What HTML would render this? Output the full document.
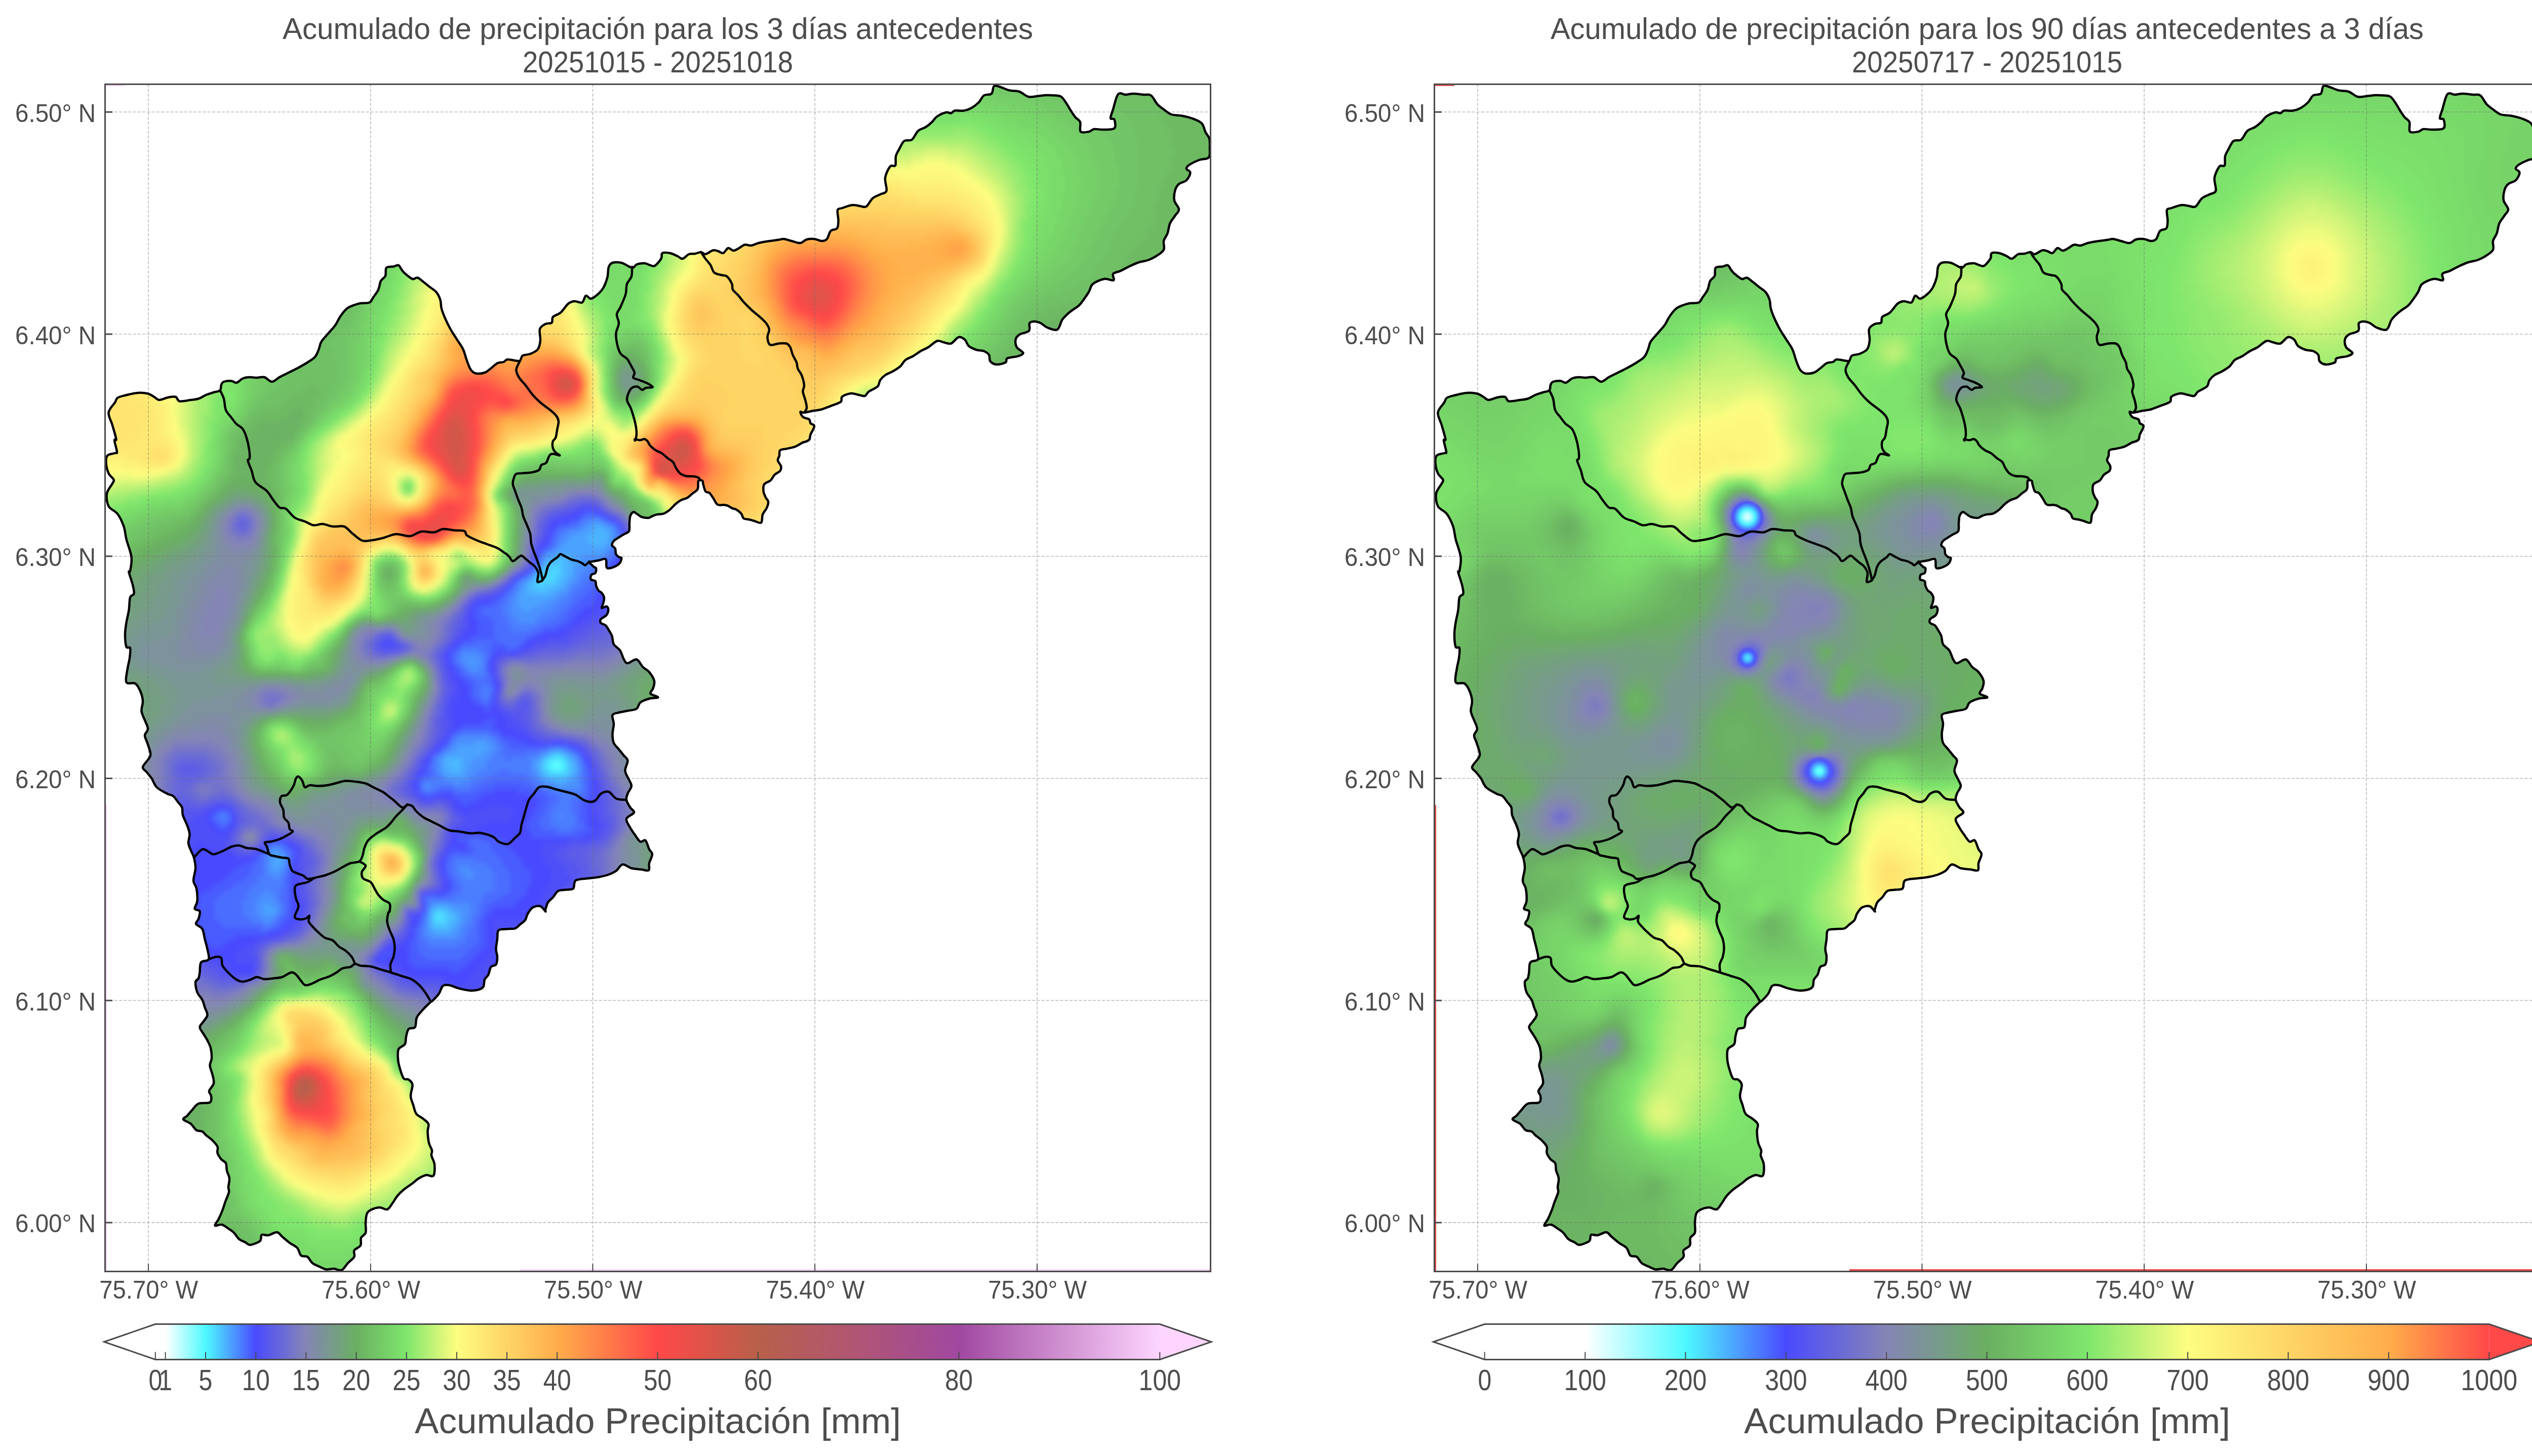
<!DOCTYPE html><html><head><meta charset="utf-8"><title>Precipitacion</title><style>html,body{margin:0;padding:0;background:#fff}svg{display:block}text{font-family:"Liberation Sans",sans-serif;fill:#4d4d4d}</style></head><body>
<svg width="5044" height="2876" viewBox="0 0 5044 2876">
<defs>
<path id="po" d="M257 1128C257.8 1123 260.8 1110.5 259.5 1100S252 1075 249.5 1065S247.4 1048.3 244.5 1040S237 1021.7 232 1015S218 1006.7 214.5 1000S209.8 982.5 211 975S219.8 959.6 222 955S225.8 950.8 224.5 947.5S217 940.4 214.5 935S209.9 920.8 209.5 915S209.1 903.3 212 900S223.8 896.2 227 895S231.2 896.7 231 892.5S226.2 874.2 226 870S230.2 872.5 229.5 867.5S224.5 848.8 222 840S213.7 822.5 214.5 815S224.1 799.8 227 795S228.7 788.3 232 786S240.3 782.7 247 781S264.5 776.6 272 776S286.6 776.2 292 777.5S300.8 781.9 304.5 784S309.9 789.8 314.5 790S326.6 786 332 785S343.2 782.8 347 784S349.5 791.5 354.5 792.5S370.8 790.8 377 790S387 789.2 392 787.5S402 782.1 407 780S417.4 776.5 422 775S432 773.5 434.5 771S435.8 762.8 437 760S438.7 755.2 442 754S452.8 752.2 457 752.5S463.2 756.8 467 756S475.3 749.3 479.5 747.5S487.4 745.2 492 745S502 746 507 746S517 743.7 522 745S532 754 537 754S547 747.8 552 745S561.2 740.4 567 737.5S580.3 731.1 587 727.5S601.2 719.8 607 716S618.2 709.3 622 705S627.4 695 629.5 690S631.6 680 634.5 675S642.4 665.4 647 660S657.8 648.3 662 642.5S668.2 630.4 672 625S679.9 613.8 684.5 610S694.9 604.3 699.5 602.5S707 599.8 712 599S725.3 599.4 729.5 597.5S734.1 591.7 737 587.5S744.5 577.9 747 572.5S749.7 559.6 752 555S759.2 549.3 761 545S760.3 532.1 763 529S773 527.3 777 526.5S784.3 523 787 524S790.9 529.8 793 532.5S795.9 536.9 799.5 540S810.3 549.6 814.5 551S820.8 547.4 824.5 548.5S832.8 554.3 837 557.5S845.3 564.2 849.5 567.5S858.7 573.3 862 577.5S867.8 587.1 869.5 592.5S870.3 603.8 872 610S876.6 623.3 879.5 630S885.8 643.3 889.5 650S897.8 663.3 902 670S911.2 682.9 914.5 690S919.5 705.8 922 712.5S926.6 725.8 929.5 730S934.9 736.5 939.5 737.5S952 737.7 957 736S965.3 730.6 969.5 727.5S977.8 719.6 982 717.5S991.2 716.2 994.5 715S997.8 710.4 1002 710S1015.3 712.1 1019.5 712.5S1024.9 714.2 1027 712.5S1028.7 704.8 1032 702.5S1042 701.1 1047 699S1058.7 694.4 1062 690S1066.3 679.2 1067 672.5S1064.3 655.4 1066 650S1073.1 642.1 1077 640S1087 639.8 1089.5 637.5S1089.1 629.3 1092 626S1102 621.8 1107 617.5S1117.4 603.8 1122 600S1129.9 595.4 1134.5 595S1145.8 599.3 1149.5 597.5S1154.1 585.2 1157 584S1162.8 590.7 1167 590S1177.8 583.8 1182 580S1189.1 572.9 1192 567.5S1197.8 554.2 1199.5 547.5S1200.3 532.2 1202 527.5S1205.3 520.4 1209.5 519S1222 518 1227 519S1235.8 523.3 1239.5 525S1246.4 529.5 1249.5 529S1254.1 523.5 1258 522S1268.8 519.8 1273 520S1279.7 522.7 1283 523.5S1289.2 527.1 1293 525S1303 515.2 1305.5 511S1305.1 501.8 1308 500S1318 499 1323 500S1333.8 504.2 1338 506S1344.2 511.7 1348 511S1356.3 503.7 1360.5 502S1369 501.7 1373 501S1381.2 497.8 1384.5 498S1389.1 502.6 1393 502S1403.8 495.5 1408 494.5S1414.7 495.1 1418 496S1424.7 501 1428 500S1434.7 490.8 1438 490S1444.7 494.8 1448 495S1454.2 492.9 1458 491S1466.3 484.5 1470.5 483.5S1478.4 485.6 1483 485S1493 481.3 1498 480S1508 477.8 1513 477S1523.8 475.6 1528 475S1534.7 474 1538 473.5S1543.8 471.6 1548 472S1557.6 474.7 1563 476S1575.5 480.5 1580.5 480S1588.4 474.3 1593 473S1603 471.5 1608 472S1618.8 476 1623 476S1630.1 475.3 1633 472S1637.2 459.5 1640.5 456S1650.5 454.3 1653 451S1655.3 442 1655.5 436S1652.8 419.2 1654 415S1658.2 412.7 1663 411S1677.2 405.7 1683 405S1693.4 406.5 1698 407S1706.3 410.5 1710.5 408S1718.4 396 1723 392S1733.4 386.5 1738 384S1748.8 382.5 1750.5 377S1746.8 359.1 1748 351S1754.7 332.5 1758 328.5S1766.2 330.3 1768 327S1767.8 313.8 1769 308.5S1772.8 300 1775.5 295S1781.3 281.7 1785.5 278.5S1795.9 279.3 1800.5 276S1808.4 262.7 1813 258.5S1823.4 253.9 1828 251S1836.8 244.5 1840.5 241S1845.9 233.2 1850.5 230S1863.4 223.1 1868 222S1875.1 224.1 1878 223.5S1881.3 219.3 1885.5 218.5S1897.6 219.3 1903 218.5S1913 216.2 1918 213.5S1928.8 206.2 1933 202S1938.8 191.3 1943 188.5S1954.7 188.1 1958 185S1960.1 172.2 1963 170S1970.5 170.6 1975.5 172S1986.8 177 1993 178.5S2006.8 178.9 2013 181S2024.7 189.5 2030.5 191S2042.2 190.5 2048 190S2059.7 188.2 2065.5 188S2078 188 2083 188.5S2091.8 188.5 2095.5 191S2102.6 199.3 2105.5 203.5S2110.1 211.4 2113 216S2119.7 226.8 2123 231S2131.2 236.2 2133 241S2131.1 256.8 2134 260S2146.1 260.8 2150.5 260S2155.9 255.7 2160.5 255S2171.3 256.2 2178 256S2196.8 256.8 2200.5 253.5S2201.8 239.3 2200.5 236S2193.4 236.8 2193 233.5S2195.5 223.9 2198 216S2203.8 190.8 2208 186S2218 187.2 2223 187S2232.2 185 2238 185S2252.2 186.4 2258 187S2268.4 185.3 2273 188.5S2281.3 201.4 2285.5 206S2293.4 212.7 2298 216S2307.2 223.9 2313 226S2326.3 227.2 2333 228.5S2346.3 231 2353 233.5S2368.4 238.9 2373 243.5S2378 256 2380.5 261S2386.6 268.5 2388 273.5S2389.2 284.8 2389 291S2390.5 306.8 2387 311S2374.5 313.5 2368 316S2352.2 323.1 2348 326S2342.6 331 2343 333.5S2350.5 337.2 2350.5 341S2346.8 352.2 2343 356S2331.8 360.2 2328 363.5S2322 370.6 2320.5 376S2317.8 389.8 2319 396S2327.8 408.5 2328 413.5S2323.4 421.4 2320.5 426S2313 435.2 2310.5 441S2307.6 455.2 2305.5 461S2299.2 470.6 2298 476S2300.5 488.5 2298 493.5S2288 502.7 2283 506S2273.8 511.4 2268 513.5S2254.2 516.4 2248 518.5S2236.3 523.2 2230.5 526S2218.4 532.5 2213 535S2200.3 537.9 2198 541S2201.9 551.8 2199 553.5S2187.3 549.8 2180.5 551S2163 556.8 2158 561S2153.4 571 2150.5 576S2143.8 586.4 2140.5 591S2135.1 599.3 2130.5 603.5S2118.4 611.4 2113 616S2102.2 625.2 2098 631S2093 648.3 2088 651S2073.4 649.1 2068 647S2059.7 640.5 2055.5 638.5S2046.8 635 2043 635S2034.8 635.4 2033 638.5S2035.3 649.8 2032 653.5S2017.4 658.1 2013 661S2006.3 666.8 2005.5 671S2005.5 681.7 2008 686S2020.1 694.1 2020.5 697S2014.7 702 2010.5 703.5S1999.2 705.2 1995.5 706S1989.7 706.8 1988 708.5S1988.8 714.1 1985.5 716S1973 720.4 1968 720S1958 716.7 1955.5 713.5S1955.1 704.3 1953 701S1947.2 695.2 1943 693.5S1933 692.7 1928 691S1916.8 686.8 1913 683.5S1908.8 673.9 1905.5 671S1897.6 664.8 1893 666S1883 676.8 1878 678.5S1867.6 676.8 1863 676S1855.5 671.8 1850.5 673.5S1838.4 682.7 1833 686S1823 690.6 1818 693.5S1808 700.6 1803 703.5S1792.2 707.7 1788 711S1782.2 719.8 1778 723.5S1768 730.6 1763 733.5S1752.2 738.1 1748 741S1740.5 747.2 1738 751S1736.8 759.8 1733 763.5S1719.7 770.4 1715.5 773.5S1711.3 780.9 1708 782S1700.1 780.8 1695.5 780S1685.9 776.4 1680.5 777S1666.3 780.8 1663 783.5S1663.8 790.6 1660.5 793.5S1649.2 798.5 1643 801S1628.8 806.8 1623 808.5S1613.8 809.9 1608 811S1592.6 814.6 1588 815S1580.9 812.1 1580.5 813.5S1582.6 821 1585.5 823.5S1595.5 826.4 1598 828.5S1598.8 833.8 1600.5 836S1608 838.2 1608 842S1602.2 854.1 1600.5 858.5S1600.1 866 1598 868.5S1590 872.6 1588 873.5S1588.9 872.2 1586 873.6S1575.5 880 1570.3 882.1S1559.6 884.9 1554.7 886.1S1543.2 886.9 1540.6 889.3S1539.8 896.8 1539 900.2S1535.3 906.2 1535.9 909.6S1541.3 917.2 1542.1 920.6S1542.7 927.1 1540.6 930S1532.7 934.7 1529.6 937.8S1525.2 945.7 1521.8 948.8S1511.6 953 1509.2 956.6S1507.2 966.3 1507.7 970.7S1510.8 979.8 1512.4 983.2S1516.8 987.7 1517.1 991.1S1515.8 999.4 1513.9 1003.6S1507.9 1011.3 1506.1 1016.1S1505.8 1030.3 1503 1032.4S1492.8 1029.7 1488.9 1028.7S1482.9 1026.9 1479.5 1026.2S1471.1 1025.9 1468.5 1024S1466.2 1017.4 1463.8 1014.6S1457.6 1008.6 1454.4 1006.7S1447.9 1004.9 1445 1003.6S1439.8 999.9 1437.2 998.9S1432.8 997.7 1429.4 997.3S1420.2 998.8 1416.8 996.7S1411.6 988.6 1409 984.8S1403.8 976.2 1401.2 973.8S1395.4 973.6 1393.3 970.7S1389.7 960.1 1388.6 956.6S1388.6 950.9 1387.1 949.7S1380.8 947 1379.2 949.7S1379.8 961.7 1377.7 966S1370.1 972.5 1366.7 975.4S1361 981.2 1357.3 983.2S1348.7 985.9 1344.8 987.9S1337.5 992.6 1333.8 995.8S1326.8 1003.6 1322.9 1006.7S1314.5 1013 1310.3 1014.6S1301.5 1015.3 1297.8 1016.1S1291.3 1018.1 1288.4 1019.3S1284.2 1022.8 1280.6 1023S1270.4 1022.2 1266.5 1020.8S1259.7 1016.1 1257.1 1014.6S1252.9 1010.6 1250.8 1011.4S1245.9 1015.6 1244.6 1019.3S1243.4 1028.4 1243 1033.4S1243.9 1045.4 1242.1 1049S1235.8 1052.9 1232 1055.3S1222.9 1060.9 1219.5 1063.1S1213.5 1066.4 1211.7 1068.8S1208 1074.8 1208.5 1077.2S1213.5 1080.6 1214.8 1083.5S1215.1 1091.6 1216.4 1094.4S1220.8 1099.4 1222.6 1100.7S1227.1 1100.4 1227.3 1102.3S1226 1109.1 1224.2 1111.7S1220 1116.1 1216.4 1117.9S1205.4 1122.4 1202.3 1122.6S1198.6 1122.5 1197.6 1119.5S1198.6 1106.6 1196 1104.5S1186.6 1106.1 1181.9 1107S1170.9 1109 1167.8 1109.5S1162.3 1108.4 1163.1 1110.1S1170.2 1117.4 1172.5 1119.5S1176.7 1120.5 1177.2 1122.6S1177.2 1129.9 1175.6 1132S1169.3 1133.1 1167.8 1135.2S1165.6 1142.5 1166.9 1144.6S1173.9 1145.6 1175.6 1147.7S1176.2 1154 1177.2 1157.1S1180.1 1164.1 1181.9 1166.5S1186.3 1168.8 1188.2 1171.2S1192.4 1177.2 1192.9 1180.6S1192.1 1188.1 1191.3 1191.5S1187.1 1199.9 1188.2 1200.9S1195.4 1197.3 1197.6 1197.8S1201.3 1201.2 1201.3 1204.1S1200 1211.9 1197.6 1215S1188.4 1220.3 1186.6 1222.9S1185 1228.6 1186.6 1230.7S1193.4 1233 1196 1235.4S1200.2 1241.3 1202.3 1244.8S1206.9 1251.5 1208.5 1256.1S1209.3 1267.7 1212 1272.5S1221.2 1280 1224.5 1285S1229.5 1298.3 1232 1302.5S1235.3 1310 1239.5 1310S1252 1301.2 1257 1302.5S1265.3 1313.3 1269.5 1317.5S1278.2 1322.9 1282 1327.5S1290.8 1339.6 1292 1345S1290.8 1355.8 1289.5 1360S1282.8 1367.1 1284.5 1370S1299.9 1375.8 1299.5 1377.5S1287.8 1378.3 1282 1380S1268.7 1384.2 1264.5 1387.5S1261.2 1397.2 1257 1400S1245.3 1402.8 1239.5 1404S1227 1406.1 1222 1407.5S1211.2 1408.8 1209.5 1412.5S1212 1423.8 1212 1430S1209.5 1443.8 1209.5 1450S1209.9 1462.5 1212 1467.5S1218.7 1475.8 1222 1480S1229.1 1488.8 1232 1492.5S1239.1 1497.5 1239.5 1502.5S1234.1 1516.2 1234.5 1522.5S1239.9 1535 1242 1540S1247.4 1547.9 1247 1552.5S1241.2 1562.9 1239.5 1567.5S1236.2 1575.4 1237 1580S1242 1590.8 1244.5 1595S1253.2 1601.2 1252 1605S1238.2 1612.5 1237 1617.5S1241.6 1629.6 1244.5 1635S1251.2 1645.4 1254.5 1650S1261.2 1660.8 1264.5 1662.5S1271.6 1657.5 1274.5 1660S1279.8 1672.9 1282 1677.5S1288 1682.9 1288 1687.5S1283.2 1699.8 1282 1705S1283.5 1716.9 1281 1719S1272.7 1718.2 1267 1717.5S1253.2 1716.7 1247 1715S1234.5 1706.7 1229.5 1707.5S1221.6 1716.7 1217 1720S1207.8 1725.4 1202 1727.5S1188.7 1731.2 1182 1732.5S1169.5 1733.9 1162 1735S1142 1735.7 1137 1739S1135.3 1751.9 1132 1755S1122 1756.7 1117 1757.5S1106.2 1757.5 1102 1760S1095.3 1768.8 1092 1772.5S1084.5 1778.3 1082 1782.5S1077.8 1794.6 1077 1797.5S1078.7 1801.2 1077 1800S1071.2 1791.2 1067 1790S1056.2 1790 1052 1792.5S1044.5 1800.8 1042 1805S1039.5 1814 1037 1817.5S1030.3 1823.2 1027 1826S1021.2 1832.5 1017 1834S1007.4 1834.4 1002 1835S987.8 1834.2 984.5 1837.5S982.8 1848.8 982 1855S979.5 1869.2 979.5 1875S982 1885 982 1890S981.6 1901.7 979.5 1905S972 1906.7 969.5 1910S966.6 1920.8 964.5 1925S958.7 1931 957 1935S956.6 1945.7 954.5 1949S949.1 1953.8 944.5 1955S933.2 1956.9 927 1956.5S913.7 1954.2 907 1952.5S892.4 1946.8 887 1946S877.8 1944.8 874.5 1947.5S870.3 1957.7 867 1962.5S857.4 1973.6 854.5 1976.5S852.8 1976.9 849.5 1980S838.9 1990 834.5 1995S825.5 2004.3 823 2010S822.2 2025.2 819.5 2029S809.9 2029.4 807 2032.5S803.2 2042.5 802 2047.5S802 2058.3 799.5 2062.5S789.2 2067.5 787 2072.5S785.6 2086.2 786 2092.5S787.7 2103.8 789.5 2110S794.1 2126.2 797 2130S804.1 2130.4 807 2132.5S813.8 2137.1 814.5 2142.5S810.8 2158.3 811 2165S814.2 2176.7 816 2182.5S818.9 2195.6 822 2200S830.5 2205.7 834.5 2209S844.3 2215.7 846 2220S844.3 2228.8 844.5 2235S845.6 2251.2 847 2257.5S852.2 2268.3 853 2272.5S851.2 2277.9 852 2282.5S857.3 2293.3 858 2300S858.7 2319 856 2322.5S846.8 2320.2 842 2321S831.6 2324.8 827 2327.5S819.5 2333.8 814.5 2337.5S802 2345.8 797 2350S788.2 2357.9 784.5 2362.5S777.8 2373.1 774.5 2377.5S768.7 2387.8 764.5 2389S754.9 2384.8 749.5 2385S736.2 2387.9 732 2390S726.2 2393.3 724.5 2397.5S722.4 2408.8 722 2415S723.5 2430 722 2435S714.7 2440.8 713 2445S714.2 2455.8 712 2460S701.6 2466.2 699.5 2470S701.6 2478.3 699.5 2482.5S691.2 2490.6 687 2495S679.1 2507.2 674.5 2509S664.5 2506.2 659.5 2506S649.1 2508.1 644.5 2507.5S636.6 2504.6 632 2502.5S621.2 2498.3 617 2495S610.8 2485 607 2482.5S597.8 2482.9 594.5 2480S590.8 2469.2 587 2465S577 2458.8 572 2455S561.2 2446 557 2442.5S551.6 2434.4 547 2434S534.5 2439.2 529.5 2440S519.5 2437.3 517 2439S516.2 2447.3 514.5 2450S510.6 2453.5 507 2455S496.8 2459.2 493 2459S488 2455.9 484.5 2454S475.8 2450.7 472 2447.5S465.3 2438.3 462 2435S456 2430.2 452 2427.5S442.6 2420.1 438 2419S425.5 2422.9 424.5 2421S429.5 2412.7 432 2407.5S437.4 2395.4 439.5 2390S442.4 2380.8 444.5 2375S450.9 2360 452 2355S450.8 2349.6 451 2345S453.5 2332.9 453 2327.5S449.2 2317.5 448 2312.5S447.8 2301.2 446 2297.5S439.8 2293.3 437 2290S430.8 2281.7 429.5 2277.5S431.2 2269.2 429.5 2265S423.2 2256.2 419.5 2252.5S410.3 2245.4 407 2242.5S402.7 2236.7 399.5 2235S391.8 2235 388 2232.5S381.3 2223.6 377 2220S363.2 2213.7 362 2211S366.6 2207.1 369.5 2204S375.8 2196.5 379.5 2192.5S386.2 2182.5 392 2180S410.3 2180 414.5 2177.5S417.2 2168.8 417 2165S412.2 2159.2 413 2155S420.9 2145.4 422 2140S420.8 2128.3 419.5 2122.5S414.8 2110.4 414.5 2105S417.8 2095.8 418 2090S417.4 2075.8 416 2070S411.8 2059.6 409.5 2055S404.5 2046.8 402 2042.5S394.5 2033.2 394.5 2029S399.5 2021.5 402 2017.5S409.1 2009.6 409.5 2005S406.2 1995 404.5 1990S402 1980 399.5 1975S391.8 1965.8 389.5 1960S385.6 1944.6 386 1940S390.6 1935.8 392 1932.5S393.7 1925.2 394.5 1920S394.1 1905.2 397 1901S409.9 1899.3 412 1895S410.8 1881.7 409.5 1875S406.2 1861.7 404.5 1855S402.4 1840 399.5 1835S388.2 1828.3 387 1825S390.8 1819.2 392 1815S395.8 1803.3 394.5 1800S385.3 1798.3 384.5 1795S388.9 1786.7 389.5 1780S389.2 1761.7 388 1755S382.3 1746.7 382 1740S385.8 1722.7 386 1715S384.5 1699.8 383 1694S378.8 1684.8 377 1680S372.4 1670.4 372 1665S374.9 1653.3 374.5 1647.5S371.8 1636.2 369.5 1630S362.7 1615.8 361 1610S361 1599.2 359.5 1595S354.9 1588.8 352 1585S345.8 1575.4 342 1572.5S334.9 1570.4 329.5 1567.5S314.5 1560 309.5 1555S302.8 1542.5 299.5 1537.5S292.4 1528.8 289.5 1525S281.2 1519.6 282 1515S292 1502.1 294.5 1497.5S297.6 1492.5 297 1487.5S292.8 1473.3 291 1467.5S285.8 1457.1 286 1452.5S291.8 1444.6 292 1440S289.1 1430.8 287 1425S280.3 1411.7 279.5 1405S282.4 1391.7 282 1385S279.5 1370.8 277 1365S271.6 1352.9 267 1350S252 1352.5 249.5 1347.5S250.9 1327.9 252 1320S255.2 1306.7 256 1300S258.1 1283.8 257 1280S251.2 1282.1 249.5 1277.5S247 1260.4 247 1252.5S248.2 1237.9 249.5 1230S253.2 1213.3 254.5 1205S255.3 1185.4 257 1180S263.7 1176.7 264.5 1172.5S263.7 1162.1 262 1155S255.3 1134.5 254.5 1130S256.2 1133 257 1128Z"/>
<path id="pi" d="M1248 527C1247.8 530.2 1248.7 540.3 1247 546S1239.9 555.2 1238 561S1237.6 573.5 1235.5 581S1228.4 599.3 1225.5 606S1218.6 615.6 1218 621S1222.2 632.2 1222 638.5S1217 651.4 1216.5 658.5S1217.5 674.3 1219 681S1222.3 693.9 1225.5 698.5S1234.7 704.8 1238 708.5S1243 716.4 1245.5 721S1252.2 731.8 1253 736S1248.8 743.5 1250.5 746S1258.4 749.2 1263 751S1273.7 754.8 1278 757S1289.4 763 1289 764.5S1279 765.1 1275.5 766S1270.9 770.4 1268 770S1261.8 763.8 1258 763.5S1248.8 764.3 1245.5 768.5S1238 782.2 1238 788.5S1243.4 800.6 1245.5 806S1248.8 815.2 1250.5 821S1254.4 834.8 1255.5 841S1257.2 853.7 1257 858.5S1255 868.5 1254.5 870S1252.5 867.4 1254 867.3S1260.2 869.5 1263.4 869.5S1270.1 866.9 1272.7 867.3S1277.2 870 1279 872S1281.1 877 1283.7 879.9S1290.8 886.7 1294.7 889.3S1303.3 892.9 1307.2 895.5S1314.5 902.1 1318.2 904.9S1326.3 909.4 1329.1 912.8S1333 921.5 1335.4 925.3S1340.1 932.8 1343.2 935.3S1349.8 939.4 1354.2 940.3S1365.7 940.4 1369.9 941S1377.2 942.2 1379.2 943.5S1381.9 947.9 1382.4 948.8M1384.5 498C1385.9 500.2 1389.9 506.8 1393 511S1400.1 518.9 1403 523.5S1406.8 535.2 1410.5 538.5S1421.3 542.2 1425.5 543.5S1432.2 543.1 1435.5 546S1443.6 556.7 1445.5 561S1444.9 568.2 1447 572S1454.5 579.5 1458 583.5S1463.4 591 1468 596S1480.1 608.5 1485.5 613.5S1495.9 621.8 1500.5 626S1509.9 634.3 1513 638.5S1518.6 646.4 1519 651S1515.2 661 1515.5 666S1516.8 678.9 1520.5 681S1532.6 678.9 1538 678.5S1549.2 677.2 1553 678.5S1558.4 682.2 1560.5 686S1563.4 696 1565.5 701S1571.3 711.4 1573 716S1573.8 724.3 1575.5 728.5S1580.9 735.6 1583 741S1587.6 755.6 1588 761S1585.1 768.5 1585.5 773.5S1589.2 785.6 1590.5 791S1593.4 802 1593 806S1588.8 813.5 1588 815M434.5 771C435.8 773.8 440.1 781 442 787.5S443.5 803.8 446 810S453.5 820.4 457 825S463.2 833.8 467 837.5S476.2 842.9 479.5 847.5S484.9 858.3 487 865S491 880.8 492 887.5S493.4 901.2 493 905S488.8 905.8 489.5 910S494.5 922.9 497 930S499.5 945.8 504.5 952.5S521.2 964.2 527 970S535.3 982.1 539.5 987.5S547.8 999.6 552 1002.5S559.5 1001.7 564.5 1005S575.8 1018.3 582 1022.5S595.8 1027.5 602 1030S613.7 1036.7 619.5 1037.5S630.8 1034.6 637 1035S649.9 1039.2 657 1040S673.2 1037.9 679.5 1040S688.7 1047.9 694.5 1052.5S708.2 1065 714.5 1067.5S724.9 1068.3 732 1067.5S748.7 1064.6 757 1062.5S773.2 1055.6 782 1055S801.2 1059.8 809.5 1059S824.1 1051.2 832 1050S849.9 1052.3 857 1051.5S867.8 1045.7 874.5 1045S889.9 1046.8 897 1047.5S912.8 1047.3 917 1049S917.8 1054.4 922 1057.5S935.3 1064.6 942 1067.5S955.3 1072.5 962 1075S976.2 1079.6 982 1082.5S994 1090.5 997 1092.5S998.7 1093.1 1000.2 1094.4S1004.4 1098.4 1006.5 1100.7S1009.9 1108.5 1012.8 1108.5S1020.9 1102.5 1023.7 1100.7S1027.6 1097.1 1030 1097.6S1035 1101.5 1037.8 1103.8S1044.1 1109.1 1047.2 1111.7S1054 1116.1 1056.6 1119.5S1062.1 1127.1 1062.9 1132S1060 1146.8 1061.3 1149.3S1069.1 1147.4 1070.7 1147.1M1027 712.5C1025.8 715.4 1019.9 724.6 1019.5 730S1021.6 740 1024.5 745S1032.4 754.2 1037 760S1047 774.2 1052 780S1061 789.8 1067 795S1082.6 806.5 1087.9 811S1096.4 818.3 1098.9 821.9S1102.7 828.7 1103 832.9S1101.4 841.8 1100.5 847S1098.8 860 1097.3 864.2S1092.6 868.7 1091.7 872S1090.8 880.9 1091.7 884.6S1095.1 891.5 1097.3 894S1106.2 899.2 1105.2 899.6S1094.5 896.4 1091.1 896.5S1086.9 897.3 1084.8 900.2S1081.2 911.3 1078.5 914.3S1071.5 916.1 1069.1 918.4S1067.6 926 1064.4 928.4S1055.8 932.1 1050.4 933.1S1036.8 934.2 1031.6 934.7S1021.9 934.4 1019 936.3S1015.4 942.3 1014.3 945.7S1012.2 952.4 1012.8 956.6S1015.6 965.5 1017.5 970.7S1021.6 982.5 1023.7 987.9S1028.4 998.4 1030 1003.6S1031.3 1013.5 1033.1 1019.3S1038.6 1032.1 1041 1038.1S1045.9 1049.5 1047.2 1055.3S1047.7 1067 1048.8 1072.5S1051.7 1083 1053.5 1088.2S1057.7 1098.1 1059.7 1103.8S1064.2 1116.4 1066 1122.6S1069.9 1137.4 1070.7 1141.4S1070.7 1146.1 1070.7 1147.1M1070.7 1147.1C1071.8 1145.3 1075.2 1141.3 1077 1136.7S1079.8 1123.9 1081.7 1119.5S1084.8 1113.2 1087.9 1110.1S1097.3 1103.3 1100.5 1100.7S1104.1 1094.7 1106.7 1094.4S1112.5 1097.3 1116.1 1099.1S1124.5 1103.8 1128.7 1105.4S1137.5 1107.2 1141.2 1108.5S1148.2 1111.9 1150.6 1113.2S1153.5 1116.6 1155.3 1116.4S1160.2 1112.7 1161.6 1111.7S1162.9 1110.4 1163.1 1110.1M383 1694C385.8 1691.2 394.7 1679.4 399.5 1677.5S408.2 1680.8 412 1682.5S417 1687.9 422 1687.5S436.2 1682.5 442 1680S452 1674.2 457 1672.5S467 1669.6 472 1670S481.2 1673.8 487 1675S499.5 1675.4 507 1677.5S527.8 1685.8 532 1687.5M1237 1580C1233.7 1579.6 1222.8 1580.2 1217 1577.5S1207 1565.7 1202 1564S1191.2 1564.8 1187 1567.5S1180.3 1577.2 1177 1580S1171.2 1584 1167 1584S1157 1582.3 1152 1580S1142.8 1572.7 1137 1570S1123.7 1565.8 1117 1564S1103.2 1560.7 1097 1559S1084.9 1554.7 1079.5 1554S1068.7 1552.8 1064.5 1555S1057.8 1563.3 1054.5 1567.5S1047 1575.4 1044.5 1580S1041.2 1589.6 1039.5 1595S1036.2 1606.7 1034.5 1612.5S1030.8 1624.6 1029.5 1630S1029.1 1640.8 1027 1645S1020.3 1651.7 1017 1655S1009.9 1662.9 1007 1665S1003.2 1667.9 999.5 1667.5S988.2 1664.6 984.5 1662.5S979.9 1657.1 977 1655S972 1651.7 967 1650S953.2 1645.7 947 1645S936.2 1646.4 929.5 1646S914.1 1643.5 907 1642.5S893.7 1642.1 887 1640S872.8 1632.9 867 1630S857 1625 852 1622.5S842 1618.3 837 1615S825.8 1606.2 822 1602.5S817.4 1594.8 814.5 1592.5S806.2 1589.6 804.5 1589M804.5 1589C802.8 1590 798.7 1596.1 794.5 1595S784.1 1586.2 779.5 1582.5S770.8 1575.4 767 1572.5S762 1567.9 757 1565S742.8 1557.9 737 1555S727.8 1549.3 722 1547.5S708.7 1544.8 702 1544S687.8 1542.2 682 1542.5S672.8 1544.6 667 1546S653.7 1549.9 647 1551S632.8 1552.5 627 1552.5S616.2 1550.6 612 1551S604.5 1556.4 602 1555S599.1 1546 597 1542.5S591.6 1534.8 589.5 1534S586.2 1534.4 584.5 1537.5S582.4 1547.1 579.5 1552.5S570.9 1566.7 567 1570S558.3 1570 556 1572.5S552.4 1580.4 553 1585S558.2 1595 559.5 1600S559.3 1610.8 561 1615S567.7 1621.2 569.5 1625S570.6 1634.6 572 1637.5S578.8 1640.4 578 1642.5S571.3 1647.5 567 1650S557.4 1655.4 552 1657.5S539.3 1661.4 534.5 1662.5S524.2 1662.3 523 1664S525.5 1668.6 527 1672.5S529.5 1684.4 532 1687.5S537.8 1689.9 542 1691S552.4 1693.2 557 1694S567 1693.8 569.5 1696S570.8 1703.5 572 1707.5S574.5 1717.1 577 1720S583.2 1723.3 587 1725S596.2 1728.2 599.5 1730S603.2 1735.3 607 1736S619.5 1734.3 622 1734M804.5 1589C802.8 1590.8 798.2 1596.1 794.5 1600S785.8 1608.3 782 1612.5S775.3 1621.2 772 1625S767 1631.2 762 1635S747.8 1643.3 742 1647.5S730.8 1655.4 727 1660S721.3 1670 719.5 1675S717.7 1685.6 716 1690S713.5 1699 709.5 1701.5S697.4 1703.2 692 1705S682 1709.8 677 1712.5S667.8 1718.2 662 1721S648.7 1726.8 642 1729S627.8 1731.8 622 1734S612.8 1740.2 607 1742.5S591.2 1745.4 587 1747.5S582.4 1750.4 582 1755S583.2 1769.2 584.5 1775S589.9 1784 589.5 1790S581.6 1806.7 582 1811S588.2 1815.5 592 1816S601.3 1815.2 604.5 1814S610.2 1808 611 1809S608.5 1816.5 609.5 1820S613.7 1826.2 617 1830S625.3 1838.8 629.5 1842.5S637.4 1850 642 1852.5S652.4 1854.6 657 1857.5S665.3 1866.7 669.5 1870S677.8 1874.2 682 1877.5S691.3 1885.6 694.5 1890S699.9 1901.7 701 1904M709.5 1701.5C711.6 1702.9 721.2 1706.5 722 1710S715.3 1718.3 714.5 1722.5S714.1 1731.7 717 1735S728.2 1739.2 732 1742.5S737 1750.8 739.5 1755S744.1 1763.8 747 1767.5S753.2 1774.6 757 1777.5S767.4 1781.2 769.5 1785S769.9 1797.1 769.5 1800S767.8 1799.2 767 1802.5S764.1 1814.2 764.5 1820S767.4 1831.7 769.5 1837.5S775.3 1849.2 777 1855S779.5 1866.7 779.5 1872.5S778.4 1884.6 777 1890S771.8 1899.8 771 1905S771.8 1918.3 772 1921M412 1895C414.5 1894.2 422.8 1890.4 427 1890S434.9 1889.6 437 1892.5S437 1902.5 439.5 1907.5S447.4 1917.9 452 1922.5S462.4 1932.2 467 1935S474.9 1939 479.5 1939S489.9 1936.5 494.5 1935S502.4 1930.2 507 1930S516.6 1933.6 522 1934S533.7 1933.2 539.5 1932.5S551.2 1931.9 557 1930S569.9 1921.8 574.5 1921S581.2 1922.2 584.5 1925S591.4 1934 594.5 1937.5S599.2 1945.2 603 1946S612.2 1944.3 617 1942.5S626.6 1937.2 632 1935S644.1 1931.3 649.5 1929S659.9 1923.8 664.5 1921S672.4 1914.3 677 1912.5S688 1911.4 692 1910S697.7 1904.4 701 1904S706.8 1906.7 712 1907.5S725.3 1907.8 732 1909S745.3 1913 752 1915S765.3 1918.9 772 1921S785.3 1925.3 792 1927.5S806.2 1931.1 812 1934S822.4 1940.7 827 1945S835.8 1954.8 839.5 1960S847.8 1973.8 849.5 1976.5"/>
<clipPath id="cl"><use href="#po"/></clipPath>
<clipPath id="cr"><use href="#po" x="2625"/></clipPath>
<linearGradient id="gl" x1="0" x2="1" y1="0" y2="0"><stop offset="0.0000" stop-color="#ffffff"/><stop offset="0.0100" stop-color="#ffffff"/><stop offset="0.0500" stop-color="#4df9ff"/><stop offset="0.1000" stop-color="#4a4aff"/><stop offset="0.1500" stop-color="#8585b5"/><stop offset="0.2000" stop-color="#6aaf62"/><stop offset="0.2500" stop-color="#7ee66c"/><stop offset="0.3000" stop-color="#fdfd80"/><stop offset="0.4000" stop-color="#ffad4a"/><stop offset="0.5000" stop-color="#ff4848"/><stop offset="0.6000" stop-color="#b8604a"/><stop offset="0.7000" stop-color="#b05575"/><stop offset="0.8000" stop-color="#a048a0"/><stop offset="1.0000" stop-color="#fdd5ff"/></linearGradient>
<linearGradient id="gr" x1="0" x2="1" y1="0" y2="0"><stop offset="0.0000" stop-color="#ffffff"/><stop offset="0.1000" stop-color="#ffffff"/><stop offset="0.2000" stop-color="#4df9ff"/><stop offset="0.3000" stop-color="#4a4aff"/><stop offset="0.4000" stop-color="#8585b5"/><stop offset="0.5000" stop-color="#6aaf62"/><stop offset="0.6000" stop-color="#7ee66c"/><stop offset="0.7000" stop-color="#fdfd80"/><stop offset="0.8000" stop-color="#fed565"/><stop offset="0.9000" stop-color="#ffad4a"/><stop offset="1.0000" stop-color="#ff4848"/></linearGradient>
<filter id="bl" x="-5%" y="-5%" width="110%" height="110%"><feGaussianBlur stdDeviation="0.625"/></filter>
<radialGradient id="sp0"><stop offset="0" stop-color="#e4feff" stop-opacity="1"/><stop offset="0.22" stop-color="#a6fcff" stop-opacity="1"/><stop offset="0.45" stop-color="#4df0ff" stop-opacity="1"/><stop offset="0.68" stop-color="#4b8cff" stop-opacity="1"/><stop offset="0.85" stop-color="#4a4aff" stop-opacity="0.7"/><stop offset="1" stop-color="#5656f0" stop-opacity="0"/></radialGradient>
<radialGradient id="sp1"><stop offset="0" stop-color="#74faff" stop-opacity="1"/><stop offset="0.2" stop-color="#56f9ff" stop-opacity="1"/><stop offset="0.45" stop-color="#4caaff" stop-opacity="1"/><stop offset="0.7" stop-color="#4a5cff" stop-opacity="0.9"/><stop offset="0.88" stop-color="#5050f8" stop-opacity="0.5"/><stop offset="1" stop-color="#5656f0" stop-opacity="0"/></radialGradient>
<radialGradient id="sp2"><stop offset="0" stop-color="#4de4ff" stop-opacity="1"/><stop offset="0.3" stop-color="#4cbcff" stop-opacity="1"/><stop offset="0.6" stop-color="#4a64ff" stop-opacity="0.9"/><stop offset="0.85" stop-color="#4d4dfb" stop-opacity="0.4"/><stop offset="1" stop-color="#5050f8" stop-opacity="0"/></radialGradient>
</defs>
<rect width="5044" height="2876" fill="#fff"/>
<g clip-path="url(#cl)">
<g transform="translate(200 164) scale(8)" fill="none" stroke-width="1" filter="url(#bl)"><path stroke="#63faff" d="M112 168h1M112 169h1"/><path stroke="#4df9ff" d="M111 168h1M113 168h1M111 169h1M113 169h1"/><path stroke="#4de8ff" d="M111 167h3M110 168h1M110 169h1M114 169h1M111 170h3M83 206h1"/><path stroke="#4cd6ff" d="M111 120h2M110 121h3M108 122h4M108 123h4M108 124h1M112 166h1M110 167h1M114 167h1M109 168h1M114 168h1M109 169h1M110 170h1M114 170h1M82 205h3M82 206h1M84 206h1M82 207h3"/><path stroke="#4cc4ff" d="M112 118h2M110 119h4M109 120h2M113 120h1M108 121h2M113 121h1M107 122h1M112 122h2M107 123h1M112 123h1M106 124h2M109 124h3M107 125h3M111 166h1M113 166h1M109 167h1M87 168h1M115 168h1M115 169h1M109 170h1M115 170h1M110 171h5M83 204h1M85 205h1M85 206h2M85 207h1M82 208h4"/><path stroke="#4cb3ff" d="M122 110h2M121 111h4M120 112h5M120 113h5M121 114h3M112 117h4M110 118h2M114 118h2M109 119h1M114 119h2M114 120h2M114 121h2M114 122h1M106 123h1M113 123h2M105 124h1M112 124h2M105 125h2M110 125h3M105 126h6M110 166h1M114 166h1M85 167h4M115 167h1M85 168h2M88 168h1M108 168h1M116 168h1M85 169h4M108 169h1M116 169h1M86 170h3M108 170h1M116 170h1M109 171h1M115 171h1M111 172h4M43 192h1M82 204h1M84 204h2M81 205h1M86 205h1M81 206h1M87 206h1M81 207h1M86 207h2M81 208h1M86 208h1M82 209h4"/><path stroke="#4ca2ff" d="M121 109h3M120 110h2M124 110h2M118 111h3M125 111h1M116 112h4M125 112h1M115 113h5M125 113h1M114 114h7M124 114h2M113 115h12M112 116h12M110 117h2M116 117h3M109 118h1M116 118h2M116 119h2M108 120h1M116 120h1M107 121h1M116 121h1M106 122h1M115 122h2M105 123h1M115 123h1M104 124h1M114 124h1M104 125h1M113 125h2M103 126h2M111 126h2M103 127h9M103 128h7M103 129h5M104 130h2M91 143h1M92 163h3M88 164h8M87 165h8M111 165h3M85 166h9M109 166h1M115 166h1M84 167h1M89 167h3M108 167h1M116 167h1M84 168h1M89 168h2M107 168h1M84 169h1M89 169h2M107 169h1M117 169h1M84 170h2M89 170h1M117 170h1M85 171h5M108 171h1M116 171h1M109 172h2M115 172h2M112 173h3M42 190h2M42 191h3M42 192h1M44 192h1M42 193h3M42 194h2M40 203h2M82 203h4M40 204h3M81 204h1M86 204h2M40 205h3M87 205h2M88 206h1M88 207h1M87 208h1M81 209h1M86 209h2M82 210h5"/><path stroke="#4b90ff" d="M121 108h2M119 109h2M124 109h1M118 110h2M126 110h1M115 111h3M126 111h1M114 112h2M126 112h1M113 113h2M126 113h1M113 114h1M126 114h1M112 115h1M125 115h1M110 116h2M124 116h1M109 117h1M119 117h5M118 118h5M108 119h1M118 119h3M117 120h3M117 121h2M117 122h1M104 123h1M116 123h2M103 124h1M115 124h2M103 125h1M115 125h1M102 126h1M113 126h2M102 127h1M112 127h2M101 128h2M110 128h3M101 129h2M108 129h4M101 130h3M106 130h5M101 131h8M102 132h6M103 133h4M89 141h4M89 142h5M89 143h2M92 143h2M90 144h4M91 145h2M88 162h8M87 163h5M95 163h2M86 164h2M96 164h2M85 165h2M95 165h2M110 165h1M114 165h1M84 166h1M94 166h3M108 166h1M116 166h1M83 167h1M92 167h4M106 167h2M117 167h1M83 168h1M91 168h4M106 168h1M117 168h1M83 169h1M91 169h4M106 169h1M83 170h1M90 170h3M106 170h2M84 171h1M90 171h2M107 171h1M117 171h1M85 172h6M108 172h1M117 172h1M80 173h1M87 173h2M109 173h3M115 173h3M80 174h1M112 174h6M113 181h1M42 189h2M41 190h1M44 190h1M41 191h1M45 191h1M41 192h1M45 192h1M41 193h1M45 193h1M41 194h1M44 194h1M88 194h3M41 195h4M89 195h3M42 196h2M90 196h2M40 200h2M39 201h4M38 202h5M38 203h2M42 203h2M81 203h1M86 203h5M38 204h2M43 204h1M88 204h3M38 205h2M43 205h1M89 205h2M39 206h4M80 206h1M89 206h2M40 207h2M80 207h1M89 207h1M80 208h1M88 208h2M80 209h1M88 209h1M80 210h2M87 210h2M81 211h7"/><path stroke="#4b7eff" d="M119 108h2M123 108h1M118 109h1M125 109h1M115 110h3M113 111h2M127 111h1M113 112h1M127 112h1M112 113h1M127 113h1M112 114h1M111 115h1M126 115h1M109 116h1M125 116h1M124 117h2M108 118h1M123 118h2M121 119h3M107 120h1M120 120h3M106 121h1M119 121h3M105 122h1M118 122h3M103 123h1M118 123h2M102 124h1M117 124h2M102 125h1M116 125h2M101 126h1M115 126h2M100 127h2M114 127h2M100 128h1M113 128h3M99 129h2M112 129h3M99 130h2M111 130h3M99 131h2M109 131h4M100 132h2M108 132h4M100 133h3M107 133h3M101 134h7M101 135h5M89 140h5M88 141h1M93 141h2M88 142h1M94 142h1M88 143h1M94 143h1M89 144h1M94 144h1M90 145h1M93 145h2M91 146h4M93 147h1M94 149h1M94 150h2M94 151h2M94 152h1M88 161h8M87 162h1M96 162h2M86 163h1M97 163h1M98 164h1M112 164h1M84 165h1M97 165h2M108 165h2M115 165h1M83 166h1M97 166h2M105 166h3M117 166h1M82 167h1M96 167h4M101 167h5M82 168h1M95 168h11M118 168h1M82 169h1M95 169h11M118 169h1M82 170h1M93 170h5M101 170h5M118 170h1M83 171h1M92 171h4M105 171h2M118 171h1M81 172h4M91 172h3M106 172h2M118 172h1M79 173h1M81 173h6M89 173h3M107 173h2M118 173h1M79 174h1M81 174h2M87 174h4M109 174h3M118 174h1M80 175h1M111 175h8M113 176h5M113 177h3M113 178h3M112 179h4M111 180h5M29 181h2M111 181h2M114 181h3M30 182h1M111 182h6M111 183h6M113 184h3M41 189h1M44 189h1M45 190h1M40 191h1M40 192h1M87 192h5M40 193h1M87 193h8M40 194h1M45 194h1M87 194h1M91 194h5M40 195h1M45 195h1M87 195h2M92 195h5M39 196h3M44 196h1M88 196h2M92 196h5M39 197h6M88 197h9M38 198h7M89 198h8M37 199h7M89 199h8M36 200h4M42 200h2M89 200h6M36 201h3M43 201h1M87 201h7M35 202h3M43 202h1M80 202h14M35 203h3M44 203h1M91 203h2M35 204h3M44 204h1M80 204h1M91 204h2M35 205h3M44 205h1M80 205h1M91 205h2M36 206h3M43 206h1M91 206h1M37 207h3M42 207h1M90 207h2M40 208h2M79 208h1M90 208h2M79 209h1M89 209h2M79 210h1M89 210h2M79 211h2M88 211h2M80 212h10M81 213h7"/><path stroke="#4b6dff" d="M119 107h4M118 108h1M124 108h1M116 109h2M126 109h1M113 110h2M127 110h1M112 111h1M112 112h1M111 113h1M111 114h1M127 114h1M110 115h1M127 115h1M126 116h1M108 117h1M126 117h1M125 118h1M107 119h1M124 119h1M123 120h2M122 121h2M104 122h1M121 122h2M120 123h2M119 124h3M101 125h1M118 125h3M100 126h1M117 126h3M99 127h1M116 127h3M98 128h2M116 128h2M97 129h2M115 129h2M94 130h5M114 130h2M94 131h5M113 131h2M96 132h4M112 132h3M97 133h3M110 133h4M97 134h4M108 134h4M97 135h4M106 135h3M97 136h10M97 137h8M92 138h5M98 138h6M89 139h7M100 139h3M88 140h1M94 140h2M87 141h1M95 141h1M87 142h1M95 142h1M87 143h1M88 144h1M89 145h1M89 146h2M95 146h1M91 147h2M94 147h2M92 148h4M92 149h2M95 149h2M92 150h2M96 150h1M92 151h2M93 152h1M95 152h1M94 153h2M89 160h7M87 161h1M96 161h2M86 162h1M98 162h1M98 163h2M85 164h1M99 164h2M110 164h2M113 164h2M99 165h9M116 165h1M82 166h1M99 166h6M100 167h1M118 167h1M81 168h1M81 169h1M119 169h1M81 170h1M98 170h3M119 170h1M81 171h2M96 171h9M119 171h1M79 172h2M94 172h12M119 172h1M92 173h5M104 173h3M119 173h1M83 174h4M91 174h3M106 174h3M119 174h1M79 175h1M81 175h2M87 175h5M109 175h2M119 175h1M110 176h3M118 176h2M111 177h2M116 177h3M110 178h3M116 178h2M110 179h2M116 179h2M29 180h2M109 180h2M116 180h2M28 181h1M31 181h1M109 181h2M117 181h1M28 182h2M31 182h1M108 182h3M117 182h1M29 183h2M108 183h3M117 183h2M109 184h4M116 184h3M112 185h5M91 187h3M42 188h3M91 188h5M45 189h1M92 189h4M40 190h1M46 190h1M92 190h5M39 191h1M46 191h1M86 191h12M39 192h1M46 192h1M86 192h1M92 192h7M38 193h2M46 193h1M85 193h2M95 193h4M37 194h3M46 194h1M85 194h2M96 194h4M37 195h3M86 195h1M97 195h4M36 196h3M45 196h1M86 196h2M97 196h4M35 197h4M45 197h1M87 197h1M97 197h4M33 198h5M45 198h1M87 198h2M97 198h4M32 199h5M44 199h2M87 199h2M97 199h4M30 200h6M44 200h2M86 200h3M95 200h6M29 201h7M44 201h2M80 201h3M84 201h3M94 201h5M28 202h7M44 202h2M94 202h3M28 203h7M45 203h1M80 203h1M93 203h2M28 204h7M45 204h1M93 204h2M28 205h7M45 205h1M93 205h1M28 206h8M44 206h1M79 206h1M92 206h2M29 207h8M43 207h1M79 207h1M92 207h1M30 208h10M42 208h2M92 208h1M39 209h3M78 209h1M91 209h2M78 210h1M91 210h2M78 211h1M90 211h3M78 212h2M90 212h3M78 213h3M88 213h4M78 214h13M79 215h11M80 216h9"/><path stroke="#4a5cff" d="M119 106h3M118 107h1M123 107h1M116 108h2M125 108h1M113 109h3M127 109h1M112 110h1M111 111h1M128 111h1M111 112h1M128 112h1M128 113h1M110 114h1M128 114h1M109 115h1M108 116h1M127 116h1M127 117h1M107 118h1M126 118h1M125 119h1M106 120h1M125 120h1M105 121h1M124 121h1M123 122h1M102 123h1M122 123h2M101 124h1M122 124h2M100 125h1M121 125h2M99 126h1M120 126h3M98 127h1M119 127h3M96 128h2M118 128h4M93 129h4M117 129h4M92 130h2M116 130h3M92 131h2M115 131h3M92 132h4M115 132h2M93 133h4M114 133h2M93 134h4M112 134h3M93 135h4M109 135h4M93 136h4M107 136h2M91 137h6M105 137h2M89 138h3M97 138h1M104 138h1M88 139h1M96 139h4M103 139h1M87 140h1M96 140h2M99 140h4M86 141h1M96 141h1M86 142h1M86 143h1M95 143h1M87 144h1M95 144h1M87 145h2M95 145h1M88 146h1M89 147h2M96 147h1M90 148h2M96 148h1M91 149h1M91 150h1M91 151h1M96 151h1M91 152h2M96 152h1M92 153h2M96 153h1M94 154h2M95 155h1M96 157h1M94 158h3M89 159h8M87 160h2M96 160h2M86 161h1M98 161h1M99 162h3M85 163h1M100 163h5M84 164h1M101 164h9M115 164h1M83 165h1M117 165h1M118 166h1M81 167h1M119 168h1M80 169h1M80 170h1M120 170h1M79 171h2M120 171h1M78 172h1M120 172h1M78 173h1M97 173h7M120 173h1M78 174h1M94 174h12M120 174h1M78 175h1M83 175h4M92 175h5M103 175h6M120 175h1M80 176h2M87 176h7M106 176h4M120 176h1M88 177h5M108 177h3M119 177h1M89 178h2M108 178h2M118 178h2M107 179h3M118 179h2M28 180h1M31 180h1M107 180h2M118 180h2M27 181h1M106 181h3M118 181h2M27 182h1M106 182h2M118 182h2M28 183h1M31 183h1M105 183h3M119 183h1M29 184h2M105 184h4M119 184h2M106 185h6M117 185h4M88 186h9M106 186h13M88 187h3M94 187h5M41 188h1M45 188h1M90 188h1M96 188h4M40 189h1M46 189h1M87 189h1M90 189h2M96 189h5M47 190h1M86 190h6M97 190h5M38 191h1M47 191h1M85 191h1M98 191h5M37 192h2M85 192h1M99 192h5M35 193h3M99 193h5M33 194h4M100 194h5M32 195h5M46 195h1M85 195h1M101 195h5M31 196h5M46 196h1M85 196h1M101 196h5M30 197h5M46 197h1M86 197h1M101 197h5M28 198h5M46 198h1M86 198h1M101 198h5M27 199h5M46 199h1M86 199h1M101 199h4M25 200h5M46 200h1M85 200h1M101 200h4M24 201h5M46 201h1M79 201h1M83 201h1M99 201h5M24 202h4M46 202h1M97 202h6M24 203h4M46 203h1M95 203h7M24 204h4M46 204h1M95 204h2M24 205h4M46 205h1M79 205h1M94 205h2M24 206h4M45 206h2M94 206h1M24 207h5M44 207h2M78 207h1M93 207h2M24 208h6M44 208h1M78 208h1M93 208h2M25 209h14M42 209h2M77 209h1M93 209h2M25 210h16M77 210h1M93 210h2M25 211h8M77 211h1M93 211h2M26 212h5M76 212h2M93 212h2M27 213h3M76 213h2M92 213h3M76 214h2M91 214h3M70 215h2M76 215h3M90 215h3M69 216h1M76 216h4M89 216h3M76 217h15M77 218h13M86 219h3"/><path stroke="#4a4aff" d="M118 106h1M122 106h1M116 107h2M124 107h1M113 108h3M126 108h1M111 109h2M111 110h1M128 110h1M110 112h1M110 113h1M109 114h1M108 115h1M128 115h1M128 116h1M107 117h1M127 118h1M126 119h2M126 120h1M125 121h2M103 122h1M125 122h1M124 123h1M124 124h1M123 125h2M123 126h2M97 127h1M122 127h2M93 128h3M122 128h2M92 129h1M121 129h2M119 130h3M91 131h1M118 131h3M91 132h1M117 132h2M91 133h2M116 133h2M91 134h2M115 134h1M91 135h2M113 135h2M90 136h3M109 136h5M89 137h2M107 137h3M88 138h1M105 138h2M87 139h1M104 139h2M86 140h1M98 140h1M103 140h1M85 141h1M97 141h1M101 141h1M85 142h1M96 142h1M85 143h1M96 143h1M86 144h1M96 144h1M86 145h1M96 145h1M87 146h1M96 146h1M87 147h2M88 148h2M97 148h1M88 149h3M97 149h1M89 150h2M97 150h1M88 151h3M88 152h3M87 153h5M87 154h7M96 154h1M87 155h8M96 155h2M87 156h4M92 156h7M87 157h9M97 157h3M87 158h7M97 158h3M87 159h2M97 159h3M86 160h1M98 160h4M99 161h5M85 162h1M102 162h4M84 163h1M105 163h3M111 163h3M83 164h1M116 164h1M82 165h1M118 165h1M81 166h1M80 167h1M119 167h1M80 168h1M120 168h1M120 169h1M79 170h1M78 171h1M121 172h1M77 173h1M121 173h1M77 174h1M121 174h1M97 175h6M121 175h1M79 176h1M82 176h5M94 176h12M121 176h1M87 177h1M93 177h15M120 177h2M87 178h2M91 178h17M120 178h1M28 179h3M88 179h7M101 179h6M120 179h1M27 180h1M89 180h2M102 180h5M120 180h1M26 181h1M32 181h1M102 181h4M120 181h1M26 182h1M32 182h1M101 182h5M120 182h2M26 183h2M32 183h1M95 183h10M120 183h2M27 184h2M31 184h1M93 184h12M121 184h1M28 185h3M87 185h19M121 185h1M87 186h1M97 186h9M119 186h2M42 187h3M87 187h1M99 187h16M24 188h1M46 188h1M86 188h4M100 188h9M22 189h5M47 189h1M86 189h1M88 189h2M101 189h8M21 190h11M39 190h1M85 190h1M102 190h6M21 191h12M37 191h1M103 191h6M21 192h16M47 192h1M84 192h1M104 192h5M21 193h14M47 193h1M84 193h1M104 193h6M21 194h12M47 194h1M84 194h1M105 194h6M21 195h11M47 195h1M84 195h1M106 195h5M21 196h10M47 196h1M106 196h5M20 197h10M47 197h1M85 197h1M106 197h5M20 198h8M47 198h1M85 198h1M106 198h4M21 199h6M47 199h1M85 199h1M105 199h5M21 200h4M47 200h1M83 200h2M105 200h4M21 201h3M47 201h1M104 201h5M21 202h3M47 202h1M79 202h1M103 202h5M20 203h4M47 203h2M102 203h5M20 204h4M47 204h2M79 204h1M97 204h9M21 205h3M47 205h1M96 205h9M21 206h3M47 206h1M78 206h1M95 206h9M21 207h3M46 207h1M77 207h1M95 207h2M21 208h3M45 208h1M77 208h1M95 208h2M22 209h3M44 209h1M95 209h2M22 210h3M41 210h3M76 210h1M95 210h2M23 211h2M33 211h7M76 211h1M95 211h2M23 212h3M31 212h7M75 212h1M95 212h2M24 213h3M30 213h6M74 213h2M95 213h2M25 214h9M70 214h6M94 214h3M27 215h6M69 215h1M72 215h4M93 215h3M29 216h4M68 216h1M70 216h6M92 216h3M31 217h2M68 217h8M91 217h3M32 218h5M74 218h3M90 218h3M32 219h5M74 219h12M89 219h4M36 220h1M76 220h15M85 221h6M87 222h3"/><path stroke="#5050f8" d="M118 105h4M116 106h2M123 106h1M113 107h3M111 108h2M110 110h1M110 111h1M109 112h1M109 113h1M129 113h1M108 114h1M129 114h1M129 115h1M107 116h1M128 117h1M128 118h1M106 119h1M127 120h1M104 121h1M127 121h1M102 122h1M126 122h1M101 123h1M100 124h1M99 125h1M125 125h1M98 126h1M125 126h1M95 127h2M124 127h2M92 128h1M124 128h1M91 129h1M123 129h2M91 130h1M122 130h2M90 131h1M121 131h3M90 132h1M119 132h3M90 133h1M118 133h3M90 134h1M116 134h3M89 135h2M115 135h2M89 136h1M114 136h2M88 137h1M110 137h5M69 138h3M87 138h1M107 138h3M69 139h4M86 139h1M106 139h1M85 140h1M104 140h1M98 141h3M102 141h1M97 142h1M85 144h1M85 145h1M86 146h1M86 147h1M97 147h1M86 148h2M87 149h1M87 150h2M86 151h2M97 151h1M86 152h2M97 152h1M86 153h1M97 153h1M85 154h2M97 154h1M85 155h2M98 155h1M85 156h2M91 156h1M99 156h2M85 157h2M100 157h2M86 158h1M100 158h3M86 159h1M100 159h4M85 160h1M102 160h3M85 161h1M104 161h2M84 162h1M106 162h1M83 163h1M108 163h3M114 163h2M82 164h1M117 164h1M119 166h1M120 167h1M79 168h1M79 169h1M78 170h1M121 170h1M121 171h1M77 172h1M122 173h1M122 174h1M77 175h1M122 175h1M78 176h1M122 176h1M79 177h3M85 177h2M122 177h1M86 178h1M121 178h1M27 179h1M31 179h1M87 179h1M95 179h6M121 179h1M25 180h2M32 180h1M87 180h2M91 180h11M121 180h2M23 181h3M89 181h13M121 181h2M22 182h4M90 182h11M122 182h1M21 183h5M89 183h6M122 183h2M21 184h6M32 184h1M87 184h6M122 184h2M20 185h8M31 185h1M86 185h1M122 185h1M20 186h12M86 186h1M121 186h2M19 187h12M41 187h1M45 187h1M86 187h1M115 187h6M19 188h5M25 188h6M40 188h1M47 188h1M109 188h6M19 189h3M27 189h5M39 189h1M48 189h1M85 189h1M109 189h4M19 190h2M32 190h1M38 190h1M48 190h1M108 190h4M20 191h1M33 191h4M48 191h1M84 191h1M109 191h3M20 192h1M48 192h1M109 192h4M20 193h1M83 193h1M110 193h4M20 194h1M48 194h1M111 194h4M20 195h1M48 195h1M111 195h4M20 196h1M48 196h1M84 196h1M111 196h5M48 197h1M84 197h1M111 197h5M48 198h1M84 198h1M110 198h5M48 199h1M84 199h1M110 199h4M48 200h1M80 200h3M109 200h5M48 201h1M109 201h4M48 202h2M108 202h4M49 203h1M79 203h1M107 203h5M49 204h1M106 204h5M48 205h2M78 205h1M105 205h5M48 206h1M76 206h2M104 206h5M47 207h2M76 207h1M97 207h10M46 208h2M76 208h1M97 208h9M45 209h2M76 209h1M97 209h8M44 210h1M97 210h7M22 211h1M40 211h3M75 211h1M97 211h6M38 212h1M74 212h1M97 212h4M23 213h1M36 213h2M70 213h4M97 213h4M23 214h2M34 214h4M97 214h3M24 215h3M33 215h4M96 215h4M26 216h3M33 216h5M95 216h5M27 217h4M33 217h5M94 217h5M29 218h3M37 218h1M70 218h4M93 218h5M30 219h2M37 219h1M72 219h2M93 219h5M32 220h4M37 220h1M74 220h2M91 220h6M75 221h10M91 221h5M84 222h3M90 222h5M86 223h8M87 224h6"/><path stroke="#5656f0" d="M117 105h1M122 105h1M114 106h2M112 107h1M125 107h1M110 108h1M127 108h1M110 109h1M128 109h1M109 110h1M109 111h1M129 111h1M129 112h1M108 113h1M107 115h1M129 116h1M129 117h1M129 118h1M128 119h1M105 120h1M128 120h1M97 126h1M126 126h1M93 127h2M126 127h1M91 128h1M125 128h2M125 129h1M90 130h1M124 130h2M124 131h1M89 132h1M122 132h3M89 133h1M121 133h2M89 134h1M119 134h3M88 135h1M117 135h3M88 136h1M116 136h3M70 137h2M87 137h1M115 137h2M72 138h1M86 138h1M110 138h6M68 139h1M73 139h1M107 139h3M69 140h4M105 140h2M84 141h1M103 141h1M84 142h1M98 142h1M84 143h1M97 143h1M84 144h1M97 144h1M97 145h1M85 146h1M97 146h1M85 147h1M85 148h1M86 149h1M98 149h1M86 150h1M85 151h1M85 152h1M85 153h1M104 153h1M98 154h1M104 154h1M84 155h1M99 155h2M103 155h1M84 156h1M101 156h3M84 157h1M102 157h2M84 158h2M103 158h2M84 159h2M104 159h1M84 160h1M105 160h1M84 161h1M106 161h1M83 162h1M107 162h2M116 163h1M118 164h1M81 165h1M119 165h1M80 166h1M120 166h1M79 167h1M121 168h1M78 169h1M121 169h1M77 171h1M122 171h1M122 172h1M76 173h1M76 174h1M123 174h1M76 175h1M123 175h1M77 176h1M123 176h1M78 177h1M82 177h3M123 177h1M28 178h3M122 178h2M25 179h2M32 179h1M86 179h1M122 179h2M20 180h5M123 180h1M20 181h3M33 181h1M88 181h1M123 181h1M19 182h3M33 182h1M88 182h2M123 182h2M19 183h2M33 183h1M88 183h1M124 183h1M18 184h3M86 184h1M124 184h1M19 185h1M32 185h1M123 185h2M19 186h1M42 186h2M123 186h1M31 187h1M46 187h1M85 187h1M121 187h2M31 188h1M48 188h1M85 188h1M115 188h5M32 189h1M49 189h1M113 189h3M33 190h1M37 190h1M49 190h1M84 190h1M112 190h3M49 191h1M83 191h1M112 191h3M49 192h1M83 192h1M113 192h3M48 193h2M114 193h3M49 194h1M83 194h1M115 194h3M49 195h1M83 195h1M115 195h3M49 196h1M116 196h2M49 197h1M116 197h2M49 198h1M115 198h3M49 199h1M83 199h1M114 199h4M49 200h1M79 200h1M114 200h3M49 201h1M113 201h4M50 202h1M112 202h4M50 203h1M112 203h1M50 204h1M111 204h2M76 205h2M110 205h2M49 206h1M109 206h2M49 207h1M109 207h1M48 208h1M47 209h1M75 209h1M45 210h2M75 210h1M43 211h2M74 211h1M39 212h2M72 212h2M38 213h1M38 214h1M69 214h1M23 215h1M37 215h1M68 215h1M100 215h1M23 216h3M38 216h1M67 216h1M100 216h1M25 217h2M38 217h1M67 217h1M99 217h2M26 218h3M38 218h1M68 218h2M98 218h2M28 219h2M38 219h1M71 219h1M98 219h1M29 220h3M72 220h2M97 220h2M32 221h3M74 221h1M96 221h2M76 222h8M95 222h3M83 223h3M94 223h3M85 224h2M93 224h3M87 225h8M88 226h6"/><path stroke="#5c5ce9" d="M118 104h4M115 105h2M112 106h2M124 106h1M110 107h2M126 107h1M109 109h1M108 112h1M107 114h1M106 117h1M106 118h1M129 119h1M103 121h1M99 124h1M98 125h1M96 126h1M92 127h1M90 129h1M126 129h1M126 130h1M89 131h1M125 131h2M125 132h1M88 133h1M123 133h3M88 134h1M122 134h3M87 135h1M120 135h3M87 136h1M119 136h2M69 137h1M117 137h3M68 138h1M116 138h2M74 139h1M85 139h1M110 139h6M68 140h1M73 140h1M84 140h1M107 140h2M83 141h1M104 141h2M83 142h1M99 142h1M84 145h1M84 146h1M84 147h1M98 148h1M85 149h1M85 150h1M98 150h1M84 152h1M104 152h1M84 153h1M98 153h1M103 153h1M105 153h1M84 154h1M99 154h1M102 154h2M105 154h1M101 155h2M104 155h2M104 156h2M83 157h1M104 157h2M83 158h1M105 158h1M83 159h1M105 159h1M83 160h1M106 160h1M83 161h1M107 161h2M82 162h1M109 162h5M82 163h1M117 163h1M81 164h1M119 164h1M80 165h1M120 165h1M121 167h1M78 168h1M20 169h3M122 169h1M20 170h4M77 170h1M122 170h1M76 172h1M123 172h1M75 173h1M123 173h1M75 174h1M75 175h1M124 175h1M76 176h1M124 176h1M124 177h1M20 178h2M26 178h2M31 178h1M79 178h3M84 178h2M124 178h1M19 179h6M124 179h1M18 180h2M33 180h1M86 180h1M124 180h1M18 181h2M87 181h1M124 181h2M18 182h1M34 182h1M87 182h1M125 182h1M18 183h1M86 183h2M125 183h1M33 184h1M125 184h1M85 185h1M125 185h1M32 186h1M41 186h1M44 186h1M85 186h1M124 186h1M32 187h1M40 187h1M47 187h1M123 187h1M32 188h1M39 188h1M49 188h1M120 188h2M33 189h1M38 189h1M84 189h1M116 189h4M34 190h3M50 190h1M115 190h4M50 191h1M115 191h4M50 192h2M116 192h3M50 193h2M117 193h3M50 194h1M118 194h2M50 195h1M118 195h2M50 196h1M83 196h1M118 196h2M50 197h1M83 197h1M118 197h2M50 198h1M83 198h1M118 198h2M50 199h1M82 199h1M118 199h2M50 200h1M117 200h1M50 201h1M50 205h1M50 206h1M49 208h1M75 208h1M48 209h1M47 210h1M74 210h1M45 211h1M73 211h1M41 212h1M71 212h1M39 213h1M38 215h1M22 217h3M24 218h2M26 219h2M69 219h2M27 220h2M71 220h1M29 221h3M35 221h2M72 221h2M74 222h2M77 223h6M83 224h2M85 225h2M87 226h1M91 227h1"/><path stroke="#6262e1" d="M116 104h2M122 104h1M114 105h1M123 105h1M111 106h1M109 108h1M128 108h1M34 109h1M108 109h1M108 110h1M129 110h1M108 111h1M130 112h1M107 113h1M130 113h1M106 116h1M130 117h1M130 118h1M105 119h1M104 120h1M101 122h1M100 123h1M97 125h1M94 126h2M89 130h1M127 130h1M127 131h1M88 132h1M126 132h1M87 133h1M126 133h1M87 134h1M125 134h2M123 135h3M70 136h2M86 136h1M121 136h4M68 137h1M72 137h1M86 137h1M120 137h3M67 138h1M73 138h1M85 138h1M118 138h2M67 139h1M75 139h1M84 139h1M116 139h2M67 140h1M74 140h1M83 140h1M109 140h6M69 141h2M106 141h2M100 142h4M83 143h1M98 143h1M83 144h1M98 147h1M84 148h1M84 149h1M84 150h1M84 151h1M98 151h1M98 152h1M103 152h1M105 152h1M102 153h1M83 154h1M100 154h2M83 155h1M83 156h1M82 158h1M106 158h1M82 159h1M106 159h1M82 160h1M107 160h1M82 161h1M109 161h1M114 162h2M81 163h1M118 163h1M79 166h1M121 166h1M78 167h1M19 168h6M122 168h1M18 169h2M23 169h3M77 169h1M18 170h2M24 170h2M123 170h1M19 171h6M76 171h1M123 171h1M19 172h4M75 172h1M20 173h1M124 173h1M74 174h1M124 174h1M74 175h1M19 176h2M75 176h1M125 176h1M18 177h4M27 177h5M77 177h1M125 177h1M18 178h2M22 178h4M32 178h1M78 178h1M82 178h2M125 178h1M17 179h2M33 179h1M85 179h1M125 179h1M17 180h1M34 180h1M125 180h1M17 181h1M34 181h1M86 181h1M126 181h1M35 182h1M86 182h1M126 182h1M34 183h1M126 183h1M85 184h1M126 184h1M33 185h1M41 185h2M40 186h1M45 186h2M125 186h1M48 187h1M84 187h1M124 187h1M33 188h1M84 188h1M122 188h2M34 189h1M50 189h1M120 189h2M51 190h1M83 190h1M119 190h2M51 191h1M119 191h2M52 192h1M82 192h1M119 192h2M52 193h1M82 193h1M120 193h1M51 194h1M82 194h1M120 194h1M51 195h1M120 195h2M51 196h1M120 196h2M120 197h1M120 198h1M81 199h1M120 199h1M51 200h1M51 201h1M51 202h1M51 203h1M51 204h1M78 204h1M51 205h1M75 205h1M75 206h1M50 207h1M75 207h1M49 209h1M74 209h1M48 210h1M46 211h1M72 211h1M42 212h2M70 212h1M40 213h1M69 213h1M39 214h1M22 218h2M67 218h1M23 219h3M68 219h1M25 220h2M38 220h1M70 220h1M27 221h2M37 221h1M29 222h5M73 222h1M74 223h3M80 224h3M83 225h2M84 226h1"/><path stroke="#6868da" d="M118 103h4M115 104h1M112 105h2M110 106h1M125 106h1M109 107h1M127 107h1M34 108h2M108 108h1M33 109h1M35 109h1M129 109h1M34 110h2M130 111h1M107 112h1M106 115h1M102 121h1M98 124h1M93 126h1M91 127h1M90 128h1M89 129h1M88 131h1M87 132h1M86 134h1M127 134h1M86 135h1M126 135h2M69 136h1M125 136h2M85 137h1M123 137h3M74 138h1M120 138h5M66 139h1M118 139h3M75 140h1M115 140h3M68 141h1M71 141h2M82 141h1M108 141h7M82 142h1M104 142h3M99 143h1M98 144h1M83 145h1M98 145h1M98 146h1M104 151h2M106 152h1M83 153h1M99 153h1M106 153h1M106 154h1M106 155h1M82 156h1M106 156h1M82 157h1M106 157h1M107 159h1M108 160h1M81 161h1M110 161h2M81 162h1M116 162h1M119 163h1M80 164h1M120 164h1M79 165h1M121 165h1M21 166h1M78 166h1M122 166h1M19 167h7M122 167h1M18 168h1M25 168h2M77 168h1M26 169h1M123 169h1M26 170h1M76 170h1M18 171h1M25 171h1M75 171h1M124 171h1M18 172h1M23 172h2M124 172h1M18 173h2M21 173h2M74 173h1M18 174h4M73 174h1M125 174h1M18 175h4M73 175h1M125 175h1M18 176h1M21 176h2M28 176h3M74 176h1M17 177h1M22 177h2M26 177h1M32 177h1M76 177h1M126 177h1M16 178h2M33 178h1M77 178h1M126 178h1M34 179h1M80 179h1M84 179h1M126 179h1M35 180h1M85 180h1M126 180h1M35 181h2M36 182h2M127 182h1M35 183h2M85 183h1M34 184h1M40 185h1M43 185h1M84 185h1M126 185h1M33 186h1M47 186h1M84 186h1M33 187h1M39 187h1M49 187h1M125 187h1M50 188h1M124 188h1M35 189h3M51 189h1M83 189h1M122 189h2M52 190h1M121 190h2M52 191h1M82 191h1M121 191h1M53 192h1M121 192h1M121 193h1M52 194h1M121 194h2M52 195h1M82 195h1M122 195h1M82 196h1M122 196h1M51 197h1M121 197h2M51 198h1M82 198h1M121 198h2M51 199h1M80 199h1M121 199h2M78 201h1M52 202h1M52 203h1M51 206h1M50 208h1M49 210h1M73 210h1M47 211h1M71 211h1M44 212h1M68 214h1M39 215h1M67 215h1M39 216h1M66 216h1M39 217h1M66 217h1M39 218h1M21 219h2M39 219h1M22 220h3M69 220h1M25 221h2M71 221h1M27 222h2M34 222h2M72 222h1M29 223h3M73 223h1M75 224h5M81 225h2M83 226h1"/><path stroke="#6d6dd3" d="M116 103h2M122 103h1M114 104h1M123 104h1M111 105h1M124 105h1M109 106h1M34 107h2M108 107h1M33 108h1M36 108h1M36 109h1M107 109h1M33 110h1M36 110h1M107 110h1M34 111h2M107 111h1M106 114h1M105 118h1M96 125h1M92 126h1M88 130h1M87 131h1M86 133h1M85 134h1M85 135h1M68 136h1M85 136h1M127 136h1M67 137h1M126 137h2M66 138h1M84 138h1M125 138h2M83 139h1M121 139h5M66 140h1M82 140h1M118 140h4M67 141h1M73 141h1M115 141h2M107 142h6M82 143h1M83 146h1M83 147h1M83 148h1M99 148h1M83 151h1M103 151h1M106 151h1M83 152h1M102 152h1M100 153h2M82 154h1M107 154h1M82 155h1M107 155h1M107 156h1M81 157h1M107 157h1M81 158h1M107 158h1M81 159h1M108 159h1M81 160h1M109 160h1M112 161h2M117 162h2M80 163h1M120 163h1M79 164h1M121 164h1M122 165h1M18 166h3M22 166h4M17 167h2M26 167h1M77 167h1M123 167h1M17 168h1M27 168h1M123 168h1M17 169h1M27 169h2M76 169h1M17 170h1M27 170h2M75 170h1M124 170h1M17 171h1M26 171h2M17 172h1M25 172h2M74 172h1M125 172h1M17 173h1M23 173h1M73 173h1M125 173h1M17 174h1M22 174h1M72 174h1M126 174h1M17 175h1M22 175h1M29 175h2M72 175h1M126 175h1M16 176h2M23 176h1M27 176h1M31 176h1M73 176h1M126 176h1M16 177h1M24 177h2M33 177h1M75 177h1M127 177h1M15 178h1M34 178h1M127 178h1M35 179h1M78 179h2M81 179h3M127 179h1M36 180h1M127 180h1M37 181h2M85 181h1M127 181h1M38 182h2M85 182h1M37 183h4M127 183h1M35 184h1M39 184h4M84 184h1M127 184h1M34 185h1M39 185h1M44 185h2M127 185h1M39 186h1M48 186h1M126 186h1M50 187h1M34 188h1M38 188h1M51 188h1M83 188h1M125 188h1M52 189h1M124 189h1M82 190h1M123 190h1M53 191h1M122 191h2M122 192h2M53 193h1M122 193h2M53 194h1M123 194h1M123 195h1M52 196h1M123 196h1M52 197h1M82 197h1M123 197h1M52 198h1M123 198h1M52 199h1M79 199h1M52 200h1M78 200h1M52 201h1M78 202h1M78 203h1M52 204h1M75 204h3M52 205h1M51 207h1M51 208h1M74 208h1M50 209h1M72 210h1M48 211h1M45 212h1M41 213h1M40 214h1M66 218h1M67 219h1M21 220h1M39 220h1M68 220h1M21 221h4M38 221h1M70 221h1M25 222h2M36 222h1M71 222h1M27 223h2M32 223h2M72 223h1M73 224h2M77 225h4M81 226h2M83 227h1"/><path stroke="#7373cb" d="M118 102h3M115 103h1M113 104h1M109 105h2M108 106h1M126 106h1M33 107h1M36 107h1M128 107h1M107 108h1M32 109h1M32 110h1M130 110h1M33 111h1M36 111h1M106 112h1M131 112h1M106 113h1M105 117h1M104 119h1M103 120h1M100 122h1M99 123h1M95 125h1M90 127h1M89 128h1M86 132h1M85 133h1M84 135h1M67 136h1M72 136h1M84 136h1M128 136h1M66 137h1M73 137h1M84 137h1M128 137h1M65 138h1M75 138h1M83 138h1M127 138h1M65 139h1M76 139h1M82 139h1M126 139h1M65 140h1M76 140h1M122 140h4M66 141h1M74 141h1M81 141h1M117 141h7M68 142h2M81 142h1M113 142h4M100 143h1M104 143h5M82 144h1M99 144h1M99 147h1M83 149h1M99 149h1M83 150h1M104 150h2M42 151h1M40 152h4M99 152h1M107 152h1M41 153h2M82 153h1M107 153h1M81 156h1M108 158h1M109 159h1M80 160h1M110 160h2M80 161h1M114 161h2M80 162h1M119 162h1M79 163h1M122 164h1M18 165h8M78 165h1M17 166h1M26 166h2M77 166h1M123 166h1M16 167h1M27 167h2M16 168h1M28 168h2M76 168h1M124 168h1M16 169h1M29 169h1M124 169h1M16 170h1M29 170h1M16 171h1M28 171h2M74 171h1M125 171h1M16 172h1M27 172h3M73 172h1M16 173h1M24 173h6M72 173h1M126 173h1M16 174h1M23 174h1M27 174h4M71 174h1M16 175h1M23 175h1M27 175h2M31 175h1M71 175h1M127 175h1M15 176h1M24 176h3M32 176h1M72 176h1M127 176h1M14 177h2M74 177h1M76 178h1M128 178h1M36 179h1M128 179h1M37 180h2M84 180h1M128 180h1M39 181h1M128 181h1M40 182h1M128 182h1M41 183h1M84 183h1M128 183h1M36 184h3M43 184h1M128 184h1M46 185h2M34 186h1M49 186h1M83 186h1M127 186h1M34 187h1M51 187h1M83 187h1M126 187h1M52 188h1M82 189h1M125 189h1M53 190h1M124 190h1M54 191h1M124 191h1M54 192h1M81 192h1M124 192h1M54 193h1M81 193h1M124 193h1M81 194h1M124 194h1M53 195h1M124 195h1M53 196h1M124 196h1M53 197h1M124 197h1M81 198h1M124 198h1M53 200h1M53 201h1M53 202h1M53 203h1M52 206h1M74 207h1M51 209h1M73 209h1M50 210h1M49 211h1M70 211h1M46 212h2M69 212h1M42 213h1M68 213h1M40 215h1M65 217h1M66 219h1M69 221h1M20 222h5M70 222h1M24 223h3M34 223h1M71 223h1M27 224h6M72 224h1M75 225h2M79 226h2M81 227h2"/><path stroke="#7979c4" d="M116 102h2M121 102h1M114 103h1M123 103h1M111 104h2M124 104h1M108 105h1M125 105h1M34 106h2M107 106h1M127 106h1M107 107h1M32 108h1M37 108h1M129 108h1M37 109h1M37 110h1M32 111h1M106 111h1M33 112h4M105 115h1M105 116h1M101 121h1M97 124h1M94 125h1M91 126h1M88 129h1M87 130h1M86 131h1M85 132h1M84 133h1M84 134h1M70 135h2M65 137h1M83 137h1M64 138h1M128 138h1M64 139h1M77 139h1M127 139h2M64 140h1M77 140h1M81 140h1M126 140h2M65 141h1M80 141h1M124 141h3M66 142h2M70 142h2M117 142h8M81 143h1M101 143h3M109 143h7M82 145h1M99 145h1M99 146h1M99 150h1M106 150h1M40 151h2M43 151h2M99 151h1M107 151h1M44 152h1M82 152h1M100 152h2M40 153h1M43 153h1M41 154h1M81 155h1M108 155h1M108 156h1M108 157h1M80 158h1M80 159h1M110 159h1M112 160h1M116 161h2M79 162h1M120 162h1M121 163h1M18 164h9M78 164h1M17 165h1M26 165h3M77 165h1M123 165h1M16 166h1M28 166h2M124 166h1M15 167h1M29 167h1M76 167h1M124 167h1M15 168h1M30 168h1M125 168h1M15 169h1M30 169h1M75 169h1M125 169h1M15 170h1M30 170h1M74 170h1M125 170h1M15 171h1M30 171h1M73 171h1M126 171h1M15 172h1M30 172h2M72 172h1M126 172h1M15 173h1M30 173h2M71 173h1M127 173h1M15 174h1M24 174h3M31 174h2M70 174h1M127 174h1M15 175h1M24 175h3M32 175h1M70 175h1M128 175h1M14 176h1M33 176h1M71 176h1M128 176h1M34 177h1M72 177h2M128 177h1M35 178h2M75 178h1M129 178h1M37 179h2M77 179h1M129 179h1M39 180h1M79 180h5M129 180h1M40 181h2M84 181h1M129 181h1M41 182h1M84 182h1M129 182h1M42 183h1M129 183h1M44 184h2M35 185h1M38 185h1M48 185h1M83 185h1M128 185h1M38 186h1M50 186h1M38 187h1M52 187h1M127 187h1M35 188h3M53 188h1M82 188h1M126 188h1M53 189h1M126 189h1M54 190h1M125 190h1M125 191h1M125 192h1M125 193h1M54 194h1M125 194h1M54 195h1M81 195h1M125 195h1M81 196h1M125 196h1M81 197h1M125 197h1M53 198h1M125 198h1M53 199h1M53 204h1M53 205h1M52 207h1M52 208h1M71 210h1M48 212h1M43 213h1M41 214h1M67 214h1M66 215h1M40 216h1M65 216h1M40 217h1M40 218h1M65 218h1M40 219h1M67 220h1M39 221h1M68 221h1M37 222h1M69 222h1M20 223h4M35 223h1M70 223h1M21 224h6M33 224h1M27 225h5M73 225h2M76 226h3M80 227h1M81 228h2"/><path stroke="#7f7fbc" d="M115 102h1M122 102h1M113 103h1M109 104h2M33 106h1M36 106h1M32 107h1M37 107h1M31 108h1M106 108h1M31 109h1M106 109h1M130 109h1M31 110h1M106 110h1M31 111h1M37 111h1M131 111h1M32 112h1M33 113h3M105 114h1M102 120h1M93 125h1M84 132h1M83 133h1M83 134h1M69 135h1M83 135h1M65 136h2M83 136h1M64 137h1M82 137h1M76 138h1M82 138h1M81 139h1M129 139h1M78 140h3M128 140h1M64 141h1M75 141h1M79 141h1M127 141h1M65 142h1M80 142h1M125 142h2M116 143h9M100 144h1M105 144h9M82 146h1M82 147h1M104 149h3M40 150h4M103 150h1M107 150h1M39 151h1M45 151h1M82 151h1M102 151h1M108 151h1M39 152h1M45 152h1M108 152h1M39 153h1M44 153h1M108 153h1M40 154h1M42 154h1M81 154h1M108 154h1M80 156h1M80 157h1M109 158h1M79 160h1M113 160h1M79 161h1M118 161h2M121 162h1M18 163h10M78 163h1M122 163h1M17 164h1M27 164h3M77 164h1M123 164h2M16 165h1M29 165h1M124 165h1M15 166h1M30 166h1M76 166h1M125 166h1M14 167h1M30 167h2M125 167h1M14 168h1M31 168h1M75 168h1M14 169h1M31 169h1M74 169h1M126 169h1M14 170h1M31 170h1M126 170h1M14 171h1M31 171h1M14 172h1M32 172h1M71 172h1M127 172h1M14 173h1M32 173h1M70 173h1M14 174h1M128 174h1M13 175h2M33 175h1M13 176h1M34 176h1M70 176h1M129 176h1M35 177h1M71 177h1M129 177h1M37 178h1M74 178h1M39 179h1M76 179h1M130 179h1M40 180h2M78 180h1M130 180h1M42 181h1M83 181h1M130 181h1M42 182h1M43 183h1M83 183h1M46 184h2M83 184h1M129 184h1M36 185h2M49 185h2M51 186h2M128 186h1M35 187h1M53 187h1M82 187h1M54 188h1M127 188h1M54 189h1M55 190h1M126 190h1M55 191h1M81 191h1M126 191h1M55 192h1M126 192h1M55 193h1M126 193h1M126 194h1M126 195h1M54 196h1M126 196h1M54 197h1M126 197h1M54 198h1M80 198h1M54 199h1M78 199h1M54 200h1M54 201h1M54 202h1M54 203h1M74 205h1M53 206h1M74 206h1M73 208h1M52 209h1M72 209h1M51 210h1M50 211h1M49 212h1M44 213h1M65 215h1M40 220h1M66 220h1M67 221h1M38 222h1M68 222h1M34 224h1M71 224h1M21 225h6M32 225h1M72 225h1M27 226h4M74 226h2M78 227h2M80 228h1M81 229h1"/><path stroke="#8585b5" d="M116 101h6M114 102h1M123 102h1M111 103h2M124 103h1M108 104h1M125 104h1M34 105h2M107 105h1M126 105h1M32 106h1M37 106h1M106 106h1M128 106h1M31 107h1M106 107h1M38 108h1M30 109h1M38 109h1M30 110h1M38 110h1M131 110h1M30 111h1M31 112h1M37 112h1M105 112h1M31 113h2M36 113h2M105 113h1M32 114h5M104 118h1M103 119h1M98 123h1M96 124h1M29 125h2M92 125h1M28 126h3M90 126h1M28 127h3M89 127h1M27 128h4M88 128h1M27 129h4M87 129h1M26 130h5M86 130h1M26 131h5M85 131h1M25 132h5M25 133h5M25 134h4M82 134h1M25 135h4M65 135h4M72 135h1M82 135h1M25 136h3M64 136h1M73 136h1M82 136h1M63 137h1M74 137h1M63 138h1M77 138h1M81 138h1M63 139h1M78 139h3M63 140h1M129 140h1M63 141h1M76 141h3M128 141h1M64 142h1M72 142h1M127 142h1M66 143h3M125 143h2M81 144h1M103 144h2M114 144h11M105 145h6M106 146h2M100 147h1M82 148h1M100 148h1M105 148h2M82 149h1M100 149h1M103 149h1M107 149h1M39 150h1M44 150h2M82 150h1M102 150h1M108 150h1M38 151h1M46 151h1M38 152h1M46 152h1M38 153h1M45 153h1M81 153h1M39 154h1M43 154h1M80 155h1M109 156h1M109 157h1M79 158h1M110 158h1M79 159h1M111 159h2M114 160h2M23 161h4M78 161h1M120 161h2M18 162h12M78 162h1M122 162h1M17 163h1M28 163h3M77 163h1M123 163h2M15 164h2M30 164h1M125 164h1M14 165h2M30 165h2M76 165h1M125 165h2M14 166h1M31 166h1M126 166h1M13 167h1M32 167h1M75 167h1M126 167h1M13 168h1M32 168h1M126 168h1M13 169h1M32 169h1M127 169h1M13 170h1M32 170h1M73 170h1M127 170h1M13 171h1M32 171h1M72 171h1M127 171h1M13 172h1M33 172h1M128 172h1M13 173h1M33 173h1M128 173h1M12 174h2M33 174h1M69 174h1M129 174h1M12 175h1M34 175h1M69 175h1M129 175h1M35 176h1M69 176h1M130 176h1M36 177h1M69 177h2M130 177h1M38 178h2M71 178h3M130 178h1M40 179h2M75 179h1M42 180h1M77 180h1M79 181h4M43 182h1M83 182h1M130 182h1M44 183h2M130 183h1M48 184h1M130 184h1M51 185h2M82 185h1M129 185h1M35 186h1M53 186h1M82 186h1M37 187h1M54 187h1M128 187h1M55 188h1M55 189h1M81 189h1M127 189h1M81 190h1M127 190h1M127 191h1M127 192h1M127 193h1M55 194h1M127 194h1M55 195h1M127 195h1M55 196h1M127 196h1M127 197h1M79 198h1M55 200h1M54 204h1M53 207h1M53 208h1M71 209h1M52 210h1M70 210h1M51 211h1M69 211h1M68 212h1M45 213h2M67 213h1M42 214h1M66 214h1M41 215h1M64 216h1M64 217h1M65 219h1M67 222h1M36 223h1M69 223h1M35 224h1M70 224h1M33 225h1M71 225h1M22 226h5M31 226h2M73 226h1M22 227h8M75 227h3M78 228h2M80 229h1"/><path stroke="#8289ad" d="M115 101h1M122 101h1M113 102h1M109 103h2M107 104h1M33 105h1M36 105h1M106 105h1M127 105h1M38 107h1M129 107h1M30 108h1M105 110h1M38 111h1M105 111h1M30 112h1M38 112h1M30 113h1M31 114h1M37 114h1M31 115h6M32 116h3M104 116h1M104 117h1M30 120h3M29 121h4M28 122h5M99 122h1M27 123h6M26 124h7M26 125h3M31 125h2M26 126h2M31 126h2M25 127h3M31 127h2M25 128h2M31 128h2M24 129h3M31 129h2M24 130h2M31 130h2M23 131h3M31 131h1M84 131h1M23 132h2M30 132h2M83 132h1M23 133h2M30 133h1M82 133h1M23 134h2M29 134h2M81 134h1M22 135h3M29 135h2M64 135h1M81 135h1M22 136h3M28 136h2M63 136h1M81 136h1M22 137h8M81 137h1M23 138h7M62 138h1M78 138h3M23 139h6M62 139h1M24 140h4M62 140h1M130 140h1M62 141h1M129 141h2M63 142h1M73 142h1M79 142h1M128 142h2M64 143h2M69 143h2M80 143h1M127 143h1M101 144h2M125 144h2M100 145h1M104 145h1M111 145h14M100 146h1M105 146h1M108 146h3M105 147h4M104 148h1M107 148h2M40 149h5M108 149h1M38 150h1M46 150h2M109 150h1M37 151h1M47 151h2M100 151h2M109 151h1M36 152h2M47 152h2M81 152h1M109 152h1M37 153h1M46 153h1M109 153h1M37 154h2M44 154h1M109 154h1M109 155h1M79 157h1M110 157h1M111 158h1M26 159h3M113 159h1M21 160h9M78 160h1M116 160h6M18 161h5M27 161h4M122 161h2M16 162h2M30 162h2M77 162h1M123 162h2M15 163h2M31 163h1M125 163h1M14 164h1M31 164h1M76 164h1M126 164h1M13 165h1M32 165h1M127 165h1M13 166h1M32 166h1M75 166h1M127 166h1M12 167h1M127 167h1M12 168h1M33 168h1M74 168h1M127 168h1M12 169h1M33 169h1M73 169h1M128 169h1M12 170h1M33 170h1M72 170h1M128 170h1M11 171h2M33 171h1M71 171h1M128 171h1M11 172h2M70 172h1M129 172h1M11 173h2M34 173h1M69 173h1M129 173h1M11 174h1M34 174h1M68 174h1M130 174h1M35 175h1M67 175h2M130 175h1M36 176h1M65 176h4M131 176h1M37 177h3M67 177h2M131 177h1M40 178h2M68 178h3M131 178h1M42 179h1M131 179h1M43 180h1M76 180h1M131 180h1M43 181h1M78 181h1M131 181h1M44 182h2M81 182h2M131 182h1M46 183h2M82 183h1M131 183h1M49 184h5M82 184h1M53 185h3M130 185h1M37 186h1M54 186h2M129 186h1M36 187h1M55 187h2M81 187h1M56 188h1M81 188h1M128 188h1M56 189h1M128 189h1M56 190h1M128 190h1M56 191h1M128 191h1M56 192h1M128 192h1M56 193h1M80 193h1M128 193h1M80 194h1M128 194h1M128 195h1M80 196h1M128 196h1M55 197h1M80 197h1M55 198h1M55 199h1M55 201h1M77 201h1M55 202h1M55 203h1M77 203h1M74 204h1M54 205h1M54 206h1M73 207h1M72 208h1M53 209h1M52 211h1M50 212h1M47 213h2M64 215h1M41 216h1M41 218h1M64 218h1M65 220h1M40 221h1M66 221h1M39 222h1M37 223h1M68 223h1M69 224h1M34 225h1M70 225h1M33 226h1M72 226h1M30 227h2M74 227h1M22 228h7M76 228h2M78 229h2M80 230h1"/><path stroke="#808da4" d="M119 100h4M114 101h1M123 101h1M110 102h3M107 103h2M125 103h1M106 104h1M126 104h1M32 105h1M37 105h1M31 106h1M38 106h1M105 106h1M30 107h1M39 107h1M105 107h1M29 108h1M39 108h1M105 108h1M130 108h1M29 109h1M39 109h1M105 109h1M29 110h1M39 110h1M29 111h1M132 111h1M29 112h1M29 113h1M38 113h1M29 114h2M38 114h1M104 114h1M29 115h2M37 115h1M104 115h1M29 116h3M35 116h2M29 117h8M28 118h8M27 119h8M26 120h4M33 120h2M26 121h3M33 121h2M100 121h1M25 122h3M33 122h2M24 123h3M33 123h2M97 123h1M24 124h2M33 124h2M95 124h1M24 125h2M33 125h2M91 125h1M23 126h3M33 126h1M23 127h2M33 127h1M22 128h3M33 128h1M22 129h2M33 129h1M21 130h3M85 130h1M21 131h2M32 131h1M21 132h2M32 132h1M82 132h1M21 133h2M31 133h2M80 133h2M20 134h3M31 134h1M80 134h1M20 135h2M31 135h1M80 135h1M20 136h2M30 136h1M80 136h1M20 137h2M30 137h1M62 137h1M75 137h6M19 138h4M30 138h1M19 139h4M29 139h2M19 140h5M28 140h2M131 140h2M19 141h10M131 141h1M20 142h7M62 142h1M78 142h1M130 142h1M62 143h2M128 143h2M63 144h4M127 144h1M81 145h1M101 145h1M103 145h1M125 145h2M61 146h1M101 146h1M104 146h1M111 146h14M60 147h2M101 147h1M103 147h2M109 147h2M59 148h2M101 148h3M109 148h1M39 149h1M45 149h2M57 149h4M101 149h2M109 149h1M36 150h2M48 150h2M55 150h5M100 150h2M35 151h2M49 151h10M81 151h1M34 152h2M49 152h8M33 153h4M47 153h2M33 154h4M45 154h1M80 154h1M37 155h6M26 156h6M79 156h1M110 156h1M24 157h8M22 158h10M112 158h1M19 159h7M29 159h3M78 159h1M114 159h2M120 159h3M17 160h4M30 160h2M122 160h3M16 161h2M31 161h2M77 161h1M124 161h2M15 162h1M32 162h1M125 162h2M14 163h1M32 163h1M76 163h1M126 163h2M13 164h1M32 164h1M127 164h2M12 165h1M33 165h1M75 165h1M128 165h1M11 166h2M33 166h1M128 166h1M11 167h1M33 167h1M74 167h1M128 167h1M11 168h1M34 168h1M128 168h2M10 169h2M34 169h1M129 169h1M10 170h2M34 170h1M129 170h1M10 171h1M34 171h1M129 171h1M10 172h1M34 172h1M69 172h1M130 172h1M10 173h1M68 173h1M130 173h1M35 174h1M65 174h3M131 174h1M63 175h4M131 175h1M37 176h2M61 176h4M132 176h1M40 177h1M60 177h7M132 177h1M42 178h1M60 178h8M132 178h1M43 179h1M61 179h14M132 179h1M44 180h1M132 180h1M44 181h2M54 181h3M77 181h1M132 181h1M46 182h2M52 182h6M78 182h3M132 182h1M48 183h10M81 183h1M132 183h1M54 184h4M81 184h1M131 184h1M56 185h2M81 185h1M131 185h1M36 186h1M56 186h2M81 186h1M130 186h1M57 187h1M129 187h1M57 188h1M129 188h1M57 189h1M129 189h1M129 190h1M129 191h1M80 192h1M129 192h1M129 193h1M56 194h1M129 194h1M56 195h1M80 195h1M129 195h2M56 196h1M129 196h2M56 197h1M56 199h1M56 200h1M77 200h1M56 201h1M77 202h1M75 203h2M55 204h1M54 207h1M70 209h1M53 210h1M69 210h1M53 211h1M68 211h1M51 212h2M67 212h1M49 213h2M66 213h1M43 214h1M65 214h1M63 215h1M63 216h1M41 217h1M63 217h1M41 219h1M64 219h1M41 220h1M65 221h1M65 222h2M38 223h1M67 223h1M36 224h1M68 224h1M35 225h1M69 225h1M34 226h1M71 226h1M32 227h1M72 227h2M29 228h2M74 228h2M23 229h6M77 229h1M23 230h3M78 230h2M79 231h2M80 232h1"/><path stroke="#7d929c" d="M114 100h5M110 101h4M106 102h4M124 102h1M106 103h1M33 104h4M105 104h1M127 104h1M31 105h1M38 105h1M105 105h1M128 105h1M30 106h1M129 106h1M29 107h1M28 109h1M131 109h1M28 110h1M28 111h1M39 111h1M28 112h1M39 112h1M104 112h1M28 113h1M104 113h1M28 114h1M28 115h1M38 115h1M27 116h2M37 116h1M26 117h3M37 117h1M26 118h2M36 118h1M103 118h1M25 119h2M35 119h2M102 119h1M24 120h2M35 120h2M101 120h1M23 121h3M35 121h1M22 122h3M35 122h1M21 123h3M35 123h1M21 124h3M35 124h1M93 124h2M21 125h3M35 125h1M20 126h3M34 126h1M89 126h1M20 127h3M34 127h1M88 127h1M20 128h2M34 128h1M87 128h1M19 129h3M86 129h1M19 130h2M33 130h1M19 131h2M33 131h1M83 131h1M19 132h2M33 132h1M80 132h2M18 133h3M79 133h1M18 134h2M32 134h1M65 134h2M70 134h2M79 134h1M18 135h2M63 135h1M73 135h1M79 135h1M17 136h3M31 136h1M62 136h1M74 136h1M78 136h2M16 137h4M31 137h1M13 138h6M31 138h1M10 139h9M31 139h1M61 139h1M10 140h9M30 140h2M61 140h1M9 141h10M29 141h2M61 141h1M132 141h1M10 142h10M27 142h3M61 142h1M74 142h1M131 142h1M13 143h16M61 143h1M71 143h1M79 143h1M130 143h1M16 144h11M61 144h2M67 144h2M80 144h1M128 144h2M18 145h7M60 145h5M102 145h1M127 145h1M60 146h1M62 146h2M81 146h1M102 146h2M125 146h2M59 147h1M62 147h1M102 147h1M111 147h14M57 148h2M61 148h2M110 148h2M36 149h3M47 149h3M54 149h3M61 149h1M110 149h1M32 150h4M50 150h5M60 150h1M81 150h1M110 150h1M30 151h5M59 151h1M110 151h1M27 152h7M57 152h3M110 152h1M23 153h10M49 153h8M80 153h1M110 153h1M22 154h11M46 154h2M110 154h1M21 155h16M43 155h1M79 155h1M110 155h1M20 156h6M32 156h5M19 157h5M32 157h3M111 157h1M122 157h4M18 158h4M32 158h2M78 158h1M113 158h1M120 158h7M17 159h2M32 159h2M116 159h4M123 159h4M15 160h2M32 160h2M77 160h1M125 160h3M14 161h2M33 161h1M126 161h3M13 162h2M33 162h1M76 162h1M127 162h2M12 163h2M33 163h1M128 163h2M11 164h2M33 164h1M75 164h1M129 164h1M11 165h1M34 165h1M129 165h1M10 166h1M34 166h1M74 166h1M129 166h2M9 167h2M34 167h1M129 167h2M9 168h2M73 168h1M130 168h1M9 169h1M35 169h1M72 169h1M130 169h1M8 170h2M35 170h1M71 170h1M130 170h1M9 171h1M35 171h1M70 171h1M130 171h2M35 172h1M68 172h1M131 172h1M35 173h1M66 173h2M131 173h2M36 174h1M63 174h2M132 174h1M36 175h2M60 175h3M132 175h1M39 176h2M59 176h2M41 177h1M57 177h3M43 178h1M54 178h6M44 179h1M52 179h9M133 179h1M45 180h1M52 180h19M75 180h1M133 180h1M46 181h2M50 181h4M57 181h6M76 181h1M48 182h4M58 182h4M77 182h1M58 183h3M79 183h2M58 184h2M132 184h1M58 185h2M132 185h1M58 186h1M131 186h1M58 187h1M80 187h1M130 187h1M58 188h1M80 188h1M130 188h1M80 189h1M130 189h1M57 190h1M130 190h2M57 191h1M80 191h1M130 191h2M57 192h1M130 192h2M130 193h2M130 194h2M131 195h1M131 196h1M79 197h1M56 198h1M78 198h1M56 202h1M56 203h1M55 205h1M73 206h1M54 208h1M71 208h1M54 209h1M54 210h1M53 212h1M51 213h2M64 214h1M42 215h1M62 215h1M62 216h1M63 218h1M64 220h1M40 222h1M66 223h1M37 224h1M67 224h1M36 225h1M35 226h1M70 226h1M33 227h1M71 227h1M31 228h1M73 228h1M29 229h2M75 229h2M26 230h2M77 230h1M23 231h3M78 231h1M79 232h1"/><path stroke="#7a9694" d="M121 99h2M109 100h5M123 100h1M103 101h7M102 102h4M104 103h2M126 103h1M32 104h1M37 104h1M104 104h1M29 106h1M39 106h1M28 107h1M130 107h1M28 108h1M40 108h1M40 109h1M104 109h1M27 110h1M104 110h1M132 110h1M27 111h1M104 111h1M27 112h1M27 113h1M39 113h1M26 114h2M39 114h1M26 115h2M25 116h2M38 116h1M24 117h2M38 117h1M23 118h3M37 118h2M22 119h3M37 119h1M21 120h3M37 120h1M20 121h3M36 121h2M19 122h3M36 122h1M98 122h1M18 123h3M36 123h1M18 124h3M36 124h1M92 124h1M18 125h3M90 125h1M17 126h3M35 126h1M17 127h3M35 127h1M17 128h3M17 129h2M34 129h1M16 130h3M34 130h1M84 130h1M16 131h3M34 131h1M82 131h1M15 132h4M79 132h1M14 133h4M33 133h1M78 133h1M12 134h6M33 134h1M64 134h1M67 134h3M72 134h1M78 134h1M10 135h8M32 135h1M77 135h2M9 136h8M32 136h1M75 136h3M8 137h8M32 137h1M61 137h1M7 138h6M61 138h1M7 139h3M32 139h1M7 140h3M7 141h2M31 141h1M133 141h1M7 142h3M30 142h2M60 142h1M75 142h1M77 142h1M132 142h1M8 143h5M29 143h2M60 143h1M72 143h1M131 143h1M9 144h7M27 144h2M60 144h1M69 144h1M130 144h1M12 145h6M25 145h3M59 145h1M65 145h1M128 145h2M14 146h14M59 146h1M127 146h1M16 147h11M57 147h2M63 147h1M81 147h1M125 147h2M17 148h11M39 148h7M55 148h2M81 148h1M112 148h14M18 149h18M50 149h4M81 149h1M111 149h3M118 149h7M19 150h13M61 150h1M111 150h1M19 151h11M60 151h1M111 151h1M19 152h8M60 152h1M80 152h1M111 152h1M19 153h4M57 153h3M111 153h1M123 153h3M18 154h4M48 154h9M79 154h1M111 154h1M122 154h6M18 155h3M44 155h1M111 155h1M121 155h7M17 156h3M37 156h3M111 156h1M120 156h9M16 157h3M35 157h2M78 157h1M112 157h1M119 157h3M126 157h3M15 158h3M34 158h2M114 158h6M127 158h2M14 159h3M34 159h1M77 159h1M127 159h2M13 160h2M34 160h1M128 160h1M12 161h2M34 161h1M76 161h1M11 162h2M34 162h1M10 163h2M34 163h1M75 163h1M10 164h1M34 164h1M9 165h2M74 165h1M130 165h1M9 166h1M35 166h1M131 166h1M35 167h1M73 167h1M131 167h1M8 168h1M35 168h1M131 168h1M7 169h2M131 169h1M131 170h1M36 171h1M69 171h1M132 171h1M36 172h1M67 172h1M132 172h1M36 173h1M65 173h1M133 173h1M37 174h1M60 174h3M133 174h1M38 175h2M58 175h2M41 176h1M56 176h3M42 177h1M52 177h5M44 178h1M51 178h3M45 179h1M50 179h2M46 180h6M71 180h1M74 180h1M48 181h2M63 181h7M62 182h1M61 183h1M78 183h1M60 184h2M80 184h1M133 184h1M60 185h1M80 185h1M133 185h1M59 186h2M80 186h1M132 186h1M59 187h1M131 187h2M59 188h1M131 188h2M58 189h1M131 189h2M58 190h1M80 190h1M132 190h1M132 191h1M132 192h1M57 193h1M132 193h1M57 194h1M132 194h1M57 195h1M132 195h1M57 196h1M132 196h1M57 197h1M132 197h1M77 199h1M57 200h1M57 201h1M74 203h1M56 204h1M55 206h1M55 207h1M72 207h1M70 208h1M69 209h1M54 211h1M54 212h1M53 213h2M65 213h1M44 214h8M60 214h4M60 215h2M61 216h1M62 217h1M41 221h1M64 221h1M64 222h1M39 223h1M65 223h1M68 225h1M69 226h1M34 227h1M70 227h1M32 228h2M72 228h1M31 229h1M73 229h2M28 230h2M75 230h2M26 231h2M77 231h1M22 232h4M78 232h1M21 233h2M78 233h2"/><path stroke="#789a8c" d="M129 72h2M128 73h4M129 74h3M129 75h2M113 99h8M123 99h1M105 100h4M102 101h1M124 101h1M125 102h1M33 103h4M103 103h1M31 104h1M38 104h1M128 104h1M30 105h1M39 105h1M104 105h1M28 106h1M40 106h1M104 106h1M40 107h1M104 107h1M27 108h1M104 108h1M131 108h1M27 109h1M40 110h1M26 111h1M40 111h1M26 112h1M26 113h1M25 114h1M24 115h2M39 115h1M103 115h1M23 116h2M39 116h1M103 116h1M22 117h2M39 117h1M103 117h1M20 118h3M19 119h3M38 119h1M17 120h4M38 120h1M16 121h4M38 121h1M16 122h3M37 122h1M15 123h3M37 123h1M96 123h1M14 124h4M91 124h1M14 125h4M36 125h1M89 125h1M14 126h3M36 126h1M13 127h4M13 128h4M35 128h1M12 129h5M35 129h1M85 129h1M12 130h4M83 130h1M10 131h6M81 131h1M9 132h6M34 132h1M78 132h1M8 133h6M34 133h1M77 133h1M7 134h5M73 134h1M77 134h1M6 135h4M33 135h1M62 135h1M74 135h1M76 135h1M5 136h4M5 137h3M4 138h3M32 138h1M4 139h3M4 140h3M32 140h1M60 140h1M4 141h3M32 141h1M60 141h1M4 142h3M32 142h1M76 142h1M133 142h2M5 143h3M31 143h1M132 143h2M6 144h3M29 144h3M59 144h1M70 144h1M131 144h2M7 145h5M28 145h3M66 145h2M130 145h1M10 146h4M28 146h4M58 146h1M64 146h1M128 146h2M12 147h4M27 147h7M56 147h1M127 147h2M13 148h4M28 148h11M46 148h5M52 148h3M63 148h1M126 148h2M14 149h4M62 149h1M114 149h4M125 149h2M15 150h4M112 150h15M15 151h4M61 151h1M112 151h1M118 151h10M16 152h3M112 152h1M119 152h9M16 153h3M60 153h1M79 153h1M112 153h1M120 153h3M126 153h3M15 154h3M57 154h2M120 154h2M128 154h1M15 155h3M45 155h3M112 155h1M119 155h2M128 155h2M15 156h2M40 156h2M78 156h1M112 156h1M119 156h1M129 156h1M14 157h2M37 157h1M113 157h6M129 157h2M13 158h2M36 158h1M77 158h1M129 158h1M12 159h2M35 159h1M11 160h2M35 160h1M76 160h1M10 161h2M35 161h1M9 162h2M75 162h1M8 163h2M35 163h1M9 164h1M35 164h1M74 164h1M35 165h1M73 166h1M36 167h1M132 167h1M36 168h1M72 168h1M132 168h1M36 169h1M71 169h1M132 169h1M36 170h1M70 170h1M68 171h1M37 172h1M66 172h1M37 173h1M62 173h3M38 174h2M58 174h2M40 175h2M56 175h2M42 176h1M52 176h4M43 177h1M51 177h1M45 178h1M50 178h1M46 179h4M72 180h2M70 181h1M75 181h1M63 182h3M68 182h1M76 182h1M62 183h1M77 183h1M78 184h2M61 185h1M79 185h1M134 185h1M79 186h1M133 186h2M60 187h1M79 187h1M133 187h1M60 188h1M133 188h1M59 189h1M133 189h1M59 190h1M133 190h1M58 191h1M133 191h1M58 192h1M133 192h1M133 193h1M133 194h1M133 195h1M79 196h1M133 196h1M133 197h2M57 198h1M57 199h1M57 202h1M76 202h1M56 205h1M73 205h1M71 207h1M55 208h1M55 209h1M55 210h1M68 210h1M55 211h1M67 211h1M55 212h1M66 212h1M55 213h2M58 213h7M52 214h8M50 215h1M58 215h2M42 216h1M59 216h2M42 217h1M61 217h1M42 218h1M62 218h1M42 219h1M63 219h1M42 220h1M41 222h1M38 224h1M66 224h1M37 225h1M67 225h1M36 226h1M68 226h1M35 227h1M69 227h1M71 228h1M32 229h1M72 229h1M30 230h1M74 230h1M28 231h1M75 231h2M26 232h2M76 232h2M23 233h2M77 233h1M22 234h1M78 234h1"/><path stroke="#759e83" d="M129 71h2M128 72h1M131 72h1M128 74h1M128 75h1M131 75h1M129 76h2M121 98h3M108 99h5M103 100h2M126 102h1M32 103h1M37 103h1M102 103h1M127 103h1M30 104h1M39 104h1M103 104h1M29 105h1M40 105h1M129 105h1M130 106h1M27 107h1M26 108h1M26 109h1M132 109h1M26 110h1M133 110h1M25 111h1M25 112h1M40 112h1M24 113h2M40 113h1M103 113h1M24 114h1M40 114h1M103 114h1M22 115h2M40 115h1M21 116h2M19 117h3M17 118h3M39 118h1M102 118h1M16 119h3M39 119h1M15 120h2M39 120h1M100 120h1M13 121h3M99 121h1M12 122h4M38 122h1M12 123h3M38 123h1M90 123h1M11 124h3M37 124h1M90 124h1M11 125h3M37 125h1M10 126h4M88 126h1M10 127h3M36 127h1M87 127h1M9 128h4M36 128h1M86 128h1M8 129h4M7 130h5M35 130h1M6 131h4M79 131h2M5 132h4M77 132h1M4 133h4M76 133h1M3 134h4M63 134h1M74 134h1M76 134h1M3 135h3M75 135h1M3 136h2M33 136h1M61 136h1M3 137h2M3 138h1M3 139h1M33 139h1M60 139h1M33 140h1M33 141h1M59 141h1M59 142h1M4 143h1M32 143h1M59 143h1M78 143h1M134 143h1M4 144h2M32 144h1M133 144h1M4 145h3M31 145h2M58 145h1M68 145h1M80 145h1M131 145h2M5 146h5M32 146h2M57 146h1M65 146h1M130 146h2M6 147h6M34 147h3M55 147h1M64 147h1M129 147h1M8 148h5M51 148h1M128 148h2M10 149h4M127 149h2M11 150h4M62 150h1M127 150h2M12 151h3M80 151h1M113 151h5M128 151h2M12 152h4M61 152h1M113 152h2M116 152h3M128 152h2M12 153h4M113 153h1M117 153h3M129 153h2M12 154h3M59 154h1M112 154h2M118 154h2M129 154h2M12 155h3M48 155h9M78 155h1M113 155h1M117 155h2M130 155h2M12 156h3M42 156h1M113 156h6M130 156h2M11 157h3M38 157h1M77 157h1M131 157h1M10 158h3M37 158h1M9 159h3M36 159h1M76 159h1M8 160h3M8 161h2M75 161h1M8 162h1M35 162h1M74 163h1M36 165h1M73 165h1M36 166h1M72 167h1M37 169h1M37 170h1M69 170h1M37 171h1M67 171h1M38 172h1M65 172h1M38 173h2M59 173h3M40 174h1M56 174h2M42 175h1M52 175h4M43 176h1M50 176h2M44 177h2M49 177h2M46 178h4M71 181h1M66 182h2M69 182h2M63 183h2M62 184h1M62 185h1M78 185h1M61 186h1M135 186h1M61 187h1M134 187h2M79 188h1M134 188h2M60 189h1M134 189h2M134 190h2M59 191h1M134 191h1M134 192h1M58 193h1M134 193h1M58 194h1M134 194h2M58 195h1M79 195h1M134 195h2M58 196h1M134 196h2M78 197h1M76 201h1M75 202h1M57 203h1M73 204h1M56 206h1M72 206h1M70 207h1M69 208h1M68 209h1M56 210h1M56 211h1M56 212h7M65 212h1M57 213h1M43 215h1M48 215h2M51 215h7M58 216h1M59 217h2M61 218h1M63 220h1M42 221h1M40 223h1M64 223h1M39 224h1M65 224h1M37 226h1M36 227h1M34 228h1M70 228h1M33 229h1M71 229h1M31 230h1M72 230h2M29 231h2M74 231h1M28 232h1M75 232h1M25 233h2M76 233h1M23 234h2M77 234h1M22 235h1M77 235h1"/><path stroke="#72a27b" d="M129 70h2M128 71h1M131 71h1M132 72h1M132 73h1M132 74h1M132 75h1M131 76h1M114 98h4M120 98h1M104 99h4M102 100h1M124 100h1M101 101h1M125 101h1M32 102h5M101 102h1M31 103h1M38 103h1M128 103h1M29 104h1M28 105h1M103 105h1M27 106h1M103 106h1M26 107h1M41 107h1M41 108h1M25 109h1M41 109h1M103 109h1M25 110h1M41 110h1M103 110h1M24 111h1M103 111h1M24 112h1M103 112h1M23 113h1M22 114h2M20 115h2M18 116h3M40 116h1M16 117h3M40 117h1M15 118h2M40 118h1M13 119h3M40 119h1M101 119h1M12 120h3M10 121h3M39 121h1M10 122h2M39 122h1M90 122h1M9 123h3M89 123h1M91 123h2M94 123h2M8 124h3M38 124h1M89 124h1M7 125h4M7 126h3M37 126h1M6 127h4M37 127h1M5 128h4M4 129h4M36 129h1M84 129h1M4 130h3M82 130h1M4 131h2M35 131h1M77 131h2M3 132h2M35 132h1M76 132h1M3 133h1M65 133h1M71 133h2M75 133h1M34 134h1M75 134h1M33 137h1M33 138h1M60 138h1M59 140h1M33 142h1M33 143h1M58 143h1M73 143h1M135 143h1M33 144h1M58 144h1M71 144h1M79 144h1M134 144h2M3 145h1M33 145h2M57 145h1M69 145h1M133 145h2M3 146h2M34 146h2M56 146h1M66 146h1M80 146h1M132 146h2M3 147h3M37 147h10M52 147h3M130 147h3M4 148h4M130 148h2M5 149h5M63 149h1M129 149h3M6 150h5M80 150h1M129 150h3M7 151h5M62 151h1M130 151h2M7 152h5M79 152h1M115 152h1M130 152h2M8 153h4M61 153h1M114 153h3M131 153h1M8 154h4M60 154h1M78 154h1M114 154h4M131 154h2M8 155h4M57 155h2M114 155h3M132 155h1M7 156h5M43 156h1M50 156h6M132 156h1M8 157h3M39 157h1M8 158h2M8 159h1M36 160h1M75 160h1M36 161h1M36 162h1M74 162h1M36 163h1M36 164h1M73 164h1M37 166h1M72 166h1M37 167h1M37 168h1M71 168h1M70 169h1M38 170h1M68 170h1M38 171h1M66 171h1M39 172h1M60 172h5M40 173h1M57 173h2M41 174h1M54 174h2M43 175h1M51 175h1M44 176h1M49 176h1M46 177h3M72 181h1M74 181h1M75 182h1M65 183h2M68 183h2M76 183h1M63 184h1M77 184h1M62 186h1M78 186h1M136 187h1M61 188h1M136 188h1M61 189h1M79 189h1M136 189h1M60 190h1M136 190h1M135 191h2M59 192h1M135 192h2M79 193h1M135 193h2M79 194h1M136 194h1M136 195h1M58 197h1M58 198h1M77 198h1M58 199h1M58 200h1M76 200h1M58 201h1M57 204h1M57 205h1M56 207h1M69 207h1M56 208h1M68 208h1M56 209h1M67 210h1M57 211h1M66 211h1M63 212h2M46 215h2M49 216h6M56 216h2M58 217h1M60 218h1M62 219h1M63 221h1M63 222h1M38 225h1M66 225h1M67 226h1M68 227h1M35 228h1M69 228h1M70 229h1M32 230h1M71 230h1M31 231h1M72 231h2M29 232h1M74 232h1M27 233h1M75 233h1M25 234h2M76 234h1M23 235h2M23 236h1M77 236h1M77 237h1"/><path stroke="#6fa773" d="M128 70h1M131 70h1M132 71h1M127 72h1M127 73h1M133 73h1M127 74h1M133 74h1M128 76h1M132 76h1M129 77h3M122 97h2M107 98h7M118 98h2M103 99h1M124 99h1M32 101h4M31 102h1M37 102h2M127 102h1M30 103h1M39 103h1M28 104h1M40 104h1M102 104h1M129 104h1M27 105h1M41 105h1M130 105h1M26 106h1M41 106h1M25 107h1M103 107h1M131 107h1M25 108h1M103 108h1M132 108h1M24 109h1M133 109h1M24 110h1M134 110h1M23 111h1M41 111h1M22 112h2M41 112h1M21 113h2M20 114h2M41 114h1M18 115h2M41 115h1M16 116h2M41 116h1M14 117h2M41 117h1M102 117h1M12 118h3M10 119h3M9 120h3M40 120h1M8 121h2M40 121h1M7 122h3M89 122h1M97 122h1M6 123h3M39 123h1M93 123h1M5 124h3M39 124h1M5 125h2M38 125h1M88 125h1M5 126h2M38 126h1M4 127h2M4 128h1M37 128h1M85 128h1M36 130h1M80 130h2M76 131h1M75 132h1M35 133h1M64 133h1M66 133h1M70 133h1M73 133h2M34 135h1M60 137h1M59 139h1M34 140h1M34 141h1M58 141h1M34 142h1M58 142h1M34 143h1M34 144h1M57 144h1M136 144h1M135 145h2M36 146h1M55 146h1M67 146h1M134 146h2M47 147h5M65 147h1M80 147h1M133 147h2M64 148h1M80 148h1M132 148h3M80 149h1M132 149h2M63 150h1M132 150h2M79 151h1M132 151h2M62 152h1M132 152h2M7 153h1M78 153h1M132 153h2M7 154h1M61 154h1M133 154h2M7 155h1M59 155h1M133 155h2M44 156h6M56 156h2M77 156h1M40 157h1M53 157h1M38 158h1M76 158h1M37 159h1M37 160h1M74 161h1M73 163h1M37 164h1M37 165h1M72 165h1M71 167h1M38 168h1M70 168h1M38 169h1M69 169h1M39 170h1M67 170h1M39 171h1M65 171h1M40 172h1M57 172h3M41 173h1M55 173h2M42 174h1M51 174h3M44 175h1M50 175h1M45 176h2M48 176h1M73 181h1M71 182h1M67 183h1M70 183h1M75 183h1M64 184h1M76 184h1M63 185h1M77 185h1M62 187h1M78 187h1M137 188h1M137 189h1M61 190h1M137 190h2M60 191h1M137 191h2M137 192h1M59 193h1M137 193h1M59 194h1M137 194h1M59 195h1M59 196h1M58 202h1M74 202h1M58 203h1M73 203h1M72 205h1M57 206h1M71 206h1M57 209h1M67 209h1M57 210h1M66 210h1M58 211h5M65 211h1M44 215h2M43 216h1M48 216h1M55 216h1M49 217h5M57 217h1M43 218h1M59 218h1M43 219h1M61 219h1M43 220h1M62 220h1M42 222h1M41 223h1M40 224h1M64 224h1M37 227h1M67 227h1M36 228h1M68 228h1M34 229h1M69 229h1M33 230h1M70 230h1M71 231h1M30 232h1M73 232h1M28 233h2M74 233h1M27 234h1M75 234h1M25 235h1M76 235h1M24 236h1M76 236h1M23 237h1M76 237h1M17 256h1"/><path stroke="#6dab6a" d="M128 69h4M132 70h1M127 71h1M133 71h1M133 72h1M127 75h1M133 75h1M128 77h1M114 97h2M120 97h2M104 98h3M124 98h1M102 99h1M33 100h3M101 100h1M31 101h1M36 101h3M126 101h1M30 102h1M39 102h1M128 102h1M29 103h1M40 103h1M101 103h1M129 103h1M27 104h1M41 104h1M26 105h1M25 106h1M131 106h1M42 107h1M24 108h1M42 108h1M42 109h1M23 110h1M22 111h1M21 112h1M19 113h2M41 113h1M17 114h3M102 114h1M15 115h3M102 115h1M13 116h3M102 116h1M11 117h3M9 118h3M41 118h1M8 119h2M41 119h1M7 120h2M41 120h1M6 121h2M98 121h1M5 122h2M40 122h1M91 122h1M4 123h2M40 123h1M39 125h1M87 126h1M38 127h1M86 127h1M37 129h1M83 129h1M77 130h3M36 131h1M75 131h1M73 132h2M67 133h1M69 133h1M62 134h1M61 135h1M34 136h1M34 138h1M34 139h1M58 140h1M57 142h1M57 143h1M74 143h1M77 143h1M35 145h1M56 145h1M70 145h1M137 145h1M37 146h1M52 146h3M68 146h1M136 146h2M66 147h1M135 147h3M135 148h2M64 149h1M134 149h3M134 150h2M63 151h1M134 151h2M78 152h1M134 152h2M62 153h1M134 153h2M135 154h1M60 155h1M77 155h1M58 156h1M49 157h4M54 157h3M76 157h1M38 159h1M75 159h1M74 160h1M37 161h1M37 162h1M73 162h1M37 163h1M72 164h1M38 166h1M71 166h1M38 167h1M39 169h1M68 169h1M66 170h1M40 171h1M58 171h7M41 172h1M56 172h1M42 173h1M54 173h1M43 174h1M50 174h1M45 175h1M48 175h2M47 176h1M72 182h1M74 182h1M71 183h1M65 184h1M63 186h1M77 186h1M62 188h1M78 188h1M62 189h1M79 190h1M79 191h1M60 192h1M79 192h1M78 196h1M59 197h1M76 199h1M75 201h1M58 204h1M72 204h1M70 206h1M57 207h1M68 207h1M57 208h1M58 209h1M58 210h3M63 211h2M47 216h1M43 217h1M48 217h1M54 217h3M49 218h5M58 218h1M60 219h1M43 221h1M62 221h1M63 223h1M39 225h1M65 225h1M38 226h1M66 226h1M35 229h1M34 230h1M32 231h1M31 232h1M72 232h1M30 233h1M73 233h1M28 234h1M74 234h1M26 235h2M75 235h1M25 236h1M24 237h1M76 238h1M19 254h1M18 255h2M18 256h2M18 257h2M19 258h1"/><path stroke="#6aaf62" d="M237 61h1M234 62h3M233 63h3M229 67h1M129 68h3M228 68h1M132 69h1M226 69h2M127 70h1M133 70h1M225 70h2M134 72h1M222 72h1M134 73h1M127 76h1M133 76h1M132 77h1M129 78h2M43 87h1M42 88h1M35 93h2M35 94h2M35 95h1M105 97h9M116 97h4M124 97h1M34 98h3M103 98h1M32 99h6M31 100h2M36 100h4M125 100h1M30 101h1M39 101h2M100 101h1M127 101h1M29 102h1M40 102h2M100 102h1M28 103h1M41 103h1M26 104h1M130 104h1M25 105h1M42 105h1M102 105h1M131 105h1M42 106h1M102 106h1M24 107h1M23 108h1M133 108h1M22 109h2M134 109h1M21 110h2M42 110h1M102 110h1M135 110h1M20 111h2M42 111h1M102 111h1M18 112h3M102 112h1M16 113h3M102 113h1M14 114h3M12 115h3M42 115h1M10 116h3M42 116h1M8 117h3M42 117h1M7 118h2M101 118h1M5 119h3M100 119h1M4 120h3M99 120h1M4 121h2M41 121h1M4 122h1M41 122h1M40 124h1M88 124h1M39 126h1M38 128h1M84 128h1M82 129h1M76 130h1M74 131h1M71 132h2M63 133h1M68 133h1M35 134h1M60 136h1M34 137h1M59 138h1M57 141h1M35 142h1M35 143h1M35 144h1M56 144h1M72 144h1M36 145h1M55 145h1M79 145h1M38 146h8M50 146h2M69 146h1M138 146h1M67 147h1M138 147h1M65 148h1M137 148h2M137 149h2M79 150h1M136 150h2M136 151h2M63 152h1M136 152h2M136 153h1M62 154h1M77 154h1M61 155h1M59 156h2M41 157h1M48 157h1M57 157h1M39 158h1M50 158h6M75 158h1M38 160h1M73 161h1M72 163h1M38 164h1M38 165h1M71 165h1M39 167h1M70 167h1M39 168h1M69 168h1M40 169h1M67 169h1M40 170h1M65 170h1M41 171h1M56 171h2M42 172h1M55 172h1M43 173h1M52 173h2M44 174h1M49 174h1M46 175h2M73 182h1M72 183h1M74 183h1M66 184h5M75 184h1M64 185h1M76 185h1M63 187h1M62 190h1M61 191h1M60 193h1M77 197h1M59 198h1M59 199h1M59 200h1M58 205h1M71 205h1M58 206h1M69 206h1M58 207h1M58 208h1M67 208h1M59 209h1M66 209h1M61 210h2M64 210h2M46 216h1M47 217h1M48 218h1M54 218h2M57 218h1M44 219h1M50 219h4M59 219h1M44 220h1M61 220h1M43 222h1M62 222h1M42 223h1M41 224h1M66 227h1M37 228h1M67 228h1M68 229h1M69 230h1M33 231h1M70 231h1M32 232h1M71 232h1M31 233h1M72 233h1M29 234h1M73 234h1M28 235h1M74 235h1M26 236h2M75 236h1M25 237h2M75 237h1M24 238h2M75 238h1M24 239h1M75 239h1M75 240h1M75 241h1M22 251h1M21 252h2M20 253h3M20 254h3M20 255h2M20 256h2M20 257h2M20 258h2M20 259h2M22 260h1"/><path stroke="#6cb463" d="M264 41h1M263 42h1M262 43h1M261 44h1M260 45h1M258 46h2M242 56h1M239 57h3M236 58h5M234 59h6M232 60h7M231 61h6M230 62h4M229 63h1M228 64h1M227 65h2M227 66h3M129 67h3M226 67h3M128 68h1M132 68h1M225 68h3M127 69h1M133 69h1M223 69h3M222 70h3M134 71h1M220 71h4M220 72h2M134 74h1M134 75h1M127 77h1M128 78h1M131 78h1M49 80h1M47 81h3M46 82h4M44 83h6M39 84h10M38 85h11M37 86h11M36 87h7M44 87h4M35 88h7M43 88h4M34 89h11M34 90h10M34 91h9M33 92h10M33 93h2M37 93h5M33 94h2M37 94h5M33 95h2M36 95h5M33 96h8M120 96h4M32 97h9M104 97h1M32 98h2M37 98h4M31 99h1M38 99h3M30 100h1M40 100h2M29 101h1M41 101h1M128 101h1M28 102h1M42 102h1M129 102h1M27 103h1M42 103h1M130 103h1M42 104h1M101 104h1M24 106h1M23 107h1M102 107h1M132 107h1M22 108h1M102 108h1M134 108h1M21 109h1M102 109h1M135 109h1M19 110h2M17 111h3M15 112h3M42 112h1M13 113h3M42 113h1M11 114h3M42 114h1M9 115h3M7 116h3M6 117h2M4 118h3M42 118h1M4 119h1M42 119h1M42 120h1M70 120h2M70 121h2M90 121h1M70 122h2M92 122h1M96 122h1M41 123h1M88 123h1M40 125h1M87 125h1M39 127h1M85 127h1M81 129h1M37 130h1M74 130h2M73 131h1M36 132h1M59 137h1M58 139h1M35 140h1M57 140h1M35 141h1M56 142h1M56 143h1M75 143h2M36 144h1M78 144h1M37 145h1M52 145h3M71 145h1M46 146h4M68 147h1M79 149h1M64 150h1M138 150h1M78 151h1M138 151h1M63 153h1M77 153h1M62 155h1M61 156h1M76 156h1M42 157h1M46 157h2M58 157h2M40 158h1M49 158h1M56 158h2M39 159h1M51 159h5M74 159h1M38 161h1M38 162h1M72 162h1M38 163h1M71 164h1M39 165h1M70 165h1M39 166h1M70 166h1M69 167h1M40 168h1M68 168h1M66 169h1M41 170h1M56 170h6M64 170h1M42 171h1M55 171h1M43 172h1M54 172h1M44 173h1M51 173h1M45 174h4M73 183h1M71 184h4M65 185h1M75 185h1M76 186h1M77 187h1M63 188h1M78 189h1M61 192h1M60 194h1M60 195h1M78 195h1M60 196h1M75 200h1M59 201h1M74 201h1M59 202h1M73 202h1M59 203h1M72 203h1M59 204h1M59 205h1M70 205h1M68 206h1M67 207h1M59 208h1M60 209h1M65 209h1M63 210h1M44 216h2M44 217h1M46 217h1M44 218h1M47 218h1M56 218h1M48 219h2M54 219h1M58 219h1M50 220h3M59 220h2M44 221h1M61 221h1M62 223h1M63 224h1M40 225h1M64 225h1M39 226h1M65 226h1M38 227h1M36 229h1M67 229h1M35 230h1M68 230h1M34 231h1M69 231h1M33 232h1M70 232h1M32 233h1M71 233h1M30 234h1M72 234h1M29 235h1M73 235h1M28 236h1M74 236h1M27 237h1M74 237h1M26 238h1M74 238h1M25 239h1M74 239h1M24 240h2M74 240h1M24 241h1M24 242h1M75 242h1M23 250h2M23 251h2M23 252h2M23 253h2M23 254h2M22 255h3M22 256h3M22 257h3M22 258h2M22 259h3M23 260h2M23 261h2M26 280h1M26 281h1M25 282h3M26 283h3M27 284h3M28 285h1M30 285h1M32 286h1M33 287h1"/><path stroke="#6eba64" d="M251 0h8M253 1h7M256 2h5M257 3h5M259 4h4M260 5h6M261 6h9M261 7h11M262 8h11M262 9h12M263 10h12M263 11h12M264 12h11M264 13h11M264 14h11M264 15h11M265 16h10M265 17h10M265 18h10M264 19h11M264 20h10M264 21h9M263 22h9M263 23h8M262 24h9M262 25h8M261 26h8M261 27h7M261 28h7M261 29h7M260 30h8M260 31h9M260 32h9M260 33h8M260 34h7M259 35h8M259 36h7M258 37h8M258 38h8M257 39h8M256 40h9M255 41h9M254 42h9M253 43h9M253 44h8M252 45h8M251 46h7M250 47h7M249 48h5M248 49h4M247 50h4M245 51h5M244 52h2M242 53h4M239 54h6M236 55h8M57 56h1M233 56h9M231 57h8M230 58h6M229 59h5M228 60h4M227 61h4M227 62h3M226 63h3M226 64h2M225 65h2M129 66h4M224 66h3M128 67h1M132 67h1M223 67h3M127 68h1M133 68h1M222 68h3M220 69h3M134 70h1M219 70h3M126 71h1M219 71h1M126 72h1M126 73h1M126 74h1M51 75h2M126 75h1M49 76h5M47 77h7M133 77h1M46 78h7M127 78h1M132 78h1M45 79h8M44 80h5M50 80h3M40 81h7M50 81h2M38 82h8M50 82h2M37 83h7M50 83h1M36 84h3M49 84h2M36 85h2M49 85h1M35 86h2M48 86h1M34 87h2M33 88h2M47 88h1M33 89h1M45 89h2M33 90h1M44 90h2M32 91h2M43 91h2M32 92h1M43 92h1M32 93h1M42 93h2M32 94h1M42 94h1M32 95h1M41 95h2M32 96h1M41 96h2M105 96h15M31 97h1M41 97h2M103 97h1M30 98h2M41 98h2M102 98h1M30 99h1M41 99h2M101 99h1M125 99h1M29 100h1M42 100h1M100 100h1M126 100h1M28 101h1M42 101h2M27 102h1M43 102h1M26 103h1M43 103h1M100 103h1M25 104h1M43 104h1M131 104h1M24 105h1M43 105h1M132 105h1M23 106h1M43 106h1M132 106h1M22 107h1M43 107h1M133 107h1M20 108h2M43 108h1M18 109h3M43 109h1M16 110h3M43 110h1M14 111h3M43 111h1M12 112h3M10 113h3M8 114h3M6 115h3M43 115h1M4 116h3M43 116h1M4 117h2M101 117h1M42 121h1M69 121h1M72 121h1M89 121h1M91 121h1M69 122h1M72 122h1M88 122h1M93 122h3M70 123h2M41 124h1M40 126h1M86 126h1M39 128h1M83 128h1M38 129h1M74 129h7M73 130h1M37 131h1M72 131h1M65 132h1M70 132h1M36 133h1M61 134h1M35 135h1M58 138h1M35 139h1M56 141h1M36 143h1M55 143h1M55 144h1M73 144h1M38 145h1M51 145h1M70 146h1M79 146h1M66 148h1M79 148h1M65 149h1M78 150h1M64 151h1M64 152h1M77 152h1M63 154h1M63 155h1M76 155h1M62 156h1M43 157h3M60 157h2M75 157h1M48 158h1M58 158h2M50 159h1M56 159h2M52 160h4M73 160h1M72 161h1M71 163h1M39 164h1M70 164h1M69 166h1M40 167h1M68 167h1M57 168h2M66 168h2M41 169h1M56 169h5M65 169h1M42 170h1M55 170h1M62 170h2M54 171h1M53 172h1M45 173h1M50 173h1M72 185h3M64 186h1M63 189h1M62 191h1M78 194h1M60 197h1M76 198h1M71 204h1M69 205h1M59 206h1M59 207h1M60 208h1M66 208h1M61 209h4M45 217h1M45 218h2M45 219h3M55 219h3M45 220h1M48 220h2M53 220h2M58 220h1M45 221h1M60 221h1M44 222h1M61 222h1M43 223h1M42 224h1M65 227h1M66 228h1M68 231h1M69 232h1M70 233h1M31 234h1M71 234h1M30 235h1M72 235h1M29 236h1M73 236h1M28 237h1M73 237h1M27 238h1M73 238h1M26 239h1M73 239h1M26 240h1M25 241h1M74 241h1M25 242h1M24 243h2M76 243h1M24 244h1M24 245h1M25 247h1M24 248h2M24 249h2M25 250h1M25 251h1M25 252h2M25 253h2M25 254h2M25 255h2M25 256h1M25 257h1M24 258h2M25 259h1M25 260h1M25 261h1M25 262h2M26 263h1M26 264h1M26 265h1M28 274h1M28 275h1M28 276h1M27 277h2M27 278h2M27 279h2M27 280h2M27 281h3M28 282h3M29 283h4M30 284h4M31 285h4M33 286h3M34 287h3M34 288h3M35 289h3"/><path stroke="#70c065" d="M236 1h1M250 1h3M249 2h7M248 3h9M248 4h11M248 5h12M250 6h11M252 7h9M253 8h9M254 9h8M254 10h9M255 11h8M255 12h9M255 13h9M256 14h8M256 15h8M256 16h9M256 17h9M256 18h9M256 19h8M256 20h8M256 21h8M256 22h7M256 23h7M256 24h6M256 25h6M256 26h5M255 27h6M255 28h6M255 29h6M255 30h5M254 31h6M254 32h6M253 33h7M252 34h8M252 35h7M251 36h8M250 37h8M250 38h8M249 39h8M249 40h7M249 41h6M248 42h6M248 43h5M247 44h6M246 45h6M245 46h6M245 47h5M244 48h5M242 49h6M241 50h6M239 51h6M237 52h7M60 53h2M234 53h8M59 54h3M232 54h7M58 55h4M230 55h6M58 56h4M229 56h4M57 57h5M228 57h3M56 58h5M227 58h3M55 59h6M226 59h3M55 60h5M226 60h2M54 61h5M225 61h2M53 62h5M224 62h3M52 63h5M224 63h2M51 64h5M223 64h3M51 65h5M130 65h3M222 65h3M51 66h6M128 66h1M133 66h1M221 66h3M49 67h8M127 67h1M133 67h1M220 67h3M48 68h9M134 68h1M219 68h3M48 69h10M126 69h1M134 69h1M218 69h2M48 70h10M126 70h1M218 70h1M47 71h11M135 71h1M47 72h11M135 72h1M46 73h12M135 73h1M45 74h13M135 74h1M44 75h7M53 75h4M43 76h6M54 76h3M126 76h1M134 76h1M42 77h5M54 77h2M41 78h5M53 78h3M39 79h6M53 79h2M128 79h4M38 80h6M53 80h2M37 81h3M52 81h2M36 82h2M52 82h1M36 83h1M51 83h2M35 84h1M51 84h1M34 85h2M50 85h1M33 86h2M49 86h1M32 87h2M48 87h1M32 88h1M48 88h1M32 89h1M47 89h1M32 90h1M46 90h1M45 91h1M31 92h1M44 92h1M31 93h1M44 93h1M31 94h1M43 94h1M31 95h1M43 95h1M108 95h4M120 95h3M31 96h1M43 96h1M104 96h1M124 96h1M30 97h1M43 97h1M102 97h1M29 98h1M43 98h1M29 99h1M43 99h1M28 100h1M43 100h1M127 100h1M27 101h1M44 101h1M99 101h1M129 101h1M26 102h1M44 102h1M99 102h1M130 102h1M25 103h1M44 103h1M131 103h1M24 104h1M132 104h2M23 105h1M101 105h1M133 105h2M22 106h1M133 106h2M20 107h2M134 107h2M17 108h3M135 108h1M14 109h4M136 109h1M12 110h4M10 111h4M9 112h3M43 112h1M101 112h1M7 113h3M43 113h1M101 113h1M5 114h3M43 114h1M101 114h1M4 115h2M101 115h1M101 116h1M43 117h1M43 118h1M100 118h1M43 119h1M70 119h2M69 120h1M72 120h1M97 121h1M42 122h1M69 123h1M72 123h1M70 124h2M87 124h1M41 125h1M40 127h1M73 129h1M38 130h1M72 130h1M71 131h1M64 132h1M66 132h1M69 132h1M62 133h1M60 135h1M35 136h1M35 137h1M35 138h1M57 139h1M56 140h1M55 141h1M36 142h1M55 142h1M54 143h1M37 144h1M52 144h3M39 145h6M50 145h1M69 147h1M79 147h1M67 148h2M66 149h1M65 150h1M77 151h1M64 153h1M64 154h1M76 154h1M63 156h1M62 157h1M41 158h1M47 158h1M60 158h2M74 158h1M49 159h1M58 159h2M73 159h1M39 160h1M50 160h2M56 160h2M39 161h1M52 161h5M39 162h1M71 162h1M39 163h1M70 163h1M40 165h1M56 165h2M69 165h1M40 166h1M56 166h3M68 166h1M41 167h1M56 167h4M66 167h2M41 168h1M56 168h1M59 168h2M65 168h1M42 169h1M55 169h1M61 169h4M43 171h1M44 172h1M52 172h1M46 173h4M66 185h1M70 185h2M75 186h1M64 187h1M77 188h1M63 190h1M62 192h1M61 193h1M61 194h1M77 196h1M60 198h1M60 199h1M75 199h1M60 203h1M60 204h1M60 205h1M60 206h2M67 206h1M60 207h2M66 207h1M61 208h2M65 208h1M46 220h2M55 220h3M46 221h8M58 221h2M45 222h2M60 222h1M44 223h1M61 223h1M62 224h1M41 225h1M63 225h1M40 226h1M64 226h1M39 227h1M38 228h1M37 229h1M66 229h1M36 230h1M67 230h1M35 231h1M34 232h1M33 233h1M69 233h1M32 234h1M70 234h1M31 235h1M71 235h1M30 236h1M72 236h1M29 237h2M72 237h1M28 238h2M72 238h1M27 239h2M27 240h1M73 240h1M26 241h1M26 242h1M74 242h1M26 243h1M75 243h1M25 244h1M25 245h1M25 246h2M26 247h1M26 248h1M26 249h1M26 250h2M26 251h2M27 252h1M27 253h1M27 254h1M27 255h1M26 256h2M26 257h2M26 258h2M26 259h2M26 260h2M26 261h2M27 262h1M27 263h1M27 264h2M27 265h2M27 266h2M28 267h1M28 268h1M28 269h1M28 270h1M29 271h1M28 272h2M28 273h2M29 274h2M29 275h2M29 276h2M29 277h3M29 278h3M29 279h3M29 280h3M30 281h4M31 282h4M33 283h3M34 284h3M35 285h2M36 286h2M37 287h2M37 288h2M38 289h1"/><path stroke="#72c566" d="M218 0h10M223 1h13M229 2h9M232 3h7M234 4h6M236 5h5M247 5h1M238 6h4M247 6h3M240 7h2M247 7h5M242 8h1M246 8h7M244 9h10M245 10h9M246 11h9M247 12h8M248 13h7M249 14h7M249 15h7M250 16h6M250 17h6M250 18h6M250 19h6M250 20h6M251 21h5M251 22h5M251 23h5M251 24h5M251 25h5M251 26h5M250 27h5M250 28h5M250 29h5M249 30h6M249 31h5M248 32h6M248 33h5M247 34h5M247 35h5M246 36h5M246 37h4M245 38h5M245 39h4M244 40h5M244 41h5M243 42h5M243 43h5M242 44h5M241 45h5M241 46h4M239 47h6M238 48h6M236 49h6M235 50h6M233 51h6M62 52h3M231 52h6M62 53h2M229 53h5M62 54h2M228 54h4M62 55h2M227 55h3M62 56h2M226 56h3M62 57h1M225 57h3M61 58h2M225 58h2M61 59h2M224 59h2M60 60h3M223 60h3M59 61h3M223 61h2M58 62h4M222 62h2M57 63h4M222 63h2M56 64h5M130 64h4M221 64h2M56 65h5M128 65h2M133 65h1M220 65h2M57 66h4M127 66h1M134 66h1M219 66h2M57 67h4M126 67h1M134 67h1M218 67h2M47 68h1M57 68h4M126 68h1M217 68h2M45 69h3M58 69h3M217 69h1M43 70h5M58 70h3M135 70h1M42 71h5M58 71h3M42 72h5M58 72h3M41 73h5M58 73h3M41 74h4M58 74h2M40 75h4M57 75h3M135 75h1M40 76h3M57 76h2M39 77h3M56 77h3M126 77h1M38 78h3M56 78h2M133 78h1M38 79h1M55 79h2M127 79h1M37 80h1M55 80h1M36 81h1M54 81h1M53 82h1M35 83h1M34 84h1M52 84h1M33 85h1M51 85h1M32 86h1M50 86h1M31 87h1M49 87h1M31 88h1M31 89h1M31 90h1M47 90h1M31 91h1M46 91h1M45 92h1M45 93h1M30 94h1M44 94h1M30 95h1M44 95h1M105 95h3M112 95h8M123 95h1M30 96h1M44 96h1M103 96h1M29 97h1M44 97h1M28 98h1M44 98h1M101 98h1M125 98h1M28 99h1M44 99h1M27 100h1M44 100h1M128 100h1M26 101h1M45 101h1M25 102h1M24 103h1M132 103h1M23 104h1M44 104h1M134 104h1M22 105h1M44 105h1M20 106h2M44 106h1M101 106h1M135 106h1M16 107h4M44 107h1M101 107h1M13 108h4M44 108h1M101 108h1M136 108h1M11 109h3M44 109h1M101 109h1M9 110h3M44 110h1M101 110h1M7 111h3M44 111h1M101 111h1M5 112h4M44 112h1M4 113h3M44 113h1M4 114h1M44 114h1M69 119h1M72 119h1M99 119h1M43 120h1M98 120h1M42 123h1M42 124h1M69 124h1M72 124h1M70 125h3M41 126h1M71 126h1M84 127h1M40 128h1M72 128h5M82 128h1M39 129h1M72 129h1M71 130h1M70 131h1M37 132h1M36 134h1M59 136h1M36 140h1M36 141h1M54 142h1M53 143h1M51 144h1M77 144h1M45 145h2M49 145h1M72 145h1M78 145h1M71 146h1M70 147h1M69 148h1M67 149h1M78 149h1M65 151h1M65 152h1M76 152h1M65 153h1M76 153h1M64 155h1M75 156h1M63 157h1M62 158h2M40 159h1M48 159h1M60 159h4M49 160h1M58 160h5M72 160h1M51 161h1M57 161h4M71 161h1M53 162h7M70 162h1M54 163h6M40 164h1M54 164h7M69 164h1M55 165h1M58 165h4M68 165h1M41 166h1M55 166h1M59 166h3M65 166h3M55 167h1M60 167h3M64 167h2M42 168h1M55 168h1M61 168h4M54 169h1M43 170h1M54 170h1M44 171h1M53 171h1M45 172h1M51 172h1M67 185h3M65 186h1M74 186h1M76 187h1M64 188h1M78 190h1M63 191h1M78 193h1M61 195h1M60 200h1M74 200h1M60 201h1M73 201h1M60 202h1M72 202h1M71 203h1M61 204h1M70 204h1M61 205h1M68 205h1M62 206h1M62 207h1M63 208h2M54 221h4M47 222h5M59 222h1M45 223h3M60 223h1M43 224h1M65 228h1M67 231h1M68 232h1M34 233h1M33 234h1M69 234h1M32 235h1M70 235h1M31 236h2M71 236h1M31 237h1M71 237h1M30 238h1M29 239h1M72 239h1M28 240h1M27 241h1M73 241h1M27 242h1M26 244h1M76 244h1M26 245h2M27 246h1M27 247h1M27 248h1M27 249h2M28 250h1M28 251h1M28 252h1M28 253h1M28 254h1M28 255h1M28 256h1M28 257h1M28 258h1M28 259h1M28 260h1M28 261h1M28 262h2M28 263h2M29 264h1M29 265h1M29 266h2M29 267h2M29 268h2M29 269h2M29 270h2M30 271h1M30 272h1M30 273h2M31 274h1M31 275h2M31 276h2M32 277h1M32 278h1M32 279h2M32 280h3M34 281h2M35 282h2M36 283h2M37 284h1M37 285h2M38 286h2M39 287h1M39 288h1"/><path stroke="#74ca67" d="M217 1h6M216 2h13M221 3h11M226 4h8M230 5h6M232 6h6M233 7h7M235 8h7M236 9h8M238 10h7M239 11h7M240 12h7M242 13h6M242 14h7M243 15h6M244 16h6M244 17h6M245 18h5M245 19h5M245 20h5M246 21h5M246 22h5M246 23h5M246 24h5M246 25h5M246 26h5M246 27h4M245 28h5M245 29h5M245 30h4M244 31h5M244 32h4M243 33h5M243 34h4M242 35h5M242 36h4M241 37h5M241 38h4M241 39h4M240 40h4M240 41h4M239 42h4M239 43h4M238 44h4M237 45h4M67 46h1M235 46h6M67 47h1M234 47h5M67 48h1M233 48h5M66 49h1M232 49h4M66 50h1M230 50h5M65 51h2M229 51h4M65 52h1M228 52h3M64 53h2M227 53h2M64 54h2M226 54h2M64 55h1M225 55h2M64 56h1M224 56h2M63 57h2M223 57h2M63 58h2M223 58h2M63 59h1M222 59h2M63 60h1M222 60h1M62 61h2M221 61h2M62 62h2M220 62h2M61 63h3M129 63h4M220 63h2M61 64h2M128 64h2M219 64h2M61 65h2M127 65h1M134 65h1M218 65h2M61 66h2M126 66h1M217 66h2M61 67h2M135 67h1M216 67h2M61 68h2M135 68h1M215 68h2M61 69h2M135 69h1M39 70h2M61 70h2M39 71h3M61 71h2M39 72h3M61 72h2M125 72h1M39 73h2M61 73h2M38 74h3M60 74h2M38 75h2M60 75h2M38 76h2M59 76h2M37 77h2M59 77h1M134 77h1M37 78h1M58 78h1M126 78h1M36 79h2M57 79h1M132 79h1M36 80h1M56 80h1M35 81h1M55 81h1M35 82h1M54 82h1M34 83h1M53 83h1M33 84h1M32 85h1M31 86h1M30 88h1M49 88h1M30 89h1M48 89h1M30 90h1M30 91h1M47 91h1M30 92h1M46 92h1M30 93h1M46 93h1M45 94h1M108 94h9M118 94h6M29 95h1M45 95h1M104 95h1M124 95h1M29 96h1M45 96h1M102 96h1M28 97h1M45 97h1M125 97h1M45 98h1M27 99h1M45 99h1M100 99h1M26 100h1M45 100h2M99 100h1M129 100h1M25 101h1M46 101h1M130 101h1M24 102h1M45 102h1M131 102h1M23 103h1M45 103h1M99 103h1M133 103h1M21 104h2M45 104h1M100 104h1M20 105h2M45 105h1M135 105h1M15 106h5M12 107h4M136 107h1M10 108h3M8 109h3M137 109h1M6 110h3M45 110h1M4 111h3M45 111h1M3 112h2M3 113h1M44 115h1M44 116h1M44 117h1M100 117h1M68 120h1M73 120h1M43 121h1M68 121h1M73 121h1M92 121h1M68 122h1M73 122h1M68 123h1M73 123h1M87 123h1M42 125h1M69 125h1M86 125h1M70 126h1M72 126h2M85 126h1M41 127h1M70 127h5M71 128h1M77 128h1M81 128h1M71 129h1M39 130h1M38 131h1M63 132h1M67 132h2M37 133h1M58 137h1M57 138h1M36 139h1M56 139h1M55 140h1M54 141h1M37 143h1M52 143h1M38 144h1M43 144h1M50 144h1M74 144h1M47 145h2M68 149h1M66 150h1M77 150h1M66 151h1M76 151h1M65 154h1M65 155h1M75 155h1M64 156h1M64 157h1M74 157h1M42 158h1M46 158h1M64 158h1M64 159h1M40 160h1M63 160h2M50 161h1M61 161h4M40 162h1M51 162h2M60 162h4M40 163h1M53 163h1M60 163h4M69 163h1M53 164h1M61 164h4M67 164h2M41 165h1M54 165h1M62 165h6M42 166h1M54 166h1M62 166h3M42 167h1M54 167h1M63 167h1M43 168h1M54 168h1M43 169h1M44 170h1M53 170h1M45 171h1M52 171h1M46 172h5M72 186h2M64 189h1M77 189h1M78 191h1M78 192h1M62 193h1M61 196h1M76 197h1M69 204h1M62 205h1M66 206h1M63 207h3M52 222h2M57 222h2M48 223h2M59 223h1M44 224h1M61 224h1M42 225h1M62 225h1M63 226h1M64 227h1M38 229h1M37 230h1M66 230h1M36 231h1M35 232h1M67 232h1M68 233h1M34 234h1M33 235h1M69 235h1M33 236h1M70 236h1M32 237h1M31 238h1M71 238h1M30 239h1M29 240h1M72 240h1M28 241h1M73 242h1M27 243h1M74 243h1M27 244h1M28 245h1M77 245h1M28 246h1M78 246h1M28 247h1M79 247h1M28 248h2M29 249h1M29 250h1M29 251h1M29 252h1M29 253h1M29 254h1M29 255h1M29 256h1M29 257h1M29 258h1M29 259h1M29 260h1M29 261h2M30 262h1M30 263h1M30 264h1M30 265h2M31 266h1M31 267h1M31 268h1M31 269h1M31 270h1M31 271h1M31 272h2M32 273h1M32 274h1M33 275h1M33 276h1M33 277h1M33 278h2M34 279h1M35 280h1M36 281h1M37 282h1M38 283h1M38 284h2M39 285h2M40 286h1M40 287h2"/><path stroke="#76d068" d="M215 3h6M210 4h16M220 5h10M224 6h8M227 7h6M229 8h6M231 9h5M233 10h5M234 11h5M235 12h5M236 13h6M237 14h5M238 15h5M239 16h5M240 17h4M240 18h5M241 19h4M241 20h4M241 21h5M241 22h5M241 23h5M242 24h4M242 25h4M241 26h5M241 27h5M241 28h4M241 29h4M241 30h4M240 31h4M240 32h4M239 33h4M239 34h4M239 35h3M238 36h4M238 37h3M237 38h4M237 39h4M236 40h4M236 41h4M235 42h4M70 43h1M234 43h5M69 44h1M233 44h5M68 45h2M233 45h4M68 46h2M232 46h3M68 47h2M231 47h3M68 48h1M230 48h3M67 49h2M229 49h3M67 50h2M228 50h2M67 51h1M227 51h2M66 52h2M226 52h2M66 53h2M225 53h2M66 54h1M224 54h2M65 55h2M223 55h2M65 56h2M223 56h1M65 57h1M222 57h1M65 58h1M221 58h2M64 59h2M221 59h1M64 60h1M220 60h2M64 61h1M219 61h2M64 62h1M129 62h4M219 62h1M64 63h1M128 63h1M133 63h1M218 63h2M63 64h2M127 64h1M134 64h1M217 64h2M63 65h2M126 65h1M135 65h1M216 65h2M63 66h2M135 66h1M215 66h2M63 67h2M125 67h1M214 67h2M63 68h2M125 68h1M214 68h1M63 69h2M125 69h1M37 70h2M63 70h2M125 70h1M37 71h2M63 71h1M125 71h1M136 71h1M37 72h2M63 72h1M136 72h1M37 73h2M63 73h1M125 73h1M136 73h1M36 74h2M62 74h1M125 74h1M136 74h1M36 75h2M62 75h1M125 75h1M36 76h2M61 76h1M125 76h1M135 76h1M36 77h1M60 77h2M36 78h1M59 78h2M35 79h1M58 79h2M126 79h1M35 80h1M57 80h2M128 80h4M34 81h1M56 81h1M34 82h1M55 82h1M33 83h1M54 83h1M32 84h1M53 84h1M31 85h1M52 85h1M30 86h1M51 86h1M30 87h1M50 87h1M29 89h1M49 89h1M29 90h1M48 90h1M29 91h1M48 91h1M29 92h1M47 92h1M29 93h1M47 93h1M109 93h4M120 93h3M29 94h1M46 94h1M106 94h2M117 94h1M46 95h1M103 95h1M28 96h1M46 96h1M125 96h1M27 97h1M46 97h1M101 97h1M27 98h1M46 98h1M26 99h1M46 99h1M126 99h1M25 100h1M47 100h1M24 101h1M98 101h1M23 102h1M46 102h1M98 102h1M132 102h1M21 103h2M46 103h1M20 104h1M135 104h1M15 105h5M12 106h3M45 106h1M136 106h1M9 107h3M45 107h1M7 108h3M45 108h1M137 108h1M5 109h3M45 109h1M3 110h3M3 111h1M45 112h1M45 113h1M100 116h1M44 118h1M70 118h3M44 119h1M73 119h1M90 120h1M88 121h1M93 121h1M96 121h1M43 122h1M68 124h1M73 124h1M73 125h1M69 126h1M75 127h1M83 127h1M70 128h1M78 128h3M40 129h1M70 129h1M70 130h1M69 131h1M38 132h1M60 134h1M36 135h1M36 138h1M37 142h1M53 142h1M51 143h1M39 144h1M41 144h2M44 144h2M70 148h1M78 148h1M69 149h1M67 150h2M67 151h1M66 152h1M66 153h1M66 154h1M75 154h1M65 156h1M65 157h1M43 158h3M65 158h1M73 158h1M47 159h1M65 159h1M72 159h1M48 160h1M65 160h1M71 160h1M40 161h1M49 161h1M65 161h1M70 161h1M50 162h1M64 162h2M68 162h2M52 163h1M64 163h5M41 164h1M65 164h2M42 165h1M53 165h1M53 166h1M43 167h1M44 169h1M53 169h1M51 171h1M66 186h1M71 186h1M65 187h1M75 187h1M76 188h1M64 190h1M63 192h1M62 194h1M77 195h1M61 197h1M61 198h1M61 199h1M61 200h1M61 201h1M72 201h1M61 202h1M71 202h1M61 203h1M70 203h1M67 205h1M63 206h1M54 222h3M50 223h2M58 223h1M45 224h4M60 224h1M41 226h1M40 227h1M39 228h1M64 228h1M65 229h1M66 231h1M35 233h1M67 233h1M68 234h1M34 235h1M69 236h1M33 237h1M70 237h1M32 238h1M31 239h1M71 239h1M30 240h1M29 241h1M28 242h1M28 243h1M28 244h1M75 244h1M29 245h1M29 246h1M29 247h2M30 248h1M30 249h1M30 250h1M30 251h1M30 252h1M30 253h1M30 254h1M30 255h1M30 256h1M30 257h1M30 258h1M30 259h1M30 260h1M31 261h1M31 262h1M31 263h1M31 264h2M32 265h1M32 266h1M32 267h1M32 268h1M32 269h1M32 270h2M32 271h2M33 272h1M33 273h1M33 274h1M34 275h1M34 276h1M34 277h1M35 278h1M35 279h2M36 280h2M37 281h2M38 282h2M39 283h1M40 284h1M41 285h1M41 286h2M42 287h1M49 292h1M62 292h1M51 293h2M59 293h3M52 294h9"/><path stroke="#78d669" d="M207 5h13M206 6h4M216 6h8M220 7h7M222 8h7M224 9h7M226 10h7M228 11h6M230 12h5M232 13h4M233 14h4M234 15h4M235 16h4M236 17h4M236 18h4M237 19h4M237 20h4M237 21h4M237 22h4M238 23h3M238 24h4M238 25h4M238 26h3M238 27h3M237 28h4M237 29h4M237 30h4M237 31h3M236 32h4M236 33h3M236 34h3M235 35h4M235 36h3M235 37h3M234 38h3M234 39h3M233 40h3M233 41h3M232 42h3M71 43h1M231 43h3M70 44h2M231 44h2M70 45h2M230 45h3M70 46h1M229 46h3M70 47h1M229 47h2M69 48h2M228 48h2M69 49h1M227 49h2M69 50h1M226 50h2M68 51h2M225 51h2M68 52h1M224 52h2M68 53h1M223 53h2M67 54h2M223 54h1M67 55h1M222 55h1M67 56h1M221 56h2M66 57h2M221 57h1M66 58h1M220 58h1M66 59h1M219 59h2M65 60h2M219 60h1M65 61h2M128 61h5M218 61h1M65 62h1M127 62h2M133 62h1M217 62h2M65 63h1M126 63h2M134 63h1M216 63h2M65 64h1M126 64h1M135 64h1M215 64h2M65 65h1M125 65h1M214 65h2M65 66h1M125 66h1M213 66h2M65 67h1M136 67h1M213 67h1M65 68h1M136 68h1M65 69h1M136 69h1M35 70h2M65 70h1M136 70h1M35 71h2M64 71h1M35 72h2M64 72h1M35 73h2M64 73h1M35 74h1M63 74h1M35 75h1M63 75h1M35 76h1M62 76h1M35 77h1M62 77h1M125 77h1M35 78h1M61 78h1M134 78h1M34 79h1M60 79h1M133 79h1M34 80h1M59 80h1M127 80h1M33 81h1M57 81h1M33 82h1M56 82h1M32 83h1M55 83h1M31 84h1M54 84h1M30 85h1M53 85h1M29 86h1M52 86h1M29 87h1M51 87h1M29 88h1M50 88h1M49 90h1M48 92h1M120 92h3M108 93h1M113 93h7M123 93h1M28 94h1M47 94h1M104 94h2M124 94h1M28 95h1M47 95h1M27 96h1M47 96h1M47 97h1M26 98h1M47 98h1M100 98h1M25 99h1M47 99h1M127 99h2M24 100h1M48 100h1M23 101h1M47 101h1M21 102h2M47 102h1M20 103h1M47 103h1M134 103h1M15 104h5M46 104h1M11 105h4M46 105h1M100 105h1M136 105h1M9 106h3M100 106h1M7 107h2M100 107h1M137 107h1M5 108h2M100 108h1M2 109h3M100 109h1M46 110h1M100 110h1M46 111h1M100 111h1M100 112h1M100 113h1M45 114h1M100 114h1M45 115h1M100 115h1M69 118h1M99 118h1M68 119h1M44 120h1M89 120h1M91 120h1M94 121h2M87 122h1M43 123h1M86 124h1M68 125h1M42 126h1M68 126h1M74 126h1M84 126h1M69 127h1M41 128h1M69 128h1M40 130h1M69 130h1M39 131h1M65 131h2M61 133h1M37 134h1M59 135h1M36 136h1M58 136h1M36 137h1M57 137h1M56 138h1M55 139h1M37 140h1M54 140h1M37 141h1M53 141h1M52 142h1M38 143h1M43 143h2M50 143h1M40 144h1M46 144h1M49 144h1M75 144h2M73 145h1M72 146h1M78 146h1M71 147h1M78 147h1M70 149h1M77 149h1M69 150h1M76 150h1M68 151h1M67 152h1M75 152h1M67 153h1M75 153h1M67 154h1M66 155h1M66 156h1M74 156h1M41 159h1M66 160h1M70 160h1M66 161h4M66 162h2M41 163h1M51 163h1M52 164h1M52 165h1M43 166h1M53 167h1M44 168h1M53 168h1M45 170h1M52 170h1M46 171h2M50 171h1M67 186h1M70 186h1M63 193h1M62 195h1M75 198h1M74 199h1M73 200h1M62 204h1M68 204h1M63 205h1M64 206h2M52 223h2M56 223h2M49 224h1M59 224h1M43 225h1M61 225h1M62 226h1M63 227h1M38 230h1M65 230h1M37 231h1M36 232h1M66 232h1M35 234h1M67 234h1M68 235h1M34 236h1M69 237h1M33 238h1M70 238h1M32 239h1M31 240h1M30 241h1M72 241h1M29 242h1M29 243h1M73 243h1M29 244h1M74 244h1M76 245h1M30 246h1M77 246h1M31 247h1M78 247h1M31 248h1M79 248h1M31 249h1M31 250h1M31 251h1M31 252h1M31 253h1M31 255h1M31 256h1M31 257h1M31 258h1M31 259h1M31 260h1M32 261h1M32 262h1M32 263h1M33 264h1M33 265h1M33 266h1M33 267h1M33 268h2M33 269h2M34 270h1M34 271h1M34 272h1M34 273h1M34 274h2M35 275h1M35 276h1M35 277h1M36 278h1M37 279h1M38 280h1M39 281h1M40 282h1M40 283h2M41 284h1M42 285h2M43 286h2M44 287h2M66 287h1M45 288h3M65 288h1M46 289h3M63 289h2M47 290h4M61 290h4M48 291h16M50 292h12M53 293h6"/><path stroke="#7adb6a" d="M210 6h6M205 7h15M203 8h4M217 8h5M220 9h4M221 10h5M223 11h5M224 12h6M226 13h6M228 14h5M229 15h5M231 16h4M232 17h4M232 18h4M233 19h4M233 20h4M234 21h3M234 22h3M234 23h4M234 24h4M234 25h4M234 26h4M234 27h4M234 28h3M234 29h3M234 30h3M234 31h3M233 32h3M233 33h3M233 34h3M232 35h3M232 36h3M232 37h3M231 38h3M231 39h3M231 40h2M230 41h3M126 42h4M132 42h2M230 42h2M72 43h2M125 43h9M229 43h2M72 44h1M124 44h9M229 44h2M72 45h1M124 45h9M228 45h2M71 46h2M124 46h9M228 46h1M71 47h1M124 47h9M227 47h2M71 48h1M124 48h9M226 48h2M70 49h2M124 49h8M225 49h2M70 50h1M124 50h8M225 50h1M70 51h1M124 51h8M224 51h1M69 52h2M125 52h7M223 52h1M69 53h1M125 53h7M222 53h1M69 54h1M126 54h6M221 54h2M68 55h2M126 55h6M221 55h1M68 56h1M127 56h4M220 56h1M68 57h1M127 57h4M219 57h2M67 58h2M128 58h3M219 58h1M67 59h1M127 59h4M218 59h1M67 60h1M127 60h6M217 60h2M67 61h1M126 61h2M133 61h1M216 61h2M66 62h2M126 62h1M134 62h1M216 62h1M66 63h2M135 63h1M215 63h1M66 64h1M125 64h1M214 64h1M66 65h1M136 65h1M213 65h1M66 66h1M136 66h1M212 66h1M66 67h1M66 68h1M66 69h1M66 70h1M33 71h2M65 71h1M33 72h2M65 72h1M34 73h1M65 73h1M34 74h1M64 74h1M34 75h1M64 75h1M136 75h1M34 76h1M63 76h1M34 77h1M63 77h1M135 77h1M34 78h1M62 78h1M125 78h1M33 79h1M61 79h1M33 80h1M60 80h1M126 80h1M132 80h1M32 81h1M58 81h1M129 81h2M31 82h2M57 82h1M30 83h2M56 83h1M29 84h2M55 84h1M29 85h1M54 85h1M28 87h1M28 88h1M28 89h1M50 89h1M28 90h1M28 91h1M49 91h1M120 91h2M28 92h1M109 92h4M117 92h3M28 93h1M48 93h1M107 93h1M124 93h1M27 94h1M48 94h1M103 94h1M27 95h1M48 95h1M102 95h1M125 95h1M26 96h1M48 96h1M101 96h1M26 97h1M48 97h1M100 97h1M126 97h1M25 98h1M48 98h1M126 98h1M24 99h1M48 99h1M99 99h1M129 99h1M23 100h1M75 100h1M130 100h1M22 101h1M48 101h1M131 101h1M20 102h1M48 102h1M16 103h4M98 103h1M11 104h4M47 104h1M9 105h2M6 106h3M46 106h1M137 106h1M4 107h3M46 107h1M2 108h3M46 108h1M46 109h1M138 109h1M46 112h1M45 116h1M45 117h1M73 118h1M98 119h1M74 120h1M97 120h1M44 121h1M74 121h1M43 124h1M74 125h1M85 125h1M42 127h1M68 127h1M76 127h1M82 127h1M41 129h1M69 129h1M64 131h1M67 131h2M62 132h1M38 133h1M37 139h1M38 142h1M51 142h1M39 143h1M42 143h1M45 143h1M47 144h2M71 148h1M70 150h1M69 151h1M75 151h1M68 152h1M67 155h1M74 155h1M66 157h1M73 157h1M66 158h1M72 158h1M46 159h1M66 159h1M71 159h1M41 160h1M47 160h1M67 160h3M48 161h1M41 162h1M49 162h1M50 163h1M42 164h1M51 164h1M43 165h1M44 166h1M52 166h1M44 167h1M52 167h1M52 168h1M45 169h1M52 169h1M46 170h1M51 170h1M48 171h2M68 186h2M74 187h1M65 188h1M77 190h1M64 191h1M77 194h1M62 196h1M62 199h1M62 200h1M71 201h1M70 202h1M62 203h1M69 203h1M66 205h1M54 223h2M50 224h1M58 224h1M44 225h1M42 226h1M41 227h1M40 228h1M39 229h1M64 229h1M65 231h1M36 233h1M66 233h1M35 235h1M67 235h1M68 236h1M34 237h1M33 239h1M70 239h1M71 240h1M30 242h1M30 245h1M75 245h1M31 246h1M32 247h1M32 248h1M32 249h1M79 249h1M31 254h1M32 258h1M32 259h1M32 260h1M33 262h1M33 263h1M34 264h1M34 265h1M34 266h1M34 267h1M35 268h1M35 269h1M35 270h1M35 271h1M35 272h2M35 273h2M36 274h1M36 275h1M36 276h1M36 277h2M37 278h2M38 279h2M39 280h2M40 281h1M41 282h1M42 283h1M42 284h2M67 284h1M44 285h4M66 285h1M45 286h5M64 286h3M46 287h5M63 287h3M48 288h5M60 288h5M49 289h14M51 290h10"/><path stroke="#7ce06b" d="M207 8h10M201 9h10M215 9h5M218 10h3M220 11h3M221 12h3M222 13h4M224 14h4M225 15h4M226 16h5M227 17h5M228 18h4M229 19h4M230 20h3M230 21h4M231 22h3M231 23h3M231 24h3M231 25h3M232 26h2M232 27h2M232 28h2M232 29h2M231 30h3M231 31h3M231 32h2M230 33h3M230 34h3M230 35h2M230 36h2M230 37h2M229 38h2M229 39h2M229 40h2M229 41h1M134 42h2M228 42h2M134 43h1M228 43h1M73 44h1M133 44h2M228 44h1M73 45h1M123 45h1M133 45h2M227 45h1M73 46h1M122 46h2M133 46h2M226 46h2M72 47h1M122 47h2M133 47h1M226 47h1M72 48h1M122 48h2M133 48h1M225 48h1M72 49h1M122 49h2M132 49h2M224 49h1M71 50h1M122 50h2M132 50h2M223 50h2M71 51h1M122 51h2M132 51h1M222 51h2M71 52h1M123 52h2M132 52h1M222 52h1M70 53h2M123 53h2M132 53h1M221 53h1M70 54h1M124 54h2M132 54h1M220 54h1M70 55h1M124 55h2M132 55h1M220 55h1M69 56h2M125 56h2M131 56h2M219 56h1M69 57h1M125 57h2M131 57h2M218 57h1M69 58h1M126 58h2M131 58h2M218 58h1M68 59h2M126 59h1M131 59h2M217 59h1M68 60h1M125 60h2M133 60h1M216 60h1M68 61h1M125 61h1M134 61h1M215 61h1M68 62h1M125 62h1M135 62h1M214 62h2M68 63h1M125 63h1M213 63h2M67 64h1M136 64h1M213 64h1M67 65h1M124 65h1M212 65h1M67 66h1M124 66h1M137 66h1M67 67h1M124 67h1M137 67h1M67 68h1M124 68h1M137 68h1M67 69h1M124 69h1M137 69h1M124 70h1M137 70h1M32 71h1M66 71h1M124 71h1M137 71h1M32 72h1M66 72h1M124 72h1M137 72h1M32 73h2M137 73h1M32 74h2M65 74h1M32 75h2M65 75h1M32 76h2M64 76h1M33 77h1M33 78h1M63 78h1M32 79h1M62 79h1M31 80h2M61 80h1M30 81h2M59 81h1M127 81h2M131 81h1M29 82h2M58 82h1M29 83h1M57 83h1M28 84h1M56 84h1M28 85h1M28 86h1M53 86h1M52 87h1M27 88h1M51 88h1M27 89h1M27 90h1M50 90h1M120 90h2M27 91h1M118 91h2M122 91h1M27 92h1M49 92h1M113 92h4M123 92h1M27 93h1M49 93h1M105 93h2M49 94h1M125 94h1M26 95h1M49 95h1M25 96h1M49 96h1M126 96h1M25 97h1M49 97h1M24 98h1M49 98h1M23 99h1M49 99h1M22 100h1M49 100h1M98 100h1M20 101h2M49 101h1M17 102h3M49 102h1M97 102h1M133 102h1M12 103h4M48 103h1M9 104h2M48 104h1M99 104h1M136 104h1M6 105h3M47 105h1M3 106h3M1 107h3M138 108h1M46 113h1M46 114h1M71 117h1M99 117h1M45 118h1M68 118h1M74 119h1M67 120h1M67 121h1M44 122h1M67 122h1M74 122h1M67 123h1M74 123h1M86 123h1M67 124h1M74 124h1M43 125h1M67 125h1M75 126h1M77 127h1M81 127h1M68 128h1M68 129h1M67 130h2M40 131h1M39 132h1M37 135h1M37 138h1M38 141h1M52 141h1M43 142h3M50 142h1M40 143h2M46 143h1M49 143h1M77 145h1M72 147h1M77 148h1M71 149h1M76 149h1M71 150h1M75 150h1M70 151h1M74 152h1M68 153h1M74 153h1M68 154h1M74 154h1M67 156h1M67 157h1M67 158h1M42 159h1M45 159h1M67 159h4M41 161h1M48 162h1M42 163h1M49 163h1M43 164h1M50 164h1M44 165h1M51 165h1M45 168h1M50 170h1M66 187h1M73 187h1M75 188h1M76 189h1M64 192h1M63 194h1M76 196h1M62 197h1M62 198h1M72 200h1M62 201h1M62 202h1M63 204h1M64 205h2M51 224h2M56 224h2M45 225h4M60 225h1M61 226h1M62 227h1M63 228h1M64 230h1M38 231h1M37 232h1M36 234h1M66 234h1M35 236h1M67 236h1M35 237h1M68 237h1M34 238h1M69 238h1M32 240h1M31 241h1M72 242h1M30 243h1M30 244h1M73 244h1M31 245h1M32 246h1M76 246h1M77 247h1M78 248h1M32 250h1M32 251h1M32 252h1M32 253h1M32 254h1M32 255h1M32 256h1M32 257h1M33 259h1M33 260h1M33 261h1M34 262h1M34 263h1M35 265h1M35 266h1M35 267h1M36 268h1M36 269h1M36 270h2M36 271h2M37 272h1M37 273h2M37 274h2M37 275h2M37 276h2M38 277h2M39 278h2M40 279h2M41 280h1M41 281h2M70 281h1M42 282h2M67 282h1M43 283h7M65 283h3M44 284h7M64 284h3M48 285h5M63 285h3M50 286h14M51 287h12M53 288h7"/><path stroke="#7ee66c" d="M211 9h4M200 10h18M199 11h2M216 11h4M218 12h3M219 13h3M221 14h3M222 15h3M223 16h3M224 17h3M225 18h3M226 19h3M227 20h3M228 21h2M228 22h3M229 23h2M229 24h2M229 25h2M229 26h3M230 27h2M230 28h2M230 29h2M229 30h2M229 31h2M229 32h2M229 33h1M229 34h1M228 35h2M228 36h2M228 37h2M228 38h1M228 39h1M228 40h1M227 41h2M136 42h1M227 42h1M135 43h2M227 43h1M74 44h1M135 44h2M226 44h2M74 45h1M135 45h1M226 45h1M74 46h1M135 46h1M225 46h1M73 47h1M134 47h1M225 47h1M73 48h1M134 48h1M224 48h1M73 49h1M134 49h1M223 49h1M72 50h2M121 50h1M134 50h1M222 50h1M72 51h1M121 51h1M133 51h2M72 52h1M121 52h2M133 52h1M221 52h1M72 53h1M121 53h2M133 53h1M220 53h1M71 54h1M122 54h2M133 54h1M219 54h1M71 55h1M123 55h1M133 55h1M219 55h1M71 56h1M123 56h2M133 56h1M218 56h1M70 57h1M124 57h1M133 57h1M217 57h1M70 58h1M124 58h2M133 58h1M216 58h2M70 59h1M124 59h2M133 59h2M216 59h1M69 60h1M124 60h1M134 60h2M215 60h1M69 61h1M124 61h1M135 61h1M214 61h1M69 62h1M124 62h1M136 62h1M213 62h1M69 63h1M124 63h1M136 63h1M212 63h1M68 64h1M124 64h1M211 64h2M68 65h1M137 65h1M211 65h1M68 66h1M210 66h1M68 67h1M209 67h1M67 70h1M30 71h2M67 71h1M30 72h2M30 73h2M66 73h1M124 73h1M30 74h2M66 74h1M124 74h1M137 74h1M30 75h2M124 75h1M29 76h3M65 76h1M124 76h1M136 76h1M29 77h4M64 77h1M28 78h5M28 79h4M125 79h1M134 79h1M28 80h3M133 80h1M28 81h2M60 81h1M28 82h1M59 82h1M129 82h2M28 83h1M58 83h1M27 84h1M27 85h1M55 85h1M27 86h1M54 86h1M27 87h1M53 87h1M52 88h1M26 89h1M51 89h1M121 89h1M26 90h1M119 90h1M122 90h1M26 91h1M50 91h1M116 91h2M123 91h1M26 92h1M50 92h1M108 92h1M26 93h1M50 93h1M104 93h1M26 94h1M102 94h1M25 95h1M101 95h1M24 97h1M50 97h1M23 98h1M50 98h1M99 98h1M127 98h2M22 99h1M50 99h1M75 99h1M20 100h2M50 100h1M76 100h1M18 101h2M50 101h1M97 101h1M132 101h1M12 102h5M9 103h3M49 103h1M135 103h1M6 104h3M3 105h3M48 105h1M99 105h1M137 105h1M0 106h3M47 106h1M47 107h1M138 107h1M47 110h1M47 111h1M99 113h1M99 114h1M46 115h1M99 116h1M70 117h1M72 117h1M45 119h1M67 119h1M88 120h1M92 120h1M87 121h1M44 123h1M43 126h1M67 126h1M83 126h1M67 127h1M78 127h3M42 128h1M67 128h1M67 129h1M41 130h1M65 130h2M63 131h1M40 132h1M39 133h1M60 133h1M38 134h1M59 134h1M58 135h1M37 136h1M57 136h1M37 137h1M56 137h1M55 138h1M38 139h1M54 139h1M38 140h1M53 140h1M43 141h2M39 142h1M42 142h1M47 143h2M74 145h1M73 146h1M77 146h1M72 148h1M72 149h1M72 150h1M71 151h1M74 151h1M69 152h1M68 155h1M68 156h1M73 156h1M68 158h1M71 158h1M43 159h2M46 160h1M47 161h1M48 163h1M49 164h1M45 165h1M50 165h1M45 166h1M51 166h1M45 167h1M51 167h1M51 168h1M46 169h1M51 169h1M47 170h3M72 187h1M65 189h1M77 191h1M77 192h1M64 193h1M77 193h1M63 195h1M63 199h1M73 199h1M63 200h1M70 201h1M69 202h1M68 203h1M67 204h1M53 224h3M49 225h1M59 225h1M43 226h1M63 229h1M39 230h1M65 232h1M37 233h1M65 233h1M36 235h1M66 235h1M36 236h1M35 238h1M34 239h1M33 240h1M32 241h1M71 241h1M31 242h1M72 243h1M31 244h1M32 245h1M74 245h1M33 246h1M33 247h1M33 248h1M33 249h1M78 249h1M33 250h1M33 256h1M33 257h1M83 257h1M33 258h1M34 260h1M34 261h1M35 263h1M35 264h1M36 265h1M36 266h1M36 267h1M37 268h1M37 269h1M38 270h1M38 271h1M38 272h2M39 273h1M39 274h2M39 275h3M39 276h4M40 277h4M41 278h3M42 279h3M72 279h1M42 280h6M69 280h3M43 281h7M65 281h3M44 282h7M63 282h4M50 283h3M62 283h3M51 284h13M53 285h10"/><path stroke="#8be86e" d="M201 11h15M198 12h12M214 12h4M217 13h2M218 14h3M219 15h3M221 16h2M222 17h2M223 18h2M224 19h2M225 20h2M226 21h2M226 22h2M227 23h2M227 24h2M227 25h2M228 26h1M228 27h2M228 28h2M228 29h2M228 30h1M228 31h1M228 32h1M228 33h1M227 34h2M227 35h1M227 36h1M227 37h1M227 38h1M227 39h1M138 40h1M227 40h1M137 41h2M226 41h1M137 42h1M226 42h1M137 43h1M226 43h1M137 44h1M225 44h1M75 45h1M136 45h2M225 45h1M75 46h1M136 46h1M224 46h1M74 47h2M135 47h2M224 47h1M74 48h1M135 48h1M223 48h1M74 49h1M135 49h1M222 49h1M74 50h1M119 50h1M135 50h1M221 50h1M73 51h1M120 51h1M135 51h1M221 51h1M73 52h1M120 52h1M134 52h1M220 52h1M73 53h1M120 53h1M134 53h1M219 53h1M72 54h1M121 54h1M134 54h1M72 55h1M121 55h2M134 55h1M218 55h1M72 56h1M122 56h1M134 56h1M217 56h1M71 57h2M123 57h1M134 57h1M216 57h1M71 58h1M123 58h1M134 58h1M71 59h1M135 59h1M215 59h1M70 60h2M214 60h1M70 61h1M136 61h1M213 61h1M70 62h1M212 62h1M70 63h1M211 63h1M69 64h1M137 64h1M69 65h1M123 65h1M210 65h1M69 66h1M123 66h1M209 66h1M123 67h1M138 67h1M208 67h1M68 68h1M138 68h1M68 69h1M138 69h1M68 70h1M29 72h1M67 72h1M28 73h2M67 73h1M28 74h2M27 75h3M66 75h1M137 75h1M27 76h2M27 77h2M65 77h1M124 77h1M27 78h1M64 78h1M135 78h1M27 79h1M63 79h1M27 80h1M62 80h1M27 81h1M61 81h1M126 81h1M132 81h1M27 82h1M60 82h1M128 82h1M131 82h1M26 83h2M26 84h1M57 84h1M26 85h1M56 85h1M26 86h1M55 86h1M26 87h1M26 88h1M119 89h2M122 89h1M25 90h1M51 90h1M117 90h2M25 91h1M51 91h1M110 91h6M25 92h1M107 92h1M124 92h1M25 93h1M103 93h1M125 93h1M25 94h1M50 94h1M24 95h1M50 95h1M126 95h1M24 96h1M50 96h1M100 96h1M23 97h1M127 97h1M22 98h1M129 98h1M20 99h2M76 99h1M130 99h1M18 100h2M131 100h1M14 101h4M75 101h1M9 102h3M50 102h1M6 103h3M97 103h1M3 104h3M49 104h1M98 104h1M0 105h3M48 106h1M99 106h1M99 107h1M47 108h1M99 108h1M47 109h1M99 109h1M99 110h1M99 111h1M47 112h1M99 112h1M99 115h1M46 116h1M69 117h1M98 118h1M89 119h2M45 120h1M93 120h1M96 120h1M86 122h1M44 124h1M85 124h1M75 125h1M84 125h1M76 126h1M43 127h1M66 128h1M42 129h1M66 129h1M64 130h1M41 131h1M61 132h1M40 133h1M39 134h1M38 135h1M38 138h1M39 140h1M42 140h2M39 141h4M45 141h1M51 141h1M40 142h2M46 142h4M73 147h1M77 147h1M76 148h1M75 149h1M73 150h2M72 151h2M70 152h4M69 153h1M73 153h1M73 155h1M68 157h1M72 157h1M69 158h2M42 160h1M42 161h1M42 162h1M47 162h1M43 163h1M47 163h1M44 164h2M48 164h1M49 165h1M50 166h1M50 167h1M46 168h1M50 168h1M47 169h1M50 169h1M67 187h1M71 187h1M65 190h1M64 194h1M63 196h1M63 197h1M75 197h1M63 198h1M74 198h1M71 200h1M50 225h1M57 225h2M60 226h1M42 227h1M61 227h1M41 228h1M62 228h1M40 229h1M63 230h1M64 231h1M38 232h1M37 234h1M65 234h1M37 235h1M66 236h1M36 237h1M67 237h1M68 238h1M35 239h1M69 239h1M34 240h1M70 240h1M32 242h1M31 243h1M32 244h1M33 245h1M34 246h1M34 247h1M76 247h1M77 248h1M33 251h1M79 251h1M33 252h1M33 253h1M33 254h1M33 255h1M82 256h1M82 257h1M34 258h1M83 258h1M34 259h1M83 259h1M35 261h1M35 262h1M36 264h1M37 266h1M37 267h1M84 268h1M38 269h1M84 269h1M39 270h1M83 270h1M39 271h2M82 271h1M40 272h1M81 272h1M40 273h2M41 274h2M42 275h2M43 276h2M44 277h3M73 277h2M44 278h4M71 278h3M45 279h5M68 279h4M48 280h3M65 280h4M50 281h2M63 281h2M51 282h6M61 282h2M53 283h9"/><path stroke="#97eb70" d="M210 12h4M197 13h20M215 14h3M217 15h2M218 16h3M220 17h2M221 18h2M222 19h2M223 20h2M224 21h2M224 22h2M225 23h2M225 24h2M226 25h1M226 26h2M226 27h2M227 28h1M227 29h1M227 30h1M227 31h1M227 32h1M227 33h1M226 34h1M226 35h1M226 36h1M226 37h1M226 38h1M226 39h1M139 40h1M226 40h1M139 41h1M138 42h1M225 42h1M138 43h1M225 43h1M138 44h1M138 45h1M224 45h1M76 46h1M137 46h1M223 46h1M76 47h1M137 47h1M223 47h1M75 48h1M136 48h1M222 48h1M75 49h1M136 49h1M221 49h1M136 50h1M74 51h1M119 51h1M220 51h1M74 52h1M119 52h1M135 52h1M219 52h1M74 53h1M119 53h1M135 53h1M218 53h1M73 54h1M120 54h1M135 54h1M218 54h1M73 55h1M120 55h1M135 55h1M217 55h1M73 56h1M121 56h1M135 56h1M216 56h1M73 57h1M122 57h1M135 57h1M215 57h1M72 58h1M122 58h1M135 58h1M215 58h1M72 59h1M123 59h1M136 59h1M214 59h1M72 60h1M123 60h1M136 60h1M213 60h1M71 61h1M123 61h1M212 61h1M71 62h1M123 62h1M137 62h1M211 62h1M123 63h1M137 63h1M210 63h1M70 64h1M123 64h1M210 64h1M70 65h1M138 65h1M209 65h1M138 66h1M208 66h1M69 67h1M69 68h1M123 68h1M138 70h1M68 71h1M138 71h1M68 72h1M138 72h1M138 73h1M26 74h2M67 74h1M26 75h1M26 76h1M66 76h1M26 77h1M136 77h1M26 78h1M124 78h1M190 78h2M26 79h1M64 79h1M189 79h1M26 80h1M63 80h1M125 80h1M188 80h1M26 81h1M62 81h1M25 82h2M127 82h1M25 83h1M59 83h1M128 83h3M25 84h1M58 84h1M25 85h1M25 86h1M25 87h1M54 87h1M25 88h1M53 88h1M25 89h1M52 89h1M118 89h1M52 90h1M116 90h1M123 90h1M109 91h1M24 92h1M51 92h1M105 92h2M24 93h1M51 93h1M102 93h1M24 94h1M51 94h1M101 94h1M23 95h1M51 95h1M23 96h1M51 96h1M127 96h1M22 97h1M51 97h1M99 97h1M128 97h1M21 98h1M51 98h1M19 99h1M51 99h1M74 99h1M98 99h1M15 100h3M51 100h1M74 100h1M11 101h3M51 101h1M76 101h1M6 102h3M134 102h1M2 103h4M50 103h1M0 104h3M50 104h1M137 104h1M49 105h1M138 106h1M48 107h1M139 108h1M47 113h1M47 114h1M46 117h1M73 117h1M67 118h1M74 118h1M91 119h1M97 119h1M75 120h1M94 120h2M45 121h1M75 124h1M44 125h1M82 126h1M66 127h1M65 129h1M42 130h1M62 131h1M41 132h1M40 134h1M39 135h1M38 136h2M56 136h1M38 137h5M55 137h1M39 138h4M54 138h1M39 139h5M53 139h1M40 140h2M44 140h2M52 140h1M46 141h1M50 141h1M75 145h2M74 146h1M73 148h1M73 149h2M70 153h1M69 154h1M73 154h1M69 157h1M71 157h1M43 160h1M45 160h1M46 161h1M46 162h1M44 163h3M46 164h2M46 165h3M46 166h1M49 166h1M46 167h1M49 168h1M48 169h2M68 187h1M70 187h1M66 188h1M74 188h1M76 190h1M65 191h1M64 195h1M76 195h1M64 198h1M64 199h1M72 199h1M64 200h1M70 200h1M63 201h1M69 201h1M68 202h1M63 203h1M67 203h1M64 204h3M51 225h2M54 225h3M44 226h1M59 226h1M60 227h1M61 228h1M62 229h1M40 230h1M39 231h1M63 231h1M64 232h1M38 233h1M64 233h1M65 235h1M37 236h1M37 237h1M66 237h1M36 238h1M33 241h1M32 243h1M33 244h1M72 244h1M34 245h1M75 246h1M34 248h1M34 249h1M77 249h1M34 250h1M78 250h1M34 255h1M81 255h1M34 256h1M81 256h1M34 257h1M82 258h1M35 260h1M83 260h1M83 261h1M36 262h1M36 263h1M84 264h1M37 265h1M84 265h1M84 266h1M38 267h1M84 267h1M38 268h1M83 268h1M39 269h1M83 269h1M40 270h1M82 270h1M81 271h1M41 272h1M79 272h2M42 273h1M77 273h2M43 274h1M76 274h2M44 275h1M74 275h2M45 276h2M73 276h2M47 277h2M71 277h2M48 278h2M68 278h3M50 279h1M65 279h3M51 280h2M62 280h3M52 281h5M61 281h2M57 282h4"/><path stroke="#a4ed72" d="M196 14h19M195 15h3M214 15h3M216 16h2M217 17h3M219 18h2M220 19h2M221 20h2M222 21h2M223 22h1M223 23h2M224 24h1M225 25h1M225 26h1M225 27h1M226 28h1M226 29h1M226 30h1M226 31h1M226 32h1M226 33h1M225 37h1M225 38h1M225 39h1M140 40h1M225 40h1M140 41h1M225 41h1M139 42h1M224 42h1M139 43h1M224 43h1M139 44h1M224 44h1M139 45h1M223 45h1M77 46h1M138 46h1M77 47h1M138 47h1M222 47h1M76 48h1M137 48h1M221 48h1M76 49h1M137 49h1M75 50h1M137 50h1M220 50h1M75 51h1M118 51h1M136 51h1M219 51h1M75 52h1M118 52h1M136 52h1M218 52h1M75 53h1M136 53h1M74 54h1M119 54h1M136 54h1M217 54h1M74 55h1M136 55h1M216 55h1M74 56h1M120 56h1M136 56h1M215 56h1M74 57h1M121 57h1M136 57h1M73 58h1M121 58h1M136 58h1M214 58h1M73 59h1M122 59h1M213 59h1M73 60h1M122 60h1M212 60h1M72 61h1M122 61h1M137 61h1M211 61h1M72 62h1M122 62h1M210 62h1M71 63h1M122 63h1M71 64h1M122 64h1M138 64h1M209 64h1M122 65h1M208 65h1M70 66h1M122 66h1M207 66h1M70 67h1M122 67h1M139 68h1M69 69h1M123 69h1M69 70h1M123 70h1M69 71h1M123 71h1M123 72h1M68 73h1M138 74h1M25 75h1M67 75h1M24 76h2M137 76h1M24 77h2M66 77h1M191 77h2M24 78h2M65 78h1M189 78h1M24 79h2M135 79h1M188 79h1M24 80h2M134 80h1M187 80h1M24 81h2M133 81h1M24 82h1M61 82h1M126 82h1M132 82h1M24 83h1M60 83h1M24 84h1M129 84h1M24 85h1M57 85h1M24 86h1M56 86h1M24 87h1M55 87h1M24 88h1M54 88h1M119 88h4M24 89h1M53 89h1M117 89h1M123 89h1M24 90h1M114 90h2M24 91h1M52 91h1M108 91h1M124 91h1M52 92h1M104 92h1M23 93h1M52 93h1M23 94h1M52 94h1M126 94h1M22 95h1M52 95h1M100 95h1M22 96h1M52 96h1M21 97h1M52 97h1M129 97h1M19 98h2M52 98h1M75 98h1M130 98h1M16 99h3M12 100h3M97 100h1M7 101h4M74 101h1M2 102h4M51 102h1M0 103h2M51 103h1M136 103h1M50 105h1M98 105h1M49 106h1M139 107h1M48 108h1M48 109h1M88 116h1M68 117h1M88 117h1M98 117h1M46 118h1M89 118h1M88 119h1M87 120h1M75 121h1M86 121h1M45 122h1M66 122h1M75 122h1M66 123h1M75 123h1M85 123h1M66 124h1M66 125h1M83 125h1M66 126h1M77 126h1M81 126h1M43 128h1M65 128h1M63 130h1M42 131h1M41 133h1M41 134h1M40 135h2M57 135h1M40 136h3M43 137h1M43 138h1M44 139h1M46 140h1M47 141h3M76 146h1M74 147h1M76 147h1M74 148h2M71 153h2M69 155h1M69 156h1M72 156h1M70 157h1M44 160h1M43 161h1M45 161h1M43 162h3M47 166h2M47 167h3M47 168h2M69 187h1M75 189h1M65 192h1M64 196h1M64 197h1M63 202h1M53 225h1M45 226h4M57 226h2M43 227h1M59 227h1M41 229h1M61 229h1M62 230h1M39 232h1M63 232h1M38 234h1M64 234h1M38 235h1M38 236h1M65 236h1M37 238h1M67 238h1M36 239h1M68 239h1M35 240h1M69 240h1M34 241h1M33 242h1M71 242h1M33 243h1M73 245h1M76 248h1M34 251h1M78 251h1M34 252h1M79 252h1M34 253h1M34 254h1M80 254h1M81 257h1M35 258h1M81 258h1M35 259h1M82 259h1M82 260h1M36 261h1M83 262h1M37 263h1M83 263h1M37 264h1M83 264h1M83 265h1M38 266h1M83 266h1M83 267h1M39 268h1M82 268h1M40 269h1M81 269h2M80 270h2M41 271h1M79 271h2M42 272h1M77 272h2M43 273h1M75 273h2M44 274h1M74 274h2M45 275h2M73 275h1M47 276h1M71 276h2M49 277h1M69 277h2M50 278h1M66 278h2M51 279h2M63 279h2M53 280h3M61 280h1M57 281h4"/><path stroke="#b1ef74" d="M198 15h16M194 16h5M214 16h2M215 17h2M217 18h2M218 19h2M219 20h2M220 21h2M221 22h2M222 23h1M223 24h1M223 25h2M224 26h1M224 27h1M225 28h1M225 29h1M225 30h1M225 31h1M225 32h1M225 33h1M225 34h1M225 35h1M225 36h1M141 40h1M224 40h1M141 41h1M224 41h1M140 42h1M140 43h1M223 43h1M140 44h1M223 44h1M222 45h1M78 46h1M139 46h1M222 46h1M78 47h1M139 47h1M221 47h1M77 48h1M138 48h1M77 49h1M138 49h1M220 49h1M76 50h1M219 50h1M76 51h1M117 51h1M137 51h1M76 52h1M117 52h1M137 52h1M118 53h1M137 53h1M217 53h1M75 54h1M118 54h1M137 54h1M216 54h1M75 55h1M119 55h1M215 55h1M75 56h1M119 56h1M75 57h1M120 57h1M214 57h1M74 58h1M213 58h1M74 59h1M121 59h1M137 59h1M212 59h1M74 60h1M121 60h1M137 60h1M211 60h1M73 61h1M210 61h1M73 62h1M209 62h1M72 63h1M138 63h1M209 63h1M72 64h1M208 64h1M71 65h1M139 65h1M207 65h1M71 66h1M121 66h1M139 66h1M206 66h1M139 67h1M205 67h1M70 68h1M122 68h1M70 69h1M139 69h1M139 70h1M139 71h1M69 72h1M139 72h1M123 73h1M68 74h1M123 74h1M24 75h1M123 75h1M194 75h1M23 76h1M67 76h1M123 76h1M192 76h2M23 77h1M189 77h2M23 78h1M66 78h1M136 78h1M188 78h1M23 79h1M65 79h1M124 79h1M187 79h1M23 80h1M64 80h1M23 81h1M63 81h1M125 81h1M23 82h1M62 82h1M23 83h1M127 83h1M131 83h1M23 84h1M59 84h1M128 84h1M130 84h1M23 85h1M58 85h1M23 86h1M57 86h1M23 87h1M23 88h1M118 88h1M23 89h1M54 89h1M116 89h1M23 90h1M53 90h1M111 90h3M23 91h1M53 91h1M107 91h1M23 92h1M53 92h1M103 92h1M125 92h1M22 94h1M127 95h1M21 96h1M99 96h1M128 96h1M20 97h1M18 98h1M76 98h1M98 98h1M14 99h2M52 99h1M131 99h1M9 100h3M52 100h1M3 101h4M52 101h1M133 101h1M0 102h2M51 104h1M97 104h1M138 105h1M50 106h1M98 106h1M49 107h1M140 108h1M48 110h1M48 111h1M48 112h1M47 115h1M70 116h2M87 116h1M98 116h1M87 117h1M89 117h1M88 118h1M90 118h1M46 119h1M75 119h1M92 119h1M66 120h1M66 121h1M85 122h1M45 123h1M84 124h1M76 125h1M44 126h1M78 126h1M43 129h1M64 129h1M43 130h1M42 132h1M60 132h1M42 133h1M59 133h1M42 134h1M58 134h1M42 135h1M43 136h1M55 136h1M54 137h1M44 138h1M53 138h1M45 139h1M52 139h1M47 140h1M51 140h1M75 146h1M75 147h1M70 154h1M72 154h1M72 155h1M70 156h1M44 161h1M73 188h1M66 189h1M76 191h1M65 193h1M65 194h1M76 194h1M75 196h1M65 198h1M73 198h1M65 199h1M71 199h1M69 200h1M64 201h1M68 201h1M67 202h1M66 203h1M49 226h1M56 226h1M58 227h1M42 228h1M60 228h1M61 230h1M40 231h1M62 231h1M39 233h1M63 233h1M39 234h1M39 235h1M64 235h1M39 236h1M64 236h1M38 237h1M65 237h1M38 238h1M66 238h1M37 239h1M36 240h1M35 241h1M70 241h1M34 242h1M34 244h1M35 245h1M35 246h1M74 246h1M35 247h1M75 247h1M35 248h1M35 249h1M76 249h1M77 250h1M79 253h1M35 255h1M80 255h1M35 256h1M80 256h1M35 257h1M80 257h1M36 259h1M81 259h1M36 260h1M82 261h1M37 262h1M82 262h1M82 263h1M38 264h1M82 264h1M38 265h1M82 265h1M82 266h1M39 267h1M82 267h1M40 268h1M81 268h1M80 269h1M41 270h1M78 270h2M42 271h1M77 271h2M43 272h1M75 272h2M44 273h1M74 273h1M45 274h1M72 274h2M47 275h1M71 275h2M48 276h2M69 276h2M50 277h1M66 277h3M51 278h2M64 278h2M53 279h3M61 279h2M56 280h5"/><path stroke="#bef276" d="M199 16h5M208 16h6M194 17h6M213 17h2M215 18h2M216 19h2M217 20h2M218 21h2M219 22h2M220 23h2M221 24h2M222 25h1M223 26h1M223 27h1M224 28h1M224 29h1M224 30h1M224 31h1M224 32h1M224 33h1M224 34h1M224 35h1M224 36h1M224 37h1M224 38h1M224 39h1M142 40h1M142 41h1M223 41h1M141 42h1M223 42h1M141 43h1M141 44h1M222 44h1M140 45h1M140 46h1M221 46h1M79 47h1M78 48h1M139 48h1M220 48h1M78 49h1M219 49h1M77 50h1M138 50h1M77 51h1M116 51h1M138 51h1M218 51h1M77 52h1M138 52h1M217 52h1M76 53h1M117 53h1M216 53h1M76 54h1M215 54h1M76 55h1M118 55h1M137 55h1M76 56h1M137 56h1M214 56h1M76 57h1M119 57h1M137 57h1M213 57h1M75 58h1M120 58h1M137 58h1M212 58h1M75 59h1M120 59h1M211 59h1M75 60h1M210 60h1M74 61h1M121 61h1M209 61h1M74 62h1M121 62h1M138 62h1M73 63h1M121 63h1M208 63h1M73 64h1M121 64h1M139 64h1M207 64h1M72 65h1M121 65h1M72 66h1M71 67h1M121 67h1M71 68h1M140 68h1M122 69h1M140 69h1M202 69h1M70 70h1M70 71h1M69 73h1M139 73h1M196 73h1M195 74h1M68 75h1M138 75h1M193 75h1M22 76h1M190 76h2M22 77h1M67 77h1M123 77h1M137 77h1M188 77h1M22 78h1M187 78h1M22 79h1M186 79h1M22 80h1M22 81h1M22 82h1M125 82h1M22 83h1M61 83h1M126 83h1M22 84h1M60 84h1M127 84h1M22 85h1M59 85h1M128 85h2M22 86h1M22 87h1M56 87h1M120 87h3M22 88h1M55 88h1M123 88h1M22 89h1M115 89h1M22 90h1M54 90h1M110 90h1M124 90h1M22 91h1M54 91h1M106 91h1M22 92h1M102 92h1M22 93h1M53 93h1M101 93h1M126 93h1M53 94h1M100 94h1M21 95h1M53 95h1M20 96h1M53 96h1M19 97h1M53 97h1M130 97h1M15 98h3M53 98h1M74 98h1M12 99h2M77 99h1M3 100h6M77 100h1M132 100h1M0 101h3M52 102h1M75 102h1M135 102h1M137 103h1M51 105h1M139 106h1M98 107h1M49 108h1M98 108h1M98 109h1M98 110h1M98 112h1M48 113h1M98 113h1M98 114h1M98 115h1M47 116h1M69 116h1M72 116h1M67 117h1M74 117h1M87 118h1M91 118h1M97 118h1M66 119h1M93 119h1M96 119h1M46 120h1M86 120h1M45 124h1M79 126h2M44 127h1M65 127h1M43 131h1M61 131h1M43 135h1M56 135h1M44 137h1M45 138h1M46 139h1M48 140h3M71 154h1M70 155h1M71 156h1M67 188h1M72 188h1M76 192h1M65 195h1M65 196h1M65 197h1M74 197h1M69 199h2M65 200h1M68 200h1M67 201h1M64 202h1M64 203h2M50 226h2M54 226h2M44 227h1M57 227h1M59 228h1M60 229h1M41 230h1M61 231h1M40 232h1M62 232h1M63 234h1M40 235h1M40 236h1M39 237h2M39 238h1M38 239h1M67 239h1M37 240h1M34 243h1M72 245h1M35 250h1M35 251h1M77 251h1M35 252h1M78 252h1M35 253h1M35 254h1M79 254h1M36 257h1M36 258h1M80 258h1M81 260h1M37 261h1M81 261h1M38 263h1M81 265h1M39 266h1M81 266h1M80 267h2M80 268h1M41 269h1M78 269h2M42 270h1M76 270h2M43 271h1M75 271h2M44 272h1M73 272h2M45 273h1M72 273h2M46 274h1M71 274h1M48 275h1M69 275h2M50 276h1M67 276h2M51 277h2M64 277h2M53 278h2M62 278h2M56 279h5"/><path stroke="#caf478" d="M204 16h4M200 17h3M209 17h4M193 18h7M213 18h2M214 19h2M215 20h2M217 21h1M218 22h1M219 23h1M220 24h1M221 25h1M222 26h1M222 27h1M223 28h1M223 29h1M223 30h1M223 31h1M223 39h1M223 40h1M143 41h1M142 42h1M222 42h1M142 43h1M222 43h1M142 44h1M141 45h1M221 45h1M141 46h1M80 47h1M140 47h1M220 47h1M79 48h1M140 48h1M79 49h1M139 49h1M78 50h1M139 50h1M218 50h1M78 51h1M217 51h1M116 52h1M216 52h1M77 53h1M138 53h1M215 53h1M77 54h1M117 54h1M138 54h1M77 55h1M138 55h1M214 55h1M77 56h1M118 56h1M138 56h1M213 56h1M212 57h1M76 58h1M119 58h1M211 58h1M76 59h1M210 59h1M120 60h1M138 60h1M209 60h1M75 61h1M120 61h1M138 61h1M75 62h1M208 62h1M74 63h1M139 63h1M207 63h1M74 64h1M73 65h1M120 65h1M206 65h1M120 66h1M140 66h1M205 66h1M72 67h1M140 67h1M204 67h1M121 68h1M203 68h1M71 69h1M201 69h1M71 70h1M122 70h1M140 70h1M200 70h1M140 71h1M198 71h1M70 72h1M197 72h1M69 74h1M139 74h1M194 74h1M192 75h1M21 76h1M68 76h1M188 76h2M21 77h1M187 77h1M21 78h1M67 78h1M123 78h1M186 78h1M21 79h1M66 79h1M21 80h1M65 80h1M124 80h1M135 80h1M21 81h1M64 81h1M134 81h1M21 82h1M63 82h1M133 82h1M21 83h1M62 83h1M132 83h1M21 84h1M61 84h1M131 84h1M21 85h1M130 85h1M21 86h1M58 86h1M57 87h1M119 87h1M56 88h1M117 88h1M55 89h1M114 89h1M124 89h1M55 90h1M109 90h1M104 91h2M54 92h1M21 93h1M54 93h1M21 94h1M54 94h1M127 94h1M20 95h1M54 95h1M128 95h1M19 96h1M54 96h1M129 96h1M17 97h2M98 97h1M14 98h1M131 98h1M5 99h7M53 99h1M73 99h1M97 99h1M0 100h3M53 100h1M73 100h1M77 101h1M96 101h1M76 102h1M96 102h1M52 103h1M138 104h1M51 106h1M50 107h1M140 107h1M49 109h1M98 111h1M48 114h1M89 116h1M47 117h1M86 117h1M90 117h1M66 118h1M75 118h1M86 118h1M87 119h1M94 119h2M46 121h1M85 121h1M84 123h1M76 124h1M83 124h1M45 125h1M82 125h1M65 126h1M44 128h1M64 128h1M44 129h1M63 129h1M62 130h1M43 132h1M43 133h1M43 134h1M57 134h1M44 135h1M44 136h1M54 136h1M45 137h1M53 137h1M46 138h1M52 138h1M47 139h1M51 139h1M71 155h1M74 189h1M66 190h1M75 190h1M76 193h1M66 198h1M72 198h1M66 199h3M66 200h2M65 201h2M65 202h2M52 226h2M56 227h1M43 228h1M58 228h1M42 229h1M59 229h1M60 230h1M41 231h1M61 232h1M40 233h1M62 233h1M40 234h1M41 235h1M63 235h1M41 236h2M41 237h2M64 237h1M40 238h1M65 238h1M39 239h1M68 240h1M36 241h1M35 242h1M35 243h1M71 243h1M35 244h1M36 246h1M73 246h1M36 247h1M36 248h1M75 248h1M76 250h1M78 253h1M36 255h1M79 255h1M36 256h1M79 256h1M79 257h1M79 258h1M37 259h1M80 259h1M37 260h1M80 260h1M38 262h1M81 262h1M81 263h1M39 264h1M81 264h1M39 265h1M80 265h1M80 266h1M40 267h1M79 267h1M41 268h1M78 268h2M42 269h1M76 269h2M75 270h1M73 271h2M72 272h1M46 273h1M71 273h1M47 274h1M69 274h2M49 275h1M67 275h2M51 276h1M65 276h2M53 277h1M63 277h1M55 278h3M60 278h2"/><path stroke="#d7f67a" d="M203 17h6M200 18h3M209 18h4M193 19h7M212 19h2M214 20h1M215 21h2M216 22h2M217 23h2M219 24h1M220 25h1M220 26h2M221 27h1M222 28h1M222 29h1M222 30h1M223 32h1M223 33h1M223 34h1M223 35h1M223 36h1M223 37h1M223 38h1M144 40h1M222 41h1M143 42h1M143 43h1M221 43h1M143 44h1M221 44h1M142 45h1M142 46h1M220 46h1M141 47h1M80 48h1M141 48h1M219 48h1M80 49h1M140 49h1M218 49h1M79 50h1M217 50h1M79 51h1M139 51h1M216 51h1M78 52h1M115 52h1M139 52h1M215 52h1M78 53h1M116 53h1M139 53h1M214 53h1M78 54h1M139 54h1M214 54h1M78 55h1M117 55h1M213 55h1M78 56h1M77 57h1M118 57h1M138 57h1M77 58h1M138 58h1M77 59h1M119 59h1M138 59h1M76 60h1M119 60h1M76 61h1M208 61h1M76 62h1M120 62h1M139 62h1M207 62h1M75 63h1M120 63h1M75 64h1M120 64h1M206 64h1M74 65h1M140 65h1M205 65h1M73 66h1M204 66h1M73 67h1M120 67h1M203 67h1M72 68h1M141 68h1M202 68h1M72 69h1M141 69h1M199 70h1M71 71h1M122 71h1M197 71h1M140 72h1M196 72h1M70 73h1M195 73h1M193 74h1M69 75h1M190 75h2M20 76h1M138 76h1M187 76h1M20 77h1M68 77h1M186 77h1M20 78h1M20 79h1M136 79h1M185 79h1M20 80h1M66 80h1M20 81h1M65 81h1M124 81h1M20 82h1M64 82h1M20 83h1M63 83h1M125 83h1M20 84h1M126 84h1M20 85h1M60 85h1M127 85h1M59 86h1M120 86h3M21 87h1M118 87h1M123 87h1M21 88h1M116 88h1M124 88h1M21 89h1M56 89h1M113 89h1M21 90h1M108 90h1M21 91h1M55 91h1M103 91h1M125 91h1M21 92h1M55 92h1M101 92h1M55 93h1M20 94h1M55 94h1M55 95h1M99 95h1M18 96h1M130 96h1M15 97h2M54 97h1M75 97h1M11 98h3M54 98h1M73 98h1M77 98h1M0 99h5M53 101h1M73 101h1M74 102h1M96 103h1M52 104h1M52 105h1M97 105h1M51 107h1M50 108h1M49 110h1M49 111h1M48 115h1M68 116h1M73 116h1M86 116h1M97 117h1M47 118h1M92 118h1M86 119h1M85 120h1M46 122h1M65 124h1M65 125h1M77 125h1M45 126h1M44 130h1M44 131h1M44 132h1M44 133h1M58 133h1M44 134h1M55 135h1M45 136h1M48 139h3M68 188h1M71 188h1M66 191h1M66 192h1M66 193h1M66 194h1M66 195h1M66 196h1M66 197h1M67 198h1M71 198h1M45 227h1M55 227h1M57 228h1M58 229h1M42 230h1M59 230h1M60 231h1M41 232h1M41 233h1M61 233h1M41 234h2M62 234h1M42 235h1M62 235h1M43 236h1M63 236h1M43 237h1M41 238h2M40 239h1M66 239h1M38 240h1M37 241h1M69 241h1M36 242h1M70 242h1M36 243h1M36 244h1M71 244h1M36 245h1M74 247h1M36 249h1M75 249h1M36 250h1M76 251h1M36 252h1M77 252h1M36 253h1M36 254h1M37 258h1M79 259h1M38 261h1M80 261h1M80 262h1M39 263h1M80 263h1M80 264h1M79 265h1M40 266h1M79 266h1M41 267h1M78 267h1M76 268h2M75 269h1M43 270h1M74 270h1M44 271h1M72 271h1M45 272h1M71 272h1M47 273h1M69 273h2M48 274h2M67 274h2M50 275h1M66 275h1M52 276h2M64 276h1M54 277h3M61 277h2M58 278h2"/><path stroke="#e4f87c" d="M203 18h6M200 19h3M209 19h3M193 20h7M212 20h2M213 21h2M214 22h2M216 23h1M217 24h2M218 25h2M219 26h1M220 27h1M221 28h1M221 29h1M222 31h1M222 32h1M222 33h1M222 34h1M222 38h1M222 39h1M145 40h1M222 40h1M144 41h1M144 42h1M221 42h1M144 43h1M144 44h1M143 45h1M220 45h1M143 46h1M142 47h1M219 47h1M81 48h1M218 48h1M81 49h1M141 49h1M80 50h1M140 50h1M216 50h1M80 51h1M140 51h1M215 51h1M79 52h1M214 52h1M79 53h1M115 53h1M79 54h1M116 54h1M213 54h1M79 55h1M139 55h1M117 56h1M139 56h1M212 56h1M78 57h1M211 57h1M78 58h1M118 58h1M210 58h1M78 59h1M118 59h1M209 59h1M77 60h1M208 60h1M77 61h1M119 61h1M139 61h1M76 63h1M206 63h1M140 64h1M205 64h1M75 65h1M204 65h1M74 66h1M203 66h1M74 67h1M141 67h1M202 67h1M73 68h1M201 68h1M73 69h1M121 69h1M200 69h1M72 70h1M141 70h1M198 70h1M72 71h1M141 71h1M196 71h1M71 72h1M122 72h1M195 72h1M122 73h1M140 73h1M194 73h1M70 74h1M122 74h1M192 74h1M122 75h1M139 75h1M188 75h2M19 76h1M69 76h1M122 76h1M19 77h1M19 78h1M68 78h1M137 78h1M185 78h1M19 79h1M67 79h1M123 79h1M184 79h1M19 80h1M19 81h1M19 82h1M124 82h1M19 83h1M124 83h1M19 84h1M62 84h1M19 85h1M61 85h1M121 85h1M20 86h1M60 86h1M119 86h1M123 86h1M128 86h2M20 87h1M58 87h1M117 87h1M124 87h1M20 88h1M57 88h1M115 88h1M57 89h1M111 89h2M56 90h1M107 90h1M125 90h1M56 91h1M102 91h1M56 92h1M126 92h1M20 93h1M56 93h1M100 93h1M127 93h1M56 94h1M19 95h1M56 95h1M129 95h1M17 96h1M55 96h1M98 96h1M14 97h1M55 97h1M74 97h1M76 97h1M131 97h1M0 98h11M54 99h1M54 100h1M53 102h1M136 102h1M138 103h1M139 105h1M52 106h1M97 106h1M140 106h1M97 107h1M49 112h1M97 116h1M85 117h1M91 117h1M85 118h1M96 118h1M47 119h1M85 119h1M76 120h1M76 121h1M65 122h1M84 122h1M46 123h1M65 123h1M76 123h1M46 124h1M81 125h1M45 127h1M64 127h1M45 128h1M61 130h1M60 131h1M59 132h1M56 134h1M45 135h1M54 135h1M53 136h1M46 137h1M52 137h1M47 138h2M51 138h1M69 188h2M67 189h1M75 195h1M67 197h1M68 198h3M46 227h2M54 227h1M56 228h1M43 229h1M57 229h1M58 230h1M42 231h1M42 232h1M60 232h1M42 233h1M43 234h1M61 234h1M43 235h1M44 236h1M44 237h1M63 237h1M43 238h2M64 238h1M41 239h1M65 239h1M39 240h1M67 240h1M38 241h1M37 242h1M75 250h1M36 251h1M77 253h1M78 254h1M37 255h1M78 255h1M37 256h1M78 256h1M37 257h1M78 257h1M38 260h1M79 260h1M79 261h1M39 262h1M79 262h1M79 263h1M79 264h1M40 265h1M78 265h1M77 266h2M76 267h2M42 268h1M75 268h1M43 269h1M74 269h1M44 270h1M73 270h1M45 271h1M71 271h1M46 272h1M69 272h2M48 273h1M68 273h1M50 274h1M66 274h1M51 275h2M64 275h2M54 276h2M62 276h2M57 277h4"/><path stroke="#f0fb7e" d="M203 19h6M200 20h3M208 20h4M194 21h6M211 21h2M213 22h1M214 23h2M215 24h2M217 25h1M218 26h1M219 27h1M220 28h1M220 29h1M221 30h1M221 31h1M221 32h1M222 35h1M222 36h1M222 37h1M145 41h1M221 41h1M145 42h1M220 44h1M144 45h1M144 46h1M219 46h1M143 47h1M142 48h1M82 49h1M217 49h1M81 50h1M141 50h1M215 50h1M81 51h1M214 51h1M80 52h1M140 52h1M80 53h1M114 53h1M140 53h1M213 53h1M80 54h1M115 54h1M140 54h1M80 55h1M116 55h1M212 55h1M79 56h1M211 56h1M79 57h1M117 57h1M139 57h1M210 57h1M79 58h1M117 58h1M139 58h1M209 58h1M139 59h1M208 59h1M78 60h1M118 60h1M139 60h1M78 61h1M207 61h1M77 62h1M119 62h1M206 62h1M77 63h1M119 63h1M140 63h1M205 63h1M76 64h1M119 64h1M204 64h1M76 65h1M119 65h1M203 65h1M75 66h1M119 66h1M141 66h1M202 66h1M75 67h1M201 67h1M74 68h1M120 68h1M142 68h1M200 68h1M142 69h1M199 69h1M73 70h1M197 70h1M72 72h1M141 72h1M71 73h1M193 73h1M71 74h1M140 74h1M190 74h2M18 75h1M70 75h1M187 75h1M18 76h1M70 76h1M186 76h1M18 77h1M69 77h1M122 77h1M138 77h1M185 77h1M18 78h1M184 78h1M18 79h1M68 79h1M18 80h1M67 80h1M123 80h1M183 80h1M18 81h1M66 81h1M123 81h1M135 81h1M18 82h1M65 82h1M123 82h1M134 82h1M18 83h1M64 83h1M123 83h1M133 83h1M63 84h1M122 84h4M132 84h1M62 85h1M119 85h2M122 85h2M126 85h1M131 85h1M19 86h1M118 86h1M124 86h1M127 86h1M130 86h1M19 87h1M59 87h1M58 88h1M114 88h1M125 88h1M20 89h1M110 89h1M125 89h1M20 90h1M57 90h1M105 90h2M20 91h1M57 91h2M20 92h1M57 92h2M57 93h2M19 94h1M57 94h1M99 94h1M128 94h1M18 95h1M57 95h1M16 96h1M56 96h1M131 96h1M0 97h8M11 97h3M56 97h1M73 97h1M55 98h1M97 98h1M55 99h1M132 99h1M96 100h1M54 101h1M134 101h1M137 102h1M53 103h1M53 104h1M139 104h1M53 105h1M52 107h1M141 107h1M51 108h1M97 108h1M50 109h1M97 109h1M49 113h1M97 113h1M97 114h1M70 115h2M87 115h2M97 115h1M48 116h1M90 116h1M66 117h1M75 117h1M84 117h1M84 118h1M93 118h1M76 119h1M47 120h1M65 121h1M84 121h1M76 122h1M83 123h1M82 124h1M46 125h1M78 125h1M80 125h1M64 126h1M63 128h1M45 129h1M62 129h1M45 130h1M45 131h1M45 132h1M45 133h1M57 133h1M45 134h1M55 134h1M46 135h1M46 136h1M47 137h1M51 137h1M49 138h2M73 189h1M75 191h1M67 196h1M74 196h1M73 197h1M48 227h6M44 228h1M43 230h1M59 231h1M43 232h1M43 233h1M60 233h1M44 235h1M61 235h1M62 236h1M42 239h1M40 240h1M66 240h1M68 241h1M38 242h1M37 243h1M37 244h1M37 245h1M71 245h1M37 246h1M72 246h1M37 247h1M37 248h1M74 248h1M37 249h1M76 252h1M37 253h1M37 254h1M38 258h1M78 258h1M38 259h1M78 259h1M39 261h1M78 263h1M40 264h1M78 264h1M77 265h1M41 266h1M76 266h1M42 267h1M75 267h1M43 268h1M74 268h1M44 269h1M73 269h1M72 270h1M46 271h1M70 271h1M47 272h1M68 272h1M49 273h1M66 273h2M51 274h1M65 274h1M53 275h2M63 275h1M56 276h6"/><path stroke="#fdfd80" d="M203 20h5M192 21h2M200 21h4M207 21h4M196 22h5M210 22h3M212 23h2M213 24h2M215 25h2M216 26h2M217 27h2M218 28h2M219 29h1M220 30h1M220 31h1M220 32h1M221 33h1M221 34h1M221 35h1M221 36h1M221 37h1M221 38h1M147 39h1M221 39h1M146 40h1M221 40h1M146 41h1M220 42h1M145 43h1M220 43h1M145 44h1M145 45h1M219 45h1M145 46h1M144 47h1M218 47h1M143 48h1M217 48h1M142 49h1M216 49h1M82 50h2M214 50h1M82 51h1M141 51h1M81 52h1M213 52h1M81 53h1M212 53h1M81 54h1M114 54h1M212 54h1M115 55h1M140 55h1M211 55h1M80 56h1M116 56h1M140 56h1M210 56h1M80 57h1M116 57h1M209 57h1M80 58h1M208 58h1M79 59h1M117 59h1M79 60h1M117 60h1M207 60h1M118 61h1M140 61h1M206 61h1M78 62h1M118 62h1M140 62h1M205 62h1M78 63h1M204 63h1M77 64h1M77 65h1M141 65h1M76 66h1M119 67h1M142 67h1M75 68h1M199 68h1M74 69h1M198 69h1M121 70h1M142 70h1M196 70h1M73 71h1M195 71h1M194 72h1M72 73h1M141 73h1M192 73h1M189 74h1M16 75h2M71 75h1M186 75h1M17 76h1M139 76h1M185 76h1M17 77h1M70 77h1M184 77h1M17 78h1M69 78h1M122 78h1M17 79h1M137 79h1M183 79h1M17 80h1M68 80h1M136 80h1M67 81h1M182 81h1M66 82h1M65 83h1M122 83h1M18 84h1M64 84h1M120 84h2M18 85h1M124 85h2M18 86h1M61 86h1M117 86h1M125 86h2M60 87h1M116 87h1M125 87h4M19 88h1M59 88h1M113 88h1M126 88h1M19 89h1M58 89h1M109 89h1M58 90h2M103 90h2M59 91h2M101 91h1M126 91h1M59 92h2M127 92h1M19 93h1M59 93h2M58 94h2M58 95h1M130 95h1M0 96h6M14 96h2M57 96h1M8 97h3M57 97h1M97 97h1M56 98h1M72 98h1M56 99h1M72 99h1M78 99h1M55 100h1M54 102h1M73 102h1M77 102h1M75 103h1M96 104h1M53 106h1M50 110h1M97 110h1M97 112h1M49 114h1M69 115h1M72 115h1M67 116h1M74 116h1M85 116h1M48 117h1M92 117h1M96 117h1M94 118h2M84 119h1M65 120h1M84 120h1M47 121h1M47 122h1M47 123h1M77 124h1M79 125h1M46 126h1M46 127h1M59 131h1M58 132h1M46 133h1M56 133h1M46 134h1M54 134h1M53 135h1M47 136h1M52 136h1M48 137h3M67 190h1M74 190h1M75 194h1M67 195h1M68 197h1M55 228h1M56 229h1M57 230h1M43 231h1M58 231h1M59 232h1M44 234h1M60 234h1M61 236h1M45 237h1M62 237h1M45 238h1M63 238h1M43 239h1M64 239h1M41 240h1M39 241h1M69 242h1M70 243h1M73 247h1M74 249h1M37 250h1M37 251h1M75 251h1M37 252h1M76 253h1M77 254h1M38 255h1M77 255h1M38 256h1M38 257h1M39 260h1M78 260h1M78 261h1M40 262h1M78 262h1M40 263h1M77 264h1M41 265h1M76 265h1M75 266h1M74 267h1M73 268h1M72 269h1M45 270h1M70 270h2M68 271h2M48 272h1M67 272h1M50 273h1M65 273h1M52 274h2M64 274h1M55 275h3M61 275h2"/><path stroke="#fdf97d" d="M204 21h3M191 22h5M201 22h9M198 23h5M209 23h3M211 24h2M213 25h2M214 26h2M216 27h1M217 28h1M218 29h1M218 30h2M219 31h1M220 33h1M220 34h1M148 39h1M147 40h1M147 41h1M220 41h1M146 42h1M146 43h1M218 46h1M145 47h1M144 48h1M216 48h1M143 49h1M215 49h1M142 50h1M83 51h1M213 51h1M82 52h1M141 52h1M212 52h1M82 53h1M141 53h1M82 54h1M141 54h1M211 54h1M81 55h1M81 56h1M115 56h1M209 56h1M81 57h1M140 57h1M208 57h1M81 58h1M116 58h1M140 58h1M80 59h1M116 59h1M140 59h1M207 59h1M80 60h1M140 60h1M206 60h1M79 61h1M117 61h1M205 61h1M79 62h1M118 63h1M141 63h1M78 64h1M118 64h1M141 64h1M203 64h1M118 65h1M202 65h1M77 66h1M142 66h1M201 66h1M76 67h1M200 67h1M143 68h1M198 68h1M75 69h1M143 69h1M197 69h1M74 70h1M195 70h1M74 71h1M142 71h1M194 71h1M73 72h1M193 72h1M191 73h1M72 74h1M188 74h1M15 75h1M140 75h1M15 76h2M71 76h1M16 77h1M16 78h1M70 78h1M138 78h1M183 78h1M16 79h1M69 79h1M122 79h1M182 80h1M17 81h1M17 82h1M122 82h1M181 82h1M17 83h1M121 83h1M17 84h1M119 84h1M17 85h1M63 85h1M118 85h1M17 86h1M62 86h1M18 87h1M61 87h1M114 87h2M129 87h1M18 88h1M60 88h2M111 88h2M127 88h1M59 89h2M108 89h1M126 89h1M19 90h1M60 90h1M102 90h1M126 90h1M19 91h1M61 91h1M19 92h1M61 92h1M100 92h1M61 93h1M128 93h1M18 94h1M60 94h1M129 94h1M0 95h5M17 95h1M59 95h1M98 95h1M131 95h1M6 96h8M58 96h2M73 96h2M58 97h1M72 97h1M77 97h1M57 98h1M78 98h1M57 99h1M56 100h1M72 100h1M78 100h1M133 100h1M55 101h1M55 102h1M54 103h1M74 103h1M76 103h1M54 104h1M96 105h1M140 105h1M141 106h1M53 107h1M52 108h1M51 109h1M50 111h1M97 111h1M49 115h1M91 116h1M83 117h1M93 117h1M48 118h1M76 118h1M83 118h1M65 119h1M47 124h1M47 125h1M64 125h1M63 127h1M46 128h1M46 129h1M61 129h1M46 130h1M60 130h1M46 131h1M46 132h1M55 133h1M47 134h1M53 134h1M47 135h1M52 135h1M48 136h4M68 189h1M72 189h1M67 191h1M67 192h1M75 192h1M67 193h1M75 193h1M67 194h1M68 196h1M69 197h4M45 228h1M54 228h1M44 229h1M44 232h1M44 233h1M59 233h1M60 235h1M45 236h1M44 239h1M65 240h1M40 241h1M67 241h1M39 242h1M38 243h1M38 244h1M74 250h1M75 252h1M38 253h1M38 254h1M77 256h1M77 257h1M77 258h1M39 259h1M77 259h1M77 260h1M40 261h1M77 261h1M77 262h1M77 263h1M41 264h1M76 264h1M75 265h1M42 266h1M74 266h1M43 267h1M73 267h1M44 268h1M72 268h1M45 269h1M71 269h1M46 270h1M69 270h1M47 271h1M67 271h1M49 272h2M65 272h2M51 273h2M64 273h1M54 274h2M62 274h2M58 275h3"/><path stroke="#fdf57b" d="M191 23h7M203 23h6M198 24h13M210 25h3M212 26h2M214 27h2M215 28h2M216 29h2M217 30h1M218 31h1M219 32h1M219 33h1M220 35h1M220 36h1M220 37h1M220 38h1M220 39h1M148 40h1M220 40h1M147 42h1M219 43h1M146 44h1M219 44h1M146 45h1M146 46h1M217 47h1M145 48h1M144 49h1M214 49h1M143 50h1M213 50h1M84 51h1M142 51h1M212 51h1M83 52h2M142 52h1M83 53h1M211 53h1M83 54h1M113 54h1M82 55h1M114 55h1M141 55h1M210 55h1M82 56h1M141 56h1M208 56h1M82 57h1M115 57h1M207 58h1M81 59h1M206 59h1M81 60h1M116 60h1M205 60h1M80 61h1M80 62h1M117 62h1M141 62h1M204 62h1M79 63h1M117 63h1M203 63h1M79 64h1M202 64h1M78 65h1M142 65h1M201 65h1M78 66h1M118 66h1M200 66h1M77 67h1M143 67h1M199 67h1M76 68h1M76 69h1M120 69h1M196 69h1M75 70h1M143 70h1M121 71h1M74 72h1M142 72h1M73 73h1M190 73h1M141 74h1M187 74h1M72 75h1M185 75h1M14 76h1M140 76h1M184 76h1M15 77h1M71 77h1M139 77h1M183 77h1M15 78h1M182 78h1M15 79h1M70 79h1M182 79h1M16 80h1M69 80h1M122 80h1M16 81h1M68 81h1M122 81h1M181 81h1M16 82h1M67 82h1M16 83h1M66 83h1M120 83h1M134 83h1M16 84h1M65 84h1M133 84h1M16 85h1M64 85h1M117 85h1M132 85h1M16 86h1M63 86h1M115 86h2M131 86h1M17 87h1M62 87h1M113 87h1M130 87h1M17 88h1M62 88h1M110 88h1M128 88h1M18 89h1M61 89h1M106 89h2M127 89h2M18 90h1M61 90h2M127 90h1M62 91h1M127 91h1M62 92h1M18 93h1M62 93h1M99 93h1M0 94h5M17 94h1M61 94h1M5 95h4M15 95h2M60 95h1M60 96h1M72 96h1M75 96h1M97 96h1M59 97h1M58 98h2M132 98h1M58 99h1M96 99h1M57 100h1M56 101h1M72 101h1M78 101h1M138 102h1M55 103h1M139 103h1M140 104h1M54 105h1M54 106h1M96 106h1M50 112h1M68 115h1M73 115h1M86 115h1M89 115h1M96 115h1M66 116h1M84 116h1M92 116h1M96 116h1M82 117h1M95 117h1M65 118h1M48 119h1M83 119h1M48 120h1M48 121h1M48 122h1M83 122h1M48 123h1M48 124h1M64 124h1M81 124h1M47 126h1M47 127h1M47 128h1M62 128h1M47 129h1M47 130h1M59 130h1M47 131h1M58 131h1M47 132h1M57 132h1M47 133h2M54 133h1M48 134h1M51 134h2M48 135h4M46 228h1M52 228h2M55 229h1M44 230h1M56 230h1M44 231h1M57 231h1M58 232h1M59 234h1M45 235h1M60 236h1M61 237h1M62 238h1M63 239h1M42 240h1M66 241h1M68 242h1M70 244h1M38 245h1M38 246h1M71 246h1M38 247h1M72 247h1M38 248h1M73 248h1M38 249h1M38 250h1M38 251h1M74 251h1M38 252h1M75 253h1M76 254h1M39 255h1M76 255h1M39 256h1M76 256h1M39 257h1M39 258h1M76 262h1M41 263h1M76 263h1M75 264h1M74 265h1M73 266h1M44 267h1M72 267h1M45 268h1M71 268h1M46 269h1M70 269h1M47 270h1M68 270h1M48 271h2M66 271h1M51 272h1M64 272h1M53 273h2M63 273h1M56 274h6"/><path stroke="#fdf178" d="M191 24h7M198 25h12M208 26h4M211 27h3M213 28h2M215 29h1M216 30h1M217 31h1M218 32h1M218 33h1M219 34h1M219 35h1M150 39h1M149 40h1M148 41h2M148 42h1M219 42h1M147 43h1M147 44h1M218 45h1M146 47h1M216 47h1M215 48h1M213 49h1M212 50h1M143 51h1M85 52h1M211 52h1M84 53h1M142 53h1M210 53h1M84 54h1M210 54h1M83 55h1M112 55h2M209 55h1M83 56h1M114 56h1M83 57h1M114 57h1M141 57h1M207 57h1M82 58h1M115 58h1M141 58h1M206 58h1M82 59h1M115 59h1M141 59h1M205 59h1M115 60h1M141 60h1M81 61h1M116 61h1M141 61h1M204 61h1M116 62h1M203 62h1M80 63h1M142 63h1M202 63h1M117 64h1M142 64h1M201 64h1M79 65h1M200 65h1M143 66h1M199 66h1M78 67h1M198 67h1M77 68h1M119 68h1M144 68h1M197 68h1M195 69h1M194 70h1M75 71h1M143 71h1M193 71h1M121 72h1M192 72h1M74 73h1M142 73h1M188 73h2M11 74h1M73 74h1M186 74h1M12 75h2M73 75h1M121 75h1M141 75h1M184 75h1M12 76h2M72 76h1M121 76h1M183 76h1M13 77h2M72 77h1M182 77h1M14 78h1M71 78h1M139 78h1M14 79h1M138 79h1M181 79h1M14 80h2M70 80h1M137 80h1M181 80h1M15 81h1M69 81h1M136 81h1M15 82h1M68 82h1M121 82h1M135 82h1M180 82h1M15 83h1M67 83h1M15 84h1M66 84h1M118 84h1M15 85h1M65 85h1M116 85h1M15 86h1M64 86h1M114 86h1M16 87h1M63 87h1M112 87h1M63 88h1M109 88h1M129 88h1M17 89h1M62 89h2M104 89h2M63 90h1M101 90h1M128 90h1M18 91h1M63 91h1M100 91h1M128 91h1M0 92h2M18 92h1M63 92h1M128 92h1M0 93h6M63 93h1M5 94h4M62 94h1M98 94h1M130 94h1M9 95h6M61 95h1M132 95h1M61 96h1M71 96h1M76 96h1M132 96h1M60 97h1M71 97h1M132 97h1M60 98h1M71 98h1M59 99h1M71 99h1M58 100h2M57 101h2M135 101h1M56 102h1M72 102h1M56 103h1M73 103h1M55 104h1M55 105h1M141 105h1M142 106h1M96 107h1M53 108h1M96 108h1M52 109h1M51 110h1M50 113h1M96 113h1M96 114h1M49 116h1M83 116h1M65 117h1M76 117h1M94 117h1M83 120h1M83 121h1M64 123h1M77 123h1M82 123h1M78 124h1M48 125h1M48 126h1M63 126h1M48 127h1M48 128h1M48 129h1M60 129h1M48 130h1M48 131h1M48 132h2M55 132h2M49 133h5M49 134h2M69 189h3M68 195h1M74 195h1M73 196h1M47 228h5M54 229h1M45 233h1M58 233h1M45 234h1M59 235h1M45 239h1M43 240h1M64 240h1M41 241h1M40 242h1M39 243h1M69 243h1M70 245h1M73 249h1M73 250h1M74 252h1M39 253h1M39 254h1M75 254h1M76 257h1M76 258h1M76 259h1M40 260h1M76 260h1M76 261h1M41 262h1M75 262h1M75 263h1M74 264h1M42 265h1M73 265h1M43 266h1M72 266h1M71 267h1M70 268h1M47 269h1M68 269h2M48 270h1M66 270h2M50 271h1M65 271h1M52 272h2M63 272h1M55 273h4M60 273h3"/><path stroke="#fded75" d="M191 25h7M198 26h10M201 27h10M211 28h2M213 29h2M214 30h2M215 31h2M216 32h2M217 33h1M218 34h1M219 36h1M219 37h1M219 38h1M151 39h2M150 40h2M219 40h1M150 41h1M219 41h1M149 42h1M148 43h1M218 44h1M147 45h1M147 46h1M217 46h1M147 47h1M146 48h1M214 48h1M145 49h1M144 50h1M211 51h1M143 52h1M210 52h1M85 53h1M85 54h1M142 54h1M209 54h1M84 55h1M111 55h1M142 55h1M208 55h1M84 56h1M112 56h2M207 56h1M206 57h1M83 58h1M114 58h1M205 58h1M114 59h1M82 60h1M204 60h1M115 61h1M203 61h1M81 62h1M142 62h1M202 62h1M81 63h1M116 63h1M201 63h1M80 64h1M80 65h1M117 65h1M143 65h1M79 66h1M144 66h1M79 67h1M118 67h1M144 67h1M197 67h1M78 68h1M196 68h1M77 69h1M144 69h1M76 70h1M144 70h1M75 72h1M143 72h1M190 72h2M121 73h1M187 73h1M8 74h3M74 74h1M121 74h1M142 74h1M185 74h1M9 75h3M10 76h2M73 76h1M141 76h1M182 76h1M11 77h2M121 77h1M140 77h1M12 78h2M72 78h1M181 78h1M12 79h2M71 79h1M13 80h1M71 80h1M180 80h1M13 81h2M70 81h1M121 81h1M180 81h1M13 82h2M69 82h1M179 82h1M13 83h2M68 83h1M119 83h1M13 84h2M67 84h1M117 84h1M13 85h2M66 85h1M115 85h1M178 85h1M13 86h2M65 86h1M113 86h1M14 87h2M64 87h1M111 87h1M177 87h1M15 88h2M64 88h1M108 88h1M177 88h1M16 89h1M64 89h1M103 89h1M129 89h1M0 90h1M17 90h1M64 90h1M0 91h4M17 91h1M64 91h1M2 92h5M17 92h1M64 92h1M99 92h1M6 93h3M17 93h1M64 93h1M129 93h1M9 94h3M16 94h1M63 94h2M62 95h2M71 95h3M62 96h1M61 97h1M78 97h1M61 98h1M96 98h1M60 99h1M60 100h1M71 100h1M59 101h1M95 101h1M136 101h2M57 102h2M78 102h1M95 102h1M57 103h1M77 103h1M140 103h1M56 104h1M55 106h1M54 107h1M96 109h1M96 110h1M51 111h1M96 112h1M50 114h1M70 114h1M67 115h1M90 115h1M75 116h1M82 116h1M93 116h3M49 117h1M49 118h1M82 118h1M49 121h1M49 122h1M64 122h1M49 123h1M49 124h1M79 124h2M49 125h1M63 125h1M49 126h1M49 127h2M62 127h1M49 128h2M61 128h1M49 129h2M49 130h2M58 130h1M49 131h3M57 131h1M50 132h5M68 190h1M73 190h1M74 191h1M69 196h1M45 229h1M55 230h1M56 231h1M45 232h1M57 232h1M58 234h1M58 235h1M59 236h1M60 237h1M61 238h1M62 239h1M44 240h1M63 240h1M42 241h1M65 241h1M67 242h1M39 244h1M39 245h1M70 246h1M71 247h1M72 248h1M39 249h1M73 251h1M39 252h1M74 253h1M40 255h1M75 255h1M40 256h1M75 256h1M75 257h1M75 258h1M40 259h1M75 259h1M75 260h1M41 261h1M75 261h1M74 263h1M42 264h1M73 264h1M43 265h1M72 265h1M44 266h1M71 266h1M45 267h1M70 267h1M46 268h1M69 268h1M48 269h1M67 269h1M49 270h1M65 270h1M51 271h2M64 271h1M54 272h3M61 272h2M59 273h1"/><path stroke="#fee972" d="M190 26h2M195 26h3M198 27h3M201 28h10M210 29h3M212 30h2M214 31h1M215 32h1M216 33h1M217 34h1M218 35h1M218 36h1M154 38h1M153 39h1M219 39h1M152 40h1M151 41h1M150 42h1M149 43h1M148 44h1M148 45h1M148 46h1M215 47h1M147 48h1M213 48h1M146 49h1M212 49h1M145 50h1M211 50h1M144 51h1M143 53h1M209 53h1M86 54h1M208 54h1M85 55h1M207 55h1M85 56h1M110 56h2M142 56h1M206 56h1M84 57h1M112 57h2M142 57h1M205 57h1M84 58h1M113 58h1M83 59h1M204 59h1M83 60h1M114 60h1M142 60h1M203 60h1M82 61h1M114 61h1M142 61h1M202 61h1M82 62h1M115 62h1M143 63h1M81 64h1M116 64h1M143 64h1M200 64h1M144 65h1M199 65h1M80 66h1M198 66h1M79 68h1M145 68h1M195 68h1M78 69h1M194 69h1M77 70h1M120 70h1M193 70h1M76 71h1M144 71h1M192 71h1M189 72h1M75 73h1M143 73h1M186 73h1M6 74h2M184 74h1M5 75h4M74 75h1M142 75h1M183 75h1M6 76h4M74 76h1M7 77h4M73 77h1M181 77h1M8 78h4M73 78h1M121 78h1M140 78h1M10 79h2M72 79h1M139 79h1M180 79h1M11 80h2M121 80h1M138 80h1M11 81h2M71 81h1M179 81h1M11 82h2M70 82h1M120 82h1M11 83h2M69 83h1M178 83h1M11 84h2M68 84h1M11 85h2M67 85h1M114 85h1M177 85h1M10 86h3M66 86h1M112 86h1M177 86h1M9 87h5M65 87h1M110 87h1M131 87h1M1 88h1M9 88h6M65 88h1M107 88h1M130 88h1M176 88h1M0 89h5M7 89h9M65 89h1M102 89h1M175 89h2M1 90h11M16 90h1M65 90h1M129 90h1M175 90h1M4 91h7M65 91h1M174 91h1M7 92h4M65 92h2M9 93h3M16 93h1M65 93h2M12 94h4M65 94h2M70 94h2M131 94h1M64 95h2M69 95h2M74 95h1M97 95h1M63 96h2M69 96h2M77 96h1M62 97h2M70 97h1M96 97h1M62 98h1M70 98h1M61 99h1M70 99h1M79 99h1M61 100h1M60 101h1M71 101h1M59 102h1M139 102h1M58 103h1M95 103h1M57 104h1M141 104h1M56 105h1M142 105h1M55 107h1M54 108h1M53 109h1M52 110h1M163 110h1M96 111h1M161 111h2M51 112h1M69 114h1M71 114h1M95 114h1M50 115h1M74 115h1M85 115h1M91 115h2M95 115h1M81 117h1M49 119h1M77 119h1M49 120h1M64 121h1M77 122h1M50 125h1M50 126h1M51 128h1M51 129h1M59 129h1M51 130h1M52 131h5M68 193h1M68 194h1M70 196h1M72 196h1M52 229h2M45 230h1M45 231h1M57 233h1M46 236h1M58 236h1M46 237h1M59 237h1M46 238h1M64 241h1M41 242h1M66 242h1M40 243h1M68 243h1M69 244h1M39 246h1M39 247h1M70 247h1M39 248h1M71 248h1M72 249h1M39 250h1M72 250h1M39 251h1M73 252h1M73 253h1M40 254h1M74 254h1M74 255h1M74 256h1M40 257h1M74 257h1M40 258h1M74 261h1M74 262h1M42 263h1M73 263h1M72 264h1M71 265h1M45 266h1M70 266h1M46 267h1M69 267h1M47 268h1M68 268h1M49 269h1M66 269h1M50 270h2M64 270h1M53 271h3M62 271h2M57 272h4"/><path stroke="#fee570" d="M192 26h3M189 27h2M195 27h3M198 28h3M202 29h8M210 30h2M212 31h2M214 32h1M215 33h1M216 34h1M217 35h1M218 37h1M154 39h2M153 40h2M152 41h2M151 42h2M150 43h2M218 43h1M149 44h2M149 45h1M217 45h1M149 46h1M216 46h1M148 47h1M214 47h1M148 48h1M147 49h1M146 50h1M145 51h1M210 51h1M144 52h1M209 52h1M208 53h1M143 54h1M207 54h1M86 55h1M206 55h1M205 56h1M85 57h1M109 57h3M111 58h2M142 58h1M204 58h1M84 59h1M112 59h2M142 59h1M203 59h1M113 60h1M202 60h1M83 61h1M114 62h1M143 62h1M201 62h1M82 63h1M115 63h1M200 63h1M144 64h1M199 64h1M81 65h1M116 65h1M198 65h1M117 66h1M145 66h1M197 66h1M80 67h1M145 67h1M196 67h1M79 69h1M145 69h1M193 69h1M78 70h1M145 70h1M192 70h1M77 71h1M190 71h2M76 72h1M144 72h1M188 72h1M76 73h1M185 73h1M75 74h1M143 74h1M183 74h1M4 75h1M75 75h1M182 75h1M3 76h3M142 76h1M181 76h1M2 77h5M74 77h1M141 77h1M180 77h1M1 78h7M180 78h1M0 79h10M73 79h1M121 79h1M179 79h1M0 80h11M72 80h1M179 80h1M0 81h11M72 81h1M137 81h1M178 81h1M0 82h11M71 82h1M136 82h1M178 82h1M0 83h11M70 83h1M118 83h1M135 83h1M177 83h1M0 84h11M69 84h1M115 84h2M134 84h1M177 84h1M0 85h11M68 85h2M113 85h1M133 85h1M0 86h10M67 86h2M111 86h1M132 86h1M176 86h1M0 87h9M66 87h2M109 87h1M175 87h2M2 88h7M66 88h1M105 88h2M175 88h1M5 89h2M66 89h1M101 89h1M174 89h1M12 90h4M66 90h1M100 90h1M174 90h1M11 91h2M16 91h1M66 91h2M173 91h1M11 92h2M16 92h1M67 92h1M172 92h1M12 93h2M67 93h3M98 93h1M67 94h3M72 94h1M66 95h3M75 95h1M170 95h1M65 96h4M64 97h2M69 97h1M63 98h1M69 98h1M79 98h1M62 99h1M133 99h1M62 100h1M70 100h1M79 100h1M95 100h1M61 101h1M138 101h1M60 102h1M71 102h1M59 103h1M72 103h1M58 104h1M75 104h1M57 105h1M166 105h1M56 106h1M166 106h1M165 107h1M164 108h2M163 109h2M161 110h2M51 113h1M72 114h1M87 114h1M66 115h1M93 115h2M50 116h1M65 116h1M77 118h1M82 119h1M64 120h1M77 120h1M77 121h1M82 122h1M50 123h1M81 123h1M50 124h1M63 124h1M51 126h1M62 126h1M51 127h1M60 128h1M52 129h1M58 129h1M52 130h2M56 130h2M68 191h1M68 192h1M74 194h1M69 195h1M71 196h1M46 229h1M50 229h2M54 230h1M55 231h1M56 232h1M46 233h1M46 234h1M57 234h1M46 235h1M57 235h1M60 238h1M61 239h1M62 240h1M43 241h1M69 245h1M70 248h1M71 249h1M72 251h1M72 252h1M40 253h1M73 254h1M73 255h1M73 256h1M73 257h1M74 258h1M74 259h1M41 260h1M74 260h1M73 261h1M42 262h1M73 262h1M72 263h1M43 264h1M71 264h1M44 265h1M46 266h1M47 267h1M68 267h1M48 268h1M67 268h1M50 269h1M65 269h1M52 270h2M63 270h1M56 271h6"/><path stroke="#fee16d" d="M191 27h4M183 28h8M195 28h3M198 29h4M202 30h8M210 31h2M212 32h2M214 33h1M215 34h1M216 35h1M217 36h1M157 38h1M218 38h1M156 39h1M218 39h1M155 40h1M218 40h1M154 41h1M218 41h1M153 42h1M218 42h1M152 43h1M151 44h2M217 44h1M150 45h2M150 46h1M215 46h1M149 47h2M149 48h1M212 48h1M148 49h1M211 49h1M147 50h1M210 50h1M209 51h1M208 52h1M144 53h1M207 53h1M206 54h1M143 55h1M205 55h1M86 56h1M143 56h1M86 57h1M204 57h1M85 58h1M108 58h3M203 58h1M109 59h3M202 59h1M84 60h1M110 60h3M143 60h1M112 61h2M143 61h1M201 61h1M83 62h1M200 62h1M144 63h1M199 63h1M82 64h1M115 64h1M198 64h1M145 65h1M197 65h1M81 66h1M146 66h1M196 66h1M81 67h1M146 67h1M195 67h1M80 68h1M146 68h1M194 68h1M119 69h1M146 69h1M191 70h1M145 71h1M189 71h1M77 72h1M187 72h1M144 73h1M184 73h1M76 74h1M182 74h1M143 75h1M181 75h1M75 76h1M143 76h1M180 76h1M75 77h1M142 77h1M74 78h1M141 78h1M179 78h1M74 79h1M140 79h1M73 80h1M178 80h1M120 81h1M72 82h1M119 82h1M177 82h1M71 83h1M70 84h1M114 84h1M176 84h1M70 85h1M112 85h1M175 85h2M69 86h1M110 86h1M175 86h1M68 87h1M108 87h1M174 87h1M67 88h1M103 88h2M173 88h2M67 89h1M173 89h1M67 90h1M172 90h2M13 91h3M68 91h1M99 91h1M129 91h1M171 91h2M13 92h3M68 92h2M129 92h1M170 92h2M14 93h2M70 93h2M73 94h1M169 94h1M169 95h1M96 96h1M168 96h2M66 97h3M168 97h1M64 98h5M167 98h1M63 99h2M69 99h1M63 100h1M69 100h1M134 100h1M62 101h1M70 101h1M79 101h1M166 101h1M61 102h1M166 102h1M60 103h1M141 103h1M166 103h1M59 104h1M74 104h1M95 104h1M142 104h1M166 104h1M58 105h1M143 105h1M165 105h1M57 106h1M165 106h1M56 107h1M164 107h1M55 108h1M162 108h2M54 109h1M161 109h2M53 110h1M159 110h2M52 111h1M95 113h1M51 114h1M68 114h1M88 114h1M94 114h1M81 116h1M50 117h1M77 117h1M50 118h1M64 118h1M81 118h1M50 119h1M64 119h1M50 120h1M82 120h1M50 121h1M82 121h1M50 122h1M63 123h1M78 123h1M51 125h1M61 127h1M52 128h1M53 129h1M54 130h2M69 190h1M72 190h1M74 192h1M74 193h1M47 229h3M53 230h1M46 232h1M57 236h1M58 237h1M46 239h1M45 240h1M63 241h1M65 242h1M67 243h1M40 244h1M68 244h1M69 246h1M69 247h1M70 249h1M71 250h1M71 251h1M40 252h1M72 253h1M72 254h1M41 255h1M72 255h1M41 256h1M72 256h1M72 257h1M72 258h2M41 259h1M72 259h2M72 260h2M42 261h1M72 261h1M72 262h1M43 263h1M71 263h1M44 264h1M70 264h1M45 265h1M70 265h1M47 266h1M69 266h1M48 267h1M67 267h1M49 268h1M66 268h1M51 269h1M64 269h1M54 270h2M61 270h2"/><path stroke="#fedd6a" d="M191 28h4M182 29h10M193 29h5M198 30h4M204 31h6M210 32h2M213 33h1M214 34h1M215 35h1M216 36h1M217 37h1M158 38h1M157 39h1M156 40h1M155 41h2M154 42h2M153 43h2M153 44h1M152 45h2M216 45h1M151 46h2M151 47h1M213 47h1M150 48h2M149 49h2M210 49h1M148 50h2M209 50h1M146 51h2M208 51h1M145 52h1M207 52h1M206 53h1M144 54h1M204 56h1M143 57h1M203 57h1M86 58h1M143 58h1M202 58h1M85 59h1M107 59h2M143 59h1M108 60h2M201 60h1M84 61h1M110 61h2M200 61h1M113 62h1M144 62h1M199 62h1M83 63h1M114 63h1M145 63h1M198 63h1M145 64h1M197 64h1M82 65h1M146 65h1M196 65h1M82 66h1M147 66h1M195 66h1M147 67h1M194 67h1M81 68h1M118 68h1M147 68h1M193 68h1M80 69h1M147 69h1M192 69h1M79 70h1M146 70h1M190 70h1M78 71h1M120 71h1M146 71h1M187 71h2M145 72h1M186 72h1M77 73h1M145 73h1M183 73h1M144 74h1M181 74h1M76 75h1M144 75h1M180 75h1M76 76h1M76 77h1M143 77h1M179 77h1M75 78h1M142 78h1M178 78h1M178 79h1M74 80h1M139 80h1M177 80h1M73 81h1M138 81h1M177 81h1M73 82h1M176 82h1M72 83h1M117 83h1M175 83h2M71 84h1M113 84h1M175 84h1M71 85h1M111 85h1M174 85h1M70 86h1M109 86h1M173 86h2M69 87h1M107 87h1M173 87h1M68 88h2M102 88h1M172 88h1M68 89h1M130 89h1M171 89h2M68 90h2M170 90h2M69 91h1M169 91h2M70 92h1M168 92h2M72 93h1M130 93h1M168 93h2M74 94h1M97 94h1M132 94h1M167 94h2M76 95h1M167 95h2M78 96h1M166 96h2M79 97h1M166 97h2M166 98h1M65 99h4M95 99h1M165 99h2M64 100h1M68 100h1M137 100h1M165 100h2M63 101h1M69 101h1M165 101h1M62 102h1M70 102h1M140 102h1M165 102h1M61 103h1M71 103h1M78 103h1M165 103h1M60 104h1M73 104h1M76 104h1M165 104h1M59 105h1M95 105h1M164 105h1M58 106h1M95 106h1M163 106h2M57 107h1M95 107h1M162 107h2M56 108h1M95 108h1M161 108h1M55 109h1M95 109h1M159 109h2M95 110h1M158 110h1M95 111h1M52 112h1M95 112h1M67 114h1M73 114h1M86 114h1M93 114h1M51 115h1M84 115h1M76 116h1M64 117h1M80 117h1M62 125h1M52 127h1M53 128h1M59 128h1M54 129h1M56 129h2M70 190h1M73 195h1M46 230h1M52 230h1M46 231h1M54 231h1M56 233h1M59 238h1M60 239h1M61 240h1M62 241h1M42 242h1M64 242h1M41 243h1M66 243h1M40 245h1M68 245h1M40 246h1M40 247h1M40 248h1M69 248h1M40 249h1M69 249h1M40 250h1M70 250h1M40 251h1M70 251h1M71 252h1M71 253h1M41 254h1M71 254h1M71 255h1M70 256h2M41 257h1M70 257h2M41 258h1M71 258h1M71 259h1M71 260h1M71 261h1M43 262h1M71 262h1M44 263h1M70 263h1M45 264h1M46 265h1M69 265h1M68 266h1M49 267h1M66 267h1M50 268h1M64 268h2M52 269h2M62 269h2M56 270h5"/><path stroke="#fed968" d="M192 29h1M181 30h17M197 31h7M207 32h3M211 33h2M213 34h1M214 35h1M161 37h1M159 38h1M217 38h1M158 39h2M157 40h2M157 41h1M156 42h1M155 43h2M217 43h1M154 44h2M154 45h1M153 46h2M214 46h1M152 47h2M152 48h2M211 48h1M151 49h3M150 50h3M148 51h5M146 52h1M145 53h1M205 54h1M144 55h1M204 55h1M144 56h1M203 56h1M202 57h1M157 59h3M201 59h1M85 60h1M106 60h2M144 60h1M158 60h2M200 60h1M108 61h2M144 61h1M158 61h2M199 61h1M84 62h1M110 62h3M145 62h1M158 62h2M198 62h1M113 63h1M146 63h1M158 63h2M197 63h1M83 64h1M114 64h1M146 64h2M158 64h2M115 65h1M147 65h2M158 65h3M116 66h1M148 66h1M158 66h3M82 67h1M117 67h1M148 67h2M158 67h4M193 67h1M148 68h2M159 68h4M192 68h1M81 69h1M148 69h2M161 69h2M191 69h1M80 70h1M147 70h2M188 70h2M79 71h1M147 71h1M186 71h1M78 72h1M146 72h1M184 72h2M146 73h1M182 73h1M77 74h1M145 74h1M180 74h1M77 75h1M145 75h1M179 75h1M77 76h1M144 76h1M179 76h1M144 77h1M178 77h1M76 78h1M143 78h1M177 78h1M75 79h1M141 79h1M177 79h1M75 80h1M120 80h1M140 80h1M176 80h1M74 81h1M175 81h2M118 82h1M137 82h1M174 82h2M73 83h1M116 83h1M136 83h1M173 83h2M72 84h1M173 84h2M72 85h1M172 85h2M71 86h1M108 86h1M133 86h1M171 86h2M70 87h1M105 87h2M132 87h1M169 87h4M70 88h1M101 88h1M131 88h1M169 88h3M69 89h1M100 89h1M168 89h3M70 90h1M167 90h3M70 91h1M167 91h2M71 92h1M98 92h1M166 92h2M166 93h2M165 94h2M96 95h1M133 95h1M165 95h2M133 96h1M164 96h2M133 97h1M164 97h2M133 98h1M164 98h2M164 99h1M65 100h3M164 100h1M64 101h1M68 101h1M139 101h1M164 101h1M63 102h1M79 102h1M164 102h1M164 103h1M163 104h2M60 105h1M163 105h1M59 106h1M162 106h1M58 107h1M161 107h1M57 108h1M159 108h2M158 109h1M54 110h1M53 111h1M52 113h1M70 113h1M94 113h1M89 114h1M91 114h2M65 115h1M75 115h1M83 115h1M51 116h1M78 117h1M78 118h1M63 122h1M51 123h1M79 123h2M51 124h1M52 126h1M61 126h1M60 127h1M58 128h1M55 129h1M71 190h1M73 191h1M69 194h1M70 195h1M47 230h5M47 231h1M53 231h1M47 232h1M55 232h1M47 233h1M47 234h1M56 234h1M56 235h1M56 236h1M57 237h1M44 241h1M63 242h1M65 243h1M67 244h1M68 246h1M68 247h1M69 250h1M69 251h1M70 252h1M70 253h1M70 254h1M70 255h1M69 256h1M69 257h1M69 258h2M70 259h1M42 260h1M70 260h1M43 261h1M70 261h1M44 262h1M70 262h1M45 263h1M69 263h1M46 264h1M69 264h1M47 265h1M68 265h1M48 266h1M67 266h1M65 267h1M51 268h1M63 268h1M54 269h3M59 269h3"/><path stroke="#fed565" d="M180 31h17M196 32h11M208 33h3M212 34h1M213 35h1M215 36h1M162 37h1M216 37h1M160 38h2M160 39h1M217 39h1M159 40h1M217 40h1M158 41h1M217 41h1M157 42h2M217 42h1M157 43h1M156 44h1M216 44h1M155 45h2M215 45h1M155 46h2M154 47h2M212 47h1M154 48h2M210 48h1M154 49h2M209 49h1M153 50h2M208 50h1M153 51h2M207 51h1M147 52h8M206 52h1M146 53h1M151 53h4M205 53h1M145 54h1M152 54h4M204 54h1M145 55h1M153 55h3M203 55h1M153 56h5M202 56h1M144 57h1M154 57h6M87 58h1M144 58h1M154 58h7M201 58h1M86 59h1M144 59h1M154 59h3M160 59h1M200 59h1M154 60h4M160 60h1M199 60h1M85 61h1M106 61h2M145 61h1M154 61h4M160 61h2M198 61h1M109 62h1M146 62h1M152 62h6M160 62h2M197 62h1M84 63h1M112 63h1M147 63h2M150 63h8M160 63h2M148 64h10M160 64h3M196 64h1M83 65h1M149 65h9M161 65h3M195 65h1M149 66h9M161 66h4M194 66h1M150 67h8M162 67h3M82 68h1M150 68h9M163 68h3M191 68h1M150 69h11M163 69h4M189 69h2M81 70h1M149 70h18M187 70h1M80 71h1M148 71h20M185 71h1M79 72h1M120 72h1M147 72h22M182 72h2M78 73h1M147 73h23M180 73h2M78 74h1M146 74h2M151 74h19M179 74h1M78 75h1M146 75h2M153 75h18M178 75h1M145 76h2M154 76h17M178 76h1M77 77h1M145 77h1M155 77h17M177 77h1M144 78h1M155 78h17M176 78h1M76 79h1M142 79h2M155 79h22M141 80h1M155 80h21M75 81h1M119 81h1M139 81h1M154 81h21M74 82h1M154 82h20M115 83h1M155 83h18M73 84h1M112 84h1M135 84h1M155 84h18M110 85h1M134 85h1M163 85h9M72 86h1M107 86h1M164 86h7M71 87h1M103 87h2M164 87h5M71 88h1M164 88h5M70 89h1M165 89h3M99 90h1M130 90h1M164 90h3M71 91h1M164 91h3M164 92h2M73 93h1M97 93h1M131 93h1M164 93h2M75 94h1M164 94h1M77 95h1M163 95h2M163 96h1M162 97h2M95 98h1M162 98h2M80 99h1M162 99h2M138 100h1M162 100h2M65 101h3M162 101h2M64 102h1M68 102h2M162 102h2M62 103h1M70 103h1M142 103h1M162 103h2M61 104h1M72 104h1M77 104h1M143 104h1M162 104h1M144 105h1M162 105h1M60 106h1M161 106h1M59 107h1M159 107h2M58 108h1M158 108h1M56 109h1M157 109h1M55 110h1M54 111h1M53 112h1M69 113h1M71 113h1M52 114h1M66 114h1M90 114h1M64 116h1M80 116h1M51 117h1M79 117h1M51 118h1M80 118h1M51 119h1M81 119h1M51 120h1M51 121h1M63 121h1M51 122h1M78 122h1M81 122h1M62 124h1M52 125h1M53 127h1M54 128h1M57 128h1M69 191h1M69 193h1M72 195h1M48 231h1M52 231h1M54 232h1M55 233h1M47 235h1M47 237h1M47 238h1M58 238h1M59 239h1M60 240h1M61 241h1M43 242h1M41 244h1M67 245h1M68 248h1M68 249h1M68 250h1M68 251h1M69 252h1M41 253h1M69 253h1M69 254h1M69 255h1M68 256h1M68 257h1M68 258h1M42 259h1M69 259h1M69 260h1M69 261h1M69 262h1M47 264h1M68 264h1M48 265h1M67 265h1M49 266h1M66 266h1M50 267h1M64 267h1M52 268h2M61 268h2M57 269h2"/><path stroke="#fed162" d="M179 32h17M196 33h12M210 34h2M212 35h1M165 36h1M214 36h1M163 37h1M215 37h1M162 38h1M216 38h1M161 39h1M160 40h1M159 41h1M159 42h1M158 43h1M157 44h2M157 45h1M157 46h1M213 46h1M156 47h2M211 47h1M156 48h1M156 49h1M208 49h1M155 50h2M207 50h1M155 51h2M206 51h1M155 52h2M205 52h1M147 53h4M155 53h2M204 53h1M146 54h1M150 54h2M156 54h1M203 54h1M151 55h2M156 55h2M202 55h1M145 56h1M152 56h1M158 56h2M201 56h1M145 57h1M152 57h2M160 57h1M201 57h1M145 58h1M152 58h2M161 58h1M200 58h1M87 59h1M145 59h1M152 59h2M161 59h1M199 59h1M86 60h1M145 60h1M151 60h3M161 60h1M198 60h1M105 61h1M146 61h1M150 61h4M162 61h1M197 61h1M107 62h2M147 62h5M162 62h1M110 63h2M149 63h1M162 63h2M196 63h1M84 64h1M113 64h1M163 64h1M195 64h1M114 65h1M164 65h1M194 65h1M83 66h1M165 66h1M193 66h1M83 67h1M165 67h2M191 67h2M166 68h1M189 68h2M82 69h1M167 69h1M187 69h2M119 70h1M167 70h2M185 70h2M168 71h2M183 71h2M80 72h1M169 72h3M181 72h1M79 73h1M170 73h3M179 73h1M79 74h1M148 74h3M170 74h3M178 74h1M79 75h1M148 75h5M171 75h3M177 75h1M78 76h1M120 76h1M147 76h7M171 76h7M78 77h1M120 77h1M146 77h9M172 77h5M77 78h1M120 78h1M145 78h10M172 78h4M120 79h1M144 79h2M150 79h5M76 80h1M142 80h1M151 80h4M151 81h3M75 82h1M117 82h1M152 82h2M74 83h1M114 83h1M152 83h3M74 84h1M111 84h1M153 84h2M73 85h1M109 85h1M153 85h10M73 86h1M106 86h1M154 86h10M72 87h1M102 87h1M157 87h7M100 88h1M161 88h3M71 89h1M131 89h1M162 89h3M71 90h1M162 90h2M98 91h1M130 91h1M162 91h2M72 92h1M130 92h1M162 92h2M162 93h2M162 94h2M162 95h1M162 96h1M161 97h1M80 98h1M161 98h1M160 99h2M80 100h1M135 100h2M161 100h1M161 101h1M65 102h3M141 102h1M161 102h1M63 103h1M69 103h1M161 103h1M62 104h1M71 104h1M161 104h1M61 105h1M160 105h2M159 106h2M60 107h1M158 107h1M59 108h1M156 108h2M57 109h1M56 110h1M94 112h1M67 113h2M93 113h1M65 114h1M52 115h1M64 115h1M82 115h1M77 116h1M79 118h1M78 119h1M62 123h1M61 125h1M53 126h1M59 127h1M55 128h2M69 192h1M73 194h1M71 195h1M49 231h3M48 232h1M53 232h1M48 233h1M55 234h1M47 236h1M56 237h1M57 238h1M46 240h1M45 241h1M62 242h1M42 243h1M64 243h1M66 244h1M41 245h1M67 246h1M67 247h1M67 248h1M67 249h1M67 250h1M41 252h1M68 252h1M68 253h1M68 254h1M68 255h1M68 259h1M43 260h1M68 260h1M44 261h1M68 261h1M45 262h1M68 262h1M46 263h1M68 263h1M48 264h1M67 264h1M49 265h1M66 265h1M50 266h1M65 266h1M51 267h1M63 267h1M54 268h7"/><path stroke="#fecd60" d="M179 33h17M195 34h15M211 35h1M166 36h1M213 36h1M164 37h1M163 38h1M162 39h1M216 39h1M161 40h1M160 41h1M160 42h1M159 43h1M216 43h1M159 44h1M215 44h1M158 45h1M214 45h1M158 46h1M212 46h1M158 47h1M210 47h1M157 48h1M209 48h1M157 49h1M157 50h1M206 50h1M157 51h1M205 51h1M157 52h1M204 52h1M157 53h1M203 53h1M147 54h3M157 54h2M202 54h1M146 55h1M149 55h2M158 55h1M201 55h1M146 56h1M150 56h2M160 56h1M200 56h1M151 57h1M161 57h1M200 57h1M151 58h1M199 58h1M146 59h1M150 59h2M162 59h1M198 59h1M87 60h1M146 60h2M149 60h2M162 60h1M197 60h1M86 61h1M147 61h3M163 61h1M196 61h1M85 62h1M105 62h2M163 62h1M196 62h1M108 63h2M164 63h1M195 63h1M112 64h1M164 64h1M194 64h1M84 65h1M165 65h1M193 65h1M115 66h1M166 66h1M191 66h2M167 67h1M189 67h2M83 68h1M167 68h2M186 68h3M168 69h1M185 69h2M82 70h1M169 70h1M184 70h1M81 71h1M170 71h3M181 71h2M172 72h2M179 72h2M80 73h1M120 73h1M173 73h2M178 73h1M80 74h1M120 74h1M173 74h5M120 75h1M174 75h3M79 76h1M78 78h1M77 79h1M146 79h4M143 80h2M149 80h2M76 81h1M140 81h1M150 81h1M138 82h1M151 82h1M75 83h1M113 83h1M151 83h1M110 84h1M152 84h1M74 85h1M108 85h1M152 85h1M104 86h2M153 86h1M73 87h1M101 87h1M153 87h4M72 88h1M132 88h1M155 88h6M72 89h1M99 89h1M159 89h3M160 90h2M72 91h1M161 91h1M73 92h1M161 92h1M74 93h1M161 93h1M76 94h1M96 94h1M161 94h1M161 95h1M79 96h1M161 96h1M95 97h1M160 97h1M160 98h1M137 99h1M159 99h1M159 100h2M80 101h1M140 101h1M160 101h1M160 102h1M64 103h2M67 103h2M160 103h1M63 104h1M144 104h1M160 104h1M62 105h1M159 105h1M61 106h1M158 106h1M157 107h1M60 108h1M58 109h2M57 110h1M55 111h1M94 111h1M54 112h1M53 113h1M66 113h1M72 113h1M92 113h1M74 114h1M85 114h1M52 116h1M78 116h2M52 117h1M63 119h1M63 120h1M78 120h1M81 120h1M78 121h1M81 121h1M52 124h1M60 126h1M54 127h1M73 192h1M49 232h4M54 233h1M48 234h1M55 235h1M55 236h1M47 239h1M58 239h1M60 241h1M63 243h1M65 244h1M66 245h1M41 246h1M41 247h1M41 248h1M41 249h1M41 250h1M41 251h1M67 251h1M67 252h1M42 255h1M42 256h1M67 256h1M42 257h1M67 257h1M42 258h1M67 258h1M67 259h1M67 260h1M67 261h1M67 262h1M47 263h1M67 263h1M66 264h1M50 265h1M65 265h1M51 266h1M64 266h1M52 267h1M60 267h3"/><path stroke="#fec95d" d="M179 34h4M185 34h10M194 35h12M208 35h3M167 36h2M212 36h1M165 37h2M214 37h1M164 38h1M215 38h1M163 39h1M162 40h1M216 40h1M161 41h1M216 41h1M216 42h1M160 43h1M160 44h1M159 45h1M213 45h1M159 46h1M159 47h1M158 48h1M208 48h1M158 49h1M207 49h1M158 50h1M205 50h1M158 51h1M204 51h1M158 52h1M203 52h1M158 53h1M202 53h1M201 54h1M147 55h2M159 55h2M200 55h1M147 56h1M149 56h1M161 56h1M199 56h1M146 57h1M149 57h2M199 57h1M146 58h1M149 58h2M162 58h1M198 58h1M147 59h3M197 59h1M148 60h1M163 60h1M196 60h1M195 61h1M164 62h1M195 62h1M85 63h1M105 63h3M165 63h1M194 63h1M110 64h2M165 64h1M193 64h1M113 65h1M166 65h1M191 65h2M84 66h1M167 66h1M189 66h2M116 67h1M168 67h1M186 67h3M117 68h1M169 68h1M185 68h1M83 69h1M118 69h1M169 69h2M184 69h1M170 70h4M182 70h2M82 71h1M173 71h2M180 71h1M81 72h1M174 72h1M178 72h1M175 73h3M80 75h1M80 76h1M79 77h1M77 80h1M119 80h1M145 80h4M118 81h1M141 81h2M148 81h2M76 82h1M116 82h1M149 82h2M112 83h1M137 83h1M150 83h1M75 84h1M109 84h1M136 84h1M151 84h1M107 85h1M151 85h1M74 86h1M102 86h2M134 86h1M152 86h1M100 87h1M133 87h1M152 87h1M73 88h1M153 88h2M155 89h4M72 90h1M98 90h1M158 90h2M159 91h2M97 92h1M160 92h1M132 93h1M160 93h1M133 94h1M160 94h1M78 95h1M160 95h1M95 96h1M160 96h1M80 97h1M159 97h1M159 98h1M134 99h1M94 101h1M159 101h1M94 102h1M159 102h1M66 103h1M79 103h1M143 103h1M159 103h1M64 104h1M69 104h2M159 104h1M63 105h1M73 105h3M158 105h1M62 106h1M157 106h1M61 107h1M154 107h3M61 108h1M94 108h1M60 109h1M94 109h1M58 110h2M94 110h1M56 111h2M55 112h1M93 112h1M54 113h1M65 113h1M88 113h1M91 113h1M53 114h1M64 114h1M63 115h1M76 115h1M63 116h1M63 117h1M52 118h1M63 118h1M52 119h1M79 119h2M52 120h1M52 121h1M52 122h1M79 122h2M52 123h1M61 124h1M53 125h1M55 127h4M70 191h1M72 191h1M73 193h1M70 194h1M49 233h5M54 234h1M54 235h1M55 237h1M56 238h1M59 240h1M44 242h1M61 242h1M62 243h1M42 244h1M64 244h1M66 246h1M66 247h1M66 248h1M66 249h1M66 250h1M66 251h1M67 253h1M42 254h1M67 254h1M67 255h1M66 258h1M43 259h1M66 259h1M66 260h1M66 261h1M46 262h1M66 262h1M48 263h1M66 263h1M49 264h1M65 264h1M64 265h1M62 266h2M53 267h7"/><path stroke="#fec55a" d="M183 34h2M179 35h1M187 35h7M206 35h2M169 36h1M193 36h11M211 36h1M167 37h1M213 37h1M165 38h1M164 39h1M215 39h1M163 40h1M162 41h1M161 42h1M161 43h1M215 43h1M214 44h1M160 45h1M160 46h1M211 46h1M160 47h1M209 47h1M159 48h1M207 48h1M159 49h1M205 49h2M159 50h1M204 50h1M159 51h1M203 51h1M159 52h1M202 52h1M159 53h1M201 53h1M159 54h2M200 54h1M161 55h1M199 55h1M148 56h1M198 56h1M147 57h2M162 57h1M197 57h2M147 58h2M197 58h1M163 59h1M196 59h1M88 60h1M195 60h1M87 61h1M164 61h1M194 61h1M86 62h1M165 62h1M194 62h1M193 63h1M85 64h1M107 64h3M166 64h1M191 64h2M167 65h1M189 65h2M114 66h1M168 66h1M186 66h3M84 67h1M169 67h1M185 67h1M84 68h1M170 68h3M184 68h1M171 69h3M183 69h1M83 70h1M174 70h1M180 70h2M175 71h1M178 71h2M175 72h3M81 73h1M81 74h1M80 77h1M79 78h1M78 79h1M77 81h1M143 81h5M115 82h1M139 82h1M76 83h1M111 83h1M150 84h1M105 85h2M135 85h1M101 86h1M151 86h1M74 87h1M99 88h1M152 88h1M73 89h1M153 89h2M131 90h1M156 90h2M73 91h1M158 91h1M131 92h1M159 92h1M75 93h1M159 93h1M159 94h1M159 95h1M159 96h1M158 98h1M158 99h1M94 100h1M139 100h1M158 100h1M158 101h1M142 102h1M158 102h1M94 103h1M158 103h1M65 104h4M78 104h1M145 104h1M158 104h1M72 105h1M157 105h1M63 106h1M155 106h2M62 107h1M94 107h1M152 107h2M62 108h1M61 109h1M60 110h2M58 111h3M56 112h3M66 112h5M55 113h2M63 113h2M87 113h1M89 113h2M54 114h1M63 114h1M53 115h1M81 115h1M53 116h1M62 122h1M60 125h1M54 126h1M59 126h1M71 191h1M49 234h5M48 235h1M53 235h1M54 236h1M57 239h1M43 243h1M65 245h1M66 252h1M42 253h1M66 256h1M66 257h1M44 260h1M65 260h1M45 261h1M65 261h1M65 262h1M49 263h1M65 263h1M50 264h1M51 265h1M63 265h1M52 266h1M58 266h4"/><path stroke="#fec158" d="M180 35h7M173 36h4M187 36h6M204 36h7M168 37h2M192 37h11M212 37h1M166 38h1M214 38h1M165 39h1M164 40h1M215 40h1M163 41h1M162 42h1M215 42h1M161 44h1M161 45h1M212 45h1M161 46h1M210 46h1M207 47h2M160 48h1M206 48h1M160 49h1M204 49h1M160 50h1M203 50h1M160 51h1M202 51h1M160 52h1M201 52h1M160 53h1M200 53h1M161 54h1M199 54h1M198 55h1M162 56h1M197 56h1M163 57h1M196 57h1M163 58h1M195 58h2M195 59h1M164 60h1M194 60h1M88 61h1M165 61h1M193 61h1M192 62h2M86 63h1M166 63h1M191 63h2M105 64h2M167 64h1M189 64h2M85 65h1M112 65h1M168 65h1M187 65h2M169 66h1M185 66h1M170 67h4M184 67h1M173 68h2M183 68h1M84 69h1M174 69h2M181 69h2M175 70h5M119 71h1M176 71h2M82 72h1M81 75h1M81 76h1M78 80h1M77 82h1M114 82h1M140 82h1M148 82h1M110 83h1M138 83h1M149 83h1M108 84h1M75 85h1M102 85h3M150 85h1M100 86h1M99 87h1M151 87h1M74 88h1M151 88h1M98 89h1M132 89h1M152 89h1M73 90h1M153 90h3M97 91h1M131 91h1M156 91h2M74 92h1M158 92h1M96 93h1M158 93h1M77 94h1M95 95h1M158 96h1M158 97h1M81 98h1M81 99h1M157 99h1M157 100h1M157 101h1M80 102h1M157 102h1M144 103h1M157 103h1M94 104h1M157 104h1M64 105h2M71 105h1M76 105h1M94 105h1M156 105h1M94 106h1M151 106h4M63 107h1M63 108h1M62 109h2M62 110h2M61 111h3M93 111h1M59 112h7M71 112h1M92 112h1M57 113h6M73 113h1M55 114h4M61 114h2M54 115h3M62 115h1M62 116h1M53 117h1M53 118h1M53 119h1M61 123h1M53 124h1M55 126h1M58 126h1M70 192h1M70 193h1M71 194h2M52 235h1M48 236h1M53 236h1M48 237h1M54 237h1M48 238h1M55 238h1M47 240h1M58 240h1M46 241h1M59 241h1M60 242h1M61 243h1M63 244h1M42 245h1M65 246h1M65 248h1M65 249h1M65 250h1M65 251h1M42 252h1M66 253h1M66 254h1M66 255h1M65 257h1M43 258h1M65 258h1M65 259h1M64 261h1M47 262h1M64 262h1M50 263h1M64 263h1M51 264h1M63 264h2M52 265h1M59 265h4M53 266h5"/><path stroke="#ffbd55" d="M177 36h10M170 37h3M188 37h4M203 37h4M211 37h1M167 38h2M191 38h12M213 38h1M166 39h1M214 39h1M215 41h1M163 42h1M162 43h1M214 43h1M162 44h1M213 44h1M211 45h1M208 46h2M161 47h1M206 47h1M161 48h1M204 48h2M161 49h1M203 49h1M201 50h2M200 51h2M199 52h2M161 53h1M198 53h2M197 54h2M162 55h1M196 55h2M163 56h1M196 56h1M195 57h1M164 58h1M194 58h1M164 59h1M194 59h1M165 60h1M193 60h1M192 61h1M87 62h1M166 62h1M191 62h1M167 63h1M189 63h2M168 64h1M187 64h2M109 65h3M169 65h1M186 65h1M85 66h1M113 66h1M170 66h2M184 66h1M85 67h1M115 67h1M174 67h1M183 67h1M85 68h1M175 68h1M182 68h1M176 69h5M84 70h1M83 71h1M82 73h1M80 78h1M79 79h1M119 79h1M117 81h1M113 82h1M141 82h3M146 82h2M109 83h1M148 83h1M76 84h1M106 84h2M149 84h1M100 85h2M75 86h1M150 86h1M133 88h1M151 89h1M152 90h1M74 91h1M155 91h1M157 92h1M158 94h1M158 95h1M80 96h1M157 97h1M134 98h1M157 98h1M94 99h1M138 99h1M156 99h1M81 100h1M156 100h1M141 101h1M156 101h1M156 102h1M156 103h1M155 104h2M66 105h5M150 105h1M153 105h3M64 106h2M64 107h1M64 108h1M64 109h1M64 110h1M93 110h1M64 111h4M86 113h1M59 114h2M75 114h1M84 114h1M57 115h2M61 115h1M54 116h2M54 117h1M62 117h1M53 120h1M80 120h1M53 121h1M62 121h1M80 121h1M53 122h1M53 123h1M60 124h1M54 125h1M59 125h1M56 126h2M49 235h3M52 236h1M53 237h1M54 238h1M48 239h1M56 239h1M45 242h1M62 244h1M64 245h1M65 247h1M42 248h1M42 249h1M42 250h1M42 251h1M65 252h1M65 253h1M43 256h1M65 256h1M43 257h1M64 258h1M44 259h1M64 259h1M64 260h1M46 261h1M63 261h1M48 262h2M63 262h1M51 263h1M63 263h1M52 264h1M60 264h3M53 265h1M56 265h3"/><path stroke="#ffb952" d="M173 37h8M183 37h5M207 37h4M169 38h2M188 38h3M203 38h4M167 39h1M191 39h13M165 40h1M194 40h5M164 41h1M214 42h1M163 43h1M212 44h1M162 45h1M209 45h2M162 46h1M206 46h2M204 47h2M202 48h2M201 49h2M161 50h1M200 50h1M161 51h1M198 51h2M161 52h1M198 52h1M162 53h1M197 53h1M162 54h1M196 54h1M163 55h1M195 55h1M194 56h2M164 57h1M194 57h1M193 58h1M193 59h1M192 60h1M166 61h1M191 61h1M88 62h1M189 62h2M87 63h1M188 63h1M86 64h1M186 64h1M104 65h5M170 65h1M185 65h1M172 66h2M175 67h1M182 67h1M176 68h1M180 68h2M85 69h1M83 72h1M82 74h1M82 75h1M81 77h1M118 80h1M78 81h1M112 82h1M144 82h2M77 83h1M108 83h1M104 84h2M137 84h1M76 85h1M136 85h1M149 85h1M99 86h1M135 86h1M75 87h1M134 87h1M150 87h1M98 88h1M74 89h1M74 90h1M97 90h1M132 90h1M151 90h1M153 91h2M75 92h1M132 92h1M155 92h2M76 93h1M133 93h1M157 93h1M157 94h1M79 95h1M157 95h1M157 96h1M81 97h1M156 98h1M136 99h1M155 100h1M81 101h1M155 101h1M143 102h1M155 102h1M145 103h1M155 103h1M154 104h1M77 105h1M151 105h2M66 106h1M65 107h1M65 109h1M65 110h1M68 111h2M72 112h1M91 112h1M59 115h2M77 115h1M80 115h1M56 116h2M61 116h1M55 117h1M54 118h1M62 118h1M54 119h1M62 120h1M79 120h1M79 121h1M54 124h1M72 192h1M72 193h1M49 236h3M49 237h1M52 237h1M49 238h1M55 239h1M57 240h1M58 241h1M59 242h1M44 243h1M60 243h1M43 244h1M63 245h1M42 246h1M64 246h1M42 247h1M64 247h1M64 248h1M64 249h1M64 250h1M64 251h1M65 254h1M43 255h1M65 255h1M64 257h1M63 258h1M63 259h1M45 260h1M63 260h1M62 261h1M50 262h1M62 262h1M52 263h1M60 263h3M53 264h1M57 264h3M54 265h2"/><path stroke="#ffb54f" d="M181 37h2M171 38h5M185 38h3M207 38h3M211 38h2M168 39h1M188 39h3M204 39h3M213 39h1M166 40h1M190 40h4M199 40h6M214 40h1M165 41h1M193 41h9M214 41h1M164 42h1M213 43h1M163 44h1M211 44h1M206 45h3M203 46h3M162 47h1M201 47h3M162 48h1M200 48h2M162 49h1M198 49h3M162 50h1M197 50h3M162 51h1M197 51h1M162 52h1M196 52h2M195 53h2M163 54h1M195 54h1M194 55h1M164 56h1M193 56h1M193 57h1M192 58h1M165 59h1M191 59h2M166 60h1M191 60h1M190 61h1M89 62h1M167 62h1M188 62h1M168 63h1M187 63h1M169 64h1M185 64h1M86 65h1M171 65h1M184 65h1M86 66h1M99 66h6M112 66h1M174 66h1M183 66h1M86 67h1M114 67h1M176 67h1M181 67h1M86 68h1M116 68h1M177 68h3M85 70h1M118 70h1M84 71h1M119 72h1M82 76h1M119 78h1M80 79h1M79 80h1M116 81h1M78 82h1M111 82h1M107 83h1M139 83h1M147 83h1M100 84h4M148 84h1M99 85h1M98 87h1M75 88h1M150 88h1M150 89h1M132 91h1M152 91h1M96 92h1M154 92h1M156 93h1M78 94h1M95 94h1M156 94h1M134 96h1M156 96h1M134 97h1M156 97h1M94 98h1M155 99h1M140 100h1M154 101h1M154 102h1M80 103h1M146 103h1M154 103h1M79 104h1M149 104h5M67 106h5M66 107h1M65 108h1M66 109h1M93 109h1M66 110h2M70 111h1M92 111h1M90 112h1M78 115h2M58 116h1M60 116h1M56 117h1M55 118h1M62 119h1M54 120h1M54 121h1M61 122h1M54 123h1M55 125h4M71 192h1M71 193h1M50 237h2M50 238h4M49 239h1M48 240h1M61 244h1M62 245h1M63 246h1M64 252h1M64 253h1M43 254h1M64 256h1M63 257h1M44 258h1M62 259h1M62 260h1M47 261h1M61 261h1M51 262h1M60 262h2M53 263h1M58 263h2M54 264h3"/><path stroke="#ffb14d" d="M176 38h9M210 38h1M169 39h2M186 39h2M207 39h2M167 40h1M188 40h2M205 40h2M166 41h1M190 41h3M202 41h4M165 42h1M192 42h13M213 42h1M164 43h1M194 43h12M212 43h1M195 44h16M163 45h1M196 45h10M163 46h1M197 46h6M197 47h4M196 48h4M196 49h2M195 50h2M195 51h2M195 52h1M163 53h1M194 53h1M193 54h2M164 55h1M193 55h1M192 56h1M192 57h1M165 58h1M191 58h1M190 59h1M190 60h1M167 61h1M188 61h2M168 62h1M187 62h1M88 63h3M169 63h1M186 63h1M87 64h1M170 64h1M184 64h1M172 65h1M183 65h1M105 66h7M175 66h1M182 66h1M100 67h4M177 67h1M180 67h1M86 69h1M117 69h1M83 73h1M81 78h1M110 82h1M106 83h1M140 83h1M146 83h1M77 84h1M76 86h1M98 86h1M149 86h1M97 89h1M133 89h1M150 90h1M75 91h1M151 91h1M153 92h1M155 93h1M134 95h1M156 95h1M94 97h1M155 97h1M155 98h1M82 99h1M135 99h1M154 99h1M154 100h1M142 101h1M144 102h1M153 102h1M148 103h2M152 103h2M72 106h2M67 107h1M66 108h1M93 108h1M67 109h1M68 110h2M71 111h1M88 112h2M74 113h1M59 116h1M57 117h1M61 117h1M55 119h1M54 122h1M60 123h1M55 124h1M59 124h1M53 239h2M56 240h1M47 241h1M63 247h1M63 248h1M63 249h1M63 250h1M63 251h1M43 253h1M64 254h1M64 255h1M63 256h1M62 258h1M45 259h1M61 259h1M46 260h1M61 260h1M48 261h3M60 261h1M52 262h1M58 262h2M54 263h4"/><path stroke="#ffad4a" d="M171 39h7M183 39h3M209 39h4M168 40h2M187 40h1M207 40h2M213 40h1M167 41h1M189 41h1M206 41h2M213 41h1M190 42h2M205 42h3M165 43h1M192 43h2M206 43h6M164 44h1M193 44h2M193 45h3M194 46h3M163 47h1M194 47h3M163 48h1M194 48h2M163 49h1M194 49h2M163 50h1M194 50h1M163 51h1M194 51h1M163 52h1M193 52h2M193 53h1M164 54h1M192 54h1M192 55h1M191 56h1M165 57h1M191 57h1M190 58h1M166 59h1M167 60h1M189 60h1M187 61h1M186 62h1M185 63h1M88 64h1M87 65h1M173 65h2M182 65h1M87 66h1M176 66h1M181 66h1M87 67h1M98 67h2M104 67h1M113 67h1M178 67h2M87 68h1M100 68h3M86 70h1M85 71h1M84 72h1M83 74h1M82 77h1M119 77h1M79 81h1M115 81h1M108 82h2M78 83h1M104 83h2M141 83h1M143 83h3M99 84h1M138 84h1M147 84h1M98 85h1M148 85h1M149 87h1M97 88h1M134 88h1M75 89h1M75 90h1M96 91h1M76 92h1M133 92h1M152 92h1M77 93h1M95 93h1M154 93h1M155 94h1M155 95h1M94 96h1M155 96h1M82 98h1M154 98h1M82 100h1M153 100h1M153 101h1M81 102h1M145 102h1M152 102h1M150 103h2M78 105h1M74 106h1M68 107h2M93 107h1M67 108h2M68 109h1M70 110h1M92 110h1M91 111h1M87 112h1M85 113h1M83 114h1M58 117h1M60 117h1M56 118h1M55 120h1M55 121h1M61 121h1M55 122h1M55 123h1M56 124h3M50 239h3M55 240h1M57 241h1M46 242h1M58 242h1M59 243h1M60 244h1M43 245h1M61 245h1M62 246h1M63 252h1M63 253h1M63 254h1M63 255h1M44 257h1M62 257h1M61 258h1M60 260h1M51 261h2M59 261h1M53 262h1M57 262h1"/><path stroke="#ffa84a" d="M178 39h5M170 40h2M185 40h2M209 40h2M212 40h1M168 41h1M187 41h2M208 41h2M166 42h1M189 42h1M208 42h2M212 42h1M190 43h2M191 44h2M164 45h1M192 45h1M164 46h1M192 46h2M193 47h1M193 48h1M193 49h1M193 50h1M193 51h1M192 52h1M164 53h1M192 53h1M191 55h1M165 56h1M190 57h1M166 58h1M189 58h1M189 59h1M188 60h1M168 61h1M186 61h1M169 62h1M185 62h1M170 63h1M184 63h1M89 64h2M171 64h1M183 64h1M88 65h4M175 65h1M88 66h1M177 66h1M180 66h1M88 67h1M97 67h1M105 67h2M112 67h1M88 68h1M98 68h2M103 68h1M115 68h1M87 69h1M100 69h2M119 73h1M83 75h1M119 76h1M118 79h1M80 80h1M117 80h1M113 81h2M79 82h1M107 82h1M100 83h4M142 83h1M77 85h1M137 85h1M136 86h1M76 87h1M97 87h1M135 87h1M149 88h1M96 90h1M133 90h1M133 91h1M150 91h1M151 92h1M153 93h1M134 94h1M154 94h1M80 95h1M94 95h1M81 96h1M154 97h1M139 99h1M153 99h1M152 100h1M151 101h2M146 102h6M75 106h1M93 106h1M70 107h2M69 108h1M69 109h2M73 112h1M76 114h1M59 117h1M57 118h1M61 118h1M56 119h1M56 120h1M56 121h1M56 122h1M60 122h1M56 123h1M59 123h1M49 240h1M54 240h1M45 243h1M44 244h1M43 246h1M62 247h1M43 248h1M62 248h1M43 249h1M43 250h1M43 251h1M43 252h1M44 256h1M62 256h1M45 258h1M60 259h1M47 260h2M58 261h1M54 262h3"/><path stroke="#ffa34a" d="M172 40h6M182 40h3M211 40h1M169 41h1M186 41h1M210 41h3M167 42h1M188 42h1M210 42h2M166 43h1M189 43h1M165 44h1M190 44h1M191 45h1M191 46h1M164 47h1M192 47h1M164 48h1M192 48h1M164 49h1M192 49h1M164 50h1M192 50h1M164 51h1M192 51h1M164 52h1M191 53h1M165 54h1M191 54h1M165 55h1M190 55h1M190 56h1M166 57h1M189 57h1M167 59h1M188 59h1M168 60h1M187 60h1M183 63h1M172 64h2M182 64h1M176 65h1M181 65h1M89 66h3M178 66h2M89 67h4M107 67h5M89 68h1M97 68h1M104 68h1M88 69h1M99 69h1M102 69h1M87 70h1M86 71h1M85 72h1M84 73h1M81 79h1M111 81h2M106 82h1M99 83h1M78 84h1M98 84h1M139 84h1M97 86h1M76 88h1M149 89h1M149 90h1M95 92h1M152 93h1M79 94h1M153 94h1M154 95h1M154 96h1M82 97h1M153 97h1M135 98h1M137 98h1M153 98h1M152 99h1M93 100h1M141 100h1M151 100h1M82 101h1M93 101h1M143 101h1M150 101h1M93 102h1M76 106h1M72 107h1M70 108h1M92 109h1M71 110h1M72 111h1M90 111h1M58 118h1M61 119h1M61 120h1M57 122h1M57 123h2M50 240h1M53 240h1M48 241h1M56 241h1M59 244h1M60 245h1M61 246h1M43 247h1M62 249h1M62 250h1M62 251h1M62 252h1M62 253h1M62 254h1M44 255h1M62 255h1M61 257h1M46 259h1M49 260h3M59 260h1M53 261h1M57 261h1"/><path stroke="#ff9e4a" d="M178 40h4M170 41h2M184 41h2M168 42h1M187 42h1M167 43h1M188 43h1M166 44h1M189 44h1M165 45h1M190 45h1M190 46h1M191 47h1M191 48h1M191 49h1M191 50h1M191 51h1M191 52h1M165 53h1M190 54h1M166 56h1M189 56h1M167 58h1M188 58h1M187 59h1M186 60h1M169 61h1M185 61h1M170 62h1M184 62h1M171 63h1M174 64h1M177 65h1M180 65h1M90 68h3M95 68h2M105 68h1M114 68h1M89 69h2M98 69h1M103 69h1M116 69h1M88 70h1M100 70h2M118 71h1M119 74h1M119 75h1M83 76h1M82 78h1M116 80h1M80 81h1M109 81h2M105 82h1M146 84h1M97 85h1M77 86h1M148 86h1M76 89h1M96 89h1M134 89h1M76 91h1M78 93h1M134 93h1M94 94h1M153 95h1M153 96h1M136 98h1M152 98h1M151 99h1M150 100h1M144 101h1M148 101h2M93 103h1M80 104h1M93 105h1M71 108h1M71 109h1M91 110h1M89 111h1M86 112h1M75 113h1M82 114h1M59 118h2M57 119h1M57 120h1M57 121h1M60 121h1M58 122h2M51 240h2M55 241h1M57 242h1M58 243h1M61 247h1M61 256h1M45 257h1M60 258h1M47 259h1M52 260h1M54 261h3"/><path stroke="#ff994a" d="M172 41h6M182 41h2M169 42h1M185 42h2M187 43h1M188 44h1M189 45h1M165 46h1M165 47h1M190 47h1M190 48h1M190 49h1M190 50h1M190 51h1M165 52h1M190 52h1M190 53h1M166 55h1M189 55h1M188 57h1M187 58h1M168 59h1M186 59h1M169 60h1M185 60h1M170 61h1M184 61h1M171 62h1M183 62h1M172 63h1M182 63h1M175 64h1M181 64h1M178 65h2M106 68h2M113 68h1M91 69h3M95 69h3M104 69h1M89 70h2M99 70h1M102 70h1M87 71h1M86 72h1M84 74h1M81 80h1M107 81h2M103 82h2M79 83h1M98 83h1M97 84h1M140 84h1M78 85h1M138 85h1M147 85h1M96 88h1M135 88h1M76 90h1M95 91h1M149 91h1M77 92h1M150 92h1M151 93h1M152 94h1M152 97h1M151 98h1M83 99h1M93 99h1M150 99h1M83 100h1M142 100h1M149 100h1M145 101h3M81 103h1M93 104h1M79 105h1M77 106h1M73 107h1M92 108h1M72 110h1M77 114h1M58 119h1M60 119h1M58 121h1M47 242h1M44 245h1M59 245h1M60 246h1M61 248h1M61 249h1M61 250h1M61 251h1M61 252h1M61 253h1M44 254h1M61 254h1M61 255h1M60 257h1M46 258h1M48 259h3M59 259h1M53 260h1M58 260h1"/><path stroke="#ff944a" d="M178 41h4M170 42h1M184 42h1M168 43h1M186 43h1M167 44h1M187 44h1M166 45h1M188 45h1M189 46h1M189 47h1M165 48h1M165 49h1M165 50h1M165 51h1M189 53h1M166 54h1M189 54h1M188 56h1M167 57h1M187 57h1M172 62h1M173 63h2M176 64h2M180 64h1M108 68h2M112 68h1M94 69h1M105 69h1M91 70h2M97 70h2M103 70h1M117 70h1M88 71h1M99 71h3M85 73h1M83 77h1M118 78h1M82 79h1M115 80h1M106 81h1M80 82h1M101 82h2M141 84h1M145 84h1M96 85h1M96 86h1M137 86h1M77 87h1M96 87h1M136 87h1M148 87h1M134 90h1M134 92h1M94 93h1M81 95h1M152 95h1M152 96h1M135 97h1M151 97h1M83 98h1M93 98h1M148 100h1M82 102h1M92 107h1M72 108h1M72 109h1M90 110h1M88 111h1M84 113h1M59 119h1M58 120h1M60 120h1M59 121h1M49 241h1M54 241h1M56 242h1M46 243h1M58 244h1M60 247h1M44 253h1M45 256h1M59 258h1M51 259h1M54 260h1M57 260h1"/><path stroke="#ff8f49" d="M171 42h3M182 42h2M169 43h1M185 43h1M168 44h1M186 44h1M167 45h1M187 45h1M166 46h1M188 46h1M189 48h1M189 49h1M189 50h1M189 51h1M189 52h1M166 53h1M188 54h1M188 55h1M167 56h1M187 56h1M168 58h1M186 58h1M169 59h1M185 59h1M170 60h1M184 60h1M171 61h1M183 61h1M173 62h1M182 62h1M175 63h1M181 63h1M178 64h2M110 68h2M106 69h1M115 69h1M93 70h4M104 70h1M89 71h2M98 71h1M102 71h1M87 72h1M100 72h2M84 75h1M117 79h1M108 80h3M114 80h1M105 81h1M100 82h1M97 83h1M79 84h1M96 84h1M142 84h3M77 88h1M95 90h1M134 91h1M150 93h1M80 94h1M151 94h1M82 96h1M151 96h1M93 97h1M138 98h1M150 98h1M140 99h1M149 99h1M143 100h1M147 100h1M83 101h1M78 106h1M74 107h1M91 109h1M73 111h1M74 112h1M81 114h1M59 120h1M50 241h1M52 241h2M57 243h1M45 244h1M44 246h1M59 246h1M60 248h1M44 249h1M44 250h1M44 252h1M60 256h1M46 257h1M47 258h1M52 259h1M58 259h1M55 260h2"/><path stroke="#ff8a49" d="M174 42h8M170 43h1M184 43h1M166 47h1M188 47h1M166 48h1M188 48h1M166 49h1M166 50h1M166 51h1M166 52h1M188 52h1M188 53h1M167 55h1M187 55h1M186 57h1M185 58h1M171 60h1M172 61h1M174 62h1M176 63h1M180 63h1M107 69h1M105 70h1M91 71h2M97 71h1M103 71h1M99 72h1M102 72h1M118 72h1M86 73h1M85 74h1M83 78h1M106 80h2M111 80h3M81 81h1M104 81h1M99 82h1M96 83h1M139 85h1M146 85h1M78 86h1M147 86h1M148 88h1M77 89h1M95 89h1M135 89h1M77 91h1M94 92h1M149 92h1M79 93h1M151 95h1M93 96h1M83 97h1M150 97h1M148 99h1M144 100h3M92 106h1M73 108h1M89 110h1M87 111h1M78 114h3M51 241h1M48 242h1M55 242h1M58 245h1M44 247h1M44 248h1M60 249h1M60 250h1M44 251h1M60 251h1M60 252h1M60 253h1M60 254h1M45 255h1M60 255h1M59 257h1M48 258h3M53 259h1"/><path stroke="#ff8549" d="M171 43h2M182 43h2M169 44h1M185 44h1M168 45h1M186 45h1M167 46h1M187 46h1M187 47h1M188 49h1M188 50h1M188 51h1M167 54h1M187 54h1M186 56h1M168 57h1M169 58h1M170 59h1M184 59h1M172 60h1M183 60h1M173 61h1M182 61h1M175 62h1M181 62h1M177 63h3M108 69h1M114 69h1M106 70h1M93 71h4M104 71h1M88 72h1M98 72h1M103 72h1M100 73h3M84 76h1M118 77h1M82 80h1M105 80h1M103 81h1M97 82h2M80 83h1M79 85h1M95 86h1M138 86h1M95 87h1M137 87h1M95 88h1M136 88h1M148 89h1M77 90h1M148 90h1M78 92h1M150 94h1M93 95h1M135 96h1M149 98h1M84 99h1M84 100h1M81 104h1M80 105h1M75 107h1M91 108h1M90 109h1M73 110h1M85 112h1M76 113h1M54 242h1M56 243h1M57 244h1M59 247h1M47 257h1M51 258h1M58 258h1M57 259h1"/><path stroke="#ff8049" d="M173 43h4M180 43h2M170 44h1M184 44h1M185 45h1M186 46h1M167 47h1M187 48h1M187 52h1M167 53h1M187 53h1M186 55h1M168 56h1M185 57h1M184 58h1M171 59h1M173 60h1M174 61h1M176 62h1M180 62h1M109 69h2M113 69h1M107 70h1M116 70h1M105 71h1M89 72h2M97 72h1M99 73h1M103 73h1M100 74h4M102 75h1M106 79h4M116 79h1M102 81h1M81 82h1M96 82h1M95 83h1M95 84h1M95 85h1M140 85h1M78 87h1M135 90h1M94 91h1M93 94h1M150 95h1M150 96h1M141 99h1M147 99h1M84 101h1M92 101h1M83 102h1M92 102h1M82 103h1M92 105h1M79 106h1M73 109h1M88 110h1M53 242h1M47 243h1M45 245h1M58 246h1M59 248h1M59 249h1M45 254h1M46 256h1M59 256h1M52 258h1M54 259h1M56 259h1"/><path stroke="#ff7a49" d="M177 43h3M171 44h1M183 44h1M169 45h1M184 45h1M168 46h1M186 47h1M167 48h1M167 49h1M187 49h1M167 50h1M187 50h1M167 51h1M187 51h1M167 52h1M186 54h1M168 55h1M185 56h1M169 57h1M170 58h1M172 59h1M183 59h1M182 60h1M175 61h1M181 61h1M177 62h3M111 69h2M108 70h1M106 71h1M117 71h1M91 72h2M96 72h1M104 72h1M87 73h1M98 73h1M104 73h1M86 74h1M85 75h1M101 75h1M103 75h1M84 77h1M107 78h1M117 78h1M83 79h1M105 79h1M110 79h1M104 80h1M101 81h1M80 84h1M145 85h1M147 87h1M148 91h1M80 93h1M149 93h1M81 94h1M82 95h1M135 95h1M149 97h1M84 98h1M148 98h1M142 99h1M145 99h2M85 100h1M92 100h1M92 103h1M92 104h1M76 107h1M91 107h1M86 111h1M49 242h1M55 243h1M46 244h1M57 245h1M59 250h1M59 251h1M59 252h1M59 253h1M59 254h1M59 255h1M48 257h2M58 257h1M53 258h1M55 259h1"/><path stroke="#ff7549" d="M172 44h2M181 44h2M170 45h1M169 46h1M185 46h1M168 47h1M186 48h1M186 49h1M186 52h1M186 53h1M168 54h1M185 55h1M184 57h1M174 60h1M180 61h1M107 71h1M93 72h3M105 72h2M88 73h1M97 73h1M105 73h1M118 73h1M99 74h1M104 74h2M100 75h1M104 75h1M101 76h4M118 76h1M106 77h2M105 78h2M108 78h2M104 79h1M111 79h1M115 79h1M103 80h1M82 81h1M95 82h1M141 85h1M79 86h1M139 86h1M146 86h1M138 87h1M78 88h1M137 88h1M94 89h1M136 89h1M94 90h1M78 91h1M135 91h1M79 92h1M135 92h1M93 93h1M135 93h1M135 94h1M83 96h1M136 97h1M139 98h1M147 98h1M92 99h1M143 99h2M85 101h1M84 102h1M77 107h1M74 108h1M90 108h1M89 109h1M74 111h1M75 112h1M83 113h1M50 242h3M56 244h1M58 247h1M47 256h1M50 257h1M57 258h1"/><path stroke="#ff7049" d="M174 44h7M171 45h1M183 45h1M184 46h1M185 47h1M168 48h1M168 49h1M186 50h1M186 51h1M168 53h1M185 54h1M169 56h1M184 56h1M171 58h1M183 58h1M173 59h1M182 59h1M181 60h1M176 61h1M179 61h1M109 70h1M115 70h1M108 71h1M107 72h1M89 73h1M96 73h1M106 73h1M98 74h1M106 74h1M105 75h3M105 76h3M103 77h3M108 77h1M84 78h1M104 78h1M112 79h3M83 80h1M96 81h5M81 83h1M94 83h1M94 84h1M94 85h1M142 85h3M94 86h1M94 87h1M94 88h1M78 89h1M78 90h1M148 92h1M149 94h1M149 95h1M149 96h1M84 97h1M148 97h1M92 98h1M85 99h1M86 100h1M86 101h1M83 103h1M81 105h1M80 106h1M91 106h1M78 107h1M87 110h1M77 113h1M54 243h1M45 246h1M57 246h1M58 248h1M58 249h1M45 253h1M46 255h1M58 256h1M51 257h1M54 258h1M56 258h1"/><path stroke="#ff6b49" d="M172 45h1M181 45h2M170 46h1M183 46h1M169 47h1M185 48h1M185 49h1M168 50h1M168 51h1M168 52h1M185 52h1M185 53h1M170 57h1M183 57h1M172 58h1M174 59h1M175 60h1M177 61h2M110 70h1M114 70h1M90 73h1M95 73h1M107 73h1M87 74h1M97 74h1M107 74h1M118 74h1M99 75h1M108 75h1M118 75h1M85 76h1M100 76h1M108 76h1M102 77h1M109 77h1M103 78h1M110 78h1M103 79h1M102 80h1M95 81h1M94 82h1M80 85h1M140 86h1M79 87h1M147 88h1M136 90h1M93 92h1M92 97h1M146 98h1M87 101h1M85 102h3M82 104h1M91 105h1M90 107h1M88 109h1M84 112h1M48 243h1M55 244h1M56 245h1M58 250h1M58 251h1M45 252h1M58 252h1M58 255h1M48 256h1M52 257h1M57 257h1M55 258h1"/><path stroke="#ff6649" d="M173 45h2M180 45h1M171 46h1M170 47h1M184 47h1M169 48h1M185 50h1M185 51h1M184 54h1M169 55h1M184 55h1M182 58h1M181 59h1M176 60h1M180 60h1M111 70h3M109 71h1M108 72h1M91 73h4M108 73h1M108 74h1M86 75h1M98 75h1M109 76h1M101 77h1M116 78h1M84 79h1M82 82h1M81 84h1M139 87h1M138 88h1M137 89h1M79 91h1M93 91h1M80 92h1M81 93h1M148 93h1M82 94h1M83 95h1M92 96h1M148 96h1M147 97h1M85 98h1M145 98h1M87 100h1M91 101h1M91 102h1M91 103h1M91 104h1M79 107h1M75 108h1M89 108h1M74 109h1M74 110h1M85 111h1M53 243h1M45 247h1M57 247h1M45 248h1M45 249h1M45 250h1M45 251h1M58 253h1M58 254h1M49 256h1M53 257h1"/><path stroke="#ff6148" d="M175 45h5M172 46h1M182 46h1M183 47h1M184 48h1M169 49h1M184 49h1M169 50h1M169 51h1M169 52h1M169 53h1M184 53h1M169 54h1M170 56h1M183 56h1M171 57h1M173 58h1M175 59h1M177 60h1M179 60h1M116 71h1M117 72h1M88 74h1M96 74h1M109 75h1M99 76h1M85 77h1M110 77h1M117 77h1M102 78h1M111 78h1M102 79h1M96 80h1M101 80h1M83 81h1M94 81h1M93 83h1M93 84h1M80 86h1M145 86h1M79 88h1M147 89h1M93 90h1M136 91h1M92 94h1M92 95h1M140 98h1M143 98h2M86 99h1M91 100h1M88 101h1M88 102h1M84 103h1M90 106h1M86 110h1M76 112h1M78 113h1M52 243h1M47 244h1M54 244h1M46 245h1M56 246h1M57 248h1M57 249h1M46 254h1M47 255h1M50 256h2M57 256h1M54 257h3"/><path stroke="#ff5c48" d="M173 46h1M180 46h2M171 47h1M182 47h1M170 48h1M183 48h1M184 50h1M184 51h1M184 52h1M170 55h1M183 55h1M172 57h1M182 57h1M174 58h1M181 58h1M180 59h1M178 60h1M110 71h1M109 72h1M109 73h1M89 74h1M95 74h1M109 74h1M87 75h1M97 75h1M100 77h1M112 78h1M95 80h1M97 80h1M93 82h1M82 83h1M93 85h1M93 86h1M141 86h1M93 87h1M146 87h1M93 88h1M79 89h1M93 89h1M79 90h1M147 90h1M92 93h1M148 94h1M148 95h1M84 96h1M137 97h1M146 97h1M141 98h2M91 99h1M88 100h1M89 101h2M89 102h2M85 103h3M90 103h1M83 104h1M90 104h1M82 105h1M90 105h1M81 106h1M89 107h1M88 108h1M87 109h1M75 111h1M82 113h1M49 243h1M55 245h1M57 250h1M57 251h1M57 252h1M57 255h1M52 256h1M56 256h1"/><path stroke="#ff5748" d="M174 46h2M178 46h2M172 47h1M171 48h1M170 49h1M183 49h1M183 53h1M170 54h1M183 54h1M171 56h1M182 56h1M176 59h1M115 71h1M90 74h1M93 74h2M96 75h1M86 76h1M98 76h1M110 76h1M85 78h1M101 78h1M115 78h1M101 79h1M84 80h1M94 80h1M98 80h3M93 81h1M81 85h1M80 87h1M140 87h1M139 88h1M137 90h1M80 91h1M147 91h1M136 92h1M147 96h1M85 97h1M145 97h1M87 99h1M90 100h1M88 103h2M89 106h1M80 107h1M76 108h3M79 113h3M50 243h2M56 247h1M46 253h1M57 253h1M57 254h1M48 255h1M53 256h3"/><path stroke="#ff5248" d="M176 46h2M173 47h1M181 47h1M182 48h1M170 50h1M183 50h1M170 51h1M183 51h1M170 52h1M183 52h1M170 53h1M182 55h1M173 57h1M181 57h1M175 58h1M180 58h1M177 59h3M111 71h1M110 72h1M91 74h2M88 75h1M95 75h1M110 75h1M97 76h1M99 77h1M111 77h1M113 78h2M95 79h3M83 82h1M82 84h1M142 86h1M144 86h1M138 89h1M81 92h1M92 92h1M147 92h1M82 93h1M83 94h1M136 96h1M144 97h1M86 98h1M91 98h1M89 100h1M84 104h1M88 104h2M89 105h1M88 107h1M79 108h1M86 109h1M85 110h1M53 244h1M56 248h1M47 254h1M49 255h2M56 255h1"/><path stroke="#ff4d48" d="M174 47h1M179 47h2M172 48h1M181 48h1M171 49h1M182 49h1M182 54h1M171 55h1M172 56h1M174 57h1M176 58h1M112 71h1M114 71h1M110 73h1M117 73h1M110 74h1M89 75h1M94 75h1M87 76h1M96 76h1M117 76h1M86 77h1M96 77h3M96 78h2M100 78h1M85 79h1M94 79h1M98 79h1M93 80h1M84 81h1M92 82h1M92 83h1M92 84h1M92 85h1M81 86h1M143 86h1M80 88h1M146 88h1M80 89h1M80 90h1M92 91h1M136 93h1M147 93h1M147 94h1M84 95h1M147 95h1M146 96h1M91 97h1M143 97h1M88 99h1M90 99h1M87 104h1M83 105h1M88 105h1M82 106h1M88 106h1M87 108h1M75 109h1M84 111h1M77 112h1M83 112h1M48 244h1M54 245h1M46 246h1M55 246h1M56 249h1M56 250h1M56 251h1M56 252h1M56 253h1M56 254h1M51 255h5"/><path stroke="#ff4848" d="M175 47h4M173 48h1M180 48h1M172 49h1M171 50h1M182 50h1M171 51h1M182 51h1M182 52h1M171 53h1M182 53h1M171 54h1M173 56h1M181 56h1M180 57h1M177 58h1M179 58h1M113 71h1M116 72h1M93 75h1M95 76h1M95 77h1M116 77h1M86 78h1M95 78h1M98 78h2M99 79h2M92 81h1M83 83h1M92 86h1M92 87h1M141 87h1M145 87h1M92 88h1M92 89h1M92 90h1M81 91h1M137 91h1M136 94h1M136 95h1M85 96h1M91 96h1M89 99h1M85 104h2M81 107h1M87 107h1M80 108h1M78 109h1M75 110h1M46 252h1M55 254h1"/><path stroke="#fb4948" d="M174 48h1M179 48h1M181 49h1M171 52h1M181 54h1M172 55h1M181 55h1M175 57h1M178 58h1M111 72h1M90 75h3M88 76h1M93 76h2M111 76h1M87 77h1M94 77h1M112 77h1M94 78h1M93 79h1M85 80h1M92 80h1M82 85h1M81 87h1M140 88h1M139 89h1M138 90h1M82 92h1M83 93h1M91 94h1M91 95h1M146 95h1M145 96h1M86 97h1M138 97h1M142 97h1M87 98h1M90 98h1M84 105h1M87 105h1M87 106h1M86 108h1M79 109h1M85 109h1M76 111h1M78 112h1M52 244h1M47 245h1M46 247h1M55 247h1M46 251h1M55 251h1M55 252h1M55 253h1M48 254h1M54 254h1"/><path stroke="#f84a48" d="M175 48h1M178 48h1M173 49h1M180 49h1M172 50h1M181 50h1M172 51h1M181 51h1M181 52h1M181 53h1M172 54h1M173 55h1M174 56h1M180 56h1M176 57h1M179 57h1M117 74h1M117 75h1M89 76h1M92 76h1M93 77h1M93 78h1M86 79h1M92 79h1M91 81h1M84 82h1M91 82h1M91 83h1M83 84h1M91 84h1M82 86h1M81 88h1M81 89h1M146 89h1M81 90h1M91 92h1M137 92h1M91 93h1M84 94h1M144 96h1M139 97h3M85 105h2M83 106h1M82 107h1M86 107h1M76 109h2M84 110h1M79 112h1M49 244h1M53 245h1M54 246h1M55 248h1M55 249h1M46 250h1M55 250h1M47 253h1M54 253h1M49 254h5"/><path stroke="#f44c48" d="M176 48h2M174 49h1M179 49h1M173 50h1M180 50h1M172 52h1M172 53h1M180 55h1M175 56h1M179 56h1M177 57h2M112 72h1M111 73h1M111 74h1M111 75h1M90 76h2M88 77h1M92 77h1M113 77h1M115 77h1M87 78h1M92 78h1M91 80h1M85 81h1M91 85h1M142 87h1M144 87h1M146 90h1M82 91h1M91 91h1M138 91h1M146 94h1M85 95h1M143 96h1M90 97h1M88 98h2M84 106h3M81 108h1M85 108h1M80 109h1M78 110h1M77 111h1M83 111h1M82 112h1M50 244h2M46 248h1M46 249h1M54 252h1"/><path stroke="#f14d48" d="M175 49h1M178 49h1M173 51h1M180 51h1M180 53h1M173 54h1M180 54h1M174 55h1M176 56h1M115 72h1M112 76h1M89 77h3M114 77h1M88 78h1M91 78h1M87 79h1M91 79h1M86 80h1M84 83h1M83 85h1M91 86h1M82 87h1M91 87h1M143 87h1M82 88h1M91 88h1M141 88h1M145 88h1M91 89h1M140 89h1M82 90h1M91 90h1M139 90h1M146 91h1M83 92h1M146 92h1M146 93h1M145 95h1M83 107h3M84 109h1M76 110h2M79 110h1M78 111h1M80 112h2M54 251h1M53 253h1"/><path stroke="#ed4e48" d="M176 49h2M174 50h1M179 50h1M173 52h1M180 52h1M173 53h1M174 54h1M175 55h1M179 55h1M177 56h2M113 72h2M116 73h1M116 76h1M89 78h2M88 79h3M87 80h1M90 80h1M86 81h1M90 81h1M85 82h1M90 82h1M90 83h1M83 86h1M82 89h1M84 93h1M137 93h1M144 95h1M86 96h1M90 96h1M142 96h1M87 97h1M82 108h3M81 109h1M83 110h1M79 111h1M54 247h1M54 250h1M47 252h1M53 252h1M48 253h1M52 253h1"/><path stroke="#ea4f49" d="M175 50h4M174 51h1M179 51h1M174 52h1M174 53h1M179 54h1M176 55h3M112 73h1M88 80h2M89 81h1M84 84h1M90 84h1M90 85h1M83 87h1M83 91h1M139 91h1M138 92h1M90 93h1M85 94h1M90 94h1M145 94h1M90 95h1M141 96h1M89 97h1M82 109h2M80 110h1M80 111h1M82 111h1M48 245h1M52 245h1M47 246h1M54 248h1M54 249h1M49 253h3"/><path stroke="#e65049" d="M175 51h1M178 51h1M179 52h1M179 53h1M175 54h1M178 54h1M112 74h1M112 75h1M113 76h1M87 81h2M89 82h1M85 83h1M90 86h1M90 87h1M83 88h1M142 88h1M144 88h1M83 89h1M145 89h1M83 90h1M140 90h1M90 91h1M84 92h1M90 92h1M145 93h1M137 94h1M86 95h1M143 95h1M137 96h1M88 97h1M81 110h2M81 111h1M53 246h1M53 251h1M52 252h1"/><path stroke="#e35249" d="M176 51h2M175 52h1M178 52h1M175 53h1M178 53h1M176 54h2M116 74h1M116 75h1M115 76h1M86 82h1M88 82h1M89 83h1M84 85h1M84 86h1M90 88h1M143 88h1M90 89h1M141 89h1M90 90h1M84 91h1M139 92h1M145 92h1M85 93h1M138 93h1M144 94h1M142 95h1M87 96h1M140 96h1M47 251h1"/><path stroke="#df5349" d="M176 52h2M176 53h2M113 73h1M115 73h1M114 76h1M87 82h1M85 84h1M89 84h1M89 85h1M84 87h1M84 88h1M84 89h1M84 90h1M145 90h1M140 91h1M145 91h1M85 92h1M86 94h1M143 94h1M137 95h1M141 95h1M89 96h1M49 245h1M51 245h1M47 247h1M53 247h1M53 250h1M48 252h1M51 252h1"/><path stroke="#dc5449" d="M114 73h1M113 75h1M86 83h3M85 85h1M89 86h1M89 87h1M89 88h1M141 90h1M85 91h1M89 91h1M89 92h1M140 92h1M86 93h1M89 93h1M139 93h2M144 93h1M89 94h1M140 94h3M87 95h1M89 95h1M140 95h1M88 96h1M139 96h1M50 245h1M53 248h1M53 249h1M52 251h1M49 252h2"/><path stroke="#d85549" d="M113 74h1M88 84h1M88 85h1M85 86h1M85 87h1M85 88h1M85 89h1M89 89h1M142 89h1M144 89h1M85 90h1M89 90h1M86 92h1M141 93h1M143 93h1M87 94h2M138 94h2M88 95h1M52 246h1M47 248h1M47 249h1M47 250h1"/><path stroke="#d45649" d="M115 75h1M86 84h2M86 85h1M88 86h1M88 87h1M88 88h1M88 89h1M143 89h1M86 90h1M88 90h1M86 91h1M88 91h1M141 91h1M87 92h2M141 92h1M144 92h1M87 93h2M142 93h1M139 95h1M138 96h1M48 246h1M52 250h1M48 251h1M51 251h1"/><path stroke="#d15849" d="M114 74h2M114 75h1M87 85h1M86 86h2M86 87h2M86 88h2M86 89h2M87 90h1M142 90h1M144 90h1M87 91h1M144 91h1M142 92h2M138 95h1"/><path stroke="#cd5949" d="M143 90h1M142 91h2M52 247h1M52 249h1M49 251h2"/><path stroke="#ca5a4a" d="M51 246h1M52 248h1M51 250h1"/><path stroke="#c65b4a" d="M49 246h1M48 247h1M48 250h1"/><path stroke="#c35c4a" d="M50 246h1"/><path stroke="#bf5e4a" d="M48 248h1M48 249h1M51 249h1M49 250h2"/><path stroke="#bc5f4a" d="M51 247h1"/><path stroke="#b8604a" d="M51 248h1"/><path stroke="#b85f4c" d="M49 247h1M49 249h2"/><path stroke="#b75f4e" d="M50 247h1"/><path stroke="#b75e50" d="M49 248h2"/></g>
</g>
<path d="M293.0 166.4V2511.5M731.8 166.4V2511.5M1170.5 166.4V2511.5M1609.2 166.4V2511.5M2048.0 166.4V2511.5M207.5 221.2H2390.5M207.5 660.0H2390.5M207.5 1098.7H2390.5M207.5 1537.5H2390.5M207.5 1976.2H2390.5M207.5 2414.9H2390.5" stroke="#6e6e6e" stroke-opacity="0.48" stroke-width="1.6" stroke-dasharray="6 3.2" fill="none"/>
<rect x="209.0" y="167.9" width="38" height="2" fill="#f9d2fb"/>
<rect x="1027" y="2507.0" width="1363.5" height="3" fill="#f9d2fb"/>
<rect x="209.0" y="1590" width="2" height="921.5" fill="#f9d2fb"/>
<g fill="none" stroke="#000" stroke-width="4.5" stroke-linejoin="round" stroke-linecap="round"><use href="#po" x="0"/><use href="#pi" x="0"/></g>
<path d="M293.0 2511.5v-15M731.8 2511.5v-15M1170.5 2511.5v-15M1609.2 2511.5v-15M2048.0 2511.5v-15" stroke="#3a3a3a" stroke-width="1.8" fill="none"/>
<path d="M207.5 221.2h14.5M207.5 660.0h14.5M207.5 1098.7h14.5M207.5 1537.5h14.5M207.5 1976.2h14.5M207.5 2414.9h14.5" stroke="#4a4a4a" stroke-width="3" fill="none"/>
<rect x="207.5" y="166.4" width="2183.0" height="2345.1" fill="none" stroke="#4a4a4a" stroke-width="3"/>
<text x="293.7" y="2565" font-size="50" text-anchor="middle" textLength="195" lengthAdjust="spacingAndGlyphs">75.70° W</text>
<text x="732.5" y="2565" font-size="50" text-anchor="middle" textLength="195" lengthAdjust="spacingAndGlyphs">75.60° W</text>
<text x="1171.2" y="2565" font-size="50" text-anchor="middle" textLength="195" lengthAdjust="spacingAndGlyphs">75.50° W</text>
<text x="1610.0" y="2565" font-size="50" text-anchor="middle" textLength="195" lengthAdjust="spacingAndGlyphs">75.40° W</text>
<text x="2048.7" y="2565" font-size="50" text-anchor="middle" textLength="195" lengthAdjust="spacingAndGlyphs">75.30° W</text>
<text x="189.0" y="240.7" font-size="50" text-anchor="end" textLength="159" lengthAdjust="spacingAndGlyphs">6.50° N</text>
<text x="189.0" y="679.5" font-size="50" text-anchor="end" textLength="159" lengthAdjust="spacingAndGlyphs">6.40° N</text>
<text x="189.0" y="1118.2" font-size="50" text-anchor="end" textLength="159" lengthAdjust="spacingAndGlyphs">6.30° N</text>
<text x="189.0" y="1557.0" font-size="50" text-anchor="end" textLength="159" lengthAdjust="spacingAndGlyphs">6.20° N</text>
<text x="189.0" y="1995.7" font-size="50" text-anchor="end" textLength="159" lengthAdjust="spacingAndGlyphs">6.10° N</text>
<text x="189.0" y="2434.4" font-size="50" text-anchor="end" textLength="159" lengthAdjust="spacingAndGlyphs">6.00° N</text>
<g clip-path="url(#cr)">
<g transform="translate(2825 164) scale(8)" fill="none" stroke-width="1" filter="url(#bl)"><path stroke="#4de8ff" d="M78 107h1"/><path stroke="#4ddfff" d="M77 107h1"/><path stroke="#4cd6ff" d="M78 108h1"/><path stroke="#4ccdff" d="M77 108h1"/><path stroke="#4cbcff" d="M77 106h2"/><path stroke="#4cb3ff" d="M76 107h1M79 107h1M95 170h1"/><path stroke="#4caaff" d="M79 108h1M96 170h1"/><path stroke="#4ca2ff" d="M76 108h1M95 171h2"/><path stroke="#4b99ff" d="M76 106h1M77 109h2"/><path stroke="#4b90ff" d="M79 106h1M95 169h1M94 170h1"/><path stroke="#4b87ff" d="M96 169h1M97 170h1"/><path stroke="#4b7eff" d="M77 105h1M79 109h1M94 171h1M97 171h1"/><path stroke="#4b76ff" d="M78 105h1M76 109h1"/><path stroke="#4b6dff" d="M80 107h1M80 108h1M94 169h1M97 169h1M95 172h2"/><path stroke="#4a64ff" d="M76 105h1M75 107h1"/><path stroke="#4a5cff" d="M75 108h1M78 142h1M93 170h1M97 172h1"/><path stroke="#4a53ff" d="M75 106h1M98 170h1M93 171h1M94 172h1"/><path stroke="#4a4aff" d="M79 105h1M80 106h1M80 109h1M77 110h2M78 141h1M77 142h1M98 171h1"/><path stroke="#4d4dfb" d="M95 168h2M93 169h1M98 169h1"/><path stroke="#5050f8" d="M76 110h1M79 110h1M77 141h1M79 142h1M78 143h1M96 173h1"/><path stroke="#5353f4" d="M75 109h1M79 141h1M77 143h1M94 168h1M97 168h1M98 172h1M95 173h1"/><path stroke="#5656f0" d="M77 104h1M75 105h1M93 172h1M97 173h1"/><path stroke="#5959ec" d="M78 104h1M81 107h1M81 108h1M92 170h1M94 173h1"/><path stroke="#5c5ce9" d="M76 104h1M80 110h1M78 140h1M76 142h1M79 143h1M99 170h1M92 171h1"/><path stroke="#5f5fe5" d="M74 107h1M81 109h1M77 111h1M79 140h1M93 168h1M98 168h1M92 169h1M99 169h1M99 171h1"/><path stroke="#6262e1" d="M80 105h1M74 106h1M74 108h1M75 110h1M78 111h1M77 140h1M76 141h1M80 141h1M76 143h1M98 173h1"/><path stroke="#6565de" d="M76 111h1M79 111h1M80 142h1M77 144h2M99 172h1"/><path stroke="#6868da" d="M81 106h1M92 172h1M93 173h1M95 174h2"/><path stroke="#6a6ad6" d="M79 104h1M80 140h1M95 167h2M99 168h1M97 174h1"/><path stroke="#6d6dd3" d="M75 104h1M74 109h1M81 110h1M80 111h1M78 139h2M76 140h1M80 143h1M76 144h1M79 144h1M97 167h1M92 168h1"/><path stroke="#7070cf" d="M74 105h1M82 108h1M77 112h2M75 142h1M94 167h1M98 167h1M91 170h1M100 170h1M94 174h1M31 181h2"/><path stroke="#7373cb" d="M77 103h1M82 107h1M75 111h1M76 112h1M77 139h1M80 139h1M75 141h1M75 143h1M91 169h1M100 169h1M91 171h1M100 171h1M99 173h1M98 174h1M31 182h2"/><path stroke="#7676c8" d="M82 109h1M79 112h1M81 140h1M81 141h1M93 167h1M92 173h1M31 180h2M30 181h1M33 181h1M33 182h1"/><path stroke="#7979c4" d="M76 103h1M78 103h1M74 110h1M77 113h1M76 139h1M75 140h1M77 145h2M88 146h1M88 147h1M99 167h1M100 168h1M100 172h1M33 180h1M30 182h1M31 183h1"/><path stroke="#7c7cc0" d="M81 105h1M81 111h1M76 113h1M78 113h1M78 138h3M81 139h1M81 142h1M75 144h1M80 144h1M87 146h1M89 146h1M87 147h1M89 147h1M87 148h3M40 153h1M40 154h2M91 172h1M93 174h1M96 175h2M30 180h1M34 181h1M30 183h1M32 183h1"/><path stroke="#7f7fbc" d="M80 104h1M73 107h1M82 110h1M75 112h1M80 112h1M77 138h1M74 141h1M74 142h1M88 145h2M90 146h1M90 147h1M90 148h1M88 149h2M40 152h1M39 153h1M41 153h1M39 154h1M39 155h3M92 167h1M91 168h1M95 175h1M31 179h3M34 180h1M29 181h1M29 182h1M34 182h1M33 183h1"/><path stroke="#8282b9" d="M74 104h1M73 106h1M82 106h1M73 108h1M79 113h1M76 114h2M93 129h4M93 130h4M93 131h3M81 138h1M75 139h1M74 140h1M74 143h1M76 145h1M79 145h1M87 145h1M90 145h1M86 147h1M86 148h1M91 148h1M87 149h1M90 149h2M89 150h3M92 151h3M39 152h1M41 152h1M93 152h2M38 153h1M42 153h1M38 154h1M42 154h1M38 155h1M42 155h1M39 156h3M99 174h1M30 179h1M29 180h1M29 183h1"/><path stroke="#8585b5" d="M122 108h3M122 109h3M122 110h2M75 113h1M78 114h1M76 115h2M92 128h5M91 129h2M97 129h1M90 130h3M97 130h1M89 131h4M96 131h2M89 132h8M89 133h5M78 137h3M76 138h1M82 139h1M82 140h1M81 143h1M88 144h3M91 145h1M86 146h1M91 146h1M91 147h1M86 149h1M92 149h1M88 150h1M92 150h3M39 151h3M90 151h2M95 151h1M38 152h1M42 152h1M92 152h1M95 152h1M93 153h3M103 154h3M102 155h4M38 156h1M42 156h1M102 156h4M100 167h1M90 170h1M101 170h1M100 173h1M98 175h1M34 179h1M35 181h1M34 183h1M30 184h3"/><path stroke="#8487b1" d="M75 103h1M122 107h3M121 108h1M125 108h1M121 109h1M125 109h1M121 110h1M124 110h1M74 111h1M122 111h2M81 112h1M75 114h1M76 116h2M90 127h7M89 128h3M97 128h1M89 129h2M98 129h1M88 130h2M98 130h1M88 131h1M87 132h2M97 132h1M87 133h2M94 133h3M86 134h8M85 135h5M85 136h3M77 137h1M81 137h2M75 138h1M82 138h1M74 139h1M73 140h1M73 141h1M73 142h1M74 144h1M91 144h1M85 147h1M92 147h1M85 148h1M92 148h1M93 149h1M39 150h2M87 150h1M95 150h1M38 151h1M42 151h1M89 151h1M91 152h1M37 153h1M92 153h1M96 153h1M104 153h3M37 154h1M43 154h1M94 154h3M102 154h1M106 154h2M37 155h1M100 155h2M106 155h2M109 155h4M37 156h1M100 156h2M106 156h7M38 157h4M102 157h5M110 157h2M96 166h4M90 169h1M101 169h1M90 171h1M91 173h1M94 175h1M30 178h4M29 179h1M35 180h1M28 181h1M28 182h1M35 182h1M28 183h1M29 184h1M33 184h1"/><path stroke="#8289ad" d="M79 103h1M123 106h1M121 107h1M125 107h1M83 108h1M120 108h1M120 109h1M120 110h1M125 110h1M82 111h1M120 111h2M124 111h1M80 113h1M79 114h1M75 115h1M78 115h1M75 116h1M76 117h2M89 126h6M88 127h2M97 127h1M88 128h1M98 128h1M87 129h2M87 130h1M87 131h1M98 131h1M86 132h1M98 132h1M86 133h1M97 133h1M85 134h1M94 134h2M84 135h1M90 135h3M79 136h6M88 136h2M75 137h2M83 137h4M73 138h2M83 138h1M73 139h1M82 141h1M73 143h1M89 143h2M87 144h1M75 145h1M86 145h1M92 145h1M92 146h1M93 148h1M85 149h1M94 149h1M38 150h1M41 150h1M86 150h1M37 151h1M88 151h1M37 152h1M43 152h1M90 152h1M96 152h1M43 153h1M91 153h1M103 153h1M107 153h2M36 154h1M93 154h1M97 154h2M100 154h2M108 154h5M36 155h1M43 155h1M95 155h5M108 155h1M113 155h1M36 156h1M43 156h1M98 156h2M113 156h1M37 157h1M42 157h1M100 157h2M107 157h3M112 157h2M39 158h2M103 158h10M94 166h2M91 167h1M101 168h1M101 171h1M92 174h1M29 178h1M34 178h1M35 179h1M28 180h1M28 184h1"/><path stroke="#818ba9" d="M73 105h1M121 106h2M124 106h1M120 107h1M119 108h1M126 108h1M73 109h1M83 109h1M119 109h1M126 109h1M119 110h1M126 110h1M119 111h1M125 111h1M120 112h5M78 116h1M75 117h1M89 125h4M87 126h2M95 126h2M87 127h1M98 127h1M86 128h2M86 129h1M99 129h1M86 130h1M99 130h1M86 131h1M99 131h1M85 133h1M98 133h1M84 134h1M96 134h2M83 135h1M93 135h2M72 136h7M90 136h2M72 137h3M87 137h3M71 138h2M84 138h1M71 139h2M83 139h1M71 140h2M72 141h1M72 142h1M90 142h1M88 143h1M91 143h1M81 144h1M92 144h1M80 145h1M85 146h1M93 146h1M93 147h1M84 148h1M94 148h1M38 149h4M95 149h1M37 150h1M42 150h1M43 151h1M87 151h1M96 151h1M36 152h1M89 152h1M104 152h4M36 153h1M97 153h1M109 153h4M92 154h1M99 154h1M113 154h1M94 155h1M114 155h1M96 156h2M114 156h1M36 157h1M99 157h1M114 157h1M37 158h2M41 158h1M101 158h2M113 158h2M104 159h9M93 166h1M100 166h1M90 172h1M96 176h2M30 177h4M35 178h1M28 179h1M36 179h1M36 180h1M27 181h1M36 181h1M27 182h1M36 182h1M27 183h1M35 183h1M34 184h1M29 185h3"/><path stroke="#808da4" d="M122 105h3M120 106h1M125 106h1M83 107h1M119 107h1M126 107h1M118 108h1M118 109h1M118 110h1M118 111h1M126 111h1M74 112h1M119 112h1M125 112h1M120 113h5M79 115h1M78 117h1M76 118h2M89 124h3M78 125h1M87 125h2M93 125h2M86 126h1M97 126h1M86 127h1M99 128h1M85 131h1M85 132h1M99 132h1M84 133h1M83 134h1M72 135h5M80 135h3M95 135h2M71 136h1M92 136h2M71 137h1M90 137h1M70 138h1M85 138h5M70 139h1M70 140h1M83 140h1M70 141h2M71 142h1M88 142h2M91 142h1M72 143h1M87 143h1M92 143h1M73 144h1M74 145h1M93 145h1M77 146h2M84 147h1M94 147h1M38 148h4M95 148h1M37 149h1M42 149h1M84 149h1M36 150h1M43 150h1M85 150h1M96 150h1M36 151h1M86 151h1M88 152h1M97 152h1M108 152h3M35 153h1M90 153h1M98 153h1M102 153h1M113 153h1M35 154h1M44 154h1M91 154h1M114 154h2M35 155h1M93 155h1M115 155h1M35 156h1M95 156h1M115 156h1M35 157h1M43 157h1M97 157h2M115 157h1M36 158h1M42 158h1M100 158h1M37 159h4M102 159h2M113 159h2M106 160h7M101 167h1M90 168h1M101 172h1M100 174h1M99 175h1M29 177h1M34 177h2M28 178h1M27 180h1M27 184h1M28 185h1M32 185h1M44 237h1M44 238h1"/><path stroke="#7e90a0" d="M120 105h2M125 105h1M119 106h1M126 106h1M117 107h2M117 108h1M127 108h1M116 109h2M127 109h1M83 110h1M116 110h2M127 110h1M117 111h1M94 112h2M117 112h2M126 112h1M74 113h1M81 113h1M118 113h2M125 113h1M80 114h1M119 114h6M79 116h1M75 118h1M78 118h1M78 124h2M88 124h1M92 124h2M77 125h1M79 125h1M86 125h1M95 125h1M77 126h3M85 126h1M85 127h1M99 127h1M85 128h1M85 129h1M100 129h1M85 130h1M100 130h1M100 131h1M84 132h1M83 133h1M99 133h1M72 134h4M82 134h1M98 134h1M71 135h1M77 135h3M97 135h1M70 136h1M94 136h2M70 137h1M91 137h2M69 138h1M90 138h1M69 139h1M84 139h7M69 140h1M88 140h3M69 141h1M88 141h4M69 142h2M82 142h1M92 142h1M69 143h3M86 144h1M93 144h1M85 145h1M94 145h1M76 146h1M84 146h1M94 146h1M39 147h2M95 147h1M37 148h1M42 148h1M96 148h1M36 149h1M43 149h1M96 149h1M35 150h1M35 151h1M105 151h4M35 152h1M44 152h1M87 152h1M103 152h1M111 152h2M34 153h1M44 153h1M89 153h1M99 153h3M114 153h1M34 154h1M90 154h1M116 154h1M34 155h1M44 155h1M92 155h1M116 155h1M34 156h1M44 156h1M93 156h2M116 156h1M34 157h1M96 157h1M116 157h1M34 158h2M43 158h1M99 158h1M115 158h1M35 159h2M41 159h2M100 159h2M115 159h1M37 160h3M103 160h3M113 160h2M106 161h7M57 162h3M57 163h3M57 164h2M92 166h1M93 175h1M30 176h5M95 176h1M36 178h1M27 179h1M37 179h1M37 180h1M26 181h1M37 181h1M26 182h1M37 182h1M26 183h1M36 183h1M26 184h1M35 184h1M27 185h1M33 185h1M28 186h3M43 238h1"/><path stroke="#7d929c" d="M130 75h1M77 102h1M121 104h4M82 105h1M119 105h1M126 105h1M117 106h2M116 107h1M127 107h1M115 108h2M115 109h1M73 110h1M115 110h1M94 111h2M115 111h2M127 111h1M82 112h1M96 112h1M116 112h1M127 112h1M94 113h2M116 113h2M126 113h1M74 114h1M117 114h2M125 114h1M74 115h1M117 115h8M74 116h1M74 117h1M79 117h1M76 119h3M78 123h3M88 123h5M77 124h1M80 124h2M86 124h2M94 124h1M80 125h2M84 125h2M96 125h1M76 126h1M80 126h1M84 126h1M98 126h1M77 127h2M84 127h1M84 128h1M100 128h1M84 131h1M100 132h1M72 133h4M71 134h1M76 134h6M99 134h1M70 135h1M98 135h1M69 136h1M96 136h2M69 137h1M93 137h1M68 138h1M91 138h1M68 139h1M91 139h1M68 140h1M87 140h1M91 140h1M67 141h2M87 141h1M92 141h1M67 142h2M87 142h1M93 142h1M68 143h1M93 143h1M69 144h4M73 145h1M81 145h1M79 146h1M95 146h1M37 147h2M41 147h2M83 147h1M96 147h1M36 148h1M43 148h1M83 148h1M35 149h1M34 150h1M84 150h1M34 151h1M44 151h1M85 151h1M97 151h1M109 151h3M34 152h1M113 152h1M33 153h1M88 153h1M115 153h1M33 154h1M117 154h1M33 155h1M91 155h1M117 155h1M33 156h1M92 156h1M117 156h1M33 157h1M44 157h1M94 157h2M117 157h1M33 158h1M44 158h1M97 158h2M116 158h1M34 159h1M43 159h1M99 159h1M35 160h2M40 160h2M58 160h2M101 160h2M57 161h4M103 161h3M113 161h1M56 162h1M60 162h1M106 162h4M55 163h2M60 163h1M55 164h2M59 164h2M55 165h5M99 165h2M101 166h1M31 175h4M29 176h1M35 176h1M98 176h1M28 177h1M36 177h1M27 178h1M37 178h1M26 180h1M38 180h1M38 181h1M25 182h1M25 183h1M26 185h1M34 185h1M27 186h1M31 186h1M43 237h1M45 237h1M45 238h1"/><path stroke="#7c9498" d="M129 74h3M129 75h1M131 75h1M76 102h1M74 103h1M81 104h1M119 104h2M125 104h1M117 105h2M116 106h1M127 106h1M115 107h1M128 107h1M114 108h1M128 108h1M113 109h2M128 109h1M113 110h2M128 110h1M96 111h1M113 111h2M128 111h1M93 112h1M114 112h2M96 113h1M114 113h2M127 113h1M115 114h2M126 114h2M80 115h1M115 115h2M125 115h2M116 116h8M79 118h1M75 119h1M79 119h1M78 122h3M77 123h1M81 123h1M87 123h1M93 123h1M76 124h1M82 124h4M95 124h1M76 125h1M82 125h2M97 125h1M81 126h3M76 127h1M79 127h1M83 127h1M76 128h2M84 129h1M84 130h1M101 130h1M73 132h4M83 132h1M71 133h1M76 133h2M82 133h1M100 133h1M70 134h1M69 135h1M99 135h1M98 136h1M68 137h1M94 137h2M92 138h1M67 139h1M92 139h1M67 140h1M84 140h3M92 140h1M66 141h1M83 141h1M93 141h1M66 142h1M66 143h2M82 143h1M86 143h1M66 144h3M94 144h1M67 145h3M72 145h1M95 145h1M37 146h6M75 146h1M96 146h1M35 147h2M43 147h1M34 148h2M34 149h1M44 149h1M83 149h1M33 150h1M44 150h1M106 150h4M33 151h1M104 151h1M112 151h1M32 152h2M86 152h1M98 152h1M114 152h2M32 153h1M116 153h2M31 154h2M89 154h1M118 154h1M31 155h2M90 155h1M118 155h1M31 156h2M118 156h1M31 157h2M93 157h1M32 158h1M96 158h1M117 158h1M32 159h2M44 159h1M58 159h3M116 159h1M33 160h2M42 160h2M56 160h2M60 160h2M100 160h1M115 160h1M34 161h7M55 161h2M61 161h1M102 161h1M114 161h1M37 162h1M54 162h2M61 162h1M104 162h2M110 162h3M53 163h2M61 163h1M52 164h3M61 164h1M52 165h3M60 165h1M98 165h1M101 165h1M53 166h7M91 166h1M90 167h1M102 167h1M102 168h1M102 169h1M89 170h1M102 170h1M90 173h1M101 173h1M32 174h3M91 174h1M30 175h1M35 175h2M36 176h1M94 176h1M37 177h1M38 178h1M26 179h1M38 179h1M25 181h1M38 182h1M37 183h1M25 184h1M36 184h1M32 186h1M28 187h2M44 236h1M42 238h1M43 239h2"/><path stroke="#7a9694" d="M130 73h1M128 74h1M132 74h1M128 75h1M132 75h1M129 76h2M78 102h1M121 103h4M73 104h1M117 104h2M126 104h1M116 105h1M127 105h1M83 106h1M114 106h2M128 106h1M113 107h2M112 108h2M129 108h1M112 109h1M129 109h1M95 110h1M111 110h2M129 110h1M83 111h1M93 111h1M97 111h1M111 111h2M97 112h1M112 112h2M128 112h1M93 113h1M97 113h1M113 113h1M128 113h1M81 114h1M94 114h3M113 114h2M128 114h1M114 115h1M127 115h1M80 116h1M115 116h1M124 116h4M80 117h1M116 117h4M124 117h2M74 118h1M76 120h4M77 121h4M77 122h1M81 122h1M88 122h5M76 123h1M82 123h5M94 123h1M96 124h1M75 125h1M75 126h1M99 126h1M75 127h1M80 127h3M100 127h1M75 128h1M78 128h2M83 128h1M101 128h1M74 129h4M101 129h1M74 130h3M73 131h4M83 131h1M101 131h1M72 132h1M77 132h1M82 132h1M101 132h1M70 133h1M78 133h4M100 134h1M100 135h1M68 136h1M99 136h1M67 137h1M96 137h2M67 138h1M93 138h1M66 139h1M93 139h1M66 140h1M93 140h1M86 141h1M65 142h1M86 142h1M65 143h1M94 143h1M65 144h1M82 144h1M85 144h1M37 145h6M65 145h2M70 145h2M84 145h1M96 145h1M35 146h2M43 146h1M64 146h6M74 146h1M80 146h1M83 146h1M97 146h1M34 147h1M44 147h1M64 147h4M97 147h1M33 148h1M44 148h1M64 148h2M97 148h1M32 149h2M97 149h1M31 150h2M97 150h1M105 150h1M110 150h2M31 151h2M84 151h1M113 151h1M30 152h2M85 152h1M102 152h1M116 152h1M30 153h2M45 153h1M87 153h1M118 153h1M30 154h1M45 154h1M88 154h1M119 154h1M30 155h1M45 155h1M89 155h1M119 155h1M30 156h1M45 156h1M60 156h2M91 156h1M30 157h1M45 157h1M59 157h3M92 157h1M118 157h1M30 158h2M45 158h1M58 158h4M94 158h2M31 159h1M45 159h1M56 159h2M61 159h2M98 159h1M117 159h1M32 160h1M44 160h1M55 160h1M62 160h1M99 160h1M116 160h1M32 161h2M41 161h4M54 161h1M62 161h1M100 161h2M115 161h1M34 162h3M38 162h4M52 162h2M62 162h1M101 162h3M113 162h1M36 163h4M50 163h3M62 163h1M104 163h5M49 164h3M62 164h1M100 164h1M48 165h4M61 165h1M97 165h1M48 166h5M60 166h2M102 166h1M50 167h10M89 169h1M89 171h1M32 173h5M30 174h2M35 174h2M29 175h1M37 175h1M28 176h1M37 176h1M27 177h1M38 177h1M39 178h1M39 179h1M25 180h1M39 180h1M24 181h1M39 181h1M24 182h1M39 182h1M24 183h1M38 183h1M24 184h1M25 185h1M35 185h1M26 186h1M33 186h1M27 187h1M30 187h1M43 236h1M45 236h1M42 239h1M27 248h3M26 249h5M26 250h5M26 251h5M27 252h4M28 253h2"/><path stroke="#799890" d="M129 73h1M131 73h1M128 76h1M131 76h1M118 103h3M125 103h1M116 104h1M127 104h1M114 105h2M128 105h1M113 106h1M129 106h1M112 107h1M129 107h1M111 108h1M130 108h1M84 109h1M110 109h2M130 109h1M94 110h1M96 110h1M110 110h1M130 110h1M98 111h1M110 111h1M129 111h2M98 112h1M110 112h2M129 112h2M98 113h1M111 113h2M129 113h2M97 114h1M112 114h1M129 114h1M95 115h2M113 115h1M128 115h2M114 116h1M128 116h1M115 117h1M120 117h4M126 117h3M80 118h1M116 118h3M124 118h3M74 119h1M80 119h1M75 120h1M80 120h1M76 121h1M81 121h1M76 122h1M82 122h2M87 122h1M93 122h1M75 123h1M95 123h1M75 124h1M97 124h1M98 125h1M74 126h1M74 127h1M74 128h1M80 128h1M82 128h1M73 129h1M78 129h1M83 129h1M73 130h1M77 130h2M83 130h1M72 131h1M77 131h2M71 132h1M78 132h2M81 132h1M101 133h1M69 134h1M101 134h1M68 135h1M67 136h1M100 136h1M98 137h1M66 138h1M94 138h1M65 139h1M65 140h1M65 141h1M84 141h2M94 141h1M64 142h1M94 142h1M64 143h1M38 144h5M64 144h1M95 144h1M35 145h2M43 145h1M63 145h2M82 145h2M33 146h2M44 146h1M62 146h2M70 146h4M81 146h2M32 147h2M62 147h2M68 147h2M82 147h1M31 148h2M45 148h1M60 148h4M66 148h3M82 148h1M30 149h2M45 149h1M60 149h8M107 149h3M29 150h2M45 150h1M59 150h8M83 150h1M112 150h1M29 151h2M45 151h1M59 151h7M103 151h1M114 151h2M28 152h2M45 152h1M59 152h6M99 152h1M117 152h2M28 153h2M59 153h6M86 153h1M119 153h2M28 154h2M59 154h5M120 154h1M28 155h2M59 155h5M28 156h2M58 156h2M62 156h2M90 156h1M119 156h1M28 157h2M57 157h2M62 157h2M91 157h1M119 157h1M29 158h1M56 158h2M62 158h2M92 158h2M118 158h1M30 159h1M55 159h1M63 159h1M97 159h1M30 160h2M45 160h1M54 160h1M63 160h1M98 160h1M31 161h1M45 161h2M52 161h2M63 161h1M99 161h1M32 162h2M42 162h10M63 162h1M100 162h1M114 162h1M33 163h3M40 163h10M63 163h1M100 163h4M109 163h4M35 164h14M99 164h1M101 164h5M36 165h12M62 165h1M102 165h1M37 166h11M62 166h1M37 167h13M60 167h2M37 168h23M89 168h1M36 169h18M35 170h12M33 171h11M102 171h1M32 172h8M89 172h1M30 173h2M37 173h3M29 174h1M37 174h3M28 175h1M38 175h2M92 175h1M100 175h1M38 176h2M99 176h1M39 177h1M96 177h2M26 178h1M40 178h1M25 179h1M40 179h1M24 180h1M40 180h1M23 181h1M40 181h1M23 182h1M40 182h1M23 183h1M39 183h1M23 184h1M37 184h1M24 185h1M25 186h1M34 186h1M26 187h1M31 187h1M42 237h1M45 239h1M43 240h1M27 246h4M26 247h6M25 248h2M30 248h2M24 249h2M31 249h1M24 250h2M31 250h2M24 251h2M31 251h2M24 252h3M31 252h2M25 253h3M30 253h2M26 254h6M27 255h4"/><path stroke="#789a8c" d="M128 73h1M132 73h1M133 74h1M127 75h1M133 75h1M132 76h1M75 102h1M122 102h2M80 103h1M116 103h2M126 103h2M115 104h1M128 104h1M113 105h1M129 105h1M72 106h1M112 106h1M130 106h1M72 107h1M111 107h1M130 107h2M84 108h1M110 108h1M131 108h2M109 109h1M131 109h2M84 110h1M93 110h1M97 110h1M109 110h1M131 110h2M73 111h1M92 111h1M108 111h2M131 111h2M92 112h1M99 112h1M109 112h1M131 112h1M82 113h1M99 113h1M110 113h1M93 114h1M98 114h1M111 114h1M81 115h1M94 115h1M97 115h1M112 115h1M113 116h1M129 116h1M114 117h1M129 117h2M114 118h2M119 118h5M127 118h3M124 119h4M74 120h1M81 120h1M75 121h1M82 121h1M89 121h4M75 122h1M84 122h3M94 122h1M96 123h1M74 124h1M74 125h1M100 126h1M73 127h1M101 127h1M73 128h1M81 128h1M72 129h1M79 129h1M82 129h1M102 129h1M72 130h1M102 130h1M71 131h1M79 131h1M82 131h1M102 131h1M70 132h1M80 132h1M102 132h1M69 133h1M102 133h1M68 134h1M67 135h1M101 135h1M101 136h1M66 137h1M99 137h2M65 138h1M95 138h1M94 139h1M64 140h1M94 140h1M64 141h1M63 142h1M83 142h1M85 142h1M40 143h1M63 143h1M85 143h1M95 143h1M35 144h3M43 144h2M62 144h2M84 144h1M96 144h1M32 145h3M44 145h2M62 145h1M97 145h1M31 146h2M45 146h1M61 146h1M98 146h1M29 147h3M45 147h1M59 147h3M70 147h2M98 147h1M28 148h3M59 148h1M69 148h1M28 149h2M58 149h2M68 149h1M82 149h1M106 149h1M110 149h2M27 150h2M58 150h1M67 150h1M104 150h1M113 150h1M27 151h2M58 151h1M66 151h2M83 151h1M98 151h1M116 151h2M26 152h2M58 152h1M65 152h2M84 152h1M100 152h2M119 152h2M26 153h2M58 153h1M65 153h1M85 153h1M26 154h2M58 154h1M64 154h1M87 154h1M26 155h2M58 155h1M64 155h1M88 155h1M120 155h1M26 156h2M57 156h1M64 156h1M89 156h1M120 156h1M27 157h1M46 157h1M56 157h1M64 157h1M90 157h1M27 158h2M46 158h1M91 158h1M119 158h1M28 159h2M46 159h1M54 159h1M95 159h2M118 159h1M29 160h1M46 160h2M53 160h1M117 160h1M30 161h1M47 161h5M116 161h1M31 162h1M99 162h1M115 162h1M32 163h1M99 163h1M113 163h1M33 164h2M63 164h1M106 164h2M34 165h2M63 165h1M92 165h2M103 165h2M34 166h3M90 166h1M103 166h1M34 167h3M62 167h1M34 168h3M60 168h1M33 169h3M54 169h5M32 170h3M47 170h6M31 171h2M44 171h4M30 172h2M40 172h6M29 173h1M40 173h4M28 174h1M40 174h3M40 175h3M27 176h1M40 176h2M40 177h2M41 178h2M41 179h2M23 180h1M41 180h2M22 181h1M41 181h2M22 182h1M41 182h1M22 183h1M40 183h1M22 184h1M38 184h1M23 185h1M36 185h1M24 186h1M25 187h1M32 187h1M27 188h4M46 237h1M41 238h1M46 238h1M41 239h1M41 240h2M44 240h1M27 245h5M25 246h2M31 246h2M25 247h1M32 247h1M24 248h1M32 248h1M32 249h1M23 250h1M22 251h2M33 251h1M22 252h2M33 252h1M22 253h3M32 253h1M22 254h4M32 254h1M23 255h4M31 255h2M25 256h7M27 257h3"/><path stroke="#769c87" d="M130 72h1M127 74h1M127 76h1M133 76h1M129 77h3M118 102h4M124 102h3M115 103h1M128 103h1M114 104h1M129 104h1M112 105h1M130 105h2M111 106h1M131 106h3M110 107h1M132 107h4M72 108h1M109 108h1M133 108h4M108 109h1M133 109h5M98 110h1M107 110h2M133 110h3M99 111h2M107 111h1M83 112h1M100 112h1M107 112h2M92 113h1M100 113h1M108 113h2M99 114h2M109 114h2M98 115h2M111 115h1M73 116h1M81 116h1M95 116h3M112 116h1M73 117h1M81 117h1M113 117h1M81 118h1M113 118h1M130 118h1M81 119h1M114 119h10M128 119h2M82 120h1M124 120h5M74 121h1M83 121h1M88 121h1M93 121h2M74 122h1M95 122h1M74 123h1M98 124h1M73 125h1M99 125h1M73 126h1M72 128h1M102 128h1M80 129h2M71 130h1M79 130h1M82 130h1M103 130h1M70 131h1M80 131h2M103 131h1M69 132h1M68 133h1M102 134h1M102 135h1M66 136h1M102 136h1M65 137h1M101 137h1M64 138h1M96 138h2M64 139h1M63 140h1M63 141h1M62 142h1M84 142h1M100 142h1M35 143h5M41 143h5M62 143h1M99 143h1M32 144h3M45 144h2M61 144h1M83 144h1M97 144h1M30 145h2M46 145h1M60 145h2M98 145h1M28 146h3M46 146h1M59 146h2M27 147h2M46 147h1M58 147h1M72 147h2M77 147h5M26 148h2M46 148h1M58 148h1M70 148h2M98 148h1M107 148h3M25 149h3M46 149h1M57 149h1M69 149h2M105 149h1M112 149h1M25 150h2M57 150h1M68 150h2M82 150h1M114 150h1M25 151h2M57 151h1M68 151h1M118 151h2M24 152h2M57 152h1M67 152h1M24 153h2M57 153h1M66 153h1M121 153h1M24 154h2M46 154h1M57 154h1M65 154h2M86 154h1M121 154h1M24 155h2M46 155h1M57 155h1M65 155h1M87 155h1M121 155h1M24 156h2M46 156h1M56 156h1M65 156h1M88 156h1M24 157h3M89 157h1M120 157h1M25 158h2M55 158h1M64 158h1M90 158h1M26 159h2M47 159h1M53 159h1M64 159h1M92 159h3M119 159h1M27 160h2M48 160h5M64 160h1M97 160h1M118 160h1M29 161h1M64 161h1M98 161h1M117 161h1M30 162h1M64 162h1M31 163h1M64 163h1M114 163h1M32 164h1M64 164h1M98 164h1M108 164h1M32 165h2M91 165h1M94 165h1M96 165h1M105 165h1M33 166h1M63 166h1M33 167h1M63 167h1M89 167h1M103 167h1M33 168h1M61 168h2M103 168h1M32 169h1M59 169h2M31 170h1M53 170h5M29 171h2M48 171h4M29 172h1M46 172h3M102 172h1M28 173h1M44 173h3M43 174h3M101 174h1M27 175h1M43 175h2M42 176h2M26 177h1M42 177h2M95 177h1M98 177h1M25 178h1M43 178h1M24 179h1M43 179h1M22 180h1M43 180h1M21 181h1M43 181h1M21 182h1M42 182h1M20 183h2M41 183h2M21 184h1M39 184h2M21 185h2M37 185h1M22 186h2M35 186h1M24 187h1M33 187h1M61 187h2M26 188h1M31 188h1M59 188h4M59 189h4M60 190h3M44 235h1M42 236h1M46 236h1M40 239h1M40 240h1M27 244h5M25 245h2M32 245h1M33 246h1M33 247h1M33 248h1M33 249h1M33 250h1M21 252h1M20 253h2M33 253h1M19 254h3M33 254h1M20 255h3M33 255h1M20 256h5M32 256h1M21 257h6M30 257h3M23 258h8"/><path stroke="#759e83" d="M129 72h1M131 72h1M133 73h1M134 75h1M128 77h1M132 77h1M116 102h2M127 102h1M114 103h1M129 103h1M113 104h1M130 104h2M111 105h1M132 105h3M110 106h1M134 106h4M84 107h1M109 107h1M136 107h3M108 108h1M137 108h3M94 109h4M107 109h1M138 109h1M92 110h1M99 110h2M106 110h1M101 111h2M105 111h2M73 112h1M101 112h3M105 112h2M101 113h2M106 113h2M73 114h1M82 114h1M92 114h1M101 114h1M108 114h1M73 115h1M93 115h1M100 115h1M109 115h2M94 116h1M98 116h2M110 116h2M95 117h3M112 117h1M73 118h1M112 118h1M73 119h1M113 119h1M91 120h3M114 120h10M84 121h1M87 121h1M95 121h1M123 121h5M96 122h1M73 123h1M97 123h1M73 124h1M72 126h1M101 126h1M72 127h1M102 127h1M71 128h1M103 128h1M71 129h1M103 129h1M70 130h1M80 130h2M69 131h1M103 132h1M103 133h1M67 134h1M103 134h1M66 135h1M103 135h1M65 136h1M103 136h1M64 137h1M102 137h1M63 138h1M98 138h5M63 139h1M95 139h1M101 139h1M62 140h1M101 140h1M62 141h1M100 141h2M37 142h10M61 142h1M95 142h1M99 142h1M101 142h1M32 143h3M46 143h3M61 143h1M83 143h2M100 143h1M29 144h3M47 144h2M59 144h2M98 144h2M27 145h3M47 145h2M58 145h2M25 146h3M47 146h1M57 146h2M24 147h3M47 147h1M57 147h1M74 147h3M24 148h2M57 148h1M72 148h1M81 148h1M106 148h1M110 148h2M23 149h2M71 149h1M98 149h1M113 149h1M23 150h2M46 150h1M70 150h1M98 150h1M115 150h4M23 151h2M46 151h1M69 151h1M102 151h1M120 151h1M22 152h2M46 152h1M68 152h1M83 152h1M121 152h1M22 153h2M46 153h1M67 153h1M84 153h1M22 154h2M67 154h1M85 154h1M22 155h2M56 155h1M66 155h1M86 155h1M22 156h2M66 156h1M87 156h1M121 156h1M22 157h2M47 157h1M55 157h1M65 157h1M88 157h1M22 158h3M47 158h1M54 158h1M65 158h1M89 158h1M120 158h1M22 159h4M48 159h2M52 159h1M65 159h1M90 159h2M23 160h4M65 160h1M92 160h2M96 160h1M26 161h3M65 161h1M29 162h1M65 162h1M98 162h1M116 162h1M30 163h1M98 163h1M31 164h1M109 164h2M31 165h1M64 165h1M90 165h1M95 165h1M106 165h1M32 166h1M64 166h1M89 166h1M104 166h1M32 167h1M31 168h2M63 168h1M30 169h2M61 169h1M103 169h1M29 170h2M58 170h2M28 171h1M52 171h4M28 172h1M49 172h3M47 173h2M89 173h1M27 174h1M46 174h2M90 174h1M45 175h2M26 176h1M44 176h2M93 176h1M44 177h2M44 178h2M23 179h1M44 179h2M21 180h1M44 180h2M20 181h1M44 181h1M19 182h2M43 182h2M19 183h1M43 183h1M19 184h2M41 184h1M19 185h2M38 185h1M21 186h1M36 186h1M60 186h4M22 187h2M34 187h1M57 187h4M63 187h1M25 188h1M32 188h1M55 188h4M63 188h1M28 189h1M54 189h5M63 189h1M54 190h6M63 190h1M54 191h1M60 191h3M43 235h1M45 235h1M41 237h1M40 238h1M46 239h1M39 240h1M45 240h1M40 241h3M29 243h3M25 244h2M32 244h2M24 245h1M33 245h2M34 246h1M34 247h1M34 248h1M34 249h1M34 250h1M34 251h1M34 252h1M34 253h1M34 254h1M18 255h2M34 255h1M17 256h3M33 256h1M18 257h3M33 257h1M19 258h4M31 258h2M20 259h12M22 260h8"/><path stroke="#73a07f" d="M128 72h1M132 72h1M127 73h1M134 74h1M126 75h1M134 76h1M133 77h1M118 101h8M115 102h1M128 102h2M113 103h1M130 103h2M112 104h1M132 104h3M72 105h1M110 105h1M135 105h4M109 106h1M138 106h3M108 107h1M139 107h2M107 108h1M140 108h1M93 109h1M98 109h1M105 109h2M101 110h5M84 111h1M91 111h1M103 111h2M91 112h1M104 112h1M73 113h1M103 113h3M102 114h6M101 115h2M108 115h1M93 116h1M100 116h1M109 116h1M94 117h1M98 117h2M110 117h2M94 118h4M111 118h1M82 119h1M94 119h2M112 119h1M73 120h1M83 120h1M89 120h2M94 120h2M112 120h2M73 121h1M85 121h2M96 121h1M113 121h10M73 122h1M97 122h1M114 122h3M122 122h2M125 122h2M98 123h1M72 124h1M99 124h1M72 125h1M100 125h1M71 127h1M103 127h1M70 129h1M104 129h1M104 130h1M104 131h1M68 132h1M104 132h1M67 133h1M104 133h1M66 134h1M104 134h1M65 135h1M104 135h1M64 136h1M104 136h1M63 137h1M103 137h2M62 138h1M103 138h1M62 139h1M100 139h1M102 139h2M61 140h1M95 140h1M100 140h1M102 140h2M39 141h13M61 141h1M95 141h1M102 141h1M33 142h4M47 142h7M60 142h1M29 143h3M49 143h6M57 143h4M96 143h1M98 143h1M25 144h4M49 144h10M24 145h3M49 145h3M54 145h4M99 145h1M23 146h2M48 146h2M55 146h2M99 146h1M22 147h2M48 147h1M55 147h2M107 147h3M22 148h2M47 148h1M56 148h1M73 148h1M80 148h1M105 148h1M112 148h1M21 149h2M47 149h1M56 149h1M72 149h1M81 149h1M104 149h1M114 149h2M21 150h2M56 150h1M71 150h1M103 150h1M119 150h2M21 151h2M56 151h1M70 151h2M82 151h1M121 151h1M21 152h1M56 152h1M69 152h2M122 152h1M20 153h2M56 153h1M68 153h2M122 153h1M20 154h2M56 154h1M68 154h1M84 154h1M122 154h1M20 155h2M67 155h1M85 155h1M122 155h1M20 156h2M47 156h1M55 156h1M86 156h1M122 156h1M20 157h2M54 157h1M66 157h1M87 157h1M121 157h1M20 158h2M48 158h1M53 158h1M66 158h1M88 158h1M20 159h2M50 159h2M89 159h1M120 159h1M21 160h2M90 160h2M94 160h2M119 160h1M21 161h5M97 161h1M118 161h1M22 162h7M117 162h1M28 163h2M65 163h1M115 163h1M30 164h1M65 164h1M111 164h3M30 165h1M65 165h1M107 165h1M31 166h1M105 166h1M31 167h1M64 167h1M104 167h1M30 168h1M25 169h5M62 169h1M25 170h4M60 170h2M88 170h1M103 170h1M26 171h2M56 171h3M88 171h1M27 172h1M52 172h3M27 173h1M49 173h3M48 174h2M47 175h2M46 176h2M25 177h1M46 177h1M24 178h1M46 178h1M22 179h1M46 179h1M18 180h3M46 180h1M17 181h3M45 181h2M18 182h1M45 182h2M18 183h1M44 183h2M18 184h1M42 184h3M62 184h3M39 185h2M60 185h5M19 186h2M54 186h6M64 186h1M20 187h2M53 187h4M64 187h1M22 188h3M52 188h3M26 189h2M29 189h2M52 189h2M52 190h2M52 191h2M55 191h5M63 191h1M53 192h3M61 192h3M39 239h1M38 240h1M37 241h3M43 241h1M35 242h5M26 243h3M32 243h5M24 244h1M34 244h2M35 245h1M35 246h1M35 247h1M35 248h1M34 256h1M34 257h1M33 258h1M32 259h2M30 260h3M23 261h8M25 262h5"/><path stroke="#72a27b" d="M133 72h1M134 73h1M126 74h1M149 74h2M135 75h1M149 75h4M150 76h3M127 77h1M129 78h3M116 101h2M126 101h3M79 102h1M114 102h1M130 102h1M112 103h1M132 103h2M111 104h1M135 104h4M83 105h1M109 105h1M139 105h2M108 106h1M141 106h1M107 107h1M141 107h1M105 108h2M72 109h1M85 109h1M92 109h1M99 109h6M91 110h1M83 113h1M91 113h1M82 115h1M92 115h1M103 115h5M101 116h2M108 116h1M82 117h1M93 117h1M100 117h1M109 117h1M82 118h1M93 118h1M98 118h1M110 118h1M92 119h2M96 119h2M111 119h1M84 120h1M96 120h2M111 120h1M97 121h1M112 121h1M72 122h1M112 122h2M117 122h5M72 123h1M112 123h13M112 124h5M123 124h2M71 125h1M101 125h1M113 125h3M71 126h1M102 126h1M70 127h1M70 128h1M104 128h1M69 129h1M105 129h1M69 130h1M105 130h1M68 131h1M105 131h1M67 132h1M105 132h1M66 133h1M105 133h1M65 134h1M105 134h1M64 135h1M105 135h1M63 136h1M105 136h1M62 137h1M105 137h1M61 138h1M104 138h2M50 139h2M60 139h2M96 139h1M99 139h1M104 139h2M44 140h11M59 140h2M104 140h1M34 141h5M52 141h9M99 141h1M103 141h1M28 142h5M54 142h6M102 142h1M24 143h5M55 143h2M97 143h1M101 143h1M22 144h3M100 144h1M21 145h3M52 145h2M21 146h2M50 146h5M107 146h3M20 147h2M49 147h2M54 147h1M99 147h1M106 147h1M110 147h2M20 148h2M48 148h1M55 148h1M74 148h1M79 148h1M113 148h1M19 149h2M55 149h1M116 149h5M19 150h2M47 150h1M55 150h1M72 150h1M81 150h1M121 150h1M19 151h2M55 151h1M72 151h1M99 151h1M122 151h1M19 152h2M71 152h1M82 152h1M19 153h1M70 153h1M83 153h1M123 153h1M19 154h1M55 154h1M69 154h1M123 154h1M18 155h2M47 155h1M55 155h1M68 155h1M18 156h2M54 156h1M67 156h1M19 157h1M48 157h1M53 157h1M67 157h1M86 157h1M122 157h1M19 158h1M49 158h4M87 158h1M121 158h1M19 159h1M66 159h1M88 159h1M121 159h1M19 160h2M66 160h1M89 160h1M120 160h1M19 161h2M66 161h1M90 161h3M119 161h1M20 162h2M66 162h1M118 162h1M20 163h8M66 163h1M116 163h1M22 164h3M28 164h2M66 164h1M90 164h3M97 164h1M29 165h1M89 165h1M108 165h1M30 166h1M65 166h1M30 167h1M65 167h1M88 167h1M24 168h6M64 168h1M88 168h1M24 169h1M63 169h2M88 169h1M24 170h1M62 170h1M25 171h1M59 171h2M26 172h1M55 172h3M88 172h1M26 173h1M52 173h3M102 173h1M26 174h1M50 174h2M26 175h1M49 175h1M91 175h1M48 176h1M100 176h1M47 177h2M94 177h1M99 177h1M15 178h1M23 178h1M47 178h2M96 178h2M17 179h5M47 179h2M17 180h1M47 180h2M47 181h2M47 182h2M46 183h4M62 183h4M45 184h5M60 184h2M65 184h1M41 185h4M50 185h10M65 185h1M37 186h2M50 186h4M19 187h1M35 187h1M51 187h2M19 188h3M33 188h1M51 188h1M64 188h1M23 189h3M31 189h1M51 189h1M64 189h1M51 190h1M64 190h1M52 192h1M56 192h1M59 192h2M53 193h2M46 235h1M40 237h1M39 238h1M37 239h2M36 240h2M34 241h3M44 241h1M28 242h7M40 242h2M24 243h2M37 243h3M36 244h2M36 245h1M36 246h1M35 249h1M35 250h1M35 251h1M35 252h1M35 253h1M35 254h1M35 255h1M35 256h1M34 258h1M34 259h1M33 260h1M31 261h2M30 262h2M26 263h5M26 264h3M26 265h1"/><path stroke="#71a477" d="M130 71h2M148 73h4M135 74h1M147 74h2M151 74h3M146 75h3M153 75h3M126 76h1M135 76h1M147 76h3M153 76h3M134 77h1M149 77h5M128 78h1M132 78h1M115 101h1M129 101h1M113 102h1M131 102h2M73 103h1M111 103h1M134 103h3M82 104h1M110 104h1M139 104h2M108 105h1M141 105h1M107 106h1M142 106h1M106 107h1M94 108h4M104 108h1M91 109h1M85 110h1M90 110h1M90 111h1M82 116h1M92 116h1M103 116h5M101 117h1M107 117h2M92 118h1M99 118h2M109 118h1M83 119h1M91 119h1M98 119h1M109 119h2M72 120h1M85 120h1M88 120h1M98 120h1M110 120h1M72 121h1M98 121h1M110 121h2M98 122h1M110 122h2M71 123h1M99 123h1M111 123h1M71 124h1M100 124h1M110 124h2M117 124h6M110 125h3M116 125h10M70 126h1M103 126h1M110 126h9M122 126h5M104 127h2M109 127h8M69 128h1M105 128h2M109 128h6M106 129h1M110 129h4M68 130h1M106 130h1M106 131h1M106 132h1M106 133h1M64 134h1M106 134h1M63 135h1M106 135h2M62 136h1M106 136h2M61 137h1M106 137h2M51 138h2M59 138h2M106 138h2M46 139h4M52 139h8M97 139h2M106 139h2M36 140h8M55 140h4M99 140h1M105 140h2M28 141h6M104 141h2M22 142h6M103 142h2M21 143h3M20 144h2M19 145h2M106 145h3M19 146h2M106 146h1M110 146h1M18 147h2M51 147h3M105 147h1M112 147h1M18 148h2M49 148h1M53 148h2M78 148h1M99 148h1M104 148h1M114 148h8M18 149h1M48 149h1M54 149h1M73 149h1M80 149h1M103 149h1M121 149h2M17 150h2M73 150h1M122 150h2M17 151h2M47 151h1M73 151h1M81 151h1M101 151h1M123 151h1M17 152h2M47 152h1M55 152h1M72 152h1M123 152h1M17 153h2M47 153h1M55 153h1M71 153h1M82 153h1M17 154h2M47 154h1M70 154h1M83 154h1M17 155h1M54 155h1M69 155h1M84 155h1M123 155h1M17 156h1M48 156h1M68 156h1M85 156h1M123 156h1M17 157h2M49 157h1M52 157h1M85 157h1M17 158h2M67 158h1M86 158h1M122 158h1M17 159h2M67 159h1M87 159h1M17 160h2M67 160h1M88 160h1M121 160h1M18 161h1M89 161h1M93 161h1M96 161h1M120 161h1M18 162h2M90 162h3M97 162h1M18 163h2M90 163h2M117 163h1M19 164h3M25 164h3M89 164h1M93 164h1M114 164h1M19 165h8M28 165h1M66 165h1M20 166h6M29 166h1M66 166h1M88 166h1M106 166h1M21 167h6M28 167h2M66 167h1M105 167h1M22 168h2M65 168h1M104 168h1M23 169h1M65 169h1M23 170h1M63 170h2M24 171h1M61 171h2M103 171h1M25 172h1M58 172h3M55 173h2M52 174h2M50 175h2M101 175h1M13 176h3M25 176h1M49 176h2M14 177h4M24 177h1M49 177h1M16 178h7M49 178h1M49 179h1M49 180h1M49 181h2M49 182h4M61 182h6M50 183h12M66 183h1M50 184h10M66 184h1M45 185h5M39 186h2M47 186h3M65 186h1M36 187h1M49 187h2M65 187h1M34 188h1M50 188h1M19 189h4M32 189h1M50 189h1M51 191h1M64 191h1M51 192h1M57 192h2M64 192h1M52 193h1M55 193h1M61 193h3M53 194h2M44 234h2M42 235h1M41 236h1M47 237h1M38 238h1M47 238h1M36 239h1M34 240h2M32 241h2M25 242h3M42 242h1M40 243h1M38 244h1M37 245h1M37 246h1M36 247h1M36 248h1M36 249h1M35 257h1M35 258h1M34 260h1M33 261h1M32 262h2M31 263h2M29 264h3M27 265h4M27 266h2"/><path stroke="#6fa773" d="M129 71h1M132 71h1M127 72h1M134 72h1M148 72h4M126 73h1M135 73h1M147 73h1M152 73h1M136 74h1M145 74h2M154 74h2M136 75h1M144 75h2M156 75h1M136 76h1M145 76h2M156 76h1M135 77h1M147 77h2M154 77h2M133 78h1M149 78h5M117 100h11M114 101h1M130 101h1M74 102h1M112 102h1M133 102h2M137 103h3M109 104h1M141 104h1M142 105h1M84 106h1M106 106h1M104 107h2M85 108h1M93 108h1M98 108h6M85 111h1M84 112h1M90 112h1M91 114h1M92 117h1M102 117h2M105 117h2M72 118h1M83 118h1M101 118h1M107 118h2M72 119h1M90 119h1M99 119h2M108 119h1M86 120h2M99 120h1M109 120h1M109 121h1M71 122h1M99 122h1M109 122h1M109 123h2M70 124h1M109 124h1M70 125h1M102 125h2M108 125h2M69 126h1M104 126h6M119 126h3M69 127h1M106 127h3M117 127h10M107 128h2M115 128h12M68 129h1M107 129h3M114 129h5M122 129h5M107 130h9M67 131h1M107 131h8M66 132h1M107 132h7M64 133h2M107 133h7M63 134h1M107 134h7M62 135h1M108 135h6M60 136h2M108 136h5M58 137h3M108 137h5M47 138h4M53 138h6M108 138h4M39 139h7M108 139h2M29 140h7M96 140h1M107 140h2M21 141h7M106 141h3M20 142h2M96 142h1M98 142h1M105 142h3M19 143h2M102 143h1M104 143h5M18 144h2M105 144h5M17 145h2M100 145h1M105 145h1M109 145h2M17 146h2M105 146h1M111 146h1M16 147h2M104 147h1M113 147h2M117 147h6M16 148h2M50 148h3M75 148h1M77 148h1M122 148h2M16 149h2M49 149h1M53 149h1M74 149h1M79 149h1M99 149h1M123 149h1M15 150h2M48 150h1M54 150h1M80 150h1M99 150h1M102 150h1M124 150h1M15 151h2M54 151h1M100 151h1M124 151h1M15 152h2M73 152h1M81 152h1M124 152h1M15 153h2M54 153h1M72 153h1M124 153h1M15 154h2M54 154h1M71 154h1M82 154h1M124 154h1M15 155h2M70 155h1M83 155h1M124 155h1M15 156h2M53 156h1M69 156h1M84 156h1M15 157h2M50 157h2M68 157h1M84 157h1M123 157h1M15 158h2M68 158h1M85 158h1M123 158h1M16 159h1M86 159h1M122 159h1M16 160h1M87 160h1M16 161h2M67 161h1M88 161h1M94 161h2M121 161h1M16 162h2M67 162h1M88 162h2M119 162h1M16 163h2M67 163h1M88 163h2M92 163h1M97 163h1M17 164h2M67 164h1M88 164h1M115 164h1M17 165h2M27 165h1M67 165h1M88 165h1M109 165h1M17 166h3M26 166h3M67 166h1M107 166h1M18 167h3M27 167h1M19 168h3M66 168h1M21 169h2M66 169h1M104 169h1M22 170h1M65 170h1M23 171h1M63 171h2M24 172h1M61 172h2M11 173h4M25 173h1M57 173h4M88 173h1M11 174h5M25 174h1M54 174h3M89 174h1M12 175h5M25 175h1M52 175h3M16 176h3M51 176h2M92 176h1M18 177h3M22 177h2M50 177h2M50 178h2M95 178h1M98 178h1M50 179h2M50 180h3M65 180h1M51 181h4M61 181h6M53 182h8M66 185h1M41 186h6M37 187h1M46 187h3M35 188h1M48 188h2M65 188h1M33 189h1M49 189h1M19 190h11M50 190h1M50 191h1M51 193h1M56 193h1M60 193h1M52 194h1M43 234h1M47 236h1M39 237h1M36 238h2M35 239h1M33 240h1M46 240h1M29 241h3M24 242h1M43 242h1M41 243h1M39 244h1M38 245h1M37 247h1M36 250h1M36 251h1M36 252h1M36 253h1M36 254h1M36 255h1M36 256h1M36 257h1M35 259h1M35 260h1M34 261h1M34 262h1M33 263h1M32 264h1M31 265h2M29 266h3M28 267h3M28 268h1"/><path stroke="#6ea96e" d="M128 71h1M149 71h2M147 72h1M152 72h1M145 73h2M153 73h2M137 74h1M143 74h2M156 74h1M137 75h1M143 75h1M157 75h1M137 76h1M144 76h1M157 76h1M126 77h1M136 77h1M145 77h2M156 77h1M127 78h1M134 78h1M147 78h2M154 78h2M130 79h2M150 79h3M115 100h2M128 100h2M76 101h2M113 101h1M131 101h2M111 102h1M135 102h2M110 103h1M140 103h2M72 104h1M108 104h1M142 104h1M107 105h1M143 105h1M105 106h1M103 107h1M92 108h1M86 109h1M90 109h1M72 110h1M86 110h1M89 110h1M89 111h1M90 113h1M83 114h1M91 115h1M72 117h1M104 117h1M91 118h1M102 118h2M105 118h2M84 119h1M101 119h1M107 119h1M100 120h1M107 120h2M71 121h1M99 121h1M108 121h1M70 122h1M108 122h1M70 123h1M100 123h1M107 123h2M69 124h1M101 124h2M106 124h3M69 125h1M104 125h4M68 126h1M68 127h1M68 128h1M67 129h1M119 129h3M67 130h1M116 130h12M66 131h1M115 131h13M65 132h1M114 132h13M63 133h1M114 133h13M62 134h1M114 134h12M60 135h2M114 135h10M54 136h6M113 136h11M48 137h10M113 137h10M43 138h4M112 138h11M32 139h7M110 139h4M117 139h6M20 140h9M109 140h3M118 140h6M18 141h3M96 141h1M109 141h2M119 141h5M18 142h2M97 142h1M108 142h2M119 142h5M17 143h2M103 143h1M109 143h2M119 143h5M16 144h2M101 144h1M104 144h1M110 144h1M119 144h6M15 145h2M111 145h1M118 145h7M15 146h2M100 146h1M112 146h2M117 146h8M15 147h1M115 147h2M123 147h2M14 148h2M76 148h1M103 148h1M124 148h2M14 149h2M50 149h3M75 149h1M124 149h2M14 150h1M53 150h1M74 150h1M125 150h1M13 151h2M74 151h1M80 151h1M125 151h1M13 152h2M54 152h1M74 152h1M80 152h1M125 152h1M13 153h2M73 153h1M81 153h1M125 153h1M13 154h2M72 154h1M81 154h1M125 154h1M13 155h2M48 155h1M53 155h1M71 155h1M82 155h1M13 156h2M49 156h1M52 156h1M70 156h1M83 156h1M124 156h1M14 157h1M69 157h1M83 157h1M124 157h1M14 158h1M84 158h1M124 158h1M14 159h2M68 159h1M85 159h1M123 159h1M14 160h2M68 160h1M85 160h2M122 160h1M14 161h2M68 161h1M86 161h2M14 162h2M68 162h1M87 162h1M93 162h1M120 162h1M14 163h2M68 163h1M87 163h1M93 163h1M118 163h2M14 164h3M68 164h1M87 164h1M94 164h1M96 164h1M116 164h1M14 165h3M68 165h1M87 165h1M110 165h1M14 166h3M68 166h1M87 166h1M14 167h4M67 167h1M87 167h1M106 167h1M13 168h6M67 168h1M87 168h1M105 168h1M12 169h9M67 169h1M87 169h1M10 170h12M66 170h2M87 170h1M9 171h10M21 171h2M65 171h2M87 171h1M10 172h8M23 172h1M63 172h3M87 172h1M103 172h1M10 173h1M15 173h3M24 173h1M61 173h3M16 174h3M57 174h4M102 174h1M17 175h2M55 175h2M19 176h1M24 176h1M53 176h2M21 177h1M52 177h3M52 178h2M52 179h3M64 179h3M53 180h4M60 180h5M66 180h2M55 181h6M67 181h1M67 182h1M67 183h1M67 184h1M66 186h1M38 187h8M47 188h1M48 189h1M65 189h1M30 190h2M49 190h1M65 190h1M20 191h4M50 192h1M57 193h3M64 193h1M55 194h1M46 234h1M41 235h1M40 236h1M38 237h1M35 238h1M33 239h2M47 239h1M31 240h2M24 241h5M45 241h1M40 244h1M39 245h1M38 246h1M37 248h1M37 249h1M36 258h1M36 259h1M35 261h1M35 262h1M34 263h1M33 264h1M33 265h1M32 266h1M31 267h2M29 268h3M28 269h3M28 270h2"/><path stroke="#6dab6a" d="M149 70h2M133 71h1M147 71h2M151 71h1M135 72h1M146 72h1M153 72h1M136 73h1M143 73h2M155 73h1M125 74h1M138 74h1M142 74h1M157 74h1M125 75h1M138 75h2M142 75h1M138 76h2M142 76h2M137 77h1M144 77h1M157 77h1M135 78h1M146 78h1M156 78h1M128 79h2M132 79h1M148 79h2M153 79h2M130 100h1M112 101h1M133 101h2M137 102h3M81 103h1M109 103h1M142 103h1M107 104h1M143 104h1M106 105h1M144 105h1M104 106h1M85 107h1M96 107h7M86 108h1M91 108h1M87 109h3M87 110h2M89 112h1M83 115h1M72 116h1M83 116h1M91 116h1M83 117h1M91 117h1M104 118h1M89 119h1M102 119h2M105 119h2M71 120h1M101 120h1M106 120h1M70 121h1M100 121h1M106 121h2M69 122h1M100 122h1M106 122h2M68 123h2M101 123h1M105 123h2M68 124h1M103 124h3M67 125h2M67 126h1M67 127h1M67 128h1M66 130h1M65 131h1M63 132h2M61 133h2M59 134h3M126 134h2M54 135h6M124 135h4M49 136h5M124 136h5M45 137h3M123 137h6M21 138h5M36 138h7M123 138h6M18 139h14M114 139h3M123 139h6M17 140h3M98 140h1M112 140h6M124 140h5M16 141h2M98 141h1M111 141h3M115 141h4M124 141h4M15 142h3M110 142h2M117 142h2M124 142h4M15 143h2M111 143h1M117 143h2M124 143h4M14 144h2M111 144h2M117 144h2M125 144h3M14 145h1M104 145h1M112 145h2M116 145h2M125 145h3M13 146h2M104 146h1M114 146h3M125 146h3M13 147h2M100 147h1M103 147h1M125 147h3M12 148h2M126 148h2M12 149h2M76 149h3M102 149h1M126 149h2M12 150h2M49 150h1M52 150h1M75 150h1M79 150h1M126 150h2M11 151h2M48 151h1M53 151h1M75 151h1M79 151h1M126 151h1M11 152h2M48 152h1M53 152h1M75 152h1M79 152h1M126 152h1M11 153h2M74 153h2M80 153h1M126 153h1M11 154h2M48 154h1M53 154h1M73 154h2M80 154h1M126 154h1M11 155h2M72 155h1M81 155h1M125 155h1M11 156h2M50 156h2M71 156h1M81 156h2M125 156h1M11 157h3M70 157h1M82 157h1M125 157h1M12 158h2M69 158h1M82 158h2M125 158h1M12 159h2M69 159h1M83 159h2M124 159h1M12 160h2M69 160h1M84 160h1M123 160h2M12 161h2M69 161h1M85 161h1M122 161h2M12 162h2M69 162h1M85 162h2M94 162h1M96 162h1M121 162h2M12 163h2M86 163h1M120 163h1M11 164h3M86 164h1M117 164h1M11 165h3M69 165h1M86 165h1M111 165h3M10 166h4M69 166h1M86 166h1M108 166h1M9 167h5M68 167h2M8 168h5M68 168h2M7 169h5M68 169h2M8 170h2M68 170h2M104 170h1M19 171h2M67 171h3M18 172h5M66 172h4M18 173h2M23 173h1M64 173h5M19 174h1M24 174h1M61 174h7M19 175h2M24 175h1M57 175h5M90 175h1M20 176h4M55 176h4M55 177h3M65 177h3M93 177h1M100 177h1M54 178h5M63 178h6M55 179h9M67 179h2M57 180h3M68 180h1M68 181h1M68 182h1M67 185h1M66 187h1M36 188h1M45 188h2M34 189h1M47 189h1M32 190h1M48 190h1M24 191h3M49 191h1M65 191h1M20 192h3M65 192h1M20 193h1M50 193h1M51 194h1M62 194h2M53 195h2M42 234h1M47 235h1M39 236h1M36 237h2M34 238h1M32 239h1M29 240h2M44 242h1M42 243h1M41 244h1M40 245h1M39 246h1M38 247h1M37 250h1M37 251h1M37 252h1M37 253h1M37 254h1M37 255h1M37 256h1M37 257h1M36 260h1M36 261h1M35 263h1M34 264h1M34 265h1M33 266h2M33 267h1M32 268h2M31 269h2M30 270h2M29 271h3M28 272h2"/><path stroke="#6bad66" d="M130 70h3M148 70h1M151 70h1M134 71h1M146 71h1M152 71h1M126 72h1M144 72h2M154 72h1M137 73h2M142 73h1M156 73h2M139 74h3M158 74h1M140 75h2M158 75h1M125 76h1M140 76h2M158 76h1M138 77h2M142 77h2M158 77h1M126 78h1M136 78h2M144 78h2M157 78h1M133 79h2M147 79h1M155 79h1M149 80h4M117 99h12M114 100h1M131 100h2M135 101h2M110 102h1M140 102h2M108 103h1M143 103h1M106 104h1M144 104h1M105 105h1M103 106h1M93 107h3M89 108h2M72 111h1M86 111h3M85 112h1M84 113h1M90 114h1M72 115h1M84 118h1M90 118h1M71 119h1M85 119h1M88 119h1M104 119h1M102 120h4M101 121h5M68 122h1M101 122h5M67 123h1M102 123h3M67 124h1M66 125h1M66 126h1M66 127h1M66 128h1M66 129h1M65 130h1M63 131h2M61 132h2M58 133h3M54 134h5M50 135h4M46 136h3M18 137h8M40 137h5M17 138h4M26 138h10M16 139h2M129 139h1M15 140h2M97 140h1M129 140h4M14 141h2M114 141h1M128 141h6M13 142h2M112 142h5M128 142h5M13 143h2M112 143h5M128 143h5M12 144h2M102 144h2M113 144h4M128 144h5M12 145h2M101 145h1M114 145h2M128 145h4M11 146h2M103 146h1M128 146h4M11 147h2M128 147h4M10 148h2M100 148h1M102 148h1M128 148h3M10 149h2M128 149h3M10 150h2M50 150h2M76 150h3M101 150h1M128 150h2M9 151h2M76 151h3M127 151h3M9 152h2M76 152h3M127 152h2M9 153h2M48 153h1M53 153h1M76 153h4M127 153h1M9 154h2M75 154h5M127 154h1M9 155h2M49 155h1M52 155h1M73 155h3M78 155h3M126 155h2M9 156h2M72 156h2M79 156h2M126 156h1M9 157h2M71 157h1M79 157h3M126 157h1M9 158h3M70 158h1M80 158h2M126 158h1M9 159h3M70 159h1M81 159h2M125 159h2M9 160h3M70 160h1M82 160h2M125 160h1M9 161h3M82 161h3M124 161h1M8 162h4M83 162h2M95 162h1M123 162h1M8 163h4M69 163h1M84 163h2M94 163h1M96 163h1M121 163h1M9 164h2M69 164h1M84 164h2M95 164h1M118 164h2M9 165h2M70 165h1M85 165h1M114 165h1M9 166h1M70 166h1M85 166h1M70 167h1M85 167h2M107 167h1M70 168h2M86 168h1M70 169h3M86 169h1M105 169h1M70 170h5M86 170h1M70 171h6M86 171h1M70 172h6M20 173h3M69 173h6M87 173h1M20 174h4M68 174h6M88 174h1M21 175h3M62 175h10M59 176h13M101 176h1M58 177h7M68 177h3M59 178h4M69 178h1M94 178h1M99 178h1M69 179h1M69 180h1M69 181h1M68 183h1M37 188h3M41 188h4M66 188h1M35 189h1M46 189h1M33 190h1M47 190h1M27 191h3M48 191h1M23 192h2M49 192h1M21 193h2M65 193h1M20 194h1M56 194h1M61 194h1M64 194h1M52 195h1M44 233h2M40 235h1M38 236h1M35 237h1M33 238h1M31 239h1M24 240h5M47 240h1M46 241h1M39 247h1M38 248h1M38 249h1M37 258h1M37 259h1M37 260h1M36 262h1M36 263h1M35 264h1M35 265h1M35 266h1M34 267h1M34 268h1M33 269h2M32 270h2M32 271h2M30 272h3M28 273h4M28 274h3"/><path stroke="#6aaf62" d="M149 69h2M129 70h1M147 70h1M127 71h1M145 71h1M153 71h1M136 72h2M143 72h1M155 72h2M125 73h1M139 73h3M158 73h1M159 75h1M159 76h1M125 77h1M140 77h2M138 78h3M142 78h2M127 79h1M135 79h2M146 79h1M156 79h1M131 80h2M148 80h1M153 80h2M115 99h2M129 99h2M113 100h1M133 100h1M75 101h1M78 101h1M111 101h1M137 101h3M109 102h1M142 102h1M107 103h1M144 103h1M145 104h1M104 105h1M101 106h2M91 107h2M87 108h2M88 112h1M89 113h1M72 114h1M90 115h1M86 119h2M70 120h1M69 121h1M67 122h1M66 123h1M15 124h1M65 124h2M15 125h2M65 125h1M64 126h2M64 127h2M64 128h2M64 129h2M62 130h3M60 131h3M57 132h4M54 133h4M18 134h1M51 134h3M16 135h6M47 135h3M15 136h11M43 136h3M15 137h3M26 137h14M14 138h3M13 139h3M13 140h2M12 141h2M97 141h1M11 142h2M133 142h2M11 143h2M133 143h3M10 144h2M133 144h4M10 145h2M103 145h1M132 145h4M9 146h2M101 146h2M132 146h4M9 147h2M101 147h2M132 147h3M8 148h2M101 148h1M131 148h4M8 149h2M100 149h2M131 149h3M8 150h2M100 150h1M130 150h4M7 151h2M49 151h1M52 151h1M130 151h3M7 152h2M52 152h1M129 152h3M7 153h2M52 153h1M128 153h3M7 154h2M49 154h1M52 154h1M128 154h2M7 155h2M50 155h2M76 155h2M128 155h2M7 156h2M74 156h5M127 156h2M8 157h1M72 157h2M76 157h3M127 157h2M8 158h1M71 158h1M78 158h2M127 158h2M8 159h1M71 159h1M79 159h2M127 159h1M8 160h1M71 160h1M80 160h2M126 160h2M8 161h1M70 161h1M80 161h2M125 161h2M70 162h1M80 162h3M124 162h2M70 163h1M80 163h4M95 163h1M122 163h2M70 164h2M80 164h4M120 164h2M71 165h1M80 165h5M115 165h2M71 166h2M79 166h6M109 166h1M71 167h3M77 167h8M72 168h14M106 168h1M73 169h13M75 170h11M76 171h10M104 171h1M76 172h6M86 172h1M75 173h5M103 173h1M74 174h4M72 175h4M72 176h2M91 176h1M71 177h2M70 178h2M70 179h1M96 179h2M70 180h1M69 182h1M68 184h1M67 186h1M40 188h1M36 189h1M44 189h2M66 189h1M34 190h1M46 190h1M66 190h1M30 191h3M47 191h1M25 192h2M48 192h1M23 193h2M49 193h1M21 194h2M50 194h1M57 194h4M20 195h2M55 195h1M20 196h2M20 197h1M20 198h1M40 207h1M43 233h1M46 233h1M41 234h1M47 234h1M37 236h1M34 237h1M48 237h1M32 238h1M48 238h1M30 239h1M43 243h1M42 244h1M41 245h1M40 246h1M39 248h1M38 250h1M38 256h1M38 257h1M37 261h1M37 262h1M36 264h1M36 265h1M36 266h1M35 267h1M35 268h1M35 269h1M34 270h2M34 271h2M33 272h3M32 273h4M31 274h5M28 275h7M28 276h4M27 277h2"/><path stroke="#6bb262" d="M148 69h1M151 69h1M128 70h1M133 70h1M146 70h1M152 70h1M135 71h1M144 71h1M154 71h1M138 72h5M157 72h1M159 73h1M159 74h1M159 77h1M141 78h1M158 78h1M137 79h4M143 79h3M157 79h1M129 80h2M133 80h2M147 80h1M155 80h1M149 81h4M114 99h1M131 99h1M112 100h1M134 100h3M110 101h1M140 101h1M80 102h1M108 102h1M143 102h1M106 103h1M145 103h1M105 104h1M84 105h1M103 105h1M71 106h1M85 106h1M99 106h2M71 107h1M86 107h1M90 107h1M33 109h2M32 110h3M33 111h2M72 112h1M86 112h2M72 113h1M84 114h1M90 116h1M84 117h1M90 117h1M71 118h1M85 118h1M89 118h1M15 121h1M68 121h1M14 122h4M13 123h6M65 123h1M13 124h2M16 124h3M64 124h1M13 125h2M17 125h2M62 125h3M13 126h7M62 126h2M13 127h7M62 127h2M13 128h7M61 128h3M14 129h6M60 129h4M14 130h6M59 130h3M14 131h6M57 131h3M14 132h7M54 132h3M14 133h8M51 133h3M13 134h5M19 134h5M48 134h3M13 135h3M22 135h4M45 135h2M13 136h2M26 136h6M35 136h8M12 137h3M12 138h2M11 139h2M11 140h2M10 141h2M9 142h2M9 143h2M8 144h2M8 145h2M102 145h1M136 145h2M7 146h2M136 146h3M7 147h2M135 147h3M6 148h2M135 148h3M6 149h2M134 149h3M6 150h2M134 150h2M50 151h2M133 151h3M49 152h1M132 152h3M49 153h1M131 153h3M50 154h2M130 154h3M130 155h2M129 156h3M74 157h2M129 157h2M72 158h6M129 158h1M72 159h2M77 159h2M128 159h1M72 160h1M78 160h2M128 160h1M71 161h2M78 161h2M127 161h2M71 162h2M78 162h2M126 162h2M71 163h2M78 163h2M124 163h3M72 164h1M77 164h3M122 164h3M72 165h3M76 165h4M117 165h4M73 166h6M74 167h3M82 172h4M80 173h3M86 173h1M78 174h3M87 174h1M76 175h3M89 175h1M102 175h1M74 176h3M73 177h2M72 178h1M71 179h1M95 179h1M98 179h1M71 180h1M70 181h1M69 183h1M68 185h1M67 187h1M37 189h3M41 189h3M35 190h1M45 190h1M33 191h1M66 191h1M27 192h1M25 193h1M23 194h2M65 194h1M22 195h2M51 195h1M63 195h1M22 196h1M21 197h2M21 198h2M21 199h2M21 200h3M21 201h3M21 202h2M20 203h1M40 206h2M39 207h1M41 207h1M42 233h1M39 235h1M35 236h2M48 236h1M33 237h1M31 238h1M24 239h6M48 239h1M45 242h1M40 247h1M39 249h1M38 251h1M38 252h1M38 253h1M38 254h1M38 255h1M38 258h1M38 259h1M38 260h1M38 261h1M37 263h1M37 264h1M37 265h1M37 266h1M36 267h2M36 268h2M36 269h2M36 270h2M36 271h2M36 272h2M36 273h3M36 274h3M35 275h4M32 276h7M29 277h9M27 278h10M27 279h3M26 280h3M26 281h2M25 282h2"/><path stroke="#6cb463" d="M149 68h2M130 69h3M147 69h1M134 70h1M145 70h1M153 70h1M136 71h1M142 71h2M155 71h2M125 72h1M158 72h1M160 74h1M160 75h1M160 76h1M125 78h1M159 78h1M126 79h1M141 79h2M158 79h1M128 80h1M135 80h6M145 80h2M156 80h1M148 81h1M153 81h2M119 98h11M132 99h2M111 100h1M137 100h2M109 101h1M141 101h2M73 102h1M107 102h1M144 102h1M72 103h1M83 104h1M104 104h1M102 105h1M94 106h5M87 107h3M33 108h2M71 108h1M32 109h1M35 109h1M35 110h1M32 111h1M35 111h1M33 112h2M85 113h1M88 113h1M89 114h1M84 115h1M84 116h1M70 119h1M15 120h1M69 120h1M13 121h2M16 121h3M67 121h1M13 122h1M18 122h2M66 122h1M12 123h1M19 123h2M63 123h2M12 124h1M19 124h2M61 124h3M12 125h1M19 125h2M60 125h2M12 126h1M20 126h1M60 126h2M12 127h1M20 127h1M59 127h3M12 128h1M20 128h1M58 128h3M12 129h2M20 129h2M57 129h3M12 130h2M20 130h2M56 130h3M12 131h2M20 131h2M54 131h3M12 132h2M21 132h2M52 132h2M11 133h3M22 133h3M49 133h2M11 134h2M24 134h3M46 134h2M11 135h2M26 135h5M40 135h5M10 136h3M32 136h3M10 137h2M9 138h3M9 139h2M8 140h3M8 141h2M7 142h2M7 143h2M6 144h2M6 145h2M5 146h2M5 147h2M138 147h1M4 148h2M138 148h1M5 149h1M137 149h2M136 150h3M136 151h2M50 152h2M135 152h2M50 153h2M134 153h3M133 154h3M132 155h3M132 156h1M131 157h1M74 159h3M73 160h5M73 161h5M73 162h5M128 162h1M73 163h5M127 163h2M73 164h4M125 164h2M75 165h1M121 165h4M110 166h1M108 167h1M107 168h1M106 169h1M105 170h1M83 173h3M81 174h1M79 175h2M77 176h2M75 177h2M92 177h1M73 178h2M93 178h1M72 179h2M72 180h1M71 181h1M70 182h1M69 184h1M68 186h1M67 188h1M40 189h1M36 190h1M44 190h1M34 191h1M46 191h1M28 192h4M47 192h1M66 192h1M26 193h1M48 193h1M66 193h1M25 194h1M49 194h1M24 195h1M50 195h1M56 195h1M61 195h2M64 195h1M23 196h2M52 196h2M23 197h2M23 198h3M23 199h3M24 200h4M24 201h4M23 202h5M21 203h5M20 204h4M39 206h1M40 208h1M44 232h3M47 233h1M40 234h1M37 235h2M48 235h1M34 236h1M32 237h1M24 238h2M30 238h1M47 241h1M44 243h1M42 245h1M41 246h1M40 248h1M39 250h1M39 257h1M38 262h1M38 263h1M38 264h1M38 265h1M38 266h1M38 267h1M38 268h1M38 269h1M38 270h2M38 271h2M38 272h3M54 272h2M39 273h3M53 273h4M39 274h3M53 274h3M39 275h4M53 275h2M39 276h4M38 277h5M37 278h5M30 279h12M29 280h12M28 281h13M27 282h13M26 283h14M27 284h12M28 285h1M30 285h9M32 286h6M33 287h5M34 288h3M35 289h2"/><path stroke="#6db764" d="M147 68h2M151 68h1M129 69h1M133 69h1M146 69h1M152 69h1M144 70h1M126 71h1M137 71h5M157 71h2M159 72h2M160 73h1M124 74h1M161 74h1M124 75h1M161 75h1M160 77h1M127 80h1M141 80h4M157 80h1M131 81h10M147 81h1M155 81h1M149 82h4M116 98h3M130 98h1M113 99h1M134 99h2M110 100h1M139 100h2M108 101h1M143 101h2M106 102h1M145 102h1M105 103h1M146 103h1M103 104h1M71 105h1M101 105h1M91 106h3M32 108h1M35 108h1M31 109h1M31 110h1M31 111h1M31 112h2M35 112h1M33 113h2M86 113h2M71 117h1M86 118h1M88 118h1M13 120h2M16 120h3M68 120h1M12 121h1M19 121h2M66 121h1M12 122h1M20 122h2M64 122h2M21 123h1M60 123h3M11 124h1M21 124h1M59 124h2M11 125h1M21 125h2M58 125h2M11 126h1M21 126h2M58 126h2M11 127h1M21 127h2M57 127h2M10 128h2M21 128h2M57 128h1M10 129h2M22 129h1M55 129h2M10 130h2M22 130h2M54 130h2M10 131h2M22 131h2M52 131h2M10 132h2M23 132h2M49 132h3M9 133h2M25 133h2M47 133h2M9 134h2M27 134h3M43 134h3M9 135h2M31 135h9M8 136h2M8 137h2M7 138h2M7 139h2M6 140h2M6 141h2M5 142h2M5 143h2M4 144h2M4 145h2M3 146h2M3 147h2M138 151h1M137 152h1M129 163h1M127 164h2M125 165h2M111 166h2M119 166h6M104 172h1M82 174h5M81 175h1M88 175h1M79 176h1M90 176h1M77 177h2M101 177h1M75 178h2M100 178h1M74 179h1M94 179h1M73 180h1M72 181h1M71 182h1M70 183h1M69 185h1M67 189h1M37 190h3M41 190h3M35 191h2M45 191h1M32 192h2M46 192h1M27 193h1M26 194h1M25 195h2M60 195h1M65 195h1M25 196h2M54 196h1M25 197h2M26 198h4M26 199h6M28 200h3M28 201h2M28 202h2M26 203h3M24 204h3M21 205h3M21 206h1M38 206h1M38 207h1M39 208h1M41 208h1M83 208h2M83 209h2M43 232h1M41 233h1M39 234h1M35 235h2M32 236h2M23 237h2M31 237h1M26 238h4M48 240h1M46 242h1M43 244h1M41 247h1M40 249h1M39 251h1M39 252h1M39 253h1M39 254h1M39 255h1M39 256h1M39 258h1M39 259h1M39 260h1M39 261h1M39 262h1M39 263h1M39 264h1M39 265h1M39 266h1M39 267h1M39 268h1M39 269h2M40 270h2M40 271h3M41 272h3M53 272h1M56 272h1M42 273h3M51 273h2M42 274h4M50 274h3M56 274h1M43 275h4M49 275h4M55 275h2M43 276h13M43 277h11M42 278h9M42 279h6M41 280h5M41 281h4M40 282h4M40 283h4M39 284h5M39 285h5M38 286h6M38 287h5M37 288h3M37 289h2M48 289h4M47 290h7M48 291h7M49 292h8M51 293h6M52 294h6"/><path stroke="#6eba64" d="M70 43h1M148 67h4M146 68h1M152 68h1M145 69h1M153 69h1M127 70h1M135 70h1M140 70h4M154 70h5M159 71h2M161 72h1M124 73h1M161 73h1M124 76h1M161 76h1M161 77h1M160 78h1M125 79h1M159 79h1M126 80h1M158 80h1M129 81h2M141 81h2M146 81h1M156 81h1M133 82h8M148 82h1M153 82h2M136 83h2M115 98h1M131 98h2M112 99h1M136 99h3M109 100h1M141 100h3M74 101h1M107 101h1M145 101h1M105 102h1M146 102h1M104 103h1M102 104h1M99 105h2M86 106h1M89 106h2M32 107h3M31 108h1M36 109h1M71 109h1M30 110h1M36 110h1M30 111h1M36 111h1M31 113h2M35 113h1M33 114h2M85 114h1M88 114h1M89 115h1M71 116h1M89 116h1M85 117h1M89 117h1M87 118h1M14 119h5M19 120h2M21 121h1M11 122h1M22 122h1M60 122h4M11 123h1M22 123h1M59 123h1M10 124h1M22 124h2M58 124h1M10 125h1M23 125h1M57 125h1M10 126h1M23 126h1M57 126h1M10 127h1M23 127h1M56 127h1M9 128h1M23 128h1M55 128h2M9 129h1M23 129h2M54 129h1M9 130h1M24 130h1M52 130h2M8 131h2M24 131h2M50 131h2M8 132h2M25 132h3M47 132h2M8 133h1M27 133h3M44 133h3M7 134h2M30 134h13M7 135h2M6 136h2M6 137h2M6 138h1M5 139h2M4 140h2M4 141h2M4 142h1M4 143h1M3 145h1M129 164h1M127 165h2M113 166h6M125 166h3M121 167h4M105 171h1M103 174h1M82 175h2M87 175h1M80 176h2M102 176h1M79 177h1M77 178h2M75 179h1M99 179h1M74 180h1M96 180h2M71 183h1M70 184h1M68 187h1M40 190h1M67 190h1M37 191h1M44 191h1M34 192h2M28 193h6M47 193h1M27 194h1M48 194h1M66 194h1M27 195h1M49 195h1M57 195h3M27 196h2M51 196h1M55 196h1M27 197h6M30 198h3M32 199h1M31 200h2M30 201h2M30 202h1M29 203h1M27 204h1M24 205h2M39 205h2M22 206h2M21 207h2M83 207h2M82 208h1M85 208h1M82 209h1M85 209h1M83 210h3M45 231h2M47 232h1M38 234h1M48 234h1M33 235h2M23 236h1M31 236h1M25 237h3M29 237h2M42 246h1M41 248h1M40 250h1M40 257h1M40 258h1M40 259h1M40 260h1M40 265h1M40 266h1M40 267h2M40 268h2M41 269h2M42 270h3M43 271h3M53 271h3M44 272h3M51 272h2M57 272h1M45 273h6M57 273h1M46 274h4M57 274h1M47 275h2M57 275h1M56 276h1M54 277h3M51 278h5M48 279h8M46 280h10M45 281h11M44 282h12M44 283h12M44 284h12M44 285h13M44 286h13M44 287h14M45 288h13M46 289h2M52 289h7M54 290h6M55 291h6M57 292h5M57 293h5M58 294h3"/><path stroke="#6fbd64" d="M71 43h3M69 44h4M68 45h3M149 66h2M146 67h2M152 67h1M130 68h3M145 68h1M153 68h1M128 69h1M134 69h1M142 69h3M154 69h4M136 70h4M159 70h2M161 71h1M162 72h1M162 73h1M162 74h1M162 75h1M162 76h1M124 77h1M162 77h1M161 78h1M160 79h1M159 80h1M127 81h2M143 81h3M157 81h1M131 82h2M141 82h1M147 82h1M155 82h2M134 83h2M138 83h3M149 83h5M136 84h3M122 97h8M113 98h2M133 98h1M111 99h1M139 99h3M108 100h1M144 100h2M79 101h1M106 101h1M146 101h1M147 102h1M82 103h1M103 103h1M148 103h1M101 104h1M149 104h1M85 105h1M96 105h3M87 106h2M31 107h1M30 109h1M30 112h1M36 112h1M30 113h1M36 113h1M31 114h2M35 114h1M33 115h2M85 115h1M85 116h1M14 118h5M70 118h1M13 119h1M19 119h3M69 119h1M12 120h1M21 120h2M67 120h1M11 121h1M22 121h2M60 121h1M65 121h1M23 122h1M58 122h2M10 123h1M23 123h2M58 123h1M24 124h1M57 124h1M9 125h1M24 125h1M56 125h1M9 126h1M24 126h1M56 126h1M8 127h2M24 127h2M55 127h1M8 128h1M24 128h2M54 128h1M8 129h1M25 129h1M52 129h2M7 130h2M25 130h2M50 130h2M7 131h1M26 131h3M48 131h2M7 132h1M28 132h3M45 132h2M6 133h2M30 133h14M6 134h1M5 135h2M5 136h1M4 137h2M4 138h2M3 139h2M129 165h2M128 166h1M109 167h1M119 167h2M125 167h3M108 168h1M122 168h3M107 169h1M106 170h1M84 175h3M82 176h1M89 176h1M80 177h1M79 178h1M76 179h2M75 180h1M95 180h1M73 181h1M72 182h1M69 186h1M38 191h6M67 191h1M36 192h1M45 192h1M67 192h1M34 193h2M46 193h1M28 194h7M28 195h6M66 195h1M29 196h5M50 196h1M63 196h1M33 197h2M33 198h2M33 199h2M33 200h1M32 201h1M31 202h1M30 203h1M28 204h1M26 205h1M38 205h1M24 206h2M37 206h1M23 207h1M37 207h1M42 207h1M85 207h1M21 208h2M38 208h1M86 208h1M40 209h1M86 209h1M82 210h1M86 210h1M83 211h3M44 231h1M42 232h1M40 233h1M48 233h1M22 234h1M36 234h2M22 235h3M32 235h1M24 236h3M29 236h2M49 236h1M28 237h1M49 237h1M49 238h1M49 239h1M45 243h1M44 244h1M43 245h1M42 247h1M41 249h1M40 251h1M40 252h1M40 253h1M40 254h1M40 255h1M40 256h1M40 261h1M40 262h1M40 263h1M40 264h1M41 265h1M41 266h1M42 267h1M42 268h2M43 269h3M45 270h2M46 271h3M50 271h3M56 271h1M47 272h4M58 274h1M57 276h1M57 277h1M56 278h2M56 279h2M56 280h2M56 281h2M56 282h2M56 283h3M56 284h3M57 285h3M57 286h4M58 287h4M58 288h4M59 289h4M60 290h4M61 291h3M62 292h1"/><path stroke="#70c065" d="M73 44h2M71 45h3M67 46h5M67 47h2M147 66h2M151 66h2M145 67h1M153 67h2M129 68h1M133 68h2M143 68h2M154 68h6M135 69h7M158 69h3M161 70h1M125 71h1M162 71h1M124 72h1M163 72h1M163 73h1M163 74h1M163 75h1M163 76h1M124 78h1M162 78h1M161 79h1M125 80h1M158 81h1M130 82h1M142 82h2M146 82h1M157 82h1M132 83h2M141 83h1M148 83h1M154 83h2M134 84h2M139 84h2M150 84h3M136 85h2M117 97h5M130 97h2M112 98h1M134 98h6M110 99h1M142 99h3M107 100h1M146 100h2M105 101h1M147 101h2M104 102h1M148 102h1M149 103h1M71 104h1M100 104h1M91 105h5M150 105h1M32 106h2M35 107h1M30 108h1M36 108h1M29 109h1M29 110h1M37 110h1M29 111h1M37 111h1M29 112h1M37 112h1M29 113h1M30 114h1M36 114h1M86 114h2M31 115h2M35 115h1M71 115h1M88 115h1M33 116h2M14 117h6M86 117h1M88 117h1M13 118h1M19 118h3M12 119h1M22 119h2M23 120h2M66 120h1M24 121h1M59 121h1M61 121h4M10 122h1M24 122h2M9 123h1M25 123h1M57 123h1M9 124h1M25 124h1M56 124h1M8 125h1M25 125h2M55 125h1M8 126h1M25 126h2M54 126h2M7 127h1M26 127h1M53 127h2M7 128h1M26 128h2M52 128h2M6 129h2M26 129h2M50 129h2M6 130h1M27 130h3M48 130h2M6 131h1M29 131h2M45 131h3M5 132h2M31 132h4M40 132h5M5 133h1M4 134h2M3 135h2M3 136h2M3 137h1M3 138h1M129 166h2M118 167h1M128 167h1M120 168h2M125 168h3M104 173h1M83 176h1M88 176h1M81 177h2M91 177h1M80 178h1M92 178h1M78 179h2M93 179h1M76 180h2M98 180h1M74 181h2M73 182h1M72 183h1M71 184h1M70 185h1M68 188h1M37 192h2M43 192h2M36 193h1M67 193h1M35 194h1M47 194h1M67 194h1M34 195h2M48 195h1M34 196h2M61 196h2M64 196h2M35 197h1M52 197h2M35 198h1M35 199h1M34 200h1M33 201h2M32 202h2M31 203h1M29 204h1M27 205h1M37 205h1M41 205h1M26 206h1M42 206h1M83 206h3M24 207h1M82 207h1M86 207h1M23 208h1M81 208h1M22 209h1M39 209h1M81 209h1M81 210h1M82 211h1M86 211h1M83 212h3M45 230h2M43 231h1M47 231h1M41 232h1M21 233h3M39 233h1M23 234h2M33 234h3M25 235h2M29 235h3M27 236h2M48 241h1M47 242h1M43 246h1M42 248h1M41 250h1M41 251h1M41 256h1M41 257h1M41 258h1M41 259h1M41 260h1M41 261h1M41 262h1M41 263h1M41 264h1M42 265h1M42 266h2M43 267h2M44 268h2M46 269h1M47 270h2M51 270h5M49 271h1M57 271h1M58 272h1M58 273h1M58 275h1M58 276h1M58 277h1M58 278h1M58 279h1M58 280h2M58 281h2M58 282h3M59 283h3M59 284h3M60 285h3M61 286h3M62 287h3M62 288h4M63 289h2M64 290h1"/><path stroke="#71c266" d="M74 45h2M72 46h3M69 47h4M67 48h4M147 65h8M156 65h3M145 66h2M153 66h8M131 67h3M143 67h2M155 67h7M135 68h1M139 68h4M160 68h2M127 69h1M161 69h2M126 70h1M162 70h2M163 71h2M164 72h2M164 73h2M164 74h2M164 75h2M164 76h1M163 77h2M163 78h1M124 79h1M162 79h1M160 80h1M126 81h1M159 81h1M127 82h3M144 82h2M158 82h1M131 83h1M142 83h1M147 83h1M156 83h2M133 84h1M141 84h1M149 84h1M153 84h3M135 85h1M138 85h3M151 85h2M115 97h2M132 97h1M111 98h1M140 98h4M109 99h1M145 99h3M76 100h1M106 100h1M148 100h1M149 101h1M103 102h1M149 102h2M102 103h1M150 103h1M84 104h1M99 104h1M150 104h1M86 105h1M89 105h2M151 105h1M31 106h1M34 106h1M151 106h1M30 107h1M152 107h1M29 108h1M28 109h1M37 109h1M28 110h1M71 110h1M28 111h1M28 112h1M28 113h1M37 113h1M29 114h1M71 114h1M30 115h1M36 115h1M86 115h2M14 116h7M31 116h2M35 116h1M86 116h1M88 116h1M13 117h1M20 117h3M32 117h4M87 117h1M22 118h2M24 119h1M68 119h1M11 120h1M25 120h1M10 121h1M25 121h2M58 121h1M9 122h1M26 122h1M57 122h1M26 123h2M56 123h1M8 124h1M26 124h2M55 124h1M7 125h1M27 125h1M54 125h1M7 126h1M27 126h2M53 126h1M6 127h1M27 127h2M52 127h1M6 128h1M28 128h2M51 128h1M5 129h1M28 129h3M49 129h1M5 130h1M30 130h2M46 130h2M4 131h2M31 131h4M41 131h4M3 132h2M35 132h5M3 133h2M3 134h1M131 166h1M110 167h1M117 167h1M129 167h2M119 168h1M128 168h1M121 169h6M107 170h1M106 171h1M105 172h1M103 175h1M84 176h4M83 177h1M81 178h1M101 178h1M80 179h1M100 179h1M78 180h1M94 180h1M76 181h1M74 182h1M73 183h1M69 187h1M68 189h1M39 192h4M37 193h1M45 193h1M36 194h1M46 194h1M36 195h1M67 195h1M36 196h1M49 196h1M56 196h1M60 196h1M66 196h1M36 197h1M51 197h1M54 197h1M36 198h1M36 199h1M35 200h1M35 201h1M34 202h1M32 203h1M30 204h2M37 204h3M28 205h1M36 205h1M36 206h1M86 206h1M25 207h1M24 208h1M37 208h1M42 208h1M87 208h1M23 209h1M38 209h1M41 209h1M87 209h1M22 210h2M87 210h1M22 211h1M81 211h1M87 211h1M82 212h1M86 212h2M83 213h3M44 230h1M47 230h1M23 231h1M22 232h3M48 232h1M24 233h2M36 233h3M25 234h8M27 235h2M49 235h1M49 240h1M46 243h1M43 247h1M42 249h1M41 252h1M41 253h1M41 254h1M41 255h1M42 259h1M42 260h1M42 261h1M42 262h1M42 263h1M42 264h2M43 265h2M44 266h2M45 267h2M46 268h2M47 269h3M49 270h2M56 270h1M58 271h1M59 273h1M59 274h1M59 275h1M59 276h1M59 277h1M59 278h2M59 279h2M60 280h2M60 281h3M61 282h3M62 283h3M62 284h4M63 285h4M64 286h3M65 287h2"/><path stroke="#72c566" d="M75 46h3M73 47h3M71 48h3M66 49h6M157 62h3M155 63h7M147 64h15M145 65h2M155 65h1M159 65h4M132 66h2M142 66h3M161 66h3M130 67h1M134 67h2M139 67h4M162 67h3M128 68h1M136 68h3M162 68h3M163 69h3M164 70h3M165 71h3M166 72h2M166 73h2M123 74h1M166 74h1M123 75h1M166 75h1M123 76h1M165 76h1M165 77h1M164 78h1M163 79h1M161 80h2M125 81h1M160 81h1M126 82h1M159 82h1M127 83h4M143 83h4M158 83h1M132 84h1M142 84h1M148 84h1M156 84h2M134 85h1M141 85h1M150 85h1M153 85h3M135 86h5M152 86h1M123 96h7M113 97h2M133 97h11M110 98h1M144 98h5M108 99h1M148 99h2M77 100h1M105 100h1M149 100h2M104 101h1M150 101h1M151 102h1M101 103h1M151 103h1M97 104h2M151 104h1M32 105h2M87 105h2M152 105h1M30 106h1M35 106h1M152 106h2M29 107h1M36 107h1M153 107h1M28 108h1M37 108h1M27 109h1M27 110h1M27 111h1M38 111h1M26 112h2M38 112h1M26 113h2M71 113h1M15 114h5M26 114h3M37 114h1M14 115h10M27 115h3M37 115h1M13 116h1M21 116h4M29 116h2M36 116h1M87 116h1M23 117h3M30 117h2M36 117h1M70 117h1M12 118h1M24 118h3M31 118h5M69 118h1M11 119h1M25 119h2M31 119h5M67 119h1M10 120h1M26 120h2M32 120h3M59 120h3M64 120h2M9 121h1M27 121h2M57 121h1M27 122h3M56 122h1M8 123h1M28 123h2M55 123h1M7 124h1M28 124h3M54 124h1M6 125h1M28 125h3M53 125h1M6 126h1M29 126h2M52 126h1M5 127h1M29 127h2M51 127h1M4 128h2M30 128h2M49 128h2M4 129h1M31 129h2M46 129h3M4 130h1M32 130h4M41 130h5M35 131h6M115 167h2M131 167h1M109 168h1M118 168h1M129 168h1M108 169h1M120 169h1M127 169h1M123 170h3M84 177h1M90 177h1M102 177h1M82 178h1M81 179h1M79 180h2M99 180h1M77 181h2M96 181h1M75 182h1M72 184h1M71 185h1M70 186h1M68 190h1M68 191h1M38 193h2M43 193h2M37 194h1M37 195h1M47 195h1M37 196h1M57 196h3M37 197h1M37 198h1M36 200h1M36 201h1M35 202h2M33 203h5M32 204h1M36 204h1M29 205h2M27 206h1M26 207h1M36 207h1M81 207h1M87 207h1M25 208h1M80 208h1M24 209h1M37 209h1M80 209h1M88 209h1M24 210h1M80 210h1M88 210h1M23 211h1M80 211h1M88 211h1M23 212h1M81 212h1M88 212h1M82 213h1M86 213h2M84 214h2M22 217h1M22 218h1M21 219h2M21 220h2M21 221h2M20 222h3M20 223h3M21 224h2M21 225h2M22 226h1M22 227h2M22 228h2M23 229h2M45 229h3M23 230h2M24 231h2M42 231h1M48 231h1M25 232h3M40 232h1M26 233h10M49 234h1M48 242h1M45 244h1M44 245h1M43 248h1M42 250h1M42 251h1M42 252h1M42 253h1M42 254h1M42 255h1M42 256h1M42 257h1M42 258h1M43 261h1M43 262h1M43 263h1M44 264h1M45 265h1M46 266h2M47 267h2M48 268h2M50 269h6M57 270h1M59 272h1M60 273h1M60 274h1M60 275h1M60 276h1M60 277h2M61 278h1M61 279h2M62 280h3M63 281h3M64 282h3M65 283h3M66 284h2"/><path stroke="#73c866" d="M78 46h1M76 47h2M74 48h2M72 49h3M66 50h6M156 61h6M153 62h4M160 62h3M147 63h8M162 63h2M144 64h3M162 64h3M141 65h4M163 65h3M130 66h2M134 66h8M164 66h3M129 67h1M136 67h3M165 67h3M165 68h4M166 69h3M167 70h2M124 71h1M168 71h2M168 72h2M123 73h1M168 73h1M167 74h2M167 75h2M166 76h2M123 77h1M166 77h1M123 78h1M165 78h2M164 79h2M124 80h1M163 80h2M161 81h2M160 82h1M126 83h1M159 83h1M127 84h5M143 84h1M147 84h1M158 84h1M133 85h1M142 85h1M149 85h1M156 85h2M134 86h1M140 86h1M150 86h2M153 86h3M136 87h3M152 87h2M119 96h4M130 96h3M139 96h5M112 97h1M144 97h8M109 98h1M149 98h4M106 99h2M150 99h3M75 100h1M104 100h1M151 100h2M73 101h1M103 101h1M151 101h2M72 102h1M81 102h1M102 102h1M152 102h1M100 103h1M152 103h1M92 104h5M152 104h2M30 105h2M34 105h1M153 105h1M29 106h1M154 106h1M28 107h1M154 107h2M27 108h1M156 108h1M26 109h1M157 109h1M25 110h2M38 110h1M158 110h1M24 111h3M71 111h1M15 112h11M71 112h1M13 113h13M38 113h1M13 114h2M20 114h6M38 114h1M13 115h1M24 115h3M12 116h1M25 116h4M37 116h1M12 117h1M26 117h4M37 117h1M11 118h1M27 118h4M36 118h2M27 119h4M36 119h1M28 120h4M35 120h2M57 120h2M62 120h2M29 121h8M56 121h1M8 122h1M30 122h6M55 122h1M7 123h1M30 123h5M54 123h1M6 124h1M31 124h3M53 124h1M5 125h1M31 125h3M52 125h1M5 126h1M31 126h3M51 126h1M4 127h1M31 127h3M49 127h2M32 128h3M46 128h3M33 129h13M36 130h5M111 167h4M132 167h1M130 168h2M119 169h1M128 169h2M120 170h3M126 170h2M104 174h1M85 177h5M83 178h1M91 178h1M82 179h1M92 179h1M81 180h1M93 180h1M79 181h1M95 181h1M97 181h1M76 182h2M74 183h2M73 184h1M72 185h1M69 188h1M68 192h1M40 193h3M68 193h1M38 194h2M45 194h1M68 194h1M38 195h1M48 196h1M67 196h1M50 197h1M55 197h1M63 197h4M53 198h1M37 199h1M37 200h1M37 201h1M37 202h1M38 203h1M33 204h3M40 204h1M31 205h5M84 205h2M28 206h1M35 206h1M82 206h1M87 206h1M27 207h1M35 207h1M88 207h1M26 208h1M36 208h1M88 208h1M25 209h1M42 209h1M79 209h1M25 210h1M38 210h3M79 210h1M24 211h1M79 211h1M24 212h1M80 212h1M89 212h1M23 213h2M81 213h1M88 213h2M23 214h2M82 214h2M86 214h3M23 215h1M23 216h1M23 217h2M23 218h2M23 219h2M23 220h2M23 221h2M23 222h2M23 223h2M23 224h2M23 225h3M23 226h3M24 227h2M24 228h3M25 229h2M44 229h1M25 230h3M43 230h1M48 230h1M26 231h4M41 231h1M28 232h12M49 233h1M50 237h1M50 238h1M50 239h1M49 241h1M47 243h1M44 246h1M43 249h1M43 250h1M43 257h1M43 258h1M43 259h1M43 260h1M44 261h1M44 262h1M44 263h2M45 264h2M46 265h2M48 266h2M49 267h2M50 268h5M56 269h1M58 270h1M59 271h1M60 272h1M61 273h1M61 274h1M61 275h1M61 276h2M62 277h2M62 278h3M63 279h4M65 280h4M66 281h2M67 282h1"/><path stroke="#74ca67" d="M78 47h3M76 48h3M75 49h2M72 50h3M65 51h7M159 59h2M156 60h7M153 61h3M162 61h3M147 62h6M163 62h3M143 63h4M164 63h3M140 64h4M165 64h3M131 65h10M166 65h3M167 66h2M128 67h1M168 67h2M127 68h1M169 68h1M126 69h1M169 69h1M125 70h1M169 70h2M170 71h1M123 72h1M170 72h1M169 73h2M8 74h4M169 74h1M12 75h2M169 75h1M168 76h1M167 77h2M167 78h1M123 79h1M166 79h2M165 80h2M124 81h1M163 81h4M125 82h1M161 82h5M160 83h4M126 84h1M144 84h3M159 84h4M127 85h6M143 85h1M147 85h2M158 85h4M163 85h4M133 86h1M141 86h1M149 86h1M156 86h12M135 87h1M139 87h2M150 87h2M154 87h5M161 87h8M152 88h4M161 88h9M161 89h9M161 90h9M161 91h9M161 92h9M161 93h8M159 94h10M126 95h2M139 95h6M149 95h18M116 96h3M133 96h6M144 96h22M111 97h1M152 97h12M108 98h1M153 98h9M105 99h1M153 99h8M78 100h1M153 100h6M102 101h1M153 101h4M101 102h1M153 102h3M71 103h1M83 103h1M98 103h2M153 103h2M31 104h3M85 104h1M90 104h2M154 104h2M29 105h1M35 105h1M154 105h3M28 106h1M36 106h1M70 106h1M155 106h3M26 107h2M37 107h1M70 107h1M156 107h3M25 108h2M157 108h4M24 109h2M38 109h1M158 109h4M14 110h11M159 110h3M12 111h12M39 111h1M161 111h2M11 112h4M39 112h1M11 113h2M11 114h2M11 115h2M38 115h1M11 116h1M38 116h1M70 116h1M11 117h1M38 117h1M38 118h1M68 118h1M10 119h1M37 119h1M66 119h1M9 120h1M37 120h1M56 120h1M8 121h1M37 121h1M55 121h1M7 122h1M36 122h2M54 122h1M6 123h1M35 123h3M53 123h1M5 124h1M34 124h3M52 124h1M34 125h3M51 125h1M34 126h3M49 126h2M34 127h4M46 127h3M35 128h11M117 168h1M132 168h1M118 169h1M130 169h1M108 170h1M119 170h1M128 170h1M107 171h1M106 172h1M105 173h1M103 176h1M84 178h2M83 179h1M82 180h1M80 181h2M94 181h1M98 181h1M78 182h2M76 183h1M74 184h1M71 186h1M70 187h1M40 194h1M43 194h2M39 195h1M46 195h1M68 195h1M38 196h1M68 196h1M38 197h1M49 197h1M61 197h2M67 197h1M38 198h1M51 198h2M54 198h1M66 198h2M38 199h1M38 202h1M39 203h1M86 205h2M29 206h3M33 206h2M28 207h1M43 207h1M80 207h1M27 208h1M35 208h1M79 208h1M26 209h1M36 209h1M78 209h1M89 209h1M26 210h1M37 210h1M41 210h1M78 210h1M89 210h1M25 211h1M89 211h1M25 212h1M79 212h1M25 213h1M80 213h1M90 213h1M25 214h1M80 214h2M89 214h2M24 215h2M82 215h9M24 216h2M25 217h1M25 218h2M25 219h2M25 220h3M25 221h3M25 222h3M25 223h3M25 224h3M26 225h3M26 226h3M26 227h3M27 228h3M45 228h3M27 229h3M48 229h1M28 230h3M42 230h1M30 231h4M40 231h1M49 231h1M49 232h1M50 236h1M50 240h1M46 244h1M45 245h1M44 247h1M44 248h1M43 251h1M43 252h1M43 253h1M43 254h1M43 255h1M43 256h1M44 258h1M44 259h1M44 260h1M45 261h1M45 262h1M46 263h2M47 264h2M48 265h2M50 266h1M51 267h3M55 268h1M57 269h1M59 270h1M60 271h2M61 272h1M62 273h1M62 274h2M62 275h2M63 276h3M64 277h4M65 278h5M67 279h5M69 280h3M70 281h1"/><path stroke="#75cd68" d="M79 48h3M77 49h3M75 50h3M72 51h3M62 52h10M60 53h1M158 58h5M156 59h3M161 59h3M152 60h4M163 60h3M147 61h6M165 61h1M143 62h4M166 62h1M139 63h4M167 63h1M131 64h9M168 64h1M130 65h1M169 65h1M129 66h1M169 66h1M170 67h1M170 68h1M170 69h1M171 70h1M123 71h1M171 71h1M171 72h1M171 73h1M6 74h2M122 74h1M170 74h1M4 75h8M15 75h4M122 75h1M170 75h1M5 76h16M169 76h2M7 77h13M169 77h1M9 78h10M168 78h2M11 79h6M168 79h2M123 80h1M167 80h3M167 81h3M166 82h4M125 83h1M164 83h7M163 84h9M126 85h1M144 85h3M162 85h1M167 85h5M132 86h1M142 86h1M148 86h1M168 86h5M134 87h1M141 87h1M149 87h1M159 87h2M169 87h4M135 88h5M151 88h1M156 88h5M170 88h4M152 89h9M170 89h4M153 90h8M170 90h4M153 91h8M170 91h4M152 92h9M170 92h3M140 93h2M151 93h10M169 93h1M139 94h6M148 94h11M169 94h1M122 95h4M128 95h4M137 95h2M145 95h4M167 95h4M113 96h3M166 96h4M110 97h1M164 97h5M106 98h2M162 98h6M104 99h1M161 99h6M103 100h1M159 100h8M80 101h1M157 101h10M100 102h1M156 102h11M97 103h1M155 103h12M29 104h2M34 104h1M86 104h4M156 104h11M27 105h2M70 105h1M157 105h10M26 106h2M158 106h9M24 107h2M159 107h7M20 108h5M38 108h1M161 108h5M11 109h13M162 109h3M10 110h4M39 110h1M162 110h2M10 111h2M10 112h1M10 113h1M39 113h1M10 114h1M39 114h1M10 115h1M39 115h1M10 116h1M39 116h1M10 117h1M39 117h1M10 118h1M39 118h1M9 119h1M38 119h1M57 119h5M65 119h1M8 120h1M38 120h1M55 120h1M7 121h1M38 121h1M54 121h1M5 122h2M38 122h1M53 122h1M4 123h2M38 123h1M52 123h1M37 124h3M51 124h1M37 125h3M49 125h2M37 126h5M46 126h3M38 127h8M110 168h1M116 168h1M109 169h1M131 169h1M129 170h1M121 171h6M104 175h1M86 178h1M90 178h1M102 178h1M84 179h1M91 179h1M101 179h1M83 180h1M92 180h1M100 180h1M82 181h1M80 182h2M77 183h3M75 184h1M73 185h1M72 186h1M70 188h1M69 189h1M41 194h2M45 195h1M39 196h1M47 196h1M56 197h1M59 197h2M68 197h1M65 198h1M68 198h1M67 199h2M38 200h1M38 201h1M42 205h1M83 205h1M32 206h1M81 206h1M88 206h1M29 207h1M33 207h2M79 207h1M89 207h1M28 208h1M43 208h1M78 208h1M89 208h1M27 209h1M35 209h1M27 210h1M36 210h1M26 211h1M78 211h1M90 211h1M26 212h1M78 212h1M90 212h1M26 213h1M79 213h1M91 213h1M26 214h1M79 214h1M91 214h1M26 215h2M80 215h2M91 215h1M26 216h2M82 216h10M26 217h2M27 218h2M27 219h2M28 220h2M28 221h2M28 222h3M28 223h3M28 224h4M29 225h3M29 226h3M29 227h3M30 228h2M44 228h1M48 228h1M30 229h3M43 229h1M31 230h3M49 230h1M34 231h6M50 235h1M49 242h1M48 243h1M45 246h1M44 249h1M44 250h1M44 251h1M44 252h1M44 253h1M44 254h1M44 255h1M44 256h1M44 257h1M45 259h1M45 260h1M46 261h1M46 262h2M48 263h1M49 264h2M50 265h2M51 266h2M54 267h1M56 268h1M58 269h2M60 270h2M62 271h1M62 272h2M63 273h2M64 274h2M64 275h4M66 276h5M68 277h5M70 278h4M72 279h1"/><path stroke="#76d068" d="M274 12h1M274 13h1M274 14h1M273 15h2M272 16h3M272 17h3M271 18h4M271 19h4M271 20h3M271 21h2M270 22h2M270 23h1M80 49h3M78 50h6M75 51h3M72 52h4M61 53h10M59 54h2M58 55h1M158 57h6M156 58h2M163 58h2M152 59h4M164 59h2M147 60h5M166 60h1M143 61h4M166 61h2M138 62h5M167 62h2M132 63h7M168 63h2M169 64h1M129 65h1M170 65h1M128 66h1M170 66h1M127 67h1M171 67h1M126 68h1M171 68h1M171 69h1M124 70h1M172 71h1M172 72h1M122 73h1M26 74h1M171 74h1M24 75h2M171 75h1M3 76h2M21 76h4M122 76h1M171 76h1M2 77h5M20 77h4M122 77h1M170 77h2M2 78h7M19 78h4M122 78h1M170 78h2M4 79h7M17 79h5M122 79h1M170 79h2M6 80h15M170 80h2M8 81h13M123 81h1M170 81h2M9 82h11M124 82h1M170 82h3M11 83h8M171 83h3M12 84h6M125 84h1M172 84h2M172 85h3M127 86h5M143 86h1M147 86h1M173 86h3M133 87h1M142 87h1M148 87h1M173 87h4M134 88h1M140 88h1M149 88h2M174 88h3M136 89h5M150 89h2M174 89h3M137 90h3M151 90h2M174 90h2M139 91h1M150 91h3M174 91h1M139 92h3M150 92h2M138 93h2M142 93h3M148 93h3M137 94h2M145 94h3M119 95h3M132 95h5M111 96h2M108 97h2M104 98h2M103 99h1M74 100h1M102 100h1M101 101h1M99 102h1M29 103h5M94 103h3M27 104h2M35 104h1M25 105h2M36 105h1M22 106h4M37 106h1M12 107h12M38 107h1M10 108h10M70 108h1M9 109h2M39 109h1M8 110h2M8 111h2M40 111h1M8 112h2M40 112h1M9 113h1M40 113h1M9 114h1M9 115h1M70 115h1M9 116h1M9 117h1M69 117h1M9 118h1M67 118h1M8 119h1M39 119h2M56 119h1M62 119h3M6 120h2M39 120h2M54 120h1M5 121h2M39 121h2M53 121h1M4 122h1M39 122h2M52 122h1M39 123h2M51 123h1M40 124h2M49 124h2M40 125h9M42 126h4M111 168h3M115 168h1M117 169h1M132 169h1M118 170h1M130 170h1M119 171h2M127 171h2M87 178h3M85 179h2M84 180h1M83 181h1M93 181h1M99 181h1M82 182h1M95 182h3M80 183h2M76 184h3M74 185h1M71 187h1M69 190h1M69 191h1M69 192h1M69 193h1M69 194h1M40 195h2M43 195h2M69 195h1M46 196h1M69 196h1M39 197h1M48 197h1M57 197h2M69 197h1M39 198h1M50 198h1M55 198h1M64 198h1M69 198h1M52 199h2M65 199h2M69 199h2M66 200h5M67 201h3M85 204h3M88 205h1M43 206h1M80 206h1M89 206h1M30 207h3M77 207h2M29 208h2M33 208h2M77 208h1M28 209h1M34 209h1M77 209h1M90 209h1M28 210h1M35 210h1M77 210h1M90 210h1M27 211h2M37 211h4M77 211h1M27 212h2M77 212h1M91 212h1M27 213h2M78 213h1M27 214h2M78 214h1M92 214h1M28 215h1M78 215h2M92 215h1M28 216h2M79 216h3M92 216h2M28 217h2M81 217h12M29 218h2M29 219h2M30 220h2M30 221h2M31 222h2M31 223h3M32 224h2M32 225h2M32 226h2M32 227h2M45 227h3M32 228h2M43 228h1M33 229h2M42 229h1M49 229h1M34 230h2M41 230h1M50 233h1M50 234h1M51 238h1M50 241h1M47 244h1M46 245h1M45 247h1M45 248h1M45 249h1M45 256h1M45 257h1M45 258h1M46 259h1M46 260h1M47 261h1M48 262h1M49 263h2M51 264h1M52 265h1M53 266h2M55 267h2M57 268h3M60 269h2M62 270h2M63 271h2M64 272h3M65 273h4M66 274h6M68 275h6M71 276h4M73 277h2"/><path stroke="#77d368" d="M218 0h2M266 6h4M267 7h5M267 8h6M267 9h7M267 10h8M267 11h8M266 12h8M266 13h8M265 14h9M265 15h8M265 16h7M265 17h7M264 18h7M264 19h7M264 20h7M264 21h7M264 22h6M264 23h6M264 24h7M264 25h6M264 26h5M264 27h4M265 28h3M265 29h3M265 30h3M266 31h3M266 32h3M267 33h1M78 51h7M76 52h3M83 52h3M71 53h5M61 54h9M59 55h2M159 55h6M57 56h2M157 56h9M57 57h1M155 57h3M164 57h2M151 58h5M165 58h2M147 59h5M166 59h2M143 60h4M167 60h2M138 61h5M168 61h1M133 62h5M169 62h1M131 63h1M170 63h1M130 64h1M170 64h1M128 65h1M171 65h1M127 66h1M171 66h1M126 67h1M172 68h1M125 69h1M172 69h1M123 70h1M172 70h1M30 71h3M29 72h3M122 72h1M28 73h3M172 73h1M27 74h3M172 74h1M26 75h3M172 75h1M25 76h3M172 76h1M24 77h4M172 77h1M1 78h1M23 78h4M172 78h1M0 79h4M22 79h4M172 79h1M0 80h6M21 80h4M122 80h1M172 80h2M2 81h6M21 81h3M172 81h3M4 82h5M20 82h3M173 82h3M5 83h6M19 83h4M124 83h1M174 83h3M7 84h5M18 84h4M174 84h4M8 85h13M125 85h1M175 85h3M10 86h11M126 86h1M144 86h3M176 86h2M11 87h9M132 87h1M147 87h1M177 87h1M12 88h8M133 88h1M141 88h1M148 88h1M177 88h1M14 89h5M134 89h2M141 89h1M149 89h1M135 90h2M140 90h2M149 90h2M136 91h3M140 91h2M149 91h1M137 92h2M142 92h2M147 92h3M136 93h2M145 93h3M124 94h13M115 95h4M110 96h1M105 97h3M103 98h1M102 99h1M101 100h1M100 101h1M28 102h6M98 102h1M26 103h3M34 103h1M84 103h1M90 103h4M23 104h4M70 104h1M14 105h11M37 105h1M11 106h11M38 106h1M9 107h3M8 108h2M39 108h1M7 109h2M40 109h1M70 109h1M7 110h1M40 110h1M7 111h1M7 112h1M7 113h2M7 114h2M40 114h1M70 114h1M8 115h1M40 115h1M8 116h1M40 116h1M8 117h1M40 117h1M7 118h2M40 118h1M57 118h3M6 119h2M41 119h1M55 119h1M5 120h1M41 120h1M53 120h1M4 121h1M41 121h1M52 121h1M41 122h2M51 122h1M41 123h3M49 123h2M42 124h7M114 168h1M110 169h1M116 169h1M109 170h1M131 170h1M108 171h1M129 171h1M107 172h1M123 172h3M106 173h1M105 174h1M103 177h1M87 179h4M85 180h2M91 180h1M84 181h1M92 181h1M83 182h2M94 182h1M98 182h1M82 183h2M79 184h4M75 185h4M73 186h1M72 187h1M71 188h1M70 189h1M42 195h1M40 196h1M45 196h1M70 196h1M47 197h1M70 197h1M49 198h1M56 198h1M61 198h3M70 198h1M39 199h1M51 199h1M54 199h1M71 199h1M65 200h1M71 200h1M66 201h1M70 201h2M39 202h1M66 202h5M40 203h1M86 203h1M41 204h1M84 204h1M88 204h1M82 205h1M89 205h1M75 206h5M75 207h2M90 207h1M31 208h2M76 208h1M90 208h1M29 209h5M43 209h1M76 209h1M29 210h2M34 210h1M42 210h1M76 210h1M91 210h1M29 211h1M36 211h1M41 211h1M76 211h1M91 211h1M29 212h1M92 212h1M29 213h1M77 213h1M92 213h1M29 214h2M77 214h1M93 214h1M29 215h2M77 215h1M93 215h2M30 216h1M77 216h2M94 216h1M30 217h2M78 217h3M93 217h2M31 218h1M81 218h13M31 219h2M32 220h1M32 221h2M33 222h2M34 223h1M34 224h2M34 225h2M34 226h2M46 226h1M34 227h2M44 227h1M48 227h1M34 228h2M49 228h1M35 229h2M36 230h5M50 230h1M50 231h1M50 232h1M51 237h1M51 239h1M51 240h1M50 242h1M49 243h1M48 244h1M46 246h1M45 250h1M45 251h1M45 252h1M45 253h1M45 254h1M45 255h1M46 257h1M46 258h1M47 260h1M48 261h1M49 262h1M51 263h1M52 264h1M53 265h1M55 266h1M57 267h2M60 268h3M62 269h3M64 270h2M65 271h3M67 272h4M69 273h5M72 274h4M74 275h2"/><path stroke="#78d669" d="M220 0h8M251 0h8M217 1h20M250 1h10M216 2h22M249 2h12M215 3h1M229 3h10M249 3h13M254 4h9M256 5h10M258 6h8M259 7h8M260 8h7M260 9h7M261 10h6M261 11h6M261 12h5M261 13h5M261 14h4M260 15h5M260 16h5M260 17h5M260 18h4M260 19h4M259 20h5M259 21h5M259 22h5M259 23h5M259 24h5M259 25h5M259 26h5M259 27h5M260 28h5M260 29h5M260 30h5M261 31h5M261 32h5M262 33h5M262 34h5M263 35h4M263 36h3M263 37h3M264 38h2M264 39h1M264 40h1M264 41h1M79 52h4M161 52h5M76 53h10M159 53h7M70 54h6M83 54h4M158 54h9M61 55h4M157 55h2M165 55h2M59 56h2M155 56h2M166 56h2M58 57h2M150 57h5M166 57h2M56 58h2M146 58h5M167 58h2M55 59h2M143 59h4M168 59h1M139 60h4M169 60h1M134 61h4M169 61h2M131 62h2M170 62h1M130 63h1M171 63h1M128 64h2M171 64h1M127 65h1M172 65h1M126 66h1M172 66h1M123 67h3M172 67h1M123 68h3M173 68h1M123 69h2M173 69h1M35 70h2M173 70h1M33 71h2M122 71h1M173 71h1M32 72h2M173 72h1M31 73h2M121 73h1M173 73h1M30 74h2M121 74h1M173 74h1M29 75h3M121 75h1M173 75h1M28 76h3M121 76h1M173 76h1M28 77h3M121 77h1M173 77h1M27 78h3M121 78h1M173 78h1M26 79h4M121 79h1M173 79h2M25 80h4M174 80h2M0 81h2M24 81h4M122 81h1M175 81h2M0 82h4M23 82h4M123 82h1M176 82h3M0 83h5M23 83h3M177 83h2M2 84h5M22 84h3M124 84h1M4 85h4M21 85h4M178 85h1M5 86h5M21 86h3M6 87h5M20 87h3M127 87h5M143 87h4M8 88h4M20 88h3M132 88h1M142 88h1M147 88h1M9 89h5M19 89h3M133 89h1M142 89h1M147 89h2M10 90h12M134 90h1M142 90h1M147 90h2M12 91h10M135 91h1M142 91h2M146 91h3M13 92h8M135 92h2M144 92h3M15 93h5M127 93h2M133 93h3M17 94h1M120 94h4M111 95h4M108 96h2M102 97h3M102 98h1M101 99h1M79 100h1M100 100h1M28 101h6M72 101h1M99 101h1M23 102h5M34 102h1M71 102h1M96 102h2M15 103h11M35 103h1M88 103h2M12 104h11M36 104h1M10 105h4M8 106h3M7 107h2M39 107h1M7 108h1M40 108h1M6 109h1M41 109h1M6 110h1M41 110h1M6 111h1M41 111h1M6 112h1M41 112h1M6 113h1M41 113h1M6 114h1M41 114h1M6 115h2M41 115h1M6 116h2M41 116h1M6 117h2M41 117h1M68 117h1M5 118h2M41 118h1M55 118h2M60 118h1M66 118h1M4 119h2M42 119h1M54 119h1M4 120h1M42 120h1M52 120h1M42 121h2M51 121h1M43 122h3M49 122h2M44 123h5M111 169h2M110 170h1M117 170h1M118 171h1M130 171h2M120 172h3M126 172h2M104 176h1M87 180h2M90 180h1M101 180h1M85 181h2M91 181h1M100 181h1M85 182h1M93 182h1M84 183h1M95 183h3M83 184h2M79 185h5M74 186h2M79 186h4M73 187h1M70 190h1M70 194h1M70 195h1M41 196h4M40 197h1M71 197h1M57 198h1M59 198h2M71 198h1M50 199h1M55 199h1M64 199h1M72 199h1M39 200h1M51 200h3M72 200h2M39 201h1M65 201h1M72 201h3M71 202h4M67 203h6M74 203h1M85 203h1M87 203h2M74 204h3M83 204h1M89 204h1M74 205h5M74 206h1M90 206h1M74 207h1M75 208h1M75 209h1M91 209h1M31 210h3M75 210h1M30 211h6M92 211h1M30 212h3M38 212h1M76 212h1M30 213h2M76 213h1M93 213h1M31 214h1M76 214h1M94 214h1M31 215h1M76 215h1M95 215h1M31 216h2M76 216h1M95 216h1M32 217h1M76 217h2M95 217h1M32 218h1M77 218h4M94 218h2M33 219h1M78 219h17M33 220h1M34 221h1M35 222h1M35 223h2M36 224h1M36 225h1M36 226h1M44 226h2M47 226h2M36 227h1M43 227h1M49 227h1M36 228h2M42 228h1M37 229h5M50 229h1M51 235h1M51 236h1M51 241h1M47 245h1M46 247h1M46 248h1M46 249h1M46 250h1M46 255h1M46 256h1M47 258h1M47 259h1M48 260h1M49 261h1M50 262h1M53 264h1M54 265h2M56 266h2M59 267h4M63 268h3M65 269h3M66 270h4M68 271h5M71 272h5M74 273h5M76 274h2"/><path stroke="#79d86a" d="M216 3h13M248 3h1M210 4h30M248 4h6M207 5h34M247 5h9M206 6h5M229 6h13M247 6h11M205 7h3M237 7h5M247 7h12M203 8h2M249 8h11M201 9h2M251 9h9M200 10h1M253 10h8M254 11h7M255 12h6M255 13h6M255 14h6M255 15h5M255 16h5M255 17h5M255 18h5M255 19h5M255 20h4M255 21h4M255 22h4M255 23h4M255 24h4M255 25h4M256 26h3M256 27h3M256 28h4M256 29h4M256 30h4M257 31h4M257 32h4M257 33h5M258 34h4M258 35h5M259 36h4M259 37h4M259 38h5M259 39h5M260 40h4M260 41h4M260 42h4M260 43h3M260 44h2M260 45h1M161 48h6M160 49h8M159 50h9M158 51h11M157 52h4M166 52h3M156 53h3M166 53h3M76 54h7M155 54h3M167 54h2M65 55h8M81 55h6M154 55h3M167 55h2M61 56h3M84 56h3M149 56h6M168 56h1M60 57h1M146 57h4M168 57h2M58 58h2M143 58h3M169 58h1M57 59h2M140 59h3M169 59h2M55 60h3M135 60h4M170 60h1M54 61h2M132 61h2M171 61h1M130 62h1M171 62h1M127 63h3M172 63h1M126 64h2M172 64h1M125 65h2M123 66h3M173 66h1M122 67h1M173 67h1M122 68h1M174 68h1M122 69h1M174 69h1M37 70h3M122 70h1M174 70h1M35 71h3M174 71h1M34 72h2M121 72h1M174 72h1M33 73h2M174 73h1M32 74h2M174 74h1M32 75h2M174 75h1M31 76h2M120 76h1M174 76h1M31 77h2M120 77h1M174 77h1M30 78h2M120 78h1M174 78h2M30 79h2M120 79h1M175 79h3M29 80h3M121 80h1M176 80h4M28 81h4M177 81h4M27 82h5M122 82h1M179 82h3M26 83h6M123 83h1M0 84h2M25 84h6M0 85h4M25 85h6M124 85h1M0 86h5M24 86h4M125 86h1M2 87h4M23 87h4M126 87h1M3 88h5M23 88h3M127 88h5M143 88h1M145 88h2M5 89h4M22 89h3M132 89h1M143 89h1M146 89h1M6 90h4M22 90h3M133 90h1M143 90h4M7 91h5M22 91h2M133 91h2M144 91h2M9 92h4M21 92h3M132 92h3M10 93h5M20 93h3M124 93h3M129 93h4M11 94h6M18 94h5M117 94h3M12 95h10M102 95h2M109 95h2M13 96h9M101 96h7M14 97h7M101 97h1M15 98h6M101 98h1M15 99h7M100 99h1M14 100h20M73 100h1M99 100h1M13 101h15M34 101h1M98 101h1M11 102h12M35 102h1M82 102h1M94 102h2M10 103h5M36 103h1M85 103h3M9 104h3M37 104h1M7 105h3M38 105h1M6 106h2M39 106h1M6 107h1M40 107h1M5 108h2M41 108h1M5 109h1M42 109h1M4 110h2M42 110h1M70 110h1M4 111h2M42 111h1M4 112h2M42 112h1M4 113h2M42 113h1M70 113h1M4 114h2M42 114h1M4 115h2M42 115h1M4 116h2M42 116h1M69 116h1M4 117h2M42 117h1M56 117h3M4 118h1M42 118h2M54 118h1M61 118h2M65 118h1M43 119h1M52 119h2M43 120h2M51 120h1M44 121h7M46 122h3M113 169h3M111 170h2M116 170h1M109 171h1M132 171h1M108 172h1M119 172h1M128 172h2M105 175h1M102 179h1M89 180h1M87 181h4M86 182h2M91 182h2M99 182h1M85 183h2M93 183h2M98 183h1M85 184h1M84 185h2M76 186h3M83 186h3M74 187h1M78 187h8M72 188h1M80 188h6M71 189h1M81 189h4M81 190h4M70 191h1M82 191h3M70 192h1M70 193h1M71 196h1M41 197h1M46 197h1M72 197h1M40 198h1M48 198h1M58 198h1M72 198h2M77 198h3M49 199h1M56 199h1M62 199h2M73 199h7M50 200h1M54 200h1M64 200h1M74 200h5M51 201h3M75 201h3M51 202h2M65 202h1M75 202h3M85 202h4M50 203h3M66 203h1M73 203h1M75 203h3M84 203h1M89 203h1M50 204h2M70 204h4M77 204h1M73 205h1M79 205h3M90 205h1M73 206h1M44 207h1M91 207h1M74 208h1M91 208h1M74 209h1M92 210h1M75 211h1M33 212h5M39 212h2M75 212h1M93 212h1M32 213h3M75 213h1M94 213h1M32 214h2M75 214h1M95 214h1M32 215h2M96 215h1M33 216h1M75 216h1M96 216h1M33 217h1M75 217h1M96 217h1M33 218h1M76 218h1M96 218h1M34 219h1M76 219h2M95 219h2M34 220h2M77 220h19M35 221h1M36 222h1M37 223h1M37 224h1M37 225h2M44 225h4M37 226h2M42 226h2M49 226h1M37 227h2M41 227h2M50 227h1M38 228h4M50 228h1M51 230h1M51 231h1M51 232h1M51 233h1M51 234h1M52 238h1M50 243h1M49 244h1M48 245h1M47 246h1M47 247h1M46 251h1M46 252h1M46 253h1M46 254h1M47 256h1M47 257h1M48 259h1M49 260h1M50 261h1M51 262h1M52 263h1M54 264h1M56 265h2M58 266h6M63 267h4M66 268h3M68 269h4M70 270h6M73 271h10M76 272h6"/><path stroke="#7adb6a" d="M211 6h18M208 7h29M205 8h7M226 8h17M246 8h3M203 9h5M230 9h21M201 10h5M234 10h19M199 11h5M239 11h15M198 12h4M244 12h11M197 13h3M247 13h8M196 14h3M248 14h7M195 15h2M249 15h6M194 16h2M250 16h5M194 17h1M250 17h5M193 18h1M250 18h5M251 19h4M251 20h4M251 21h4M251 22h4M251 23h4M252 24h3M252 25h3M252 26h4M252 27h4M252 28h4M253 29h3M253 30h3M253 31h4M254 32h3M254 33h3M254 34h4M255 35h3M165 36h5M255 36h4M161 37h8M255 37h4M154 38h1M157 38h11M255 38h4M150 39h17M255 39h4M151 40h16M256 40h4M153 41h14M256 41h4M154 42h13M256 42h4M155 43h12M256 43h4M156 44h12M256 44h4M156 45h12M256 45h4M156 46h13M256 46h4M156 47h14M156 48h5M167 48h3M156 49h4M168 49h2M156 50h3M168 50h3M155 51h3M169 51h2M154 52h3M169 52h2M153 53h3M169 53h2M150 54h5M169 54h2M73 55h8M147 55h7M169 55h2M64 56h6M79 56h5M146 56h3M169 56h2M61 57h2M82 57h5M143 57h3M170 57h1M60 58h2M84 58h4M140 58h3M170 58h2M59 59h2M87 59h1M137 59h3M171 59h1M58 60h2M133 60h2M171 60h2M56 61h3M125 61h4M130 61h2M172 61h1M53 62h4M126 62h4M172 62h1M52 63h1M125 63h2M173 63h1M125 64h1M173 64h1M123 65h2M173 65h1M122 66h1M174 66h1M174 67h1M175 68h1M175 69h1M40 70h1M175 70h1M38 71h3M121 71h1M175 71h1M36 72h3M175 72h1M35 73h2M120 73h1M175 73h1M34 74h2M120 74h1M175 74h1M34 75h1M120 75h1M175 75h1M33 76h2M175 76h1M33 77h1M119 77h1M175 77h2M32 78h2M119 78h1M176 78h5M32 79h2M119 79h1M178 79h4M32 80h2M120 80h1M180 80h4M32 81h2M121 81h1M181 81h2M32 82h2M32 83h2M122 83h1M31 84h3M123 84h1M31 85h3M28 86h7M0 87h2M27 87h8M125 87h1M1 88h2M26 88h9M126 88h1M144 88h1M0 89h5M25 89h11M127 89h5M144 89h2M1 90h5M25 90h11M128 90h5M3 91h4M24 91h3M32 91h5M127 91h6M4 92h5M24 92h3M33 92h4M125 92h7M6 93h4M23 93h3M34 93h4M121 93h3M7 94h4M23 94h3M34 94h4M102 94h3M109 94h8M8 95h4M22 95h4M34 95h5M101 95h1M104 95h5M9 96h4M22 96h4M34 96h5M100 96h1M9 97h5M21 97h6M34 97h4M100 97h1M10 98h5M21 98h16M100 98h1M10 99h5M22 99h15M76 99h1M99 99h1M10 100h4M34 100h3M98 100h1M9 101h4M35 101h2M97 101h1M8 102h3M36 102h1M89 102h5M7 103h3M37 103h1M70 103h1M6 104h3M38 104h1M5 105h2M39 105h2M4 106h2M40 106h2M4 107h2M41 107h2M3 108h2M42 108h1M3 109h2M43 109h1M3 110h1M43 110h1M3 111h1M43 111h1M70 111h1M3 112h1M43 112h1M70 112h1M3 113h1M43 113h1M43 114h1M43 115h1M43 116h1M43 117h2M54 117h2M59 117h1M67 117h1M44 118h2M52 118h2M63 118h2M44 119h3M50 119h2M45 120h6M113 170h1M115 170h1M110 171h1M117 171h1M130 172h1M107 173h1M106 174h1M103 178h1M88 182h3M87 183h6M86 184h3M93 184h5M86 185h2M86 186h2M75 187h3M86 187h2M73 188h1M78 188h2M86 188h2M72 189h1M79 189h2M85 189h3M71 190h1M80 190h1M85 190h3M80 191h2M85 191h3M80 192h8M80 193h8M71 194h1M80 194h8M71 195h1M79 195h9M72 196h1M78 196h10M42 197h1M44 197h2M73 197h15M47 198h1M74 198h3M80 198h8M40 199h1M57 199h5M80 199h2M85 199h4M55 200h1M63 200h1M79 200h2M85 200h4M50 201h1M54 201h1M64 201h1M78 201h1M85 201h5M40 202h1M50 202h1M53 202h1M78 202h1M84 202h1M89 202h1M53 203h1M65 203h1M78 203h1M83 203h1M90 203h1M49 204h1M52 204h1M67 204h3M78 204h2M90 204h1M49 205h3M71 205h2M72 206h1M91 206h1M73 207h1M44 208h1M73 208h1M92 209h1M43 210h1M74 210h1M42 211h1M74 211h1M93 211h1M41 212h1M94 212h1M35 213h3M95 213h1M34 214h1M96 214h1M34 215h1M75 215h1M34 216h1M97 216h1M34 217h1M97 217h1M34 218h1M75 218h1M97 218h1M35 219h1M75 219h1M97 219h1M36 220h1M76 220h1M96 220h2M36 221h2M77 221h20M37 222h1M77 222h4M38 223h1M78 223h2M38 224h2M39 225h5M48 225h2M39 226h3M50 226h1M39 227h2M51 228h1M51 229h1M52 236h1M52 237h1M52 239h1M52 240h1M51 242h1M49 245h1M48 246h1M47 248h1M47 249h1M47 250h1M47 251h1M47 254h1M47 255h1M48 257h1M48 258h1M49 259h1M52 262h1M53 263h1M55 264h2M58 265h7M64 266h5M67 267h5M84 267h1M69 268h8M78 268h7M72 269h13M76 270h8"/><path stroke="#7bde6a" d="M212 8h14M208 9h22M206 10h6M224 10h10M204 11h5M228 11h11M202 12h5M231 12h13M200 13h4M233 13h14M199 14h4M236 14h12M197 15h4M239 15h10M196 16h4M242 16h8M195 17h4M243 17h7M194 18h4M245 18h5M193 19h4M245 19h6M193 20h3M246 20h5M192 21h3M247 21h4M191 22h3M247 22h4M191 23h1M247 23h4M248 24h4M248 25h4M249 26h3M249 27h3M183 28h3M249 28h3M182 29h2M250 29h3M181 30h2M250 30h3M180 31h2M250 31h3M179 32h2M251 32h3M179 33h1M251 33h3M251 34h3M252 35h3M173 36h4M252 36h3M169 37h7M252 37h3M168 38h7M252 38h3M147 39h2M167 39h7M252 39h3M144 40h7M167 40h6M253 40h3M145 41h8M167 41h5M253 41h3M147 42h7M167 42h5M253 42h3M150 43h5M167 43h5M253 43h3M151 44h5M168 44h4M253 44h3M152 45h4M168 45h4M253 45h3M153 46h3M169 46h3M253 46h3M153 47h3M170 47h2M253 47h4M153 48h3M170 48h2M153 49h3M170 49h3M152 50h4M171 50h2M152 51h3M171 51h2M150 52h4M171 52h2M148 53h5M171 53h3M146 54h4M171 54h3M145 55h2M171 55h3M70 56h9M143 56h3M171 56h3M63 57h4M79 57h3M141 57h2M171 57h3M62 58h2M81 58h3M138 58h2M172 58h2M61 59h1M83 59h4M134 59h3M172 59h2M60 60h1M85 60h4M125 60h8M173 60h1M59 61h1M88 61h1M129 61h1M173 61h1M57 62h2M125 62h1M173 62h1M53 63h5M174 63h1M51 64h3M124 64h1M174 64h1M122 65h1M174 65h1M121 66h1M175 66h1M121 67h1M175 67h1M121 68h1M176 68h1M121 69h1M176 69h1M43 70h1M121 70h1M176 70h1M41 71h2M120 71h1M176 71h1M39 72h3M120 72h1M176 72h1M37 73h3M119 73h1M176 73h1M36 74h2M119 74h1M176 74h1M35 75h2M119 75h1M176 75h2M35 76h1M119 76h1M176 76h4M34 77h2M177 77h6M34 78h1M118 78h1M181 78h3M34 79h1M118 79h1M182 79h4M34 80h1M119 80h1M34 81h1M119 81h2M34 82h2M120 82h2M34 83h2M34 84h2M34 85h2M123 85h1M35 86h1M124 86h1M35 87h2M35 88h2M125 88h1M36 89h2M126 89h1M0 90h1M36 90h2M126 90h2M0 91h3M27 91h5M37 91h1M104 91h2M125 91h2M0 92h4M27 92h6M37 92h2M103 92h4M123 92h2M1 93h5M26 93h8M38 93h1M102 93h19M2 94h5M26 94h8M38 94h2M101 94h1M105 94h4M3 95h5M26 95h8M39 95h1M100 95h1M4 96h5M26 96h8M39 96h1M5 97h4M27 97h7M38 97h2M99 97h1M6 98h4M37 98h3M99 98h1M6 99h4M37 99h2M75 99h1M77 99h1M98 99h1M6 100h4M37 100h2M97 100h1M6 101h3M37 101h1M95 101h2M5 102h3M37 102h1M43 102h1M88 102h1M4 103h3M38 103h1M41 103h3M3 104h3M39 104h5M3 105h2M41 105h4M2 106h2M42 106h3M1 107h3M43 107h2M2 108h1M43 108h2M2 109h1M44 109h1M44 110h1M44 111h1M44 112h1M44 113h1M44 114h2M44 115h2M69 115h1M44 116h2M54 116h5M68 116h1M45 117h2M51 117h3M60 117h2M66 117h1M46 118h6M47 119h3M114 170h1M111 171h2M116 171h1M109 172h1M118 172h1M131 172h2M121 173h7M104 177h1M101 181h1M100 182h1M99 183h1M89 184h4M98 184h1M88 185h9M88 186h8M88 187h5M74 188h4M88 188h5M73 189h1M77 189h2M88 189h5M72 190h1M78 190h2M88 190h4M71 191h1M79 191h1M88 191h4M71 192h1M79 192h1M88 192h4M71 193h1M79 193h1M88 193h4M78 194h2M88 194h3M72 195h1M77 195h2M88 195h3M73 196h5M88 196h3M43 197h1M88 197h3M41 198h1M88 198h3M48 199h1M82 199h3M89 199h2M40 200h1M49 200h1M56 200h1M60 200h3M81 200h4M89 200h2M40 201h1M49 201h1M63 201h1M79 201h2M83 201h2M90 201h1M49 202h1M54 202h1M64 202h1M79 202h1M83 202h1M90 202h1M49 203h1M79 203h1M53 204h1M66 204h1M80 204h1M82 204h1M43 205h1M52 205h1M70 205h1M91 205h1M44 206h1M71 206h1M72 207h1M92 207h1M92 208h1M73 209h1M93 210h1M94 211h1M74 212h1M95 212h1M38 213h2M74 213h1M96 213h1M35 214h2M74 214h1M97 214h1M35 215h1M74 215h1M97 215h1M35 216h1M74 216h1M98 216h1M35 217h1M74 217h1M98 217h1M35 218h2M74 218h1M98 218h1M36 219h1M98 219h1M37 220h1M75 220h1M98 220h1M38 221h1M76 221h1M97 221h1M38 222h2M76 222h1M81 222h17M39 223h3M77 223h1M80 223h9M40 224h9M77 224h7M50 225h1M78 225h4M51 226h1M79 226h2M51 227h1M52 229h1M52 230h1M52 231h1M52 232h1M52 233h1M52 234h1M52 235h1M52 241h1M51 243h1M50 244h1M49 246h1M48 247h1M48 248h1M47 252h1M47 253h1M48 256h1M50 260h1M51 261h1M83 261h1M82 262h2M54 263h1M81 263h3M57 264h2M62 264h3M79 264h6M65 265h20M69 266h16M72 267h12M77 268h1"/><path stroke="#7ce06b" d="M212 10h12M209 11h19M207 12h5M223 12h8M204 13h5M226 13h7M203 14h4M229 14h7M201 15h4M231 15h8M200 16h3M233 16h9M199 17h3M235 17h8M198 18h3M237 18h8M197 19h3M239 19h6M196 20h3M240 20h6M195 21h3M241 21h6M194 22h3M242 22h5M192 23h4M243 23h4M191 24h4M244 24h4M191 25h3M245 25h3M190 26h3M245 26h4M189 27h3M246 27h3M186 28h4M246 28h3M184 29h5M247 29h3M183 30h4M247 30h3M182 31h4M248 31h2M181 32h4M248 32h3M180 33h4M248 33h3M179 34h4M249 34h2M179 35h4M249 35h3M177 36h5M249 36h3M176 37h5M250 37h2M175 38h5M250 38h2M174 39h5M250 39h2M140 40h3M173 40h5M250 40h3M141 41h4M172 41h5M250 41h3M142 42h5M172 42h5M250 42h3M143 43h7M172 43h4M251 43h2M144 44h7M172 44h3M251 44h2M148 45h4M172 45h3M251 45h2M150 46h3M172 46h3M251 46h2M150 47h3M172 47h3M251 47h2M150 48h3M172 48h3M251 48h3M150 49h3M173 49h2M149 50h3M173 50h3M148 51h4M173 51h3M147 52h3M173 52h3M146 53h2M174 53h3M144 54h2M174 54h3M143 55h2M174 55h4M141 56h2M174 56h4M67 57h4M76 57h3M139 57h2M174 57h4M64 58h2M79 58h2M136 58h2M174 58h3M62 59h2M81 59h2M125 59h3M132 59h2M174 59h2M61 60h2M82 60h3M124 60h1M174 60h2M60 61h2M84 61h4M124 61h1M174 61h2M59 62h2M87 62h3M124 62h1M174 62h2M58 63h2M90 63h1M124 63h1M175 63h1M54 64h4M122 64h2M175 64h1M51 65h3M121 65h1M175 65h2M176 66h1M176 67h2M47 68h1M177 68h1M45 69h1M177 69h2M44 70h2M120 70h1M177 70h2M43 71h2M119 71h1M177 71h2M42 72h2M117 72h3M177 72h3M40 73h3M117 73h2M177 73h3M38 74h3M118 74h1M177 74h5M37 75h2M118 75h1M178 75h6M36 76h2M118 76h1M180 76h5M36 77h1M117 77h2M183 77h4M35 78h2M117 78h1M184 78h4M35 79h1M117 79h1M186 79h3M35 80h1M117 80h2M187 80h2M35 81h1M117 81h2M36 82h1M119 82h1M36 83h1M120 83h2M36 84h1M122 84h1M36 85h1M36 86h1M123 86h1M37 87h1M108 87h1M124 87h1M37 88h1M104 88h7M124 88h1M38 89h1M103 89h8M125 89h1M38 90h1M103 90h8M124 90h2M38 91h1M102 91h2M106 91h6M123 91h2M39 92h1M101 92h2M107 92h7M120 92h3M0 93h1M39 93h1M101 93h1M0 94h2M100 94h1M0 95h3M40 95h1M99 95h1M0 96h4M40 96h1M99 96h1M0 97h5M40 97h1M0 98h6M40 98h1M98 98h1M1 99h5M39 99h2M1 100h5M39 100h4M96 100h1M1 101h5M38 101h7M81 101h1M92 101h3M1 102h4M38 102h5M44 102h1M83 102h1M87 102h1M0 103h4M39 103h2M44 103h2M0 104h3M44 104h2M0 105h3M45 105h1M0 106h2M45 106h1M69 106h1M45 107h2M69 107h1M45 108h2M45 109h2M45 110h2M45 111h2M45 112h2M45 113h3M46 114h2M69 114h1M46 115h3M52 115h5M46 116h8M59 116h1M47 117h4M62 117h1M65 117h1M113 171h3M110 172h1M117 172h1M108 173h1M120 173h1M128 173h3M107 174h1M106 175h1M105 176h1M103 179h1M102 180h1M97 185h2M96 186h2M93 187h4M93 188h4M74 189h3M93 189h3M73 190h1M76 190h2M92 190h4M72 191h1M77 191h2M92 191h3M72 192h1M77 192h2M92 192h3M72 193h1M77 193h2M92 193h2M72 194h1M76 194h2M91 194h3M73 195h4M91 195h2M91 196h2M91 197h1M46 198h1M91 198h1M91 199h1M57 200h3M91 200h1M55 201h1M61 201h2M81 201h2M91 201h1M63 202h1M80 202h3M91 202h1M41 203h1M54 203h1M80 203h3M91 203h1M42 204h1M81 204h1M91 204h1M48 205h1M53 205h1M68 205h2M49 206h3M92 206h1M72 208h1M44 209h1M93 209h1M73 210h1M94 210h1M43 211h1M73 211h1M95 211h1M42 212h1M96 212h1M40 213h1M97 213h1M37 214h1M36 215h1M98 215h1M36 216h1M99 216h1M36 217h1M99 217h1M37 218h1M99 218h1M37 219h1M74 219h1M38 220h1M74 220h1M39 221h2M75 221h1M40 222h3M75 222h1M42 223h7M76 223h1M89 223h8M49 224h2M76 224h1M84 224h12M51 225h1M76 225h2M82 225h8M52 226h1M77 226h2M81 226h4M52 227h1M78 227h6M52 228h1M79 228h4M81 229h1M53 237h1M53 238h1M53 239h1M52 242h1M51 244h1M50 245h1M49 247h1M48 249h1M48 250h1M48 251h1M48 254h1M80 254h1M48 255h1M80 255h2M79 256h4M49 257h1M79 257h5M49 258h1M78 258h6M50 259h1M78 259h6M77 260h7M52 261h1M76 261h7M53 262h1M75 262h7M55 263h2M71 263h10M59 264h3M65 264h14"/><path stroke="#7de36c" d="M212 12h11M209 13h8M218 13h8M207 14h5M223 14h6M205 15h4M225 15h6M203 16h4M227 16h6M202 17h4M229 17h6M201 18h3M231 18h6M200 19h3M233 19h6M199 20h3M235 20h5M198 21h3M236 21h5M197 22h3M238 22h4M196 23h3M239 23h4M195 24h3M240 24h4M194 25h4M241 25h4M193 26h4M242 26h3M192 27h4M243 27h3M190 28h5M243 28h3M189 29h4M244 29h3M187 30h4M245 30h2M186 31h4M245 31h3M185 32h3M246 32h2M184 33h3M246 33h2M183 34h3M247 34h2M183 35h3M247 35h2M182 36h3M247 36h2M181 37h3M248 37h2M180 38h4M248 38h2M179 39h4M248 39h2M138 40h2M178 40h5M248 40h2M139 41h2M177 41h5M248 41h2M139 42h3M177 42h5M249 42h1M140 43h3M176 43h5M249 43h2M141 44h3M175 44h5M249 44h2M143 45h5M175 45h4M249 45h2M144 46h6M175 46h4M249 46h2M145 47h5M175 47h3M249 47h2M145 48h5M175 48h3M249 48h2M146 49h4M175 49h4M249 49h3M146 50h3M176 50h3M250 50h1M145 51h3M176 51h3M145 52h2M176 52h4M144 53h2M177 53h3M143 54h1M177 54h3M141 55h2M178 55h2M140 56h1M178 56h2M71 57h5M137 57h2M178 57h2M66 58h3M77 58h2M134 58h2M177 58h3M64 59h2M79 59h2M124 59h1M128 59h4M176 59h4M63 60h1M81 60h1M123 60h1M176 60h3M62 61h1M82 61h2M123 61h1M176 61h2M61 62h1M84 62h3M123 62h1M176 62h2M60 63h2M86 63h4M123 63h1M176 63h2M58 64h3M89 64h2M121 64h1M176 64h2M54 65h4M177 65h2M51 66h3M99 66h4M120 66h1M177 66h3M49 67h2M99 67h4M120 67h1M178 67h3M48 68h1M101 68h2M120 68h1M178 68h3M46 69h2M120 69h1M179 69h3M46 70h1M119 70h1M179 70h4M45 71h1M116 71h3M179 71h5M44 72h1M116 72h1M180 72h5M43 73h2M115 73h2M180 73h6M41 74h3M114 74h4M182 74h5M39 75h3M110 75h8M184 75h4M38 76h2M109 76h9M185 76h4M37 77h1M109 77h8M187 77h3M37 78h1M110 78h7M188 78h3M36 79h2M110 79h7M189 79h1M36 80h1M110 80h7M36 81h1M111 81h6M110 82h9M110 83h10M37 84h1M108 84h5M120 84h2M37 85h1M106 85h7M122 85h1M37 86h1M102 86h10M38 87h1M102 87h6M109 87h3M123 87h1M38 88h1M102 88h2M111 88h1M39 89h1M101 89h2M111 89h1M124 89h1M39 90h1M101 90h2M111 90h2M123 90h1M39 91h1M101 91h1M112 91h2M121 91h2M100 92h1M114 92h6M40 93h1M100 93h1M40 94h1M99 94h1M98 96h1M41 97h1M98 97h1M41 98h1M0 99h1M41 99h2M74 99h1M78 99h1M97 99h1M0 100h1M43 100h1M72 100h1M80 100h1M95 100h1M0 101h1M45 101h1M71 101h1M89 101h3M0 102h1M45 102h1M86 102h1M46 103h1M46 104h1M46 105h1M69 105h1M46 106h2M47 107h1M47 108h2M69 108h1M47 109h2M69 109h1M47 110h2M47 111h3M47 112h3M48 113h3M69 113h1M48 114h8M49 115h3M57 115h2M68 115h1M60 116h1M67 116h1M63 117h2M111 172h2M116 172h1M109 173h1M119 173h1M131 173h3M100 183h1M99 184h1M98 186h1M97 187h1M97 188h1M96 189h2M74 190h2M96 190h1M73 191h4M95 191h2M73 192h1M76 192h1M95 192h1M73 193h1M75 193h2M94 193h2M73 194h3M94 194h1M93 195h2M93 196h1M92 197h2M42 198h4M92 198h1M41 199h1M47 199h1M92 199h1M48 200h1M92 200h1M56 201h1M59 201h2M55 202h1M48 203h1M64 203h1M48 204h1M54 204h1M65 204h1M92 204h1M67 205h1M92 205h1M52 206h1M70 206h1M45 207h1M71 207h1M93 207h1M93 208h1M72 209h1M94 209h1M73 212h1M97 212h1M41 213h1M73 213h1M98 213h1M38 214h3M73 214h1M98 214h1M37 215h1M73 215h1M99 215h1M37 216h1M73 216h1M37 217h1M73 217h1M100 217h1M38 218h1M73 218h1M38 219h2M73 219h1M39 220h2M41 221h2M74 221h1M43 222h5M74 222h1M49 223h2M75 223h1M51 224h1M75 224h1M52 225h1M75 225h1M90 225h5M53 226h1M76 226h1M87 226h7M53 227h1M76 227h2M91 227h1M53 228h1M77 228h2M53 229h1M78 229h3M53 230h1M78 230h3M53 231h1M79 231h2M53 232h1M79 232h2M53 233h1M79 233h1M53 234h1M53 235h1M53 236h1M53 240h1M53 241h1M52 243h1M50 246h1M79 247h1M49 248h1M79 248h1M49 249h1M78 249h2M78 250h1M78 251h2M48 252h1M78 252h2M48 253h1M78 253h2M77 254h3M77 255h3M49 256h1M76 256h3M76 257h3M75 258h3M74 259h4M51 260h1M73 260h4M72 261h4M54 262h1M67 262h8M57 263h14"/><path stroke="#7ee66c" d="M217 13h1M212 14h11M209 15h6M220 15h5M207 16h5M223 16h4M206 17h3M225 17h4M204 18h4M227 18h4M203 19h3M228 19h5M202 20h3M230 20h5M201 21h3M232 21h4M200 22h3M233 22h5M199 23h3M235 23h4M198 24h3M236 24h4M198 25h2M238 25h3M197 26h2M239 26h3M196 27h3M240 27h3M195 28h3M241 28h2M193 29h4M241 29h3M191 30h5M242 30h3M190 31h4M243 31h2M188 32h4M243 32h3M187 33h3M244 33h2M186 34h3M244 34h3M186 35h2M245 35h2M185 36h2M245 36h2M184 37h3M246 37h2M184 38h2M246 38h2M183 39h3M246 39h2M183 40h2M246 40h2M137 41h2M182 41h3M247 41h1M138 42h1M182 42h3M247 42h2M138 43h2M181 43h3M247 43h2M139 44h2M180 44h4M247 44h2M140 45h3M179 45h5M247 45h2M142 46h2M179 46h4M247 46h2M143 47h2M178 47h5M247 47h2M144 48h1M178 48h5M248 48h1M144 49h2M179 49h4M248 49h1M144 50h2M179 50h4M248 50h2M144 51h1M179 51h4M248 51h2M143 52h2M180 52h3M142 53h2M180 53h3M141 54h2M180 54h3M140 55h1M180 55h3M138 56h2M180 56h3M109 57h1M135 57h2M180 57h3M69 58h8M108 58h2M124 58h10M180 58h4M66 59h2M77 59h2M107 59h2M123 59h1M180 59h4M64 60h2M79 60h2M106 60h2M122 60h1M179 60h5M63 61h2M80 61h2M105 61h3M122 61h1M178 61h6M62 62h2M82 62h2M105 62h2M122 62h1M178 62h6M62 63h1M84 63h2M105 63h1M121 63h2M178 63h6M61 64h1M86 64h3M105 64h1M120 64h1M178 64h6M58 65h3M88 65h4M104 65h2M120 65h1M179 65h6M54 66h4M91 66h1M103 66h3M180 66h5M51 67h3M97 67h2M103 67h3M181 67h4M49 68h2M97 68h4M103 68h3M181 68h5M48 69h1M99 69h7M119 69h1M182 69h5M47 70h1M100 70h6M116 70h3M183 70h4M46 71h1M101 71h5M115 71h1M184 71h4M45 72h2M102 72h4M114 72h2M185 72h4M45 73h1M105 73h10M186 73h3M44 74h1M107 74h7M187 74h3M42 75h3M107 75h3M188 75h3M40 76h2M107 76h2M189 76h4M38 77h2M108 77h1M190 77h3M38 78h1M108 78h2M191 78h1M38 79h1M108 79h2M37 80h1M108 80h2M37 81h1M108 81h3M37 82h1M107 82h3M37 83h1M106 83h4M103 84h5M113 84h7M38 85h1M101 85h5M113 85h9M38 86h1M100 86h2M112 86h3M121 86h2M100 87h2M112 87h2M122 87h1M39 88h1M100 88h2M112 88h2M123 88h1M112 89h2M122 89h2M40 90h1M100 90h1M113 90h3M120 90h3M40 91h1M100 91h1M114 91h7M40 92h1M99 93h1M41 94h1M41 95h1M98 95h1M41 96h1M97 97h1M42 98h1M97 98h1M43 99h1M96 99h1M44 100h1M94 100h1M88 101h1M46 102h1M70 102h1M84 102h2M47 104h1M69 104h1M47 105h1M48 106h1M48 107h2M49 108h1M49 109h2M49 110h3M69 110h1M50 111h2M69 111h1M50 112h4M69 112h1M51 113h5M56 114h2M68 114h1M59 115h1M61 116h1M65 116h2M113 172h3M110 173h1M118 173h1M108 174h1M122 174h6M104 178h1M102 181h1M101 182h1M100 184h1M99 185h1M99 186h1M98 187h1M98 188h1M98 189h1M97 190h2M97 191h1M74 192h2M96 192h2M74 193h1M96 193h1M95 194h1M95 195h1M94 196h1M94 197h1M93 198h1M46 199h1M93 199h1M41 200h1M48 201h1M57 201h2M92 201h1M48 202h1M60 202h3M92 202h1M63 203h1M92 203h1M45 206h1M48 206h1M53 206h1M69 206h1M93 206h1M50 207h2M70 207h1M45 208h1M71 208h1M94 208h1M44 210h1M72 210h1M95 210h1M72 211h1M96 211h1M98 212h1M42 213h1M41 214h1M99 214h1M38 215h2M100 215h1M38 216h1M100 216h1M38 217h2M39 218h1M40 219h1M41 220h2M73 220h1M43 221h4M73 221h1M48 222h3M51 223h2M74 223h1M52 224h2M74 224h1M53 225h1M54 226h1M75 226h1M54 227h1M75 227h1M54 228h1M76 228h1M54 229h1M76 229h2M54 230h1M77 230h1M54 231h1M77 231h2M77 232h2M77 233h2M77 234h2M77 235h1M76 236h2M54 237h1M76 237h2M54 238h1M76 238h1M54 239h1M53 242h1M52 244h1M51 245h1M77 245h1M77 246h2M50 247h1M76 247h3M76 248h3M76 249h2M49 250h1M76 250h2M49 251h1M76 251h2M76 252h2M76 253h2M75 254h2M49 255h1M75 255h2M74 256h2M74 257h2M50 258h1M73 258h2M51 259h1M72 259h2M52 260h1M70 260h3M53 261h1M67 261h5M55 262h2M62 262h5"/><path stroke="#84e76d" d="M215 15h5M212 16h11M209 17h5M220 17h5M208 18h3M223 18h4M206 19h3M225 19h3M205 20h3M226 20h4M204 21h3M228 21h4M203 22h2M229 22h4M202 23h2M231 23h4M201 24h2M233 24h3M200 25h3M234 25h4M199 26h3M236 26h3M199 27h2M237 27h3M198 28h2M238 28h3M197 29h2M239 29h2M196 30h3M240 30h2M194 31h3M241 31h2M192 32h4M241 32h2M190 33h4M242 33h2M189 34h3M242 34h2M188 35h3M243 35h2M187 36h3M243 36h2M187 37h2M244 37h2M186 38h2M244 38h2M186 39h2M244 39h2M185 40h2M245 40h1M185 41h2M245 41h2M136 42h2M185 42h2M245 42h2M137 43h1M184 43h2M245 43h2M138 44h1M184 44h2M245 44h2M138 45h2M184 45h2M246 45h1M140 46h2M183 46h3M246 46h1M141 47h2M183 47h2M246 47h1M142 48h2M183 48h2M246 48h2M143 49h1M183 49h2M246 49h2M142 50h2M183 50h2M246 50h2M142 51h2M183 51h2M246 51h2M142 52h1M183 52h3M141 53h1M183 53h3M140 54h1M183 54h3M111 55h1M139 55h1M183 55h3M110 56h2M137 56h1M183 56h3M110 57h2M125 57h3M134 57h1M183 57h4M110 58h3M123 58h1M184 58h3M68 59h2M75 59h2M109 59h3M121 59h2M184 59h3M66 60h2M78 60h1M108 60h3M121 60h1M184 60h3M65 61h1M79 61h1M108 61h2M120 61h2M184 61h3M64 62h1M81 62h1M107 62h2M120 62h2M184 62h3M63 63h1M82 63h2M106 63h2M120 63h1M184 63h3M62 64h1M84 64h2M106 64h2M184 64h4M61 65h1M85 65h3M106 65h1M119 65h1M185 65h3M58 66h3M87 66h4M106 66h1M119 66h1M185 66h3M54 67h4M90 67h3M106 67h1M119 67h1M185 67h4M51 68h2M95 68h2M106 68h2M119 68h1M186 68h4M49 69h2M96 69h3M106 69h2M118 69h1M187 69h3M48 70h1M98 70h2M106 70h2M187 70h4M47 71h1M99 71h2M106 71h4M114 71h1M188 71h3M47 72h1M100 72h2M106 72h8M189 72h3M46 73h1M101 73h4M189 73h4M45 74h1M103 74h4M190 74h4M45 75h1M105 75h2M191 75h4M42 76h3M105 76h2M193 76h1M40 77h3M106 77h2M39 78h2M106 78h2M39 79h1M107 79h1M38 80h1M106 80h2M38 81h1M106 81h2M38 82h1M105 82h2M38 83h1M103 83h3M38 84h1M101 84h2M100 85h1M39 86h1M99 86h1M115 86h6M39 87h1M99 87h1M114 87h8M40 88h1M114 88h9M40 89h1M100 89h1M114 89h8M116 90h4M41 92h1M99 92h1M41 93h1M98 94h1M42 96h1M97 96h1M42 97h1M43 98h1M96 98h1M44 99h1M73 99h1M95 99h1M45 100h1M91 100h3M46 101h1M47 103h1M48 104h1M48 105h1M49 106h1M50 107h1M50 108h2M51 109h2M52 110h1M52 111h2M54 112h2M68 112h1M56 113h2M68 113h1M58 114h2M60 115h2M66 115h2M62 116h3M111 173h1M117 173h1M120 174h2M128 174h6M107 175h1M106 176h1M105 177h1M103 180h1M101 183h1M100 185h1M99 187h1M99 188h1M99 189h1M99 190h1M98 191h1M98 192h1M97 193h1M96 194h1M96 195h1M95 196h1M95 197h1M94 198h1M42 199h1M94 199h1M47 200h1M93 200h1M41 201h1M93 201h1M41 202h1M56 202h1M59 202h1M93 202h1M55 203h1M93 203h1M47 204h1M64 204h1M93 204h1M44 205h1M47 205h1M54 205h1M66 205h1M93 205h1M46 206h2M68 206h1M94 206h1M49 207h1M52 207h1M94 207h1M95 208h1M71 209h1M95 209h1M96 210h1M97 211h2M43 212h1M72 212h1M72 213h1M99 213h1M72 214h1M40 215h2M72 215h1M39 216h2M72 216h1M40 217h1M72 217h1M40 218h2M72 218h1M41 219h2M72 219h1M43 220h3M72 220h1M47 221h4M51 222h2M73 222h1M53 223h1M73 223h1M54 224h1M54 225h1M74 225h1M74 226h1M55 227h1M74 227h1M55 228h1M75 228h1M55 229h1M75 229h1M55 230h1M75 230h2M75 231h2M54 232h1M76 232h1M54 233h1M75 233h2M54 234h1M75 234h2M54 235h1M75 235h2M54 236h1M74 236h2M74 237h2M74 238h2M74 239h2M54 240h1M74 240h2M75 241h1M75 242h1M53 243h1M75 243h2M75 244h2M75 245h2M51 246h1M75 246h2M75 247h1M50 248h1M75 248h1M50 249h1M75 249h1M75 250h1M74 251h2M49 252h1M74 252h2M49 253h1M74 253h2M49 254h1M73 254h2M73 255h2M72 256h2M50 257h1M71 257h3M70 258h3M69 259h3M67 260h3M54 261h1M64 261h3M57 262h5"/><path stroke="#8be86e" d="M214 17h6M211 18h12M209 19h4M220 19h5M208 20h3M223 20h3M207 21h2M225 21h3M205 22h3M226 22h3M204 23h3M228 23h3M203 24h3M229 24h4M203 25h2M231 25h3M202 26h2M233 26h3M201 27h2M234 27h3M200 28h2M235 28h3M199 29h2M237 29h2M199 30h1M238 30h2M197 31h3M238 31h3M196 32h3M239 32h2M194 33h3M240 33h2M192 34h4M241 34h1M191 35h3M241 35h2M190 36h3M242 36h1M189 37h3M242 37h2M188 38h3M242 38h2M188 39h2M243 39h1M187 40h2M243 40h2M187 41h2M243 41h2M135 42h1M187 42h2M244 42h1M135 43h2M186 43h2M244 43h1M136 44h2M186 44h2M244 44h1M137 45h1M186 45h2M244 45h2M138 46h2M186 46h2M244 46h2M139 47h2M185 47h2M244 47h2M140 48h2M185 48h2M244 48h2M141 49h2M185 49h2M244 49h2M141 50h1M185 50h3M245 50h1M141 51h1M185 51h3M245 51h1M140 52h2M186 52h2M245 52h1M140 53h1M186 53h2M245 53h1M113 54h1M139 54h1M186 54h3M112 55h2M138 55h1M186 55h3M112 56h3M135 56h2M186 56h3M112 57h3M123 57h2M128 57h6M187 57h3M113 58h3M120 58h3M187 58h3M70 59h5M112 59h5M118 59h3M187 59h3M68 60h2M76 60h2M111 60h10M187 60h3M66 61h2M78 61h1M110 61h4M117 61h3M187 61h3M65 62h1M79 62h2M109 62h2M118 62h2M187 62h3M64 63h1M81 63h1M108 63h1M118 63h2M187 63h4M63 64h1M82 64h2M108 64h1M119 64h1M188 64h3M62 65h1M84 65h1M107 65h2M188 65h4M61 66h1M85 66h2M107 66h2M188 66h4M58 67h2M87 67h3M107 67h2M189 67h4M53 68h4M90 68h3M108 68h1M118 68h1M190 68h4M51 69h2M92 69h4M108 69h2M117 69h1M190 69h4M49 70h2M96 70h2M108 70h3M115 70h1M191 70h4M48 71h1M98 71h1M110 71h4M191 71h5M99 72h1M192 72h6M47 73h1M100 73h1M193 73h4M46 74h1M101 74h2M194 74h2M46 75h1M103 75h2M45 76h1M104 76h1M43 77h2M105 77h1M41 78h2M105 78h1M40 79h1M105 79h2M39 80h1M105 80h1M39 81h1M104 81h2M39 82h1M102 82h3M39 83h1M101 83h2M39 84h1M99 84h2M39 85h1M99 85h1M40 86h1M40 87h1M99 88h1M41 89h1M99 89h1M41 90h1M99 90h1M41 91h1M99 91h1M98 93h1M42 94h1M42 95h1M97 95h1M43 97h1M96 97h1M44 98h1M95 98h1M45 99h1M79 99h1M93 99h2M46 100h1M89 100h2M47 101h1M87 101h1M47 102h1M48 103h1M69 103h1M49 105h1M50 106h1M51 107h1M52 108h1M53 109h1M53 110h2M68 110h1M54 111h2M66 111h3M56 112h1M66 112h2M58 113h1M66 113h2M60 114h1M66 114h2M62 115h4M112 173h5M109 174h1M119 174h1M104 179h1M102 182h1M101 184h1M100 186h1M100 187h1M100 188h1M100 189h1M99 191h1M98 193h1M97 194h1M97 195h1M96 196h1M96 197h1M95 198h1M43 199h3M94 200h1M47 201h1M94 201h1M57 202h2M47 203h1M62 203h1M45 205h2M65 205h1M94 205h1M67 206h1M46 207h1M48 207h1M53 207h1M69 207h1M95 207h1M70 208h1M45 209h1M96 209h1M71 210h1M97 210h2M44 211h1M99 211h1M99 212h1M43 213h1M100 213h1M42 214h1M42 215h1M41 216h1M41 217h2M42 218h1M43 219h2M46 220h5M51 221h3M72 221h1M53 222h2M72 222h1M54 223h1M55 224h1M73 224h1M55 225h1M73 225h1M55 226h1M73 226h1M56 227h1M73 227h1M56 228h1M74 228h1M56 229h1M74 229h1M74 230h1M55 231h1M74 231h1M55 232h1M74 232h2M55 233h1M74 233h1M55 234h1M73 234h2M55 235h1M73 235h2M55 236h1M73 236h1M55 237h1M72 237h2M55 238h1M72 238h2M73 239h1M73 240h1M54 241h1M73 241h2M54 242h1M74 242h1M74 243h1M53 244h1M74 244h1M52 245h1M74 245h1M74 246h1M51 247h1M74 247h1M73 248h2M73 249h2M50 250h1M73 250h2M73 251h1M73 252h1M72 253h2M72 254h1M50 255h1M71 255h2M50 256h1M70 256h2M70 257h1M51 258h1M69 258h1M67 259h2M53 260h1M65 260h2M55 261h1M62 261h2"/><path stroke="#91e96f" d="M213 19h7M211 20h12M209 21h4M221 21h4M208 22h3M223 22h3M207 23h2M225 23h3M206 24h2M226 24h3M205 25h2M228 25h3M204 26h2M230 26h3M203 27h2M231 27h3M202 28h2M233 28h2M201 29h2M234 29h3M200 30h2M235 30h3M200 31h1M236 31h2M199 32h1M237 32h2M197 33h2M238 33h2M196 34h2M239 34h2M194 35h3M239 35h2M193 36h2M240 36h2M192 37h2M240 37h2M191 38h2M241 38h1M190 39h2M241 39h2M189 40h2M241 40h2M189 41h2M242 41h1M133 42h2M189 42h1M242 42h2M134 43h1M188 43h2M242 43h2M135 44h1M188 44h2M242 44h2M136 45h1M188 45h1M243 45h1M137 46h1M188 46h1M243 46h1M138 47h1M187 47h2M243 47h1M138 48h2M187 48h2M243 48h1M139 49h2M187 49h2M243 49h1M139 50h2M188 50h2M243 50h2M140 51h1M188 51h2M243 51h2M115 52h1M139 52h1M188 52h2M243 52h2M114 53h2M139 53h1M188 53h3M243 53h2M114 54h2M138 54h1M189 54h2M243 54h2M114 55h3M137 55h1M189 55h3M243 55h1M115 56h2M123 56h6M134 56h1M189 56h4M115 57h8M190 57h3M116 58h4M190 58h4M117 59h1M190 59h4M70 60h2M74 60h2M190 60h5M68 61h1M76 61h2M114 61h3M190 61h5M66 62h2M78 62h1M111 62h7M190 62h5M65 63h2M79 63h2M109 63h2M117 63h1M191 63h5M64 64h2M81 64h1M109 64h1M118 64h1M191 64h5M63 65h2M82 65h2M109 65h1M118 65h1M192 65h5M62 66h2M84 66h1M109 66h1M118 66h1M192 66h5M60 67h2M85 67h2M109 67h1M118 67h1M193 67h5M57 68h3M87 68h3M109 68h1M194 68h5M53 69h4M89 69h3M110 69h1M116 69h1M194 69h6M51 70h2M92 70h4M111 70h2M114 70h1M195 70h6M49 71h2M95 71h3M196 71h3M48 72h1M98 72h1M48 73h1M99 73h1M47 74h1M100 74h1M47 75h1M101 75h2M46 76h1M102 76h2M45 77h1M103 77h2M43 78h2M104 78h1M41 79h2M104 79h1M40 80h2M103 80h2M40 81h1M102 81h2M101 82h1M99 83h2M40 84h1M98 84h1M40 85h1M98 85h1M98 86h1M41 87h1M98 87h1M41 88h1M98 88h1M98 89h1M42 91h1M98 91h1M42 92h1M98 92h1M42 93h1M97 94h1M43 96h1M96 96h1M95 97h1M45 98h1M94 98h1M46 99h1M92 99h1M71 100h1M88 100h1M70 101h1M82 101h1M86 101h1M48 102h1M49 104h1M50 105h1M51 106h1M52 107h1M53 108h1M54 109h1M68 109h1M55 110h1M67 110h1M56 111h1M65 111h1M57 112h2M65 112h1M59 113h2M64 113h2M61 114h5M110 174h1M118 174h1M108 175h1M124 175h2M132 175h1M105 178h1M103 181h1M101 185h1M100 190h1M100 191h1M99 192h1M99 193h1M98 194h1M98 195h1M97 196h1M96 198h1M95 199h1M42 200h1M46 200h1M95 200h1M47 202h1M94 202h1M56 203h1M60 203h2M94 203h1M55 204h1M63 204h1M94 204h1M95 205h1M54 206h1M95 206h1M47 207h1M96 207h1M46 208h1M50 208h3M96 208h2M70 209h1M97 209h2M99 210h1M71 211h1M44 212h1M71 212h1M100 212h1M71 213h1M43 214h1M71 214h1M43 215h1M71 215h1M42 216h2M71 216h1M43 217h1M71 217h1M43 218h2M71 218h1M45 219h7M71 219h1M51 220h3M71 220h1M54 221h1M71 221h1M55 222h1M71 222h1M55 223h2M72 223h1M56 224h1M72 224h1M56 225h1M72 225h1M56 226h1M72 226h1M72 227h1M72 228h2M73 229h1M56 230h1M73 230h1M56 231h1M73 231h1M56 232h1M73 232h1M72 233h2M72 234h1M72 235h1M71 236h2M71 237h1M71 238h1M55 239h1M72 239h1M55 240h1M72 240h1M72 241h1M73 242h1M54 243h1M73 243h1M73 244h1M53 245h1M73 245h1M52 246h1M73 246h1M72 247h2M51 248h1M72 248h1M51 249h1M72 249h1M72 250h1M50 251h1M72 251h1M50 252h1M71 252h2M50 253h1M71 253h1M50 254h1M70 254h2M70 255h1M69 256h1M51 257h1M68 257h2M67 258h2M52 259h1M65 259h2M63 260h2M56 261h6"/><path stroke="#97eb70" d="M213 21h8M211 22h3M219 22h4M209 23h3M222 23h3M208 24h2M224 24h2M207 25h2M226 25h2M206 26h2M227 26h3M205 27h1M229 27h2M204 28h1M231 28h2M203 29h1M232 29h2M202 30h2M233 30h2M201 31h2M234 31h2M200 32h2M235 32h2M199 33h2M236 33h2M198 34h2M237 34h2M197 35h2M238 35h1M195 36h3M238 36h2M194 37h2M239 37h1M193 38h2M239 38h2M192 39h2M240 39h1M191 40h2M240 40h1M191 41h2M240 41h2M132 42h1M190 42h2M241 42h1M133 43h1M190 43h2M241 43h1M134 44h1M190 44h1M241 44h1M135 45h1M189 45h2M241 45h2M136 46h1M189 46h2M241 46h2M137 47h1M189 47h2M241 47h2M137 48h1M189 48h2M241 48h2M138 49h1M189 49h2M241 49h2M190 50h2M241 50h2M116 51h1M139 51h1M190 51h2M241 51h2M116 52h2M190 52h3M241 52h2M116 53h2M138 53h1M191 53h2M241 53h2M116 54h3M137 54h1M191 54h3M241 54h2M117 55h4M124 55h3M135 55h2M192 55h3M241 55h2M117 56h6M129 56h5M193 56h3M241 56h2M193 57h3M241 57h1M194 58h3M240 58h1M194 59h3M72 60h2M195 60h3M69 61h2M75 61h1M195 61h3M68 62h1M77 62h1M195 62h4M67 63h1M78 63h1M111 63h2M116 63h1M196 63h4M66 64h1M79 64h2M110 64h1M117 64h1M196 64h4M65 65h1M81 65h1M197 65h4M64 66h1M82 66h2M197 66h5M62 67h2M84 67h1M110 67h1M198 67h5M60 68h2M85 68h2M110 68h1M117 68h1M199 68h5M57 69h3M87 69h2M111 69h1M200 69h3M53 70h4M89 70h3M113 70h1M51 71h1M91 71h4M49 72h2M94 72h4M222 72h1M49 73h1M98 73h1M48 74h1M99 74h1M48 75h1M100 75h1M47 76h1M101 76h1M46 77h1M102 77h1M45 78h1M102 78h2M43 79h2M102 79h2M42 80h1M102 80h1M41 81h1M100 81h2M40 82h1M99 82h2M40 83h1M98 83h1M97 84h1M41 85h1M97 85h1M41 86h1M97 86h1M97 87h1M42 88h1M97 88h1M42 89h1M42 90h1M98 90h1M97 92h1M97 93h1M43 94h1M43 95h1M96 95h1M95 96h1M44 97h1M93 98h1M72 99h1M90 99h2M47 100h1M81 100h1M48 101h1M85 101h1M49 103h1M50 104h1M51 105h1M68 105h1M52 106h1M68 106h1M53 107h1M68 107h1M54 108h1M68 108h1M55 109h1M56 110h1M65 110h2M57 111h1M64 111h1M59 112h1M63 112h2M61 113h3M111 174h2M116 174h2M109 175h1M121 175h3M126 175h6M107 176h1M106 177h1M104 180h1M102 183h1M101 186h1M101 187h1M101 188h1M101 189h1M101 190h1M100 192h1M99 194h1M98 196h1M97 197h1M97 198h1M96 199h1M96 200h1M95 201h1M95 202h1M42 203h1M57 203h1M59 203h1M95 203h1M43 204h1M46 204h1M95 204h1M55 205h1M66 206h1M96 206h1M54 207h1M68 207h1M97 207h1M49 208h1M53 208h1M69 208h1M98 208h1M99 209h1M45 210h1M70 210h1M100 210h1M100 211h1M44 213h1M44 216h1M44 217h2M45 218h7M52 219h2M70 219h1M54 220h2M70 220h1M55 221h2M70 221h1M56 222h1M70 222h1M57 223h1M71 223h1M57 224h1M71 224h1M57 225h1M71 225h1M57 226h1M71 226h1M57 227h1M71 227h1M57 228h1M71 228h1M57 229h1M72 229h1M57 230h1M72 230h1M57 231h1M72 231h1M57 232h1M71 232h2M56 233h1M71 233h1M56 234h1M71 234h1M56 235h1M71 235h1M56 236h1M70 236h1M56 237h1M70 237h1M56 238h1M70 238h1M56 239h1M71 239h1M71 240h1M55 241h1M71 241h1M55 242h1M72 242h1M72 243h1M54 244h1M72 244h1M72 245h1M53 246h1M72 246h1M52 247h1M71 247h1M71 248h1M71 249h1M51 250h1M71 250h1M70 251h2M70 252h1M69 253h2M69 254h1M68 255h2M51 256h1M68 256h1M67 257h1M52 258h1M66 258h1M64 259h1M54 260h1M62 260h1"/><path stroke="#9eec71" d="M214 22h5M212 23h10M210 24h3M221 24h3M209 25h2M223 25h3M208 26h1M225 26h2M206 27h2M227 27h2M205 28h2M228 28h3M204 29h2M230 29h2M204 30h1M231 30h2M203 31h1M232 31h2M202 32h1M234 32h1M201 33h1M234 33h2M200 34h2M235 34h2M199 35h2M236 35h2M198 36h2M237 36h1M196 37h3M237 37h2M195 38h2M238 38h1M194 39h2M238 39h2M193 40h2M239 40h1M193 41h2M239 41h1M126 42h4M192 42h2M239 42h2M131 43h2M192 43h1M239 43h2M132 44h2M191 44h2M240 44h1M134 45h1M191 45h2M240 45h1M135 46h1M191 46h2M240 46h1M136 47h1M191 47h2M240 47h1M191 48h2M240 48h1M137 49h1M191 49h2M240 49h1M138 50h1M192 50h2M240 50h1M117 51h2M138 51h1M192 51h2M240 51h1M118 52h2M138 52h1M193 52h2M240 52h1M118 53h3M137 53h1M193 53h3M240 53h1M119 54h6M136 54h1M194 54h3M240 54h1M121 55h3M127 55h3M134 55h1M195 55h2M239 55h2M196 56h2M239 56h2M196 57h3M239 57h2M197 58h2M238 58h2M197 59h3M238 59h2M198 60h2M237 60h2M71 61h4M198 61h3M237 61h1M69 62h2M75 62h2M199 62h3M236 62h1M68 63h2M76 63h2M113 63h3M200 63h3M235 63h1M67 64h2M78 64h1M111 64h1M116 64h1M200 64h4M66 65h2M80 65h1M110 65h1M117 65h1M201 65h4M65 66h1M81 66h1M110 66h1M117 66h1M202 66h4M64 67h1M82 67h2M117 67h1M203 67h3M62 68h2M84 68h1M111 68h1M228 68h1M60 69h2M86 69h1M112 69h1M115 69h1M225 69h3M57 70h3M87 70h2M220 70h7M52 71h4M89 71h2M219 71h5M51 72h2M91 72h3M220 72h2M50 73h1M92 73h6M49 74h1M97 74h2M49 75h1M99 75h1M48 76h1M100 76h1M47 77h1M101 77h1M46 78h2M101 78h1M45 79h2M101 79h1M43 80h2M100 80h2M42 81h2M98 81h2M41 82h2M97 82h2M41 83h1M97 83h1M41 84h2M96 84h1M42 85h1M96 85h1M42 86h1M96 86h1M42 87h1M96 87h1M43 89h1M97 89h1M43 90h1M97 90h1M43 91h1M97 91h1M43 92h1M43 93h1M96 93h1M96 94h1M95 95h1M44 96h1M45 97h1M94 97h1M46 98h1M75 98h3M92 98h1M47 99h1M80 99h1M89 99h1M48 100h1M87 100h1M83 101h2M49 102h1M69 102h1M50 103h1M51 104h1M68 104h1M52 105h1M53 106h1M54 107h1M55 108h1M56 109h1M67 109h1M57 110h1M64 110h1M58 111h2M63 111h1M60 112h3M113 174h3M110 175h1M119 175h2M108 176h1M105 179h1M103 182h1M102 184h1M102 185h1M101 191h1M100 193h1M99 195h1M99 196h1M98 197h1M98 198h1M97 199h1M43 200h3M97 200h1M42 201h1M46 201h1M96 201h1M46 202h1M96 202h1M46 203h1M58 203h1M96 203h1M45 204h1M62 204h1M96 204h1M64 205h1M96 205h1M97 206h1M98 207h1M47 208h2M99 208h1M46 209h1M51 209h2M69 209h1M100 209h1M45 211h1M70 211h1M101 211h1M70 212h1M70 213h1M44 214h1M44 215h1M70 215h1M45 216h1M70 216h1M46 217h7M70 217h1M52 218h3M70 218h1M54 219h2M56 220h1M57 221h1M69 221h1M57 222h1M69 222h1M58 223h1M69 223h2M58 224h1M70 224h1M58 225h1M70 225h1M58 226h1M70 226h1M58 227h1M70 227h1M58 228h1M70 228h1M58 229h1M70 229h2M58 230h1M70 230h2M58 231h1M70 231h2M70 232h1M57 233h1M70 233h1M57 234h1M70 234h1M57 235h1M70 235h1M57 236h1M69 236h1M57 237h1M69 237h1M69 238h1M70 239h1M56 240h1M70 240h1M56 241h1M70 241h1M71 242h1M55 243h1M71 243h1M71 244h1M54 245h1M71 245h1M71 246h1M53 247h1M52 248h1M70 248h1M70 249h1M70 250h1M51 251h1M69 251h1M69 252h1M68 253h1M68 254h1M51 255h1M67 255h1M66 256h2M66 257h1M64 258h2M53 259h1M63 259h1M55 260h2M60 260h2"/><path stroke="#a4ed72" d="M213 24h8M211 25h3M221 25h2M209 26h2M223 26h2M208 27h2M225 27h2M207 28h2M226 28h2M206 29h2M228 29h2M205 30h2M229 30h2M204 31h2M231 31h1M203 32h2M232 32h2M202 33h2M233 33h1M202 34h1M234 34h1M201 35h1M234 35h2M200 36h1M235 36h2M199 37h1M236 37h1M197 38h2M236 38h2M196 39h2M237 39h1M195 40h2M237 40h2M195 41h2M238 41h1M194 42h2M238 42h1M125 43h6M193 43h2M238 43h1M124 44h1M130 44h2M193 44h2M238 44h2M123 45h1M132 45h2M193 45h1M238 45h2M122 46h1M134 46h1M193 46h1M239 46h1M135 47h1M193 47h1M239 47h1M136 48h1M193 48h2M239 48h1M193 49h2M239 49h1M119 50h1M121 50h1M137 50h1M194 50h2M239 50h1M119 51h3M137 51h1M194 51h2M239 51h1M120 52h3M137 52h1M195 52h2M238 52h2M121 53h4M196 53h2M238 53h2M125 54h4M135 54h1M197 54h2M238 54h2M130 55h4M197 55h2M238 55h1M198 56h2M237 56h2M199 57h2M237 57h2M199 58h2M237 58h1M200 59h2M236 59h2M200 60h3M235 60h2M201 61h3M234 61h3M71 62h4M202 62h2M233 62h3M70 63h2M74 63h2M203 63h2M233 63h2M69 64h1M76 64h2M112 64h2M115 64h1M204 64h2M68 65h1M78 65h2M111 65h1M116 65h1M205 65h3M66 66h2M80 66h1M111 66h1M206 66h3M227 66h3M65 67h2M81 67h1M111 67h1M208 67h2M225 67h5M64 68h1M82 68h2M116 68h1M214 68h2M221 68h7M62 69h2M84 69h2M113 69h2M217 69h8M60 70h2M86 70h1M218 70h2M56 71h4M88 71h1M53 72h4M89 72h2M51 73h2M90 73h2M50 74h1M91 74h6M50 75h1M95 75h4M49 76h1M97 76h3M48 77h2M99 77h2M48 78h1M99 78h2M47 79h1M99 79h2M45 80h2M97 80h3M44 81h2M96 81h2M43 82h2M96 82h1M42 83h2M95 83h2M43 84h1M95 84h1M43 85h1M95 85h1M43 86h1M95 86h1M43 87h1M95 87h1M43 88h1M96 88h1M96 89h1M96 90h1M44 91h1M96 91h1M44 92h1M96 92h1M44 93h1M44 94h1M95 94h1M44 95h1M45 96h1M94 96h1M46 97h1M93 97h1M47 98h1M74 98h1M78 98h1M90 98h2M48 99h1M88 99h1M49 101h1M50 102h1M52 104h1M53 105h1M54 106h1M55 107h1M57 109h1M65 109h2M58 110h1M63 110h1M60 111h3M111 175h1M118 175h1M129 176h4M107 177h1M106 178h1M104 181h1M103 183h1M102 186h1M102 187h1M102 188h1M102 189h1M101 192h1M100 194h1M100 195h1M99 197h1M98 199h1M97 201h1M42 202h1M97 202h1M97 203h1M44 204h1M56 204h1M61 204h1M97 204h1M97 205h2M55 206h1M65 206h1M98 206h1M67 207h1M99 207h1M54 208h1M68 208h1M100 208h1M50 209h1M53 209h1M101 209h1M69 210h1M101 210h1M102 211h1M45 212h1M45 213h1M45 214h1M70 214h1M45 215h1M46 216h8M53 217h2M55 218h1M69 218h1M56 219h1M69 219h1M57 220h1M69 220h1M58 221h1M68 221h1M58 222h2M68 222h1M59 223h1M68 223h1M59 224h1M68 224h2M59 225h1M68 225h2M59 226h1M69 226h1M59 227h1M69 227h1M59 228h1M69 228h1M59 229h1M69 229h1M59 230h1M69 230h1M59 231h1M69 231h1M58 232h1M69 232h1M58 233h1M69 233h1M58 234h1M69 234h1M58 235h1M69 235h1M68 236h1M68 237h1M57 238h1M57 239h1M69 239h1M57 240h1M69 240h1M69 241h1M56 242h1M70 242h1M70 243h1M55 244h1M70 244h1M70 245h1M54 246h1M70 246h1M70 247h1M53 248h1M69 248h1M52 249h1M69 249h1M52 250h1M69 250h1M68 251h1M51 252h1M67 252h2M51 253h1M67 253h1M51 254h1M66 254h2M66 255h1M65 256h1M52 257h1M65 257h1M63 258h1M54 259h1M62 259h1M57 260h3"/><path stroke="#aaee73" d="M214 25h7M211 26h3M220 26h3M210 27h2M223 27h2M209 28h1M224 28h2M208 29h1M226 29h2M207 30h1M227 30h2M206 31h1M229 31h2M205 32h1M230 32h2M204 33h1M231 33h2M203 34h1M232 34h2M202 35h1M233 35h1M201 36h2M234 36h1M200 37h2M234 37h2M199 38h2M235 38h1M198 39h2M235 39h2M197 40h2M236 40h1M197 41h1M236 41h2M196 42h2M236 42h2M195 43h2M237 43h1M125 44h5M195 44h2M237 44h1M124 45h8M194 45h2M237 45h1M123 46h3M132 46h2M194 46h2M237 46h2M122 47h3M134 47h1M194 47h2M237 47h2M122 48h2M135 48h1M195 48h2M237 48h2M122 49h2M136 49h1M195 49h2M237 49h2M122 50h2M196 50h2M237 50h2M122 51h3M196 51h2M237 51h2M123 52h3M197 52h2M237 52h1M125 53h3M136 53h1M198 53h2M237 53h1M129 54h6M199 54h1M236 54h2M199 55h2M236 55h2M200 56h2M236 56h1M201 57h1M235 57h2M201 58h2M235 58h2M202 59h2M234 59h2M203 60h2M233 60h2M204 61h2M232 61h2M204 62h3M230 62h3M72 63h2M205 63h3M229 63h1M70 64h6M114 64h1M206 64h3M227 64h2M69 65h3M76 65h2M112 65h1M208 65h3M226 65h3M68 66h2M78 66h2M116 66h1M209 66h2M212 66h2M223 66h4M67 67h2M80 67h1M116 67h1M213 67h12M65 68h2M81 68h1M112 68h1M115 68h1M216 68h5M64 69h1M83 69h1M62 70h2M84 70h2M60 71h2M86 71h2M57 72h3M88 72h1M53 73h4M89 73h1M51 74h3M90 74h1M51 75h1M91 75h4M50 76h2M93 76h4M50 77h1M94 77h5M49 78h1M95 78h4M48 79h2M95 79h4M47 80h2M95 80h2M46 81h2M95 81h1M45 82h3M94 82h2M44 83h3M94 83h1M44 84h2M94 84h1M44 85h2M94 85h1M44 86h1M94 86h1M44 87h1M94 87h1M44 88h1M95 88h1M44 89h1M95 89h1M44 90h1M95 92h1M95 93h1M45 94h1M45 95h1M94 95h1M46 96h1M93 96h1M47 97h1M91 97h2M73 98h1M89 98h1M71 99h1M49 100h1M70 100h1M86 100h1M69 101h1M51 103h1M68 103h1M67 107h1M56 108h1M67 108h1M58 109h1M64 109h1M59 110h4M112 175h2M116 175h2M109 176h1M121 176h8M103 184h1M102 190h1M102 191h1M101 193h1M101 194h1M100 196h1M99 198h1M99 199h1M98 200h1M43 201h1M45 201h1M98 201h1M98 202h1M98 203h1M57 204h1M60 204h1M98 204h1M63 205h1M99 205h1M99 206h1M55 207h1M100 207h1M101 208h1M49 209h1M54 209h1M46 210h1M51 210h3M102 210h1M69 211h1M46 214h1M46 215h8M69 215h1M54 216h1M69 216h1M55 217h2M69 217h1M56 218h2M57 219h1M68 219h1M58 220h1M67 220h2M59 221h1M67 221h1M60 222h1M66 222h2M60 223h2M66 223h2M60 224h2M66 224h2M60 225h2M67 225h1M60 226h1M67 226h2M60 227h1M68 227h1M60 228h1M68 228h1M60 229h1M68 229h1M60 230h1M68 230h1M60 231h1M68 231h1M59 232h1M68 232h1M59 233h1M68 233h1M59 234h1M68 234h1M59 235h1M67 235h2M58 236h1M67 236h1M58 237h1M67 237h1M58 238h1M68 238h1M58 239h1M68 239h1M68 240h1M57 241h1M57 242h1M69 242h1M56 243h1M69 243h1M56 244h1M69 244h1M55 245h1M69 245h1M69 246h1M54 247h1M69 247h1M68 248h1M53 249h1M68 249h1M67 250h2M52 251h1M67 251h1M66 252h1M66 253h1M65 254h1M65 255h1M52 256h1M64 256h1M64 257h1M53 258h1M62 258h1M55 259h1M61 259h1"/><path stroke="#b1ef74" d="M214 26h6M212 27h3M220 27h3M210 28h2M222 28h2M209 29h2M224 29h2M208 30h1M226 30h1M207 31h1M227 31h2M206 32h1M228 32h2M205 33h1M230 33h1M204 34h2M231 34h1M203 35h2M231 35h2M203 36h1M232 36h2M202 37h1M233 37h1M201 38h1M233 38h2M200 39h2M234 39h1M199 40h2M234 40h2M198 41h2M235 41h1M198 42h2M235 42h1M197 43h2M235 43h2M197 44h2M236 44h1M196 45h2M236 45h1M126 46h6M196 46h2M236 46h1M125 47h3M132 47h2M196 47h2M236 47h1M124 48h3M134 48h1M197 48h2M236 48h1M124 49h3M197 49h2M236 49h1M124 50h3M136 50h1M198 50h2M236 50h1M125 51h2M136 51h1M198 51h2M236 51h1M126 52h3M136 52h1M199 52h2M235 52h2M128 53h3M134 53h2M200 53h1M235 53h2M200 54h2M235 54h1M201 55h2M234 55h2M202 56h1M234 56h2M202 57h2M233 57h2M203 58h2M232 58h3M204 59h2M231 59h3M205 60h2M230 60h3M206 61h2M229 61h3M207 62h2M228 62h2M208 63h2M226 63h3M209 64h3M224 64h3M72 65h4M113 65h3M211 65h7M219 65h7M70 66h8M112 66h1M214 66h9M69 67h2M77 67h3M112 67h1M67 68h3M79 68h2M113 68h2M65 69h3M81 69h2M64 70h1M83 70h1M62 71h2M85 71h1M60 72h2M86 72h2M57 73h3M88 73h1M54 74h4M89 74h1M52 75h4M90 75h1M52 76h2M91 76h2M51 77h2M92 77h2M50 78h2M93 78h2M50 79h1M93 79h2M49 80h2M93 80h2M48 81h2M93 81h2M48 82h1M93 82h1M47 83h2M93 83h1M46 84h2M93 84h1M46 85h1M93 85h1M45 86h2M93 86h1M45 87h2M45 88h2M94 88h1M45 89h1M94 89h1M45 90h1M95 90h1M45 91h1M95 91h1M45 92h1M45 93h1M94 93h1M94 94h1M46 95h1M93 95h1M47 96h1M92 96h1M90 97h1M48 98h1M79 98h1M49 99h1M87 99h1M82 100h1M85 100h1M50 101h1M51 102h1M52 103h1M53 104h1M54 105h1M67 105h1M55 106h1M67 106h1M56 107h1M57 108h1M66 108h1M59 109h1M63 109h1M114 175h2M110 176h1M120 176h1M108 177h1M130 177h3M107 178h1M106 179h1M105 180h1M104 182h1M103 185h1M103 186h1M103 187h1M103 188h1M102 192h1M101 195h1M100 197h1M100 198h1M99 200h1M44 201h1M99 201h1M45 202h1M99 202h1M45 203h1M99 203h1M58 204h2M99 204h1M56 205h1M62 205h1M100 205h1M64 206h1M100 206h1M66 207h1M101 207h1M55 208h1M67 208h1M102 208h1M47 209h2M68 209h1M102 209h1M50 210h1M54 210h1M103 210h1M46 211h1M51 211h3M46 212h1M52 212h1M69 212h1M46 213h1M51 213h3M69 213h1M47 214h7M69 214h1M54 215h1M55 216h2M57 217h1M68 217h1M58 218h1M68 218h1M58 219h2M67 219h1M59 220h2M66 220h1M60 221h3M64 221h3M61 222h5M62 223h4M62 224h4M62 225h5M61 226h3M65 226h2M61 227h2M66 227h2M61 228h1M66 228h2M61 229h1M66 229h2M61 230h1M67 230h1M61 231h1M66 231h2M60 232h2M66 232h2M60 233h1M66 233h2M60 234h1M66 234h2M60 235h1M66 235h1M59 236h2M66 236h1M59 237h1M66 237h1M59 238h1M66 238h2M59 239h1M67 239h1M58 240h1M67 240h1M58 241h1M68 241h1M68 242h1M57 243h1M68 243h1M68 244h1M56 245h1M68 245h1M55 246h1M68 246h1M55 247h1M68 247h1M54 248h1M67 249h1M53 250h1M66 250h1M66 251h1M52 252h1M65 252h1M52 253h1M65 253h1M52 254h1M52 255h1M64 255h1M53 257h1M63 257h1M56 259h5"/><path stroke="#b7f075" d="M215 27h5M212 28h3M220 28h2M211 29h2M222 29h2M209 30h2M224 30h2M208 31h2M225 31h2M207 32h2M227 32h1M206 33h2M228 33h2M206 34h1M229 34h2M205 35h1M230 35h1M204 36h1M231 36h1M203 37h1M231 37h2M202 38h2M232 38h1M202 39h1M233 39h1M201 40h1M233 40h1M200 41h2M233 41h2M200 42h1M234 42h1M199 43h2M234 43h1M199 44h2M234 44h2M198 45h2M234 45h2M198 46h2M235 46h1M128 47h4M198 47h2M235 47h1M127 48h3M132 48h2M199 48h2M235 48h1M127 49h2M135 49h1M199 49h2M235 49h1M127 50h2M200 50h1M234 50h2M127 51h2M200 51h2M234 51h2M129 52h2M135 52h1M201 52h1M234 52h1M131 53h3M201 53h2M234 53h1M202 54h2M233 54h2M203 55h1M233 55h1M203 56h2M232 56h2M204 57h2M231 57h2M205 58h2M230 58h2M206 59h2M229 59h2M207 60h2M228 60h2M208 61h2M226 61h3M209 62h2M225 62h3M210 63h3M223 63h3M212 64h12M218 65h1M113 66h3M71 67h6M113 67h1M115 67h1M70 68h3M76 68h3M68 69h2M79 69h2M65 70h3M81 70h2M64 71h2M83 71h2M62 72h2M85 72h1M60 73h2M87 73h1M58 74h2M88 74h1M56 75h3M89 75h1M54 76h3M90 76h1M53 77h2M90 77h2M52 78h2M91 78h2M51 79h2M92 79h1M51 80h1M92 80h1M50 81h2M92 81h1M49 82h2M92 82h1M49 83h1M92 83h1M48 84h2M92 84h1M47 85h2M92 85h1M47 86h2M92 86h1M47 87h1M93 87h1M47 88h1M93 88h1M46 89h2M46 90h1M94 90h1M46 91h1M94 91h1M46 92h1M94 92h1M46 93h1M46 94h1M93 94h1M47 95h1M92 95h1M48 96h1M91 96h1M48 97h1M89 97h1M49 98h1M72 98h1M88 98h1M81 99h1M86 99h1M50 100h1M83 100h2M51 101h1M68 102h1M54 104h1M67 104h1M55 105h1M56 106h1M57 107h1M66 107h1M58 108h1M64 108h2M60 109h3M111 176h1M118 176h2M109 177h1M128 177h2M132 178h1M105 181h1M104 183h1M104 184h1M103 189h1M103 190h1M102 193h1M102 194h1M101 196h1M101 197h1M100 199h1M100 200h1M100 201h1M43 202h1M43 203h2M100 203h1M100 204h1M61 205h1M56 206h1M101 206h1M56 207h1M102 207h1M55 209h1M103 209h1M47 210h1M49 210h1M68 210h1M50 211h1M54 211h1M47 212h1M50 212h2M53 212h2M47 213h4M54 213h1M54 214h2M55 215h2M68 215h1M57 216h1M68 216h1M58 217h1M59 218h1M67 218h1M60 219h1M65 219h2M61 220h5M63 221h1M64 226h1M63 227h3M62 228h4M62 229h4M62 230h5M62 231h4M62 232h4M61 233h5M61 234h5M61 235h5M61 236h5M60 237h2M64 237h2M60 238h2M65 238h1M60 239h1M65 239h2M59 240h1M66 240h1M59 241h1M66 241h2M58 242h1M67 242h1M58 243h1M67 243h1M57 244h1M67 244h1M57 245h1M67 245h1M56 246h1M67 246h1M67 247h1M55 248h1M67 248h1M54 249h1M66 249h1M65 250h1M53 251h1M65 251h1M64 252h1M64 253h1M64 254h1M63 255h1M63 256h1M62 257h1M54 258h1M60 258h2"/><path stroke="#bef276" d="M215 28h5M213 29h2M219 29h3M211 30h2M222 30h2M210 31h1M224 31h1M209 32h1M225 32h2M208 33h1M226 33h2M207 34h1M228 34h1M206 35h1M229 35h1M205 36h1M229 36h2M204 37h2M230 37h1M204 38h1M231 38h1M203 39h1M231 39h2M202 40h2M232 40h1M202 41h1M232 41h1M201 42h2M233 42h1M201 43h2M233 43h1M201 44h1M233 44h1M200 45h2M233 45h1M200 46h2M233 46h2M200 47h2M233 47h2M130 48h2M201 48h1M233 48h2M129 49h6M201 49h2M233 49h2M129 50h2M135 50h1M201 50h2M233 50h1M129 51h3M135 51h1M202 51h1M233 51h1M131 52h4M202 52h2M233 52h1M203 53h1M232 53h2M204 54h1M232 54h1M204 55h2M231 55h2M205 56h2M230 56h2M206 57h1M229 57h2M207 58h1M228 58h2M208 59h1M227 59h2M209 60h2M226 60h2M210 61h2M224 61h2M211 62h3M222 62h3M213 63h10M114 67h1M73 68h3M70 69h9M68 70h4M78 70h3M66 71h2M81 71h2M64 72h2M83 72h2M62 73h2M85 73h2M60 74h2M87 74h1M59 75h2M88 75h1M57 76h2M88 76h2M55 77h3M89 77h1M54 78h2M90 78h1M53 79h2M90 79h2M52 80h2M91 80h1M52 81h1M91 81h1M51 82h2M91 82h1M50 83h2M91 83h1M50 84h1M91 84h1M49 85h2M91 85h1M49 86h1M91 86h1M48 87h2M92 87h1M48 88h1M92 88h1M48 89h1M93 89h1M47 90h2M93 90h1M47 91h1M93 91h1M47 92h1M93 92h1M47 93h1M93 93h1M47 94h1M92 94h1M48 95h1M90 96h1M49 97h1M80 98h1M87 98h1M50 99h1M51 100h1M69 100h1M52 102h1M53 103h1M66 106h1M58 107h1M65 107h1M59 108h5M112 176h6M110 177h1M122 177h6M108 178h1M130 178h2M133 179h1M106 180h1M105 182h1M104 185h1M104 186h1M103 191h1M103 192h1M102 195h1M102 196h1M101 198h1M101 199h1M101 200h1M44 202h1M100 202h1M101 204h1M57 205h1M60 205h1M101 205h1M63 206h1M102 206h1M65 207h1M56 208h1M103 208h1M67 209h1M104 209h1M48 210h1M55 210h1M47 211h3M55 211h1M68 211h1M48 212h2M55 212h1M68 212h1M55 213h1M68 213h1M68 214h1M67 216h1M59 217h1M67 217h1M60 218h1M65 218h2M61 219h4M62 237h2M62 238h3M61 239h4M60 240h6M60 241h1M65 241h1M59 242h2M65 242h2M59 243h1M66 243h1M58 244h1M66 244h1M58 245h1M66 245h1M57 246h1M66 246h1M56 247h1M66 247h1M56 248h1M65 248h2M55 249h1M65 249h1M54 250h1M64 250h1M64 251h1M53 252h1M63 252h1M63 253h1M63 254h1M62 255h1M53 256h1M62 256h1M54 257h1M61 257h1M55 258h2M59 258h1"/><path stroke="#c4f377" d="M215 29h4M213 30h2M219 30h3M211 31h2M222 31h2M210 32h2M223 32h2M209 33h1M225 33h1M208 34h1M226 34h2M207 35h1M227 35h2M206 36h2M228 36h1M206 37h1M229 37h1M205 38h1M229 38h2M204 39h2M230 39h1M204 40h1M231 40h1M203 41h2M231 41h1M203 42h1M231 42h2M203 43h1M232 43h1M202 44h2M232 44h1M202 45h2M232 45h1M202 46h2M232 46h1M202 47h2M232 47h1M202 48h2M232 48h1M203 49h1M232 49h1M131 50h4M203 50h1M232 50h1M132 51h3M203 51h2M231 51h2M204 52h1M231 52h2M204 53h2M231 53h1M205 54h1M230 54h2M206 55h1M229 55h2M207 56h1M229 56h1M207 57h2M227 57h2M208 58h2M226 58h2M209 59h2M225 59h2M211 60h2M223 60h3M212 61h3M221 61h3M214 62h8M72 70h6M68 71h13M66 72h4M81 72h2M64 73h2M84 73h1M62 74h2M85 74h2M61 75h2M87 75h1M59 76h2M87 76h1M58 77h2M88 77h1M56 78h2M89 78h1M55 79h2M89 79h1M54 80h2M90 80h1M53 81h2M90 81h1M53 82h1M90 82h1M52 83h1M90 83h1M51 84h2M90 84h1M51 85h1M90 85h1M50 86h2M90 86h1M50 87h1M91 87h1M49 88h2M49 89h1M92 89h1M49 90h1M92 90h1M48 91h2M48 92h1M92 92h1M48 93h1M92 93h1M48 94h1M49 95h1M91 95h1M49 96h1M89 96h1M50 97h1M88 97h1M50 98h1M71 98h1M51 99h1M70 99h1M82 99h1M85 99h1M52 101h1M68 101h1M53 102h1M54 103h1M67 103h1M55 104h1M56 105h1M66 105h1M57 106h1M59 107h1M64 107h1M111 177h1M119 177h3M109 178h1M129 178h1M107 179h1M132 179h1M105 183h1M104 187h1M104 188h1M104 189h1M103 193h1M103 194h1M102 197h1M102 198h1M101 201h1M101 202h1M101 203h1M102 204h1M58 205h2M102 205h1M103 206h1M103 207h1M66 208h1M104 208h1M56 209h1M67 210h1M56 213h1M56 214h1M67 214h1M57 215h1M67 215h1M58 216h1M66 216h1M60 217h1M65 217h2M61 218h4M61 241h4M61 242h4M60 243h2M64 243h2M59 244h2M65 244h1M59 245h1M65 245h1M58 246h2M65 246h1M57 247h2M65 247h1M57 248h1M64 248h1M56 249h1M63 249h2M55 250h1M63 250h1M54 251h1M62 251h2M62 252h1M53 253h1M62 253h1M53 254h1M62 254h1M53 255h1M61 256h1M60 257h1M57 258h2"/><path stroke="#caf478" d="M215 30h4M213 31h3M219 31h3M212 32h1M222 32h1M210 33h2M223 33h2M209 34h2M225 34h1M208 35h2M226 35h1M208 36h1M227 36h1M207 37h1M228 37h1M206 38h1M228 38h1M206 39h1M229 39h1M205 40h1M229 40h2M205 41h1M230 41h1M204 42h1M230 42h1M204 43h1M230 43h2M204 44h1M231 44h1M204 45h1M231 45h1M204 46h1M231 46h1M204 47h1M231 47h1M204 48h1M231 48h1M204 49h1M231 49h1M204 50h2M230 50h2M205 51h1M230 51h1M205 52h2M230 52h1M206 53h1M229 53h2M206 54h2M229 54h1M207 55h2M228 55h1M208 56h1M227 56h2M209 57h1M226 57h1M210 58h2M224 58h2M211 59h2M223 59h2M213 60h2M220 60h3M215 61h6M70 72h11M66 73h8M81 73h3M64 74h3M84 74h1M63 75h2M85 75h2M61 76h3M86 76h1M60 77h2M87 77h1M58 78h2M88 78h1M57 79h2M88 79h1M56 80h1M89 80h1M55 81h1M89 81h1M54 82h1M89 82h1M53 83h2M89 83h1M53 84h1M89 84h1M52 85h1M89 85h1M52 86h1M51 87h1M90 87h1M51 88h1M91 88h1M50 89h1M91 89h1M50 90h1M50 91h1M92 91h1M49 92h1M49 93h1M91 93h1M49 94h1M91 94h1M50 95h1M90 95h1M50 96h1M74 97h5M87 97h1M51 98h1M81 98h1M86 98h1M83 99h2M52 100h1M53 101h1M67 102h1M66 104h1M57 105h1M58 106h1M65 106h1M60 107h4M112 177h2M118 177h1M110 178h1M127 178h2M108 179h1M130 179h2M107 180h1M132 180h2M106 181h1M105 184h1M105 185h1M105 186h1M104 190h1M104 191h1M103 195h1M103 196h1M102 199h1M102 200h1M102 201h1M102 202h1M102 203h1M103 205h1M57 206h1M62 206h1M57 207h1M64 207h1M104 207h1M57 208h1M105 208h1M56 210h1M56 211h1M67 211h1M56 212h1M67 212h1M67 213h1M57 214h1M58 215h1M66 215h1M59 216h1M65 216h1M61 217h4M62 243h2M61 244h4M60 245h5M60 246h5M59 247h6M58 248h6M57 249h6M56 250h1M60 250h3M61 251h1M54 252h1M61 252h1M61 253h1M61 254h1M61 255h1M54 256h1M60 256h1M55 257h2M58 257h2"/><path stroke="#d1f579" d="M216 31h3M213 32h3M219 32h3M212 33h2M221 33h2M211 34h1M223 34h2M210 35h1M224 35h2M209 36h1M225 36h2M208 37h1M226 37h2M207 38h1M227 38h1M207 39h1M228 39h1M206 40h1M228 40h1M206 41h1M229 41h1M205 42h2M229 42h1M205 43h1M229 43h1M205 44h1M229 44h2M205 45h1M229 45h2M205 46h1M230 46h1M205 47h1M230 47h1M205 48h1M229 48h2M205 49h2M229 49h2M206 50h1M229 50h1M206 51h1M229 51h1M207 52h1M228 52h2M207 53h1M228 53h1M208 54h1M227 54h2M209 55h1M226 55h2M209 56h2M225 56h2M210 57h2M224 57h2M212 58h2M222 58h2M213 59h3M220 59h3M215 60h5M74 73h7M67 74h9M82 74h2M65 75h5M84 75h1M64 76h2M85 76h1M62 77h2M86 77h1M60 78h3M87 78h1M59 79h2M57 80h2M88 80h1M56 81h2M88 81h1M55 82h2M88 82h1M55 83h1M88 83h1M54 84h1M88 84h1M53 85h1M53 86h1M89 86h1M52 87h1M89 87h1M52 88h1M90 88h1M51 89h1M90 89h1M51 90h1M91 90h1M51 91h1M91 91h1M50 92h1M91 92h1M50 93h1M50 94h1M90 94h1M89 95h1M51 96h1M88 96h1M51 97h1M73 97h1M79 97h1M85 98h1M52 99h1M69 99h1M68 100h1M54 102h1M55 103h1M66 103h1M56 104h1M65 105h1M59 106h1M63 106h2M114 177h4M111 178h1M121 178h6M109 179h1M129 179h1M131 180h1M132 181h1M106 182h1M106 183h1M105 187h1M105 188h1M104 192h1M104 193h1M103 197h1M103 198h1M103 199h1M103 200h1M103 203h1M103 204h1M58 206h1M61 206h1M104 206h1M63 207h1M105 207h1M65 208h1M57 209h1M66 209h1M57 213h1M66 213h1M58 214h1M66 214h1M59 215h1M65 215h1M60 216h5M57 250h3M55 251h2M58 251h3M60 252h1M54 253h1M60 253h1M54 254h1M60 254h1M54 255h1M60 255h1M55 256h1M59 256h1M57 257h1"/><path stroke="#d7f67a" d="M216 32h3M214 33h7M212 34h2M221 34h2M211 35h2M223 35h1M210 36h1M224 36h1M209 37h1M225 37h1M208 38h2M226 38h1M208 39h1M226 39h2M207 40h1M227 40h1M207 41h1M227 41h2M207 42h1M228 42h1M206 43h1M228 43h1M206 44h1M228 44h1M206 45h1M228 45h1M206 46h1M228 46h2M206 47h1M228 47h2M206 48h1M228 48h1M207 49h1M228 49h1M207 50h1M228 50h1M207 51h1M228 51h1M208 52h1M227 52h1M208 53h2M226 53h2M209 54h1M226 54h1M210 55h1M225 55h1M211 56h2M223 56h2M212 57h2M222 57h2M214 58h3M219 58h3M216 59h4M76 74h6M70 75h7M82 75h2M66 76h7M84 76h1M64 77h4M85 77h1M63 78h2M86 78h1M61 79h2M87 79h1M59 80h2M87 80h1M58 81h2M87 81h1M57 82h1M56 83h1M55 84h1M54 85h1M88 85h1M54 86h1M88 86h1M53 87h1M53 88h1M89 88h1M52 89h1M52 90h1M90 90h1M90 91h1M51 92h1M90 92h1M51 93h1M90 93h1M51 94h1M89 94h1M51 95h1M88 95h1M87 96h1M52 97h1M72 97h1M80 97h1M86 97h1M52 98h1M70 98h1M82 98h3M53 100h1M54 101h1M67 101h1M55 102h1M56 103h1M57 104h1M65 104h1M58 105h1M64 105h1M60 106h3M112 178h1M119 178h2M110 179h1M126 179h3M108 180h1M129 180h2M107 181h1M131 181h1M132 182h1M106 184h1M106 185h1M105 189h1M105 190h1M104 194h1M104 195h1M104 196h1M104 197h1M103 201h1M103 202h1M104 204h1M104 205h1M59 206h2M105 206h1M58 207h1M64 208h1M65 209h1M57 210h1M66 210h1M57 211h1M66 211h1M57 212h1M66 212h1M65 214h1M60 215h1M63 215h2M57 251h1M55 252h2M58 252h2M55 253h1M59 253h1M59 254h1M59 255h1M56 256h3"/><path stroke="#ddf77b" d="M214 34h7M213 35h2M220 35h3M211 36h2M222 36h2M210 37h2M223 37h2M210 38h1M224 38h2M209 39h1M225 39h1M208 40h1M226 40h1M208 41h1M226 41h1M208 42h1M227 42h1M207 43h1M227 43h1M207 44h1M227 44h1M207 45h1M227 45h1M207 46h1M227 46h1M207 47h1M227 47h1M207 48h1M227 48h1M208 49h1M227 49h1M208 50h1M227 50h1M208 51h2M226 51h2M209 52h1M226 52h1M210 53h1M225 53h1M210 54h2M224 54h2M211 55h2M223 55h2M213 56h2M221 56h2M214 57h8M217 58h2M77 75h5M73 76h4M82 76h2M68 77h6M84 77h1M65 78h6M85 78h1M63 79h3M86 79h1M61 80h3M86 80h1M60 81h2M58 82h2M87 82h1M57 83h2M87 83h1M56 84h1M87 84h1M55 85h1M87 85h1M55 86h1M87 86h1M54 87h1M88 87h1M88 88h1M53 89h1M89 89h1M89 90h1M52 91h1M52 92h1M52 93h1M89 93h1M52 94h1M52 95h1M52 96h1M86 96h1M81 97h1M85 97h1M53 98h1M53 99h1M54 100h1M66 102h1M65 103h1M58 104h1M59 105h5M113 178h6M111 179h1M121 179h5M109 180h1M127 180h2M108 181h1M129 181h2M107 182h1M130 182h2M107 183h1M132 183h1M133 184h1M133 185h2M106 186h1M134 186h2M106 187h1M135 187h2M136 188h2M137 189h1M137 190h2M105 191h1M138 191h1M104 198h1M104 199h1M104 200h1M104 201h1M104 202h1M104 203h1M105 205h1M62 207h1M106 207h1M58 208h1M65 210h1M65 212h1M58 213h1M65 213h1M59 214h1M64 214h1M61 215h2M57 252h1M56 253h3M55 254h1M58 254h1M55 255h4"/><path stroke="#e4f87c" d="M215 35h5M213 36h2M220 36h2M212 37h1M222 37h1M211 38h1M223 38h1M210 39h1M224 39h1M209 40h1M225 40h1M209 41h1M225 41h1M209 42h1M226 42h1M208 43h1M226 43h1M208 44h1M226 44h1M208 45h1M226 45h1M208 46h1M226 46h1M208 47h1M226 47h1M208 48h1M226 48h1M209 49h1M226 49h1M209 50h1M226 50h1M210 51h1M225 51h1M210 52h1M224 52h2M211 53h1M224 53h1M212 54h1M222 54h2M213 55h2M220 55h3M215 56h6M77 76h5M74 77h3M82 77h2M71 78h4M84 78h1M66 79h7M85 79h1M64 80h3M85 80h1M62 81h2M86 81h1M60 82h2M86 82h1M59 83h1M86 83h1M57 84h2M86 84h1M56 85h2M56 86h1M55 87h1M87 87h1M54 88h1M54 89h1M88 89h1M53 90h1M53 91h1M89 91h1M53 92h1M89 92h1M88 94h1M87 95h1M53 96h1M53 97h1M71 97h1M82 97h3M54 99h1M68 99h1M67 100h1M55 101h1M66 101h1M56 102h1M57 103h1M59 104h1M63 104h2M112 179h2M119 179h2M110 180h1M124 180h3M109 181h1M127 181h2M108 182h1M129 182h1M130 183h2M107 184h1M131 184h2M107 185h1M131 185h2M132 186h2M133 187h2M106 188h1M133 188h3M106 189h1M134 189h3M134 190h3M135 191h3M105 192h1M136 192h2M105 193h1M136 193h2M105 194h1M137 194h1M105 195h1M105 196h1M105 197h1M105 204h1M106 206h1M59 207h3M63 208h1M58 209h1M64 209h1M65 211h1M58 212h1M59 213h1M64 213h1M60 214h4M56 254h2"/><path stroke="#eafa7d" d="M215 36h5M213 37h3M219 37h3M212 38h2M221 38h2M211 39h1M223 39h1M210 40h2M224 40h1M210 41h1M224 41h1M210 42h1M225 42h1M209 43h1M225 43h1M209 44h1M225 44h1M209 45h1M225 45h1M209 46h1M225 46h1M209 47h1M225 47h1M209 48h1M225 48h1M210 49h1M225 49h1M210 50h1M224 50h2M211 51h1M224 51h1M211 52h2M223 52h1M212 53h2M222 53h2M213 54h3M220 54h2M215 55h5M77 77h5M75 78h2M82 78h2M73 79h2M84 79h1M67 80h6M84 80h1M64 81h4M85 81h1M62 82h3M85 82h1M60 83h2M59 84h1M58 85h1M86 85h1M57 86h1M86 86h1M56 87h1M55 88h1M87 88h1M55 89h1M54 90h1M88 90h1M54 91h1M88 91h1M88 92h1M53 93h1M88 93h1M53 94h1M87 94h1M53 95h1M86 95h1M77 96h4M84 96h2M54 98h1M69 98h1M55 100h1M56 101h1M57 102h1M65 102h1M58 103h1M64 103h1M60 104h3M114 179h5M111 180h2M120 180h4M110 181h1M124 181h3M109 182h1M126 182h3M108 183h1M127 183h3M108 184h1M128 184h3M129 185h2M107 186h1M129 186h3M107 187h1M130 187h3M130 188h3M130 189h4M106 190h1M131 190h3M131 191h4M132 192h4M132 193h4M133 194h4M134 195h3M134 196h2M105 198h1M105 199h1M105 200h1M105 201h1M105 202h1M105 203h1M106 205h1M107 206h1M58 210h1M64 210h1M58 211h1M64 211h1M64 212h1M60 213h1M62 213h2"/><path stroke="#f0fb7e" d="M216 37h3M214 38h7M212 39h2M221 39h2M212 40h1M222 40h2M211 41h1M223 41h1M224 42h1M210 43h1M224 43h1M210 44h1M224 44h1M210 45h1M224 45h1M210 46h1M224 46h1M210 47h1M224 47h1M210 48h1M224 48h1M211 49h1M224 49h1M211 50h1M223 50h1M212 51h1M223 51h1M213 52h1M221 52h2M214 53h3M219 53h3M216 54h4M77 78h5M75 79h2M82 79h2M73 80h2M83 80h1M68 81h5M84 81h1M65 82h4M62 83h4M85 83h1M60 84h3M85 84h1M59 85h2M85 85h1M58 86h1M57 87h1M86 87h1M56 88h1M86 88h1M87 89h1M55 90h1M87 90h1M87 91h1M54 92h1M87 92h1M54 93h1M87 93h1M54 94h1M86 94h1M54 95h1M85 95h1M54 96h1M72 96h5M81 96h3M54 97h1M70 97h1M55 98h1M55 99h1M67 99h1M56 100h1M66 100h1M57 101h1M65 101h1M58 102h1M64 102h1M59 103h5M113 180h7M111 181h2M120 181h4M110 182h1M123 182h3M109 183h1M124 183h3M109 184h1M125 184h3M108 185h1M125 185h4M108 186h1M126 186h3M126 187h4M107 188h1M126 188h4M127 189h3M127 190h4M106 191h1M128 191h3M106 192h1M128 192h4M129 193h3M130 194h3M130 195h4M131 196h3M132 197h3M106 203h1M106 204h1M107 205h1M108 206h1M109 207h1M59 208h1M62 208h1M63 209h1M59 212h1M63 212h1M61 213h1"/><path stroke="#f7fc7f" d="M214 39h7M213 40h1M221 40h1M212 41h1M222 41h1M211 42h1M223 42h1M211 43h1M223 43h1M211 44h1M223 44h1M211 45h1M223 45h1M211 46h1M223 46h1M211 47h1M223 47h1M211 48h1M223 48h1M212 49h1M223 49h1M212 50h1M222 50h1M213 51h1M221 51h2M214 52h7M217 53h2M77 79h5M75 80h2M82 80h1M73 81h2M83 81h1M69 82h3M84 82h1M66 83h3M84 83h1M63 84h3M61 85h2M59 86h2M85 86h1M58 87h2M85 87h1M57 88h1M56 89h2M86 89h1M56 90h1M86 90h1M55 91h1M55 92h1M55 93h1M86 93h1M55 94h1M85 94h1M55 95h1M83 95h2M55 96h1M55 97h1M68 98h1M56 99h1M66 99h1M57 100h1M65 100h1M58 101h1M64 101h1M59 102h2M63 102h1M113 181h7M111 182h3M119 182h4M110 183h2M120 183h4M110 184h1M121 184h4M109 185h1M122 185h3M122 186h4M108 187h1M122 187h4M123 188h3M107 189h1M123 189h4M107 190h1M124 190h3M125 191h3M126 192h2M106 193h1M127 193h2M106 194h1M127 194h3M106 195h1M128 195h2M106 196h1M128 196h3M106 197h1M106 198h1M106 199h1M106 200h1M106 201h1M106 202h1M107 204h1M60 208h2M59 209h1M63 210h1M59 211h1M63 211h1M60 212h3"/><path stroke="#fdfd80" d="M214 40h7M213 41h1M221 41h1M212 42h1M222 42h1M212 43h1M222 43h1M212 44h1M222 44h1M212 46h1M212 47h1M222 47h1M212 48h1M222 48h1M213 49h1M222 49h1M213 50h2M221 50h1M214 51h3M218 51h3M77 80h5M75 81h2M81 81h2M72 82h3M83 82h1M69 83h3M83 83h1M66 84h4M84 84h1M63 85h4M84 85h1M61 86h3M84 86h1M60 87h1M58 88h2M85 88h1M58 89h1M85 89h1M57 90h1M56 91h1M86 91h1M56 92h1M86 92h1M56 93h1M85 93h1M84 94h1M79 95h4M71 96h1M56 97h1M69 97h1M56 98h1M67 98h1M57 99h1M58 100h1M64 100h1M59 101h2M63 101h1M61 102h2M114 182h5M112 183h8M111 184h2M117 184h4M110 185h1M118 185h4M109 186h1M119 186h3M120 187h2M108 188h1M121 188h2M122 189h1M122 190h2M107 191h1M123 191h2M124 192h2M125 193h2M125 194h2M126 195h2M126 196h2M127 197h1M107 202h1M107 203h1M108 205h1M109 206h1M62 209h1M59 210h1M62 210h1M62 211h1"/><path stroke="#fdfb7f" d="M214 41h2M219 41h2M213 42h1M220 42h2M213 43h1M221 43h1M212 45h1M222 45h1M222 46h1M213 48h1M221 48h1M214 49h1M220 49h2M215 50h2M219 50h2M217 51h1M77 81h4M75 82h3M81 82h2M72 83h4M82 83h1M70 84h2M83 84h1M67 85h3M83 85h1M64 86h4M61 87h3M84 87h1M60 88h2M84 88h1M59 89h1M84 89h1M58 90h1M84 90h2M57 91h2M85 91h1M57 92h1M84 92h2M57 93h1M83 93h2M56 94h1M81 94h3M56 95h1M77 95h2M56 96h1M70 96h1M57 97h1M68 97h1M57 98h1M66 98h1M58 99h1M64 99h2M59 100h5M61 101h2M113 184h4M111 185h7M110 186h1M116 186h3M109 187h1M118 187h2M119 188h2M108 189h1M120 189h2M121 190h1M122 191h1M107 192h1M123 192h1M107 193h1M124 193h1M124 194h1M124 195h2M107 196h1M125 196h1M107 197h1M125 197h2M107 198h1M125 198h1M107 199h1M107 200h1M107 201h1M108 203h1M108 204h1M109 205h1M110 206h1M60 209h2M60 210h2M60 211h2"/><path stroke="#fdf97d" d="M216 41h3M214 42h2M219 42h1M214 43h1M220 43h1M213 44h1M221 44h1M213 45h1M221 45h1M213 46h1M221 46h1M213 47h1M221 47h1M214 48h1M220 48h1M215 49h1M219 49h1M217 50h2M78 82h3M76 83h6M72 84h5M81 84h2M70 85h6M82 85h1M68 86h4M82 86h2M64 87h6M83 87h1M62 88h4M83 88h1M60 89h3M83 89h1M59 90h2M83 90h1M59 91h1M83 91h2M58 92h1M83 92h1M58 93h1M81 93h2M57 94h2M79 94h2M57 95h2M72 95h5M57 96h2M69 96h1M58 97h1M67 97h1M58 98h2M63 98h3M59 99h5M111 186h5M110 187h1M115 187h3M109 188h1M117 188h2M118 189h2M108 190h1M120 190h1M121 191h1M122 192h1M122 193h2M107 194h1M123 194h1M107 195h1M123 195h1M123 196h2M124 197h1M124 198h1M108 202h1M109 204h1M110 205h2"/><path stroke="#fdf77c" d="M216 42h3M215 43h1M219 43h1M214 44h1M220 44h1M214 45h1M220 45h1M214 46h1M220 46h1M214 47h1M220 47h1M215 48h1M218 48h2M216 49h3M77 84h4M76 85h6M72 86h10M70 87h13M66 88h17M63 89h7M75 89h3M81 89h2M61 90h3M81 90h2M60 91h2M81 91h2M59 92h2M81 92h2M59 93h2M80 93h1M59 94h2M78 94h1M59 95h2M71 95h1M59 96h3M68 96h1M59 97h8M60 98h3M111 187h4M110 188h1M115 188h2M109 189h1M116 189h2M118 190h2M108 191h1M120 191h1M108 192h1M121 192h1M121 193h1M122 194h1M122 195h1M122 196h1M122 197h2M122 198h2M108 199h1M122 199h1M108 200h1M108 201h1M109 203h1M110 204h1"/><path stroke="#fdf57b" d="M216 43h3M215 44h1M218 44h2M215 45h1M219 45h1M215 46h1M219 46h1M215 47h2M218 47h2M216 48h2M70 89h5M78 89h3M64 90h7M74 90h7M62 91h4M78 91h3M61 92h3M79 92h2M61 93h3M78 93h2M61 94h3M71 94h4M76 94h2M61 95h4M69 95h2M62 96h6M111 188h4M110 189h1M115 189h1M109 190h1M117 190h1M118 191h2M120 192h1M108 193h1M120 193h1M108 194h1M121 194h1M108 195h1M121 195h1M108 196h1M121 196h1M108 197h1M121 197h1M108 198h1M121 198h1M121 199h1M109 202h1M110 203h1M111 204h2"/><path stroke="#fdf379" d="M216 44h2M216 45h3M216 46h3M217 47h1M71 90h3M66 91h12M64 92h8M76 92h3M64 93h4M70 93h5M76 93h2M64 94h7M75 94h1M65 95h4M111 189h4M110 190h1M116 190h1M109 191h1M117 191h1M119 192h1M120 194h1M120 195h1M120 196h1M120 197h1M120 198h1M119 199h2M109 200h1M109 201h1M110 202h1M111 203h2"/><path stroke="#fdf178" d="M72 92h4M68 93h2M75 93h1M111 190h1M114 190h2M116 191h1M109 192h1M118 192h1M119 193h1M119 194h1M119 195h1M119 196h1M119 197h1M109 198h1M118 198h2M109 199h1M118 199h1M117 200h1M110 201h1M116 201h1M111 202h2M114 202h2"/><path stroke="#fdef77" d="M112 190h2M110 191h1M115 191h1M117 192h1M109 193h1M118 193h1M109 194h1M118 194h1M109 195h1M109 196h1M109 197h1M118 197h1M117 198h1M116 199h2M110 200h1M116 200h1M111 201h1M114 201h2M113 202h1"/><path stroke="#fded75" d="M111 191h1M114 191h1M110 192h1M116 192h1M117 193h1M118 195h1M118 196h1M117 197h1M110 198h1M116 198h1M110 199h1M115 199h1M111 200h1M114 200h2M112 201h2"/><path stroke="#fdeb74" d="M112 191h2M111 192h1M115 192h1M110 193h1M116 193h1M110 194h1M117 194h1M117 195h1M110 196h1M117 196h1M110 197h1M116 197h1M111 199h1M114 199h1M112 200h2"/><path stroke="#fee972" d="M112 192h3M111 193h1M115 193h1M116 194h1M110 195h1M116 195h1M116 196h1M111 198h1M115 198h1M112 199h2"/><path stroke="#fee771" d="M114 193h1M111 194h1M115 194h1M111 197h1M115 197h1M112 198h3"/><path stroke="#fee570" d="M112 193h2M111 195h1M115 195h1M111 196h1M115 196h1M112 197h3"/><path stroke="#fee36e" d="M112 194h3M112 195h1M114 195h1M112 196h3"/><path stroke="#fee16d" d="M113 195h1"/></g>
<circle cx="3450.5" cy="1021" r="34" fill="url(#sp0)"/>
<circle cx="3592.5" cy="1523" r="30" fill="url(#sp1)"/>
<circle cx="3451.0" cy="1299.5" r="22" fill="url(#sp2)"/>
</g>
<path d="M2918.0 166.4V2511.5M3356.8 166.4V2511.5M3795.5 166.4V2511.5M4234.2 166.4V2511.5M4673.0 166.4V2511.5M2832.5 221.2H5015.5M2832.5 660.0H5015.5M2832.5 1098.7H5015.5M2832.5 1537.5H5015.5M2832.5 1976.2H5015.5M2832.5 2414.9H5015.5" stroke="#6e6e6e" stroke-opacity="0.48" stroke-width="1.6" stroke-dasharray="6 3.2" fill="none"/>
<rect x="2834.0" y="167.9" width="38" height="2" fill="#f24a4a"/>
<rect x="3652" y="2507.0" width="1363.5" height="3" fill="#f04848"/>
<rect x="2834.0" y="1590" width="2" height="921.5" fill="#f04848"/>
<g fill="none" stroke="#000" stroke-width="4.5" stroke-linejoin="round" stroke-linecap="round"><use href="#po" x="2625"/><use href="#pi" x="2625"/></g>
<path d="M2918.0 2511.5v-15M3356.8 2511.5v-15M3795.5 2511.5v-15M4234.2 2511.5v-15M4673.0 2511.5v-15" stroke="#3a3a3a" stroke-width="1.8" fill="none"/>
<path d="M2832.5 221.2h14.5M2832.5 660.0h14.5M2832.5 1098.7h14.5M2832.5 1537.5h14.5M2832.5 1976.2h14.5M2832.5 2414.9h14.5" stroke="#4a4a4a" stroke-width="3" fill="none"/>
<rect x="2832.5" y="166.4" width="2183.0" height="2345.1" fill="none" stroke="#4a4a4a" stroke-width="3"/>
<text x="2918.7" y="2565" font-size="50" text-anchor="middle" textLength="195" lengthAdjust="spacingAndGlyphs">75.70° W</text>
<text x="3357.4" y="2565" font-size="50" text-anchor="middle" textLength="195" lengthAdjust="spacingAndGlyphs">75.60° W</text>
<text x="3796.2" y="2565" font-size="50" text-anchor="middle" textLength="195" lengthAdjust="spacingAndGlyphs">75.50° W</text>
<text x="4234.9" y="2565" font-size="50" text-anchor="middle" textLength="195" lengthAdjust="spacingAndGlyphs">75.40° W</text>
<text x="4673.7" y="2565" font-size="50" text-anchor="middle" textLength="195" lengthAdjust="spacingAndGlyphs">75.30° W</text>
<text x="2814.0" y="240.7" font-size="50" text-anchor="end" textLength="159" lengthAdjust="spacingAndGlyphs">6.50° N</text>
<text x="2814.0" y="679.5" font-size="50" text-anchor="end" textLength="159" lengthAdjust="spacingAndGlyphs">6.40° N</text>
<text x="2814.0" y="1118.2" font-size="50" text-anchor="end" textLength="159" lengthAdjust="spacingAndGlyphs">6.30° N</text>
<text x="2814.0" y="1557.0" font-size="50" text-anchor="end" textLength="159" lengthAdjust="spacingAndGlyphs">6.20° N</text>
<text x="2814.0" y="1995.7" font-size="50" text-anchor="end" textLength="159" lengthAdjust="spacingAndGlyphs">6.10° N</text>
<text x="2814.0" y="2434.4" font-size="50" text-anchor="end" textLength="159" lengthAdjust="spacingAndGlyphs">6.00° N</text>
<text x="1299.0" y="76.5" font-size="60" text-anchor="middle" textLength="1482" lengthAdjust="spacingAndGlyphs">Acumulado de precipitación para los 3 días antecedentes</text>
<text x="1299.0" y="143" font-size="60" text-anchor="middle" textLength="534" lengthAdjust="spacingAndGlyphs">20251015 - 20251018</text>
<text x="3924.0" y="76.5" font-size="60" text-anchor="middle" textLength="1724" lengthAdjust="spacingAndGlyphs">Acumulado de precipitación para los 90 días antecedentes a 3 días</text>
<text x="3924.0" y="143" font-size="60" text-anchor="middle" textLength="534" lengthAdjust="spacingAndGlyphs">20250717 - 20251015</text>
<rect x="306.8" y="2615.5" width="1983.5" height="70.0" fill="url(#gl)"/>
<path d="M306.8 2615.5L205.5 2650.5L306.8 2685.5Z" fill="#ffffff"/>
<path d="M2290.3 2615.5L2392.0 2650.5L2290.3 2685.5Z" fill="#fdd5ff"/>
<path d="M306.8 2615.5L205.5 2650.5L306.8 2685.5H2290.3L2392.0 2650.5L2290.3 2615.5Z" fill="none" stroke="#4a4a4a" stroke-width="3" stroke-linejoin="miter"/>
<path d="M306.8 2685.5v-15M326.6 2685.5v-15M406.0 2685.5v-15M505.2 2685.5v-15M604.3 2685.5v-15M703.5 2685.5v-15M802.7 2685.5v-15M901.9 2685.5v-15M1001.0 2685.5v-15M1100.2 2685.5v-15M1298.5 2685.5v-15M1496.9 2685.5v-15M1893.6 2685.5v-15M2290.3 2685.5v-15" stroke="#4a4a4a" stroke-width="2" fill="none"/>
<text x="306.8" y="2745.5" font-size="57" text-anchor="middle" textLength="26.8" lengthAdjust="spacingAndGlyphs">0</text>
<text x="326.6" y="2745.5" font-size="57" text-anchor="middle" textLength="26.8" lengthAdjust="spacingAndGlyphs">1</text>
<text x="406.0" y="2745.5" font-size="57" text-anchor="middle" textLength="26.8" lengthAdjust="spacingAndGlyphs">5</text>
<text x="505.2" y="2745.5" font-size="57" text-anchor="middle" textLength="55.1" lengthAdjust="spacingAndGlyphs">10</text>
<text x="604.3" y="2745.5" font-size="57" text-anchor="middle" textLength="55.1" lengthAdjust="spacingAndGlyphs">15</text>
<text x="703.5" y="2745.5" font-size="57" text-anchor="middle" textLength="55.1" lengthAdjust="spacingAndGlyphs">20</text>
<text x="802.7" y="2745.5" font-size="57" text-anchor="middle" textLength="55.1" lengthAdjust="spacingAndGlyphs">25</text>
<text x="901.9" y="2745.5" font-size="57" text-anchor="middle" textLength="55.1" lengthAdjust="spacingAndGlyphs">30</text>
<text x="1001.0" y="2745.5" font-size="57" text-anchor="middle" textLength="55.1" lengthAdjust="spacingAndGlyphs">35</text>
<text x="1100.2" y="2745.5" font-size="57" text-anchor="middle" textLength="55.1" lengthAdjust="spacingAndGlyphs">40</text>
<text x="1298.5" y="2745.5" font-size="57" text-anchor="middle" textLength="55.1" lengthAdjust="spacingAndGlyphs">50</text>
<text x="1496.9" y="2745.5" font-size="57" text-anchor="middle" textLength="55.1" lengthAdjust="spacingAndGlyphs">60</text>
<text x="1893.6" y="2745.5" font-size="57" text-anchor="middle" textLength="55.1" lengthAdjust="spacingAndGlyphs">80</text>
<text x="2290.3" y="2745.5" font-size="57" text-anchor="middle" textLength="83.4" lengthAdjust="spacingAndGlyphs">100</text>
<text x="1299.0" y="2830.5" font-size="71" text-anchor="middle" textLength="960" lengthAdjust="spacingAndGlyphs">Acumulado Precipitación [mm]</text>
<rect x="2931.8" y="2615.5" width="1983.5" height="70.0" fill="url(#gr)"/>
<path d="M2931.8 2615.5L2830.5 2650.5L2931.8 2685.5Z" fill="#ffffff"/>
<path d="M4915.3 2615.5L5017.0 2650.5L4915.3 2685.5Z" fill="#ff4848"/>
<path d="M2931.8 2615.5L2830.5 2650.5L2931.8 2685.5H4915.3L5017.0 2650.5L4915.3 2615.5Z" fill="none" stroke="#4a4a4a" stroke-width="3" stroke-linejoin="miter"/>
<path d="M2931.8 2685.5v-15M3130.2 2685.5v-15M3328.5 2685.5v-15M3526.9 2685.5v-15M3725.2 2685.5v-15M3923.6 2685.5v-15M4121.9 2685.5v-15M4320.2 2685.5v-15M4518.6 2685.5v-15M4717.0 2685.5v-15M4915.3 2685.5v-15" stroke="#4a4a4a" stroke-width="2" fill="none"/>
<text x="2931.8" y="2745.5" font-size="57" text-anchor="middle" textLength="26.8" lengthAdjust="spacingAndGlyphs">0</text>
<text x="3130.2" y="2745.5" font-size="57" text-anchor="middle" textLength="83.4" lengthAdjust="spacingAndGlyphs">100</text>
<text x="3328.5" y="2745.5" font-size="57" text-anchor="middle" textLength="83.4" lengthAdjust="spacingAndGlyphs">200</text>
<text x="3526.9" y="2745.5" font-size="57" text-anchor="middle" textLength="83.4" lengthAdjust="spacingAndGlyphs">300</text>
<text x="3725.2" y="2745.5" font-size="57" text-anchor="middle" textLength="83.4" lengthAdjust="spacingAndGlyphs">400</text>
<text x="3923.6" y="2745.5" font-size="57" text-anchor="middle" textLength="83.4" lengthAdjust="spacingAndGlyphs">500</text>
<text x="4121.9" y="2745.5" font-size="57" text-anchor="middle" textLength="83.4" lengthAdjust="spacingAndGlyphs">600</text>
<text x="4320.2" y="2745.5" font-size="57" text-anchor="middle" textLength="83.4" lengthAdjust="spacingAndGlyphs">700</text>
<text x="4518.6" y="2745.5" font-size="57" text-anchor="middle" textLength="83.4" lengthAdjust="spacingAndGlyphs">800</text>
<text x="4717.0" y="2745.5" font-size="57" text-anchor="middle" textLength="83.4" lengthAdjust="spacingAndGlyphs">900</text>
<text x="4915.3" y="2745.5" font-size="57" text-anchor="middle" textLength="111.7" lengthAdjust="spacingAndGlyphs">1000</text>
<text x="3924.0" y="2830.5" font-size="71" text-anchor="middle" textLength="960" lengthAdjust="spacingAndGlyphs">Acumulado Precipitación [mm]</text>
</svg></body></html>
